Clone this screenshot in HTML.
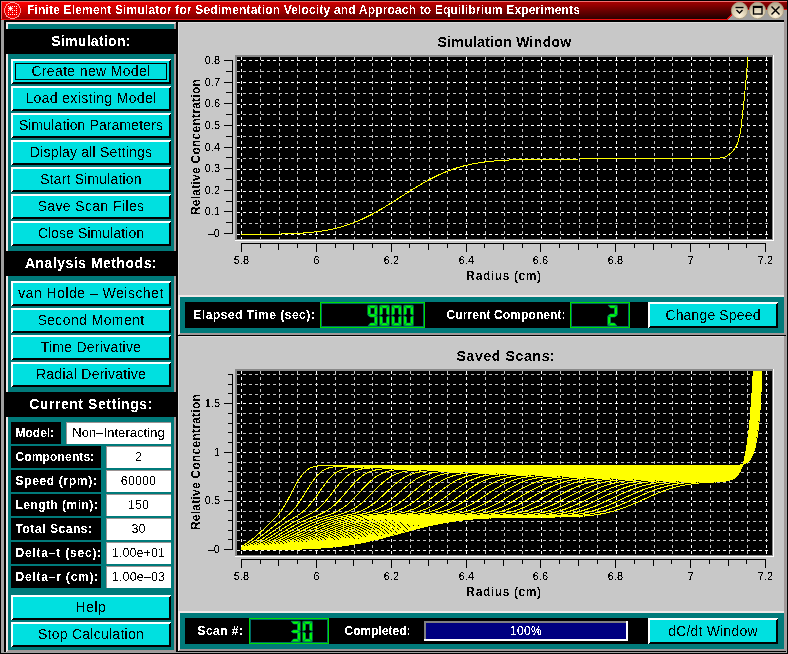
<!DOCTYPE html>
<html><head><meta charset="utf-8"><title>Finite Element Simulator</title>
<style>
html,body{margin:0;padding:0;width:788px;height:654px;overflow:hidden;background:#000;}
body{position:relative;font-family:"Liberation Sans",sans-serif;}
svg text{font-family:"Liberation Sans",sans-serif;}
</style></head><body>
<svg width="788" height="654" viewBox="0 0 788 654" shape-rendering="crispEdges" style="position:absolute;left:0;top:0;display:block"><rect x="0" y="0" width="788" height="654" fill="#000"/>
<rect x="1" y="20" width="3" height="633" fill="#a0a0a0"/>
<rect x="1" y="652" width="786" height="1" fill="#a0a0a0"/>
<rect x="786" y="20" width="1" height="633" fill="#a0a0a0"/>
<defs>
<linearGradient id="tv" x1="0" y1="0" x2="0" y2="1">
<stop offset="0" stop-color="#e80000"/><stop offset="1" stop-color="#a00000"/></linearGradient>
<linearGradient id="th" x1="0" y1="0" x2="1" y2="0">
<stop offset="0" stop-color="#000" stop-opacity="0"/><stop offset="1" stop-color="#000" stop-opacity="0.72"/></linearGradient>
<radialGradient id="btn" cx="0.5" cy="0.8" r="0.7">
<stop offset="0" stop-color="#fff4dc"/><stop offset="0.55" stop-color="#dcd0b4"/><stop offset="1" stop-color="#b8ac90"/></radialGradient>
</defs>
<linearGradient id="tg2" x1="0" y1="0" x2="1" y2="0"><stop offset="0" stop-color="rgb(255,0,0)"/><stop offset="1" stop-color="rgb(140,0,0)"/></linearGradient>
<rect x="1" y="2" width="786" height="1" fill="url(#tg2)"/>
<linearGradient id="tg3" x1="0" y1="0" x2="1" y2="0"><stop offset="0" stop-color="rgb(249,0,0)"/><stop offset="1" stop-color="rgb(132,0,0)"/></linearGradient>
<rect x="1" y="3" width="786" height="1" fill="url(#tg3)"/>
<linearGradient id="tg4" x1="0" y1="0" x2="1" y2="0"><stop offset="0" stop-color="rgb(243,0,0)"/><stop offset="1" stop-color="rgb(125,0,0)"/></linearGradient>
<rect x="1" y="4" width="786" height="1" fill="url(#tg4)"/>
<linearGradient id="tg5" x1="0" y1="0" x2="1" y2="0"><stop offset="0" stop-color="rgb(237,0,0)"/><stop offset="1" stop-color="rgb(118,0,0)"/></linearGradient>
<rect x="1" y="5" width="786" height="1" fill="url(#tg5)"/>
<linearGradient id="tg6" x1="0" y1="0" x2="1" y2="0"><stop offset="0" stop-color="rgb(231,0,0)"/><stop offset="1" stop-color="rgb(110,0,0)"/></linearGradient>
<rect x="1" y="6" width="786" height="1" fill="url(#tg6)"/>
<linearGradient id="tg7" x1="0" y1="0" x2="1" y2="0"><stop offset="0" stop-color="rgb(225,0,0)"/><stop offset="1" stop-color="rgb(102,0,0)"/></linearGradient>
<rect x="1" y="7" width="786" height="1" fill="url(#tg7)"/>
<linearGradient id="tg8" x1="0" y1="0" x2="1" y2="0"><stop offset="0" stop-color="rgb(219,0,0)"/><stop offset="1" stop-color="rgb(95,0,0)"/></linearGradient>
<rect x="1" y="8" width="786" height="1" fill="url(#tg8)"/>
<linearGradient id="tg9" x1="0" y1="0" x2="1" y2="0"><stop offset="0" stop-color="rgb(213,0,0)"/><stop offset="1" stop-color="rgb(88,0,0)"/></linearGradient>
<rect x="1" y="9" width="786" height="1" fill="url(#tg9)"/>
<linearGradient id="tg10" x1="0" y1="0" x2="1" y2="0"><stop offset="0" stop-color="rgb(208,0,0)"/><stop offset="1" stop-color="rgb(80,0,0)"/></linearGradient>
<rect x="1" y="10" width="786" height="1" fill="url(#tg10)"/>
<linearGradient id="tg11" x1="0" y1="0" x2="1" y2="0"><stop offset="0" stop-color="rgb(202,0,0)"/><stop offset="1" stop-color="rgb(72,0,0)"/></linearGradient>
<rect x="1" y="11" width="786" height="1" fill="url(#tg11)"/>
<linearGradient id="tg12" x1="0" y1="0" x2="1" y2="0"><stop offset="0" stop-color="rgb(196,0,0)"/><stop offset="1" stop-color="rgb(65,0,0)"/></linearGradient>
<rect x="1" y="12" width="786" height="1" fill="url(#tg12)"/>
<linearGradient id="tg13" x1="0" y1="0" x2="1" y2="0"><stop offset="0" stop-color="rgb(190,0,0)"/><stop offset="1" stop-color="rgb(58,0,0)"/></linearGradient>
<rect x="1" y="13" width="786" height="1" fill="url(#tg13)"/>
<linearGradient id="tg14" x1="0" y1="0" x2="1" y2="0"><stop offset="0" stop-color="rgb(184,0,0)"/><stop offset="1" stop-color="rgb(50,0,0)"/></linearGradient>
<rect x="1" y="14" width="786" height="1" fill="url(#tg14)"/>
<linearGradient id="tg15" x1="0" y1="0" x2="1" y2="0"><stop offset="0" stop-color="rgb(178,0,0)"/><stop offset="1" stop-color="rgb(42,0,0)"/></linearGradient>
<rect x="1" y="15" width="786" height="1" fill="url(#tg15)"/>
<linearGradient id="tg16" x1="0" y1="0" x2="1" y2="0"><stop offset="0" stop-color="rgb(172,0,0)"/><stop offset="1" stop-color="rgb(35,0,0)"/></linearGradient>
<rect x="1" y="16" width="786" height="1" fill="url(#tg16)"/>
<linearGradient id="tg17" x1="0" y1="0" x2="1" y2="0"><stop offset="0" stop-color="rgb(166,0,0)"/><stop offset="1" stop-color="rgb(28,0,0)"/></linearGradient>
<rect x="1" y="17" width="786" height="1" fill="url(#tg17)"/>
<linearGradient id="tg18" x1="0" y1="0" x2="1" y2="0"><stop offset="0" stop-color="rgb(160,0,0)"/><stop offset="1" stop-color="rgb(20,0,0)"/></linearGradient>
<rect x="1" y="18" width="786" height="1" fill="url(#tg18)"/>
<rect x="1" y="1" width="786" height="1" fill="#f07070"/>
<rect x="1" y="1" width="1" height="19" fill="#f07070"/>
<polygon points="727,20 737,10 787,10 787,20" fill="#a0a0a0"/>
<rect x="1" y="19" width="726" height="1" fill="#f01010"/>
<line x1="727" y1="19.5" x2="737" y2="9.5" stroke="#e01010" stroke-width="1"/>
<rect x="737" y="9" width="50" height="1" fill="#e01010"/>
<rect x="4" y="20" width="780" height="2" fill="#000"/>
<rect x="784" y="20" width="2" height="2" fill="#a09898"/>
<circle cx="12.5" cy="10.5" r="8" fill="#f00000" stroke="#ff9a9a" stroke-width="1.1"/>
<rect x="12" y="14" width="1" height="1" fill="#fff"/>
<rect x="16" y="6" width="1" height="1" fill="#fff"/>
<rect x="8" y="14" width="1" height="1" fill="#fff"/>
<rect x="14" y="14" width="1" height="1" fill="#fff"/>
<rect x="16" y="12" width="1" height="1" fill="#fff"/>
<rect x="8" y="10" width="1" height="1" fill="#fff"/>
<rect x="12" y="10" width="1" height="1" fill="#fff"/>
<rect x="14" y="10" width="1" height="1" fill="#fff"/>
<rect x="16" y="8" width="1" height="1" fill="#fff"/>
<rect x="16" y="14" width="1" height="1" fill="#fff"/>
<rect x="8" y="6" width="1" height="1" fill="#fff"/>
<rect x="8" y="12" width="1" height="1" fill="#fff"/>
<rect x="12" y="6" width="1" height="1" fill="#fff"/>
<rect x="16" y="10" width="1" height="1" fill="#fff"/>
<rect x="14" y="6" width="1" height="1" fill="#fff"/>
<rect x="12" y="12" width="1" height="1" fill="#fff"/>
<rect x="10" y="14" width="1" height="1" fill="#fff"/>
<polygon points="10.5,5.8 11.6,7.4 13.2,8.5 11.6,9.6 10.5,11.2 9.4,9.6 7.8,8.5 9.4,7.4" fill="#fff" shape-rendering="auto"/>
<circle cx="739.5" cy="10.5" r="8.2" fill="url(#btn)" stroke="#a89c80" stroke-width="0.8" shape-rendering="auto"/>
<circle cx="757.5" cy="10.5" r="8.2" fill="url(#btn)" stroke="#a89c80" stroke-width="0.8" shape-rendering="auto"/>
<circle cx="775.5" cy="10.5" r="8.2" fill="url(#btn)" stroke="#a89c80" stroke-width="0.8" shape-rendering="auto"/>
<g stroke="#000" stroke-width="1.35" fill="none" shape-rendering="auto"><line x1="735.5" y1="7.5" x2="743.5" y2="7.5"/><polyline points="736.5,10 739.5,13 742.5,10"/><rect x="753.5" y="6.5" width="8.5" height="7.5"/><line x1="753.5" y1="7" x2="762" y2="7" stroke-width="2"/><line x1="771.5" y1="6.5" x2="779.5" y2="14.5"/><line x1="779.5" y1="6.5" x2="771.5" y2="14.5"/></g>
<rect x="6" y="22" width="170" height="630" fill="#a09898"/>
<polygon points="6,22 176,22 174,24 8,24 8,650 6,652" fill="#f0e8e8"/>
<rect x="8" y="24" width="166" height="626" fill="#007a7a"/>
<rect x="4" y="29" width="174" height="25" fill="#000"/>
<rect x="11" y="59" width="160" height="25" fill="#000"/>
<polygon points="11,59 171,59 169,61 13,61 13,82 11,84" fill="#fff"/>
<rect x="13" y="61" width="156" height="21" fill="#00e0e0"/>
<rect x="11" y="86" width="160" height="25" fill="#000"/>
<polygon points="11,86 171,86 169,88 13,88 13,109 11,111" fill="#fff"/>
<rect x="13" y="88" width="156" height="21" fill="#00e0e0"/>
<rect x="11" y="113" width="160" height="25" fill="#000"/>
<polygon points="11,113 171,113 169,115 13,115 13,136 11,138" fill="#fff"/>
<rect x="13" y="115" width="156" height="21" fill="#00e0e0"/>
<rect x="11" y="140" width="160" height="25" fill="#000"/>
<polygon points="11,140 171,140 169,142 13,142 13,163 11,165" fill="#fff"/>
<rect x="13" y="142" width="156" height="21" fill="#00e0e0"/>
<rect x="11" y="167" width="160" height="25" fill="#000"/>
<polygon points="11,167 171,167 169,169 13,169 13,190 11,192" fill="#fff"/>
<rect x="13" y="169" width="156" height="21" fill="#00e0e0"/>
<rect x="11" y="194" width="160" height="25" fill="#000"/>
<polygon points="11,194 171,194 169,196 13,196 13,217 11,219" fill="#fff"/>
<rect x="13" y="196" width="156" height="21" fill="#00e0e0"/>
<rect x="11" y="221" width="160" height="25" fill="#000"/>
<polygon points="11,221 171,221 169,223 13,223 13,244 11,246" fill="#fff"/>
<rect x="13" y="223" width="156" height="21" fill="#00e0e0"/>
<rect x="15.5" y="63.5" width="151" height="16" fill="none" stroke="#000" stroke-width="1"/>
<rect x="4" y="251" width="174" height="25" fill="#000"/>
<rect x="11" y="281" width="160" height="25" fill="#000"/>
<polygon points="11,281 171,281 169,283 13,283 13,304 11,306" fill="#fff"/>
<rect x="13" y="283" width="156" height="21" fill="#00e0e0"/>
<rect x="11" y="308" width="160" height="25" fill="#000"/>
<polygon points="11,308 171,308 169,310 13,310 13,331 11,333" fill="#fff"/>
<rect x="13" y="310" width="156" height="21" fill="#00e0e0"/>
<rect x="11" y="335" width="160" height="25" fill="#000"/>
<polygon points="11,335 171,335 169,337 13,337 13,358 11,360" fill="#fff"/>
<rect x="13" y="337" width="156" height="21" fill="#00e0e0"/>
<rect x="11" y="362" width="160" height="25" fill="#000"/>
<polygon points="11,362 171,362 169,364 13,364 13,385 11,387" fill="#fff"/>
<rect x="13" y="364" width="156" height="21" fill="#00e0e0"/>
<rect x="4" y="392" width="174" height="25" fill="#000"/>
<rect x="11" y="422" width="50" height="22" fill="#000"/>
<rect x="66" y="422" width="105" height="22" fill="#9c9494"/>
<rect x="67" y="423" width="104" height="21" fill="#fff"/>
<rect x="11" y="446" width="90" height="22" fill="#000"/>
<rect x="106" y="446" width="65" height="22" fill="#9c9494"/>
<rect x="107" y="447" width="64" height="21" fill="#fff"/>
<rect x="11" y="470" width="90" height="22" fill="#000"/>
<rect x="106" y="470" width="65" height="22" fill="#9c9494"/>
<rect x="107" y="471" width="64" height="21" fill="#fff"/>
<rect x="11" y="494" width="90" height="22" fill="#000"/>
<rect x="106" y="494" width="65" height="22" fill="#9c9494"/>
<rect x="107" y="495" width="64" height="21" fill="#fff"/>
<rect x="11" y="518" width="90" height="22" fill="#000"/>
<rect x="106" y="518" width="65" height="22" fill="#9c9494"/>
<rect x="107" y="519" width="64" height="21" fill="#fff"/>
<rect x="11" y="542" width="90" height="22" fill="#000"/>
<rect x="106" y="542" width="65" height="22" fill="#9c9494"/>
<rect x="107" y="543" width="64" height="21" fill="#fff"/>
<rect x="11" y="566" width="90" height="22" fill="#000"/>
<rect x="106" y="566" width="65" height="22" fill="#9c9494"/>
<rect x="107" y="567" width="64" height="21" fill="#fff"/>
<rect x="11" y="595" width="160" height="25" fill="#000"/>
<polygon points="11,595 171,595 169,597 13,597 13,618 11,620" fill="#fff"/>
<rect x="13" y="597" width="156" height="21" fill="#00e0e0"/>
<rect x="11" y="622" width="160" height="25" fill="#000"/>
<polygon points="11,622 171,622 169,624 13,624 13,645 11,647" fill="#fff"/>
<rect x="13" y="624" width="156" height="21" fill="#00e0e0"/>
<rect x="178" y="22" width="608" height="273" fill="#a09898"/>
<rect x="178" y="22" width="606" height="273" fill="#dcdcdc"/>
<rect x="179" y="23" width="605" height="272" fill="#c8c8c8"/>
<rect x="178" y="336" width="608" height="275" fill="#a09898"/>
<rect x="178" y="336" width="606" height="275" fill="#dcdcdc"/>
<rect x="179" y="337" width="605" height="274" fill="#c8c8c8"/>
<rect x="178" y="295" width="608" height="40" fill="#a09898"/>
<polygon points="178,295 786,295 784,297 180,297 180,333 178,335" fill="#f0e8e8"/>
<rect x="180" y="297" width="604" height="36" fill="#007a7a"/>
<rect x="185" y="302" width="463" height="26" fill="#000"/>
<rect x="784" y="295" width="2" height="40" fill="#a09898"/>
<rect x="786" y="295" width="1" height="40" fill="#a0a0a0"/>
<rect x="178" y="611" width="608" height="40" fill="#a09898"/>
<polygon points="178,611 786,611 784,613 180,613 180,649 178,651" fill="#f0e8e8"/>
<rect x="180" y="613" width="604" height="36" fill="#007a7a"/>
<rect x="185" y="618" width="463" height="26" fill="#000"/>
<rect x="784" y="611" width="2" height="40" fill="#a09898"/>
<rect x="786" y="611" width="1" height="40" fill="#a0a0a0"/>
<rect x="178" y="335" width="608" height="1" fill="#000"/>
<rect x="178" y="651" width="608" height="1" fill="#000"/>
<rect x="320.5" y="302.5" width="104" height="25" fill="#000" stroke="#00e000" stroke-width="1"/>
<rect x="321.5" y="303.5" width="102" height="23" fill="none" stroke="#006868" stroke-width="1"/>
<g fill="#00ff00" stroke="#008080" stroke-width="0.6" shape-rendering="auto"><polygon points="368.10,305.25 376.90,305.25 374.50,308.00 370.50,308.00"/><polygon points="377.25,305.60 374.50,308.00 374.50,314.00 377.25,315.10"/><polygon points="377.25,325.40 374.50,323.00 374.50,317.00 377.25,315.90"/><polygon points="368.10,325.75 376.90,325.75 374.50,323.00 370.50,323.00"/><polygon points="367.75,305.60 370.50,308.00 370.50,314.00 367.75,315.10"/><polygon points="368.00,315.50 370.50,314.00 374.50,314.00 377.00,315.50 374.50,317.00 370.50,317.00"/><polygon points="380.10,305.25 388.90,305.25 386.50,308.00 382.50,308.00"/><polygon points="389.25,305.60 386.50,308.00 386.50,314.00 389.25,315.10"/><polygon points="389.25,325.40 386.50,323.00 386.50,317.00 389.25,315.90"/><polygon points="380.10,325.75 388.90,325.75 386.50,323.00 382.50,323.00"/><polygon points="379.75,325.40 382.50,323.00 382.50,317.00 379.75,315.90"/><polygon points="379.75,305.60 382.50,308.00 382.50,314.00 379.75,315.10"/><polygon points="392.10,305.25 400.90,305.25 398.50,308.00 394.50,308.00"/><polygon points="401.25,305.60 398.50,308.00 398.50,314.00 401.25,315.10"/><polygon points="401.25,325.40 398.50,323.00 398.50,317.00 401.25,315.90"/><polygon points="392.10,325.75 400.90,325.75 398.50,323.00 394.50,323.00"/><polygon points="391.75,325.40 394.50,323.00 394.50,317.00 391.75,315.90"/><polygon points="391.75,305.60 394.50,308.00 394.50,314.00 391.75,315.10"/><polygon points="404.10,305.25 412.90,305.25 410.50,308.00 406.50,308.00"/><polygon points="413.25,305.60 410.50,308.00 410.50,314.00 413.25,315.10"/><polygon points="413.25,325.40 410.50,323.00 410.50,317.00 413.25,315.90"/><polygon points="404.10,325.75 412.90,325.75 410.50,323.00 406.50,323.00"/><polygon points="403.75,325.40 406.50,323.00 406.50,317.00 403.75,315.90"/><polygon points="403.75,305.60 406.50,308.00 406.50,314.00 403.75,315.10"/></g>
<rect x="570.5" y="302.5" width="59" height="25" fill="#000" stroke="#00e000" stroke-width="1"/>
<rect x="571.5" y="303.5" width="57" height="23" fill="none" stroke="#006868" stroke-width="1"/>
<g fill="#00ff00" stroke="#008080" stroke-width="0.6" shape-rendering="auto"><polygon points="608.10,305.25 616.90,305.25 614.50,308.00 610.50,308.00"/><polygon points="617.25,305.60 614.50,308.00 614.50,314.00 617.25,315.10"/><polygon points="608.00,315.50 610.50,314.00 614.50,314.00 617.00,315.50 614.50,317.00 610.50,317.00"/><polygon points="607.75,325.40 610.50,323.00 610.50,317.00 607.75,315.90"/><polygon points="608.10,325.75 616.90,325.75 614.50,323.00 610.50,323.00"/></g>
<rect x="648" y="302" width="130" height="26" fill="#000"/>
<polygon points="648,302 778,302 776,304 650,304 650,326 648,328" fill="#fff"/>
<rect x="650" y="304" width="126" height="22" fill="#00e0e0"/>
<rect x="249.5" y="618.5" width="79" height="25" fill="#000" stroke="#00e000" stroke-width="1"/>
<rect x="250.5" y="619.5" width="77" height="23" fill="none" stroke="#006868" stroke-width="1"/>
<g fill="#00ff00" stroke="#008080" stroke-width="0.6" shape-rendering="auto"><polygon points="291.10,621.25 299.90,621.25 297.50,624.00 293.50,624.00"/><polygon points="300.25,621.60 297.50,624.00 297.50,630.00 300.25,631.10"/><polygon points="291.00,631.50 293.50,630.00 297.50,630.00 300.00,631.50 297.50,633.00 293.50,633.00"/><polygon points="300.25,641.40 297.50,639.00 297.50,633.00 300.25,631.90"/><polygon points="291.10,641.75 299.90,641.75 297.50,639.00 293.50,639.00"/><polygon points="303.10,621.25 311.90,621.25 309.50,624.00 305.50,624.00"/><polygon points="312.25,621.60 309.50,624.00 309.50,630.00 312.25,631.10"/><polygon points="312.25,641.40 309.50,639.00 309.50,633.00 312.25,631.90"/><polygon points="303.10,641.75 311.90,641.75 309.50,639.00 305.50,639.00"/><polygon points="302.75,641.40 305.50,639.00 305.50,633.00 302.75,631.90"/><polygon points="302.75,621.60 305.50,624.00 305.50,630.00 302.75,631.10"/></g>
<rect x="424" y="621" width="204" height="20" fill="#fff"/>
<rect x="424" y="621" width="202" height="18" fill="#808080"/>
<rect x="426" y="623" width="200" height="16" fill="#000080"/>
<rect x="648" y="618" width="130" height="26" fill="#000"/>
<polygon points="648,618 778,618 776,620 650,620 650,642 648,644" fill="#fff"/>
<rect x="650" y="620" width="126" height="22" fill="#00e0e0"/>
<rect x="235" y="55" width="539" height="186" fill="#fff"/>
<rect x="235" y="55" width="538" height="185" fill="#888"/>
<rect x="237" y="57" width="535" height="182" fill="#000"/>
<g shape-rendering="crispEdges"><line x1="241.5" y1="57" x2="241.5" y2="239" stroke="#fff" stroke-dasharray="3 3"/><line x1="260.5" y1="57" x2="260.5" y2="239" stroke="#c0c0c0" stroke-dasharray="3 3"/><line x1="279.5" y1="57" x2="279.5" y2="239" stroke="#c0c0c0" stroke-dasharray="3 3"/><line x1="297.5" y1="57" x2="297.5" y2="239" stroke="#c0c0c0" stroke-dasharray="3 3"/><line x1="316.5" y1="57" x2="316.5" y2="239" stroke="#fff" stroke-dasharray="3 3"/><line x1="335.5" y1="57" x2="335.5" y2="239" stroke="#c0c0c0" stroke-dasharray="3 3"/><line x1="354.5" y1="57" x2="354.5" y2="239" stroke="#c0c0c0" stroke-dasharray="3 3"/><line x1="372.5" y1="57" x2="372.5" y2="239" stroke="#c0c0c0" stroke-dasharray="3 3"/><line x1="391.5" y1="57" x2="391.5" y2="239" stroke="#fff" stroke-dasharray="3 3"/><line x1="410.5" y1="57" x2="410.5" y2="239" stroke="#c0c0c0" stroke-dasharray="3 3"/><line x1="429.5" y1="57" x2="429.5" y2="239" stroke="#c0c0c0" stroke-dasharray="3 3"/><line x1="447.5" y1="57" x2="447.5" y2="239" stroke="#c0c0c0" stroke-dasharray="3 3"/><line x1="466.5" y1="57" x2="466.5" y2="239" stroke="#fff" stroke-dasharray="3 3"/><line x1="485.5" y1="57" x2="485.5" y2="239" stroke="#c0c0c0" stroke-dasharray="3 3"/><line x1="504.5" y1="57" x2="504.5" y2="239" stroke="#c0c0c0" stroke-dasharray="3 3"/><line x1="522.5" y1="57" x2="522.5" y2="239" stroke="#c0c0c0" stroke-dasharray="3 3"/><line x1="541.5" y1="57" x2="541.5" y2="239" stroke="#fff" stroke-dasharray="3 3"/><line x1="560.5" y1="57" x2="560.5" y2="239" stroke="#c0c0c0" stroke-dasharray="3 3"/><line x1="579.5" y1="57" x2="579.5" y2="239" stroke="#c0c0c0" stroke-dasharray="3 3"/><line x1="597.5" y1="57" x2="597.5" y2="239" stroke="#c0c0c0" stroke-dasharray="3 3"/><line x1="616.5" y1="57" x2="616.5" y2="239" stroke="#fff" stroke-dasharray="3 3"/><line x1="635.5" y1="57" x2="635.5" y2="239" stroke="#c0c0c0" stroke-dasharray="3 3"/><line x1="654.5" y1="57" x2="654.5" y2="239" stroke="#c0c0c0" stroke-dasharray="3 3"/><line x1="672.5" y1="57" x2="672.5" y2="239" stroke="#c0c0c0" stroke-dasharray="3 3"/><line x1="691.5" y1="57" x2="691.5" y2="239" stroke="#fff" stroke-dasharray="3 3"/><line x1="710.5" y1="57" x2="710.5" y2="239" stroke="#c0c0c0" stroke-dasharray="3 3"/><line x1="729.5" y1="57" x2="729.5" y2="239" stroke="#c0c0c0" stroke-dasharray="3 3"/><line x1="747.5" y1="57" x2="747.5" y2="239" stroke="#c0c0c0" stroke-dasharray="3 3"/><line x1="766.5" y1="57" x2="766.5" y2="239" stroke="#fff" stroke-dasharray="3 3"/><line x1="237" y1="60.5" x2="770" y2="60.5" stroke="#fff" stroke-dasharray="3 3"/><line x1="237" y1="71.5" x2="770" y2="71.5" stroke="#c0c0c0" stroke-dasharray="3 3"/><line x1="237" y1="82.5" x2="770" y2="82.5" stroke="#fff" stroke-dasharray="3 3"/><line x1="237" y1="93.5" x2="770" y2="93.5" stroke="#c0c0c0" stroke-dasharray="3 3"/><line x1="237" y1="104.5" x2="770" y2="104.5" stroke="#fff" stroke-dasharray="3 3"/><line x1="237" y1="114.5" x2="770" y2="114.5" stroke="#c0c0c0" stroke-dasharray="3 3"/><line x1="237" y1="125.5" x2="770" y2="125.5" stroke="#fff" stroke-dasharray="3 3"/><line x1="237" y1="136.5" x2="770" y2="136.5" stroke="#c0c0c0" stroke-dasharray="3 3"/><line x1="237" y1="147.5" x2="770" y2="147.5" stroke="#fff" stroke-dasharray="3 3"/><line x1="237" y1="158.5" x2="770" y2="158.5" stroke="#c0c0c0" stroke-dasharray="3 3"/><line x1="237" y1="169.5" x2="770" y2="169.5" stroke="#fff" stroke-dasharray="3 3"/><line x1="237" y1="180.5" x2="770" y2="180.5" stroke="#c0c0c0" stroke-dasharray="3 3"/><line x1="237" y1="191.5" x2="770" y2="191.5" stroke="#fff" stroke-dasharray="3 3"/><line x1="237" y1="201.5" x2="770" y2="201.5" stroke="#c0c0c0" stroke-dasharray="3 3"/><line x1="237" y1="212.5" x2="770" y2="212.5" stroke="#fff" stroke-dasharray="3 3"/><line x1="237" y1="223.5" x2="770" y2="223.5" stroke="#c0c0c0" stroke-dasharray="3 3"/><line x1="237" y1="234.5" x2="770" y2="234.5" stroke="#fff" stroke-dasharray="3 3"/></g>
<rect x="232" y="60" width="1" height="174" fill="#000"/>
<rect x="224" y="60" width="9" height="1" fill="#000"/>
<rect x="224" y="82" width="9" height="1" fill="#000"/>
<rect x="224" y="103" width="9" height="1" fill="#000"/>
<rect x="224" y="125" width="9" height="1" fill="#000"/>
<rect x="224" y="147" width="9" height="1" fill="#000"/>
<rect x="224" y="168" width="9" height="1" fill="#000"/>
<rect x="224" y="190" width="9" height="1" fill="#000"/>
<rect x="224" y="211" width="9" height="1" fill="#000"/>
<rect x="224" y="233" width="9" height="1" fill="#000"/>
<rect x="226" y="71" width="7" height="1" fill="#000"/>
<rect x="226" y="92" width="7" height="1" fill="#000"/>
<rect x="226" y="114" width="7" height="1" fill="#000"/>
<rect x="226" y="136" width="7" height="1" fill="#000"/>
<rect x="226" y="157" width="7" height="1" fill="#000"/>
<rect x="226" y="179" width="7" height="1" fill="#000"/>
<rect x="226" y="201" width="7" height="1" fill="#000"/>
<rect x="226" y="222" width="7" height="1" fill="#000"/>
<rect x="241" y="243" width="525" height="1" fill="#000"/>
<rect x="241" y="243" width="1" height="9" fill="#000"/>
<rect x="260" y="243" width="1" height="5" fill="#000"/>
<rect x="278" y="243" width="1" height="7" fill="#000"/>
<rect x="297" y="243" width="1" height="5" fill="#000"/>
<rect x="316" y="243" width="1" height="9" fill="#000"/>
<rect x="335" y="243" width="1" height="5" fill="#000"/>
<rect x="353" y="243" width="1" height="7" fill="#000"/>
<rect x="372" y="243" width="1" height="5" fill="#000"/>
<rect x="391" y="243" width="1" height="9" fill="#000"/>
<rect x="409" y="243" width="1" height="5" fill="#000"/>
<rect x="428" y="243" width="1" height="7" fill="#000"/>
<rect x="447" y="243" width="1" height="5" fill="#000"/>
<rect x="466" y="243" width="1" height="9" fill="#000"/>
<rect x="484" y="243" width="1" height="5" fill="#000"/>
<rect x="503" y="243" width="1" height="7" fill="#000"/>
<rect x="522" y="243" width="1" height="5" fill="#000"/>
<rect x="540" y="243" width="1" height="9" fill="#000"/>
<rect x="559" y="243" width="1" height="5" fill="#000"/>
<rect x="578" y="243" width="1" height="7" fill="#000"/>
<rect x="597" y="243" width="1" height="5" fill="#000"/>
<rect x="615" y="243" width="1" height="9" fill="#000"/>
<rect x="634" y="243" width="1" height="5" fill="#000"/>
<rect x="653" y="243" width="1" height="7" fill="#000"/>
<rect x="671" y="243" width="1" height="5" fill="#000"/>
<rect x="690" y="243" width="1" height="9" fill="#000"/>
<rect x="709" y="243" width="1" height="5" fill="#000"/>
<rect x="728" y="243" width="1" height="7" fill="#000"/>
<rect x="746" y="243" width="1" height="5" fill="#000"/>
<rect x="765" y="243" width="1" height="9" fill="#000"/>
<rect x="235" y="369" width="539" height="188" fill="#fff"/>
<rect x="235" y="369" width="538" height="187" fill="#888"/>
<rect x="237" y="371" width="535" height="184" fill="#000"/>
<g shape-rendering="crispEdges"><line x1="241.5" y1="371" x2="241.5" y2="555" stroke="#fff" stroke-dasharray="3 3"/><line x1="260.5" y1="371" x2="260.5" y2="555" stroke="#c0c0c0" stroke-dasharray="3 3"/><line x1="279.5" y1="371" x2="279.5" y2="555" stroke="#c0c0c0" stroke-dasharray="3 3"/><line x1="297.5" y1="371" x2="297.5" y2="555" stroke="#c0c0c0" stroke-dasharray="3 3"/><line x1="316.5" y1="371" x2="316.5" y2="555" stroke="#fff" stroke-dasharray="3 3"/><line x1="335.5" y1="371" x2="335.5" y2="555" stroke="#c0c0c0" stroke-dasharray="3 3"/><line x1="354.5" y1="371" x2="354.5" y2="555" stroke="#c0c0c0" stroke-dasharray="3 3"/><line x1="372.5" y1="371" x2="372.5" y2="555" stroke="#c0c0c0" stroke-dasharray="3 3"/><line x1="391.5" y1="371" x2="391.5" y2="555" stroke="#fff" stroke-dasharray="3 3"/><line x1="410.5" y1="371" x2="410.5" y2="555" stroke="#c0c0c0" stroke-dasharray="3 3"/><line x1="429.5" y1="371" x2="429.5" y2="555" stroke="#c0c0c0" stroke-dasharray="3 3"/><line x1="447.5" y1="371" x2="447.5" y2="555" stroke="#c0c0c0" stroke-dasharray="3 3"/><line x1="466.5" y1="371" x2="466.5" y2="555" stroke="#fff" stroke-dasharray="3 3"/><line x1="485.5" y1="371" x2="485.5" y2="555" stroke="#c0c0c0" stroke-dasharray="3 3"/><line x1="504.5" y1="371" x2="504.5" y2="555" stroke="#c0c0c0" stroke-dasharray="3 3"/><line x1="522.5" y1="371" x2="522.5" y2="555" stroke="#c0c0c0" stroke-dasharray="3 3"/><line x1="541.5" y1="371" x2="541.5" y2="555" stroke="#fff" stroke-dasharray="3 3"/><line x1="560.5" y1="371" x2="560.5" y2="555" stroke="#c0c0c0" stroke-dasharray="3 3"/><line x1="579.5" y1="371" x2="579.5" y2="555" stroke="#c0c0c0" stroke-dasharray="3 3"/><line x1="597.5" y1="371" x2="597.5" y2="555" stroke="#c0c0c0" stroke-dasharray="3 3"/><line x1="616.5" y1="371" x2="616.5" y2="555" stroke="#fff" stroke-dasharray="3 3"/><line x1="635.5" y1="371" x2="635.5" y2="555" stroke="#c0c0c0" stroke-dasharray="3 3"/><line x1="654.5" y1="371" x2="654.5" y2="555" stroke="#c0c0c0" stroke-dasharray="3 3"/><line x1="672.5" y1="371" x2="672.5" y2="555" stroke="#c0c0c0" stroke-dasharray="3 3"/><line x1="691.5" y1="371" x2="691.5" y2="555" stroke="#fff" stroke-dasharray="3 3"/><line x1="710.5" y1="371" x2="710.5" y2="555" stroke="#c0c0c0" stroke-dasharray="3 3"/><line x1="729.5" y1="371" x2="729.5" y2="555" stroke="#c0c0c0" stroke-dasharray="3 3"/><line x1="747.5" y1="371" x2="747.5" y2="555" stroke="#c0c0c0" stroke-dasharray="3 3"/><line x1="766.5" y1="371" x2="766.5" y2="555" stroke="#fff" stroke-dasharray="3 3"/><line x1="237" y1="550.5" x2="770" y2="550.5" stroke="#fff" stroke-dasharray="3 3"/><line x1="237" y1="540.5" x2="770" y2="540.5" stroke="#c0c0c0" stroke-dasharray="3 3"/><line x1="237" y1="530.5" x2="770" y2="530.5" stroke="#c0c0c0" stroke-dasharray="3 3"/><line x1="237" y1="521.5" x2="770" y2="521.5" stroke="#c0c0c0" stroke-dasharray="3 3"/><line x1="237" y1="511.5" x2="770" y2="511.5" stroke="#c0c0c0" stroke-dasharray="3 3"/><line x1="237" y1="501.5" x2="770" y2="501.5" stroke="#fff" stroke-dasharray="3 3"/><line x1="237" y1="491.5" x2="770" y2="491.5" stroke="#c0c0c0" stroke-dasharray="3 3"/><line x1="237" y1="482.5" x2="770" y2="482.5" stroke="#c0c0c0" stroke-dasharray="3 3"/><line x1="237" y1="472.5" x2="770" y2="472.5" stroke="#c0c0c0" stroke-dasharray="3 3"/><line x1="237" y1="462.5" x2="770" y2="462.5" stroke="#c0c0c0" stroke-dasharray="3 3"/><line x1="237" y1="452.5" x2="770" y2="452.5" stroke="#fff" stroke-dasharray="3 3"/><line x1="237" y1="442.5" x2="770" y2="442.5" stroke="#c0c0c0" stroke-dasharray="3 3"/><line x1="237" y1="433.5" x2="770" y2="433.5" stroke="#c0c0c0" stroke-dasharray="3 3"/><line x1="237" y1="423.5" x2="770" y2="423.5" stroke="#c0c0c0" stroke-dasharray="3 3"/><line x1="237" y1="413.5" x2="770" y2="413.5" stroke="#c0c0c0" stroke-dasharray="3 3"/><line x1="237" y1="403.5" x2="770" y2="403.5" stroke="#fff" stroke-dasharray="3 3"/><line x1="237" y1="394.5" x2="770" y2="394.5" stroke="#c0c0c0" stroke-dasharray="3 3"/><line x1="237" y1="384.5" x2="770" y2="384.5" stroke="#c0c0c0" stroke-dasharray="3 3"/><line x1="237" y1="374.5" x2="770" y2="374.5" stroke="#c0c0c0" stroke-dasharray="3 3"/></g>
<rect x="232" y="374" width="1" height="176" fill="#000"/>
<rect x="224" y="549" width="9" height="1" fill="#000"/>
<rect x="224" y="500" width="9" height="1" fill="#000"/>
<rect x="224" y="452" width="9" height="1" fill="#000"/>
<rect x="224" y="403" width="9" height="1" fill="#000"/>
<rect x="228" y="539" width="5" height="1" fill="#000"/>
<rect x="228" y="530" width="5" height="1" fill="#000"/>
<rect x="228" y="520" width="5" height="1" fill="#000"/>
<rect x="228" y="510" width="5" height="1" fill="#000"/>
<rect x="228" y="491" width="5" height="1" fill="#000"/>
<rect x="228" y="481" width="5" height="1" fill="#000"/>
<rect x="228" y="471" width="5" height="1" fill="#000"/>
<rect x="228" y="462" width="5" height="1" fill="#000"/>
<rect x="228" y="442" width="5" height="1" fill="#000"/>
<rect x="228" y="432" width="5" height="1" fill="#000"/>
<rect x="228" y="423" width="5" height="1" fill="#000"/>
<rect x="228" y="413" width="5" height="1" fill="#000"/>
<rect x="228" y="393" width="5" height="1" fill="#000"/>
<rect x="228" y="384" width="5" height="1" fill="#000"/>
<rect x="228" y="374" width="5" height="1" fill="#000"/>
<rect x="241" y="559" width="525" height="1" fill="#000"/>
<rect x="241" y="559" width="1" height="9" fill="#000"/>
<rect x="260" y="559" width="1" height="5" fill="#000"/>
<rect x="278" y="559" width="1" height="7" fill="#000"/>
<rect x="297" y="559" width="1" height="5" fill="#000"/>
<rect x="316" y="559" width="1" height="9" fill="#000"/>
<rect x="335" y="559" width="1" height="5" fill="#000"/>
<rect x="353" y="559" width="1" height="7" fill="#000"/>
<rect x="372" y="559" width="1" height="5" fill="#000"/>
<rect x="391" y="559" width="1" height="9" fill="#000"/>
<rect x="409" y="559" width="1" height="5" fill="#000"/>
<rect x="428" y="559" width="1" height="7" fill="#000"/>
<rect x="447" y="559" width="1" height="5" fill="#000"/>
<rect x="466" y="559" width="1" height="9" fill="#000"/>
<rect x="484" y="559" width="1" height="5" fill="#000"/>
<rect x="503" y="559" width="1" height="7" fill="#000"/>
<rect x="522" y="559" width="1" height="5" fill="#000"/>
<rect x="540" y="559" width="1" height="9" fill="#000"/>
<rect x="559" y="559" width="1" height="5" fill="#000"/>
<rect x="578" y="559" width="1" height="7" fill="#000"/>
<rect x="597" y="559" width="1" height="5" fill="#000"/>
<rect x="615" y="559" width="1" height="9" fill="#000"/>
<rect x="634" y="559" width="1" height="5" fill="#000"/>
<rect x="653" y="559" width="1" height="7" fill="#000"/>
<rect x="671" y="559" width="1" height="5" fill="#000"/>
<rect x="690" y="559" width="1" height="9" fill="#000"/>
<rect x="709" y="559" width="1" height="5" fill="#000"/>
<rect x="728" y="559" width="1" height="7" fill="#000"/>
<rect x="746" y="559" width="1" height="5" fill="#000"/>
<rect x="765" y="559" width="1" height="9" fill="#000"/>
<clipPath id="c1"><rect x="237" y="57" width="535" height="182"/></clipPath>
<clipPath id="c2"><rect x="237" y="371" width="535" height="184"/></clipPath>
<polyline clip-path="url(#c1)" points="241.50,234.38 242.50,234.37 243.50,234.37 244.50,234.37 245.50,234.37 246.50,234.36 247.50,234.36 248.50,234.36 249.50,234.36 250.50,234.35 251.50,234.35 252.50,234.34 253.50,234.34 254.50,234.34 255.50,234.33 256.50,234.33 257.50,234.32 258.50,234.31 259.50,234.31 260.50,234.30 261.50,234.29 262.50,234.29 263.50,234.28 264.50,234.27 265.50,234.26 266.50,234.25 267.50,234.24 268.50,234.23 269.50,234.22 270.50,234.20 271.50,234.19 272.50,234.18 273.50,234.16 274.50,234.15 275.50,234.13 276.50,234.11 277.50,234.09 278.50,234.07 279.50,234.05 280.50,234.03 281.50,234.00 282.50,233.98 283.50,233.95 284.50,233.92 285.50,233.90 286.50,233.86 287.50,233.83 288.50,233.80 289.50,233.76 290.50,233.72 291.50,233.68 292.50,233.64 293.50,233.60 294.50,233.55 295.50,233.50 296.50,233.45 297.50,233.39 298.50,233.34 299.50,233.28 300.50,233.22 301.50,233.15 302.50,233.08 303.50,233.01 304.50,232.94 305.50,232.86 306.50,232.78 307.50,232.69 308.50,232.61 309.50,232.51 310.50,232.42 311.50,232.32 312.50,232.21 313.50,232.10 314.50,231.99 315.50,231.87 316.50,231.75 317.50,231.62 318.50,231.49 319.50,231.35 320.50,231.21 321.50,231.06 322.50,230.90 323.50,230.74 324.50,230.58 325.50,230.41 326.50,230.23 327.50,230.05 328.50,229.86 329.50,229.66 330.50,229.46 331.50,229.25 332.50,229.03 333.50,228.81 334.50,228.58 335.50,228.34 336.50,228.10 337.50,227.84 338.50,227.59 339.50,227.32 340.50,227.04 341.50,226.76 342.50,226.47 343.50,226.18 344.50,225.87 345.50,225.56 346.50,225.23 347.50,224.90 348.50,224.57 349.50,224.22 350.50,223.87 351.50,223.50 352.50,223.13 353.50,222.75 354.50,222.36 355.50,221.97 356.50,221.56 357.50,221.15 358.50,220.73 359.50,220.30 360.50,219.86 361.50,219.42 362.50,218.96 363.50,218.50 364.50,218.03 365.50,217.55 366.50,217.07 367.50,216.57 368.50,216.07 369.50,215.56 370.50,215.05 371.50,214.52 372.50,213.99 373.50,213.46 374.50,212.91 375.50,212.36 376.50,211.80 377.50,211.24 378.50,210.67 379.50,210.09 380.50,209.51 381.50,208.93 382.50,208.33 383.50,207.74 384.50,207.14 385.50,206.53 386.50,205.92 387.50,205.30 388.50,204.69 389.50,204.06 390.50,203.44 391.50,202.81 392.50,202.18 393.50,201.55 394.50,200.91 395.50,200.27 396.50,199.64 397.50,199.00 398.50,198.35 399.50,197.71 400.50,197.07 401.50,196.43 402.50,195.79 403.50,195.14 404.50,194.50 405.50,193.86 406.50,193.23 407.50,192.59 408.50,191.95 409.50,191.32 410.50,190.69 411.50,190.06 412.50,189.44 413.50,188.82 414.50,188.20 415.50,187.59 416.50,186.98 417.50,186.37 418.50,185.77 419.50,185.18 420.50,184.59 421.50,184.00 422.50,183.42 423.50,182.85 424.50,182.28 425.50,181.72 426.50,181.16 427.50,180.61 428.50,180.07 429.50,179.53 430.50,179.01 431.50,178.48 432.50,177.97 433.50,177.46 434.50,176.96 435.50,176.47 436.50,175.99 437.50,175.51 438.50,175.04 439.50,174.58 440.50,174.13 441.50,173.69 442.50,173.25 443.50,172.83 444.50,172.41 445.50,172.00 446.50,171.59 447.50,171.20 448.50,170.81 449.50,170.44 450.50,170.07 451.50,169.71 452.50,169.35 453.50,169.01 454.50,168.67 455.50,168.34 456.50,168.03 457.50,167.71 458.50,167.41 459.50,167.11 460.50,166.83 461.50,166.55 462.50,166.27 463.50,166.01 464.50,165.75 465.50,165.50 466.50,165.26 467.50,165.02 468.50,164.80 469.50,164.57 470.50,164.36 471.50,164.15 472.50,163.95 473.50,163.76 474.50,163.57 475.50,163.39 476.50,163.21 477.50,163.04 478.50,162.88 479.50,162.72 480.50,162.57 481.50,162.42 482.50,162.28 483.50,162.14 484.50,162.01 485.50,161.88 486.50,161.76 487.50,161.64 488.50,161.53 489.50,161.42 490.50,161.32 491.50,161.22 492.50,161.12 493.50,161.03 494.50,160.94 495.50,160.86 496.50,160.78 497.50,160.70 498.50,160.63 499.50,160.56 500.50,160.49 501.50,160.43 502.50,160.37 503.50,160.31 504.50,160.25 505.50,160.19 506.50,160.14 507.50,160.09 508.50,160.04 509.50,159.99 510.50,159.94 511.50,159.90 512.50,159.86 513.50,159.82 514.50,159.78 515.50,159.75 516.50,159.71 517.50,159.68 518.50,159.65 519.50,159.62 520.50,159.59 521.50,159.56 522.50,159.54 523.50,159.51 524.50,159.49 525.50,159.47 526.50,159.45 527.50,159.43 528.50,159.41 529.50,159.39 530.50,159.37 531.50,159.36 532.50,159.34 533.50,159.32 534.50,159.31 535.50,159.30 536.50,159.28 537.50,159.27 538.50,159.26 539.50,159.25 540.50,159.24 541.50,159.22 542.50,159.21 543.50,159.20 544.50,159.20 545.50,159.19 546.50,159.18 547.50,159.17 548.50,159.16 549.50,159.15 550.50,159.15 551.50,159.14 552.50,159.13 553.50,159.13 554.50,159.12 555.50,159.11 556.50,159.11 557.50,159.10 558.50,159.09 559.50,159.09 560.50,159.08 561.50,159.08 562.50,159.07 563.50,159.07 564.50,159.06 565.50,159.06 566.50,159.05 567.50,159.05 568.50,159.04 569.50,159.04 570.50,159.04 571.50,159.03 572.50,159.03 573.50,159.02 574.50,159.02 575.50,159.01 576.50,159.01 577.50,159.01 578.50,159.00 579.50,159.00 580.50,158.99 581.50,158.99 582.50,158.99 583.50,158.98 584.50,158.98 585.50,158.97 586.50,158.97 587.50,158.97 588.50,158.96 589.50,158.96 590.50,158.96 591.50,158.95 592.50,158.95 593.50,158.94 594.50,158.94 595.50,158.94 596.50,158.93 597.50,158.93 598.50,158.93 599.50,158.92 600.50,158.92 601.50,158.92 602.50,158.91 603.50,158.91 604.50,158.91 605.50,158.90 606.50,158.90 607.50,158.89 608.50,158.89 609.50,158.89 610.50,158.88 611.50,158.88 612.50,158.88 613.50,158.87 614.50,158.87 615.50,158.87 616.50,158.86 617.50,158.86 618.50,158.86 619.50,158.85 620.50,158.85 621.50,158.84 622.50,158.84 623.50,158.84 624.50,158.83 625.50,158.83 626.50,158.83 627.50,158.82 628.50,158.82 629.50,158.82 630.50,158.81 631.50,158.81 632.50,158.81 633.50,158.80 634.50,158.80 635.50,158.80 636.50,158.79 637.50,158.79 638.50,158.78 639.50,158.78 640.50,158.78 641.50,158.77 642.50,158.77 643.50,158.77 644.50,158.76 645.50,158.76 646.50,158.76 647.50,158.75 648.50,158.75 649.50,158.75 650.50,158.74 651.50,158.74 652.50,158.73 653.50,158.73 654.50,158.73 655.50,158.72 656.50,158.72 657.50,158.72 658.50,158.71 659.50,158.71 660.50,158.71 661.50,158.70 662.50,158.70 663.50,158.70 664.50,158.69 665.50,158.69 666.50,158.69 667.50,158.68 668.50,158.68 669.50,158.67 670.50,158.67 671.50,158.67 672.50,158.66 673.50,158.66 674.50,158.66 675.50,158.65 676.50,158.65 677.50,158.65 678.50,158.64 679.50,158.64 680.50,158.64 681.50,158.63 682.50,158.63 683.50,158.63 684.50,158.62 685.50,158.62 686.50,158.61 687.50,158.61 688.50,158.61 689.50,158.60 690.50,158.60 691.50,158.60 692.50,158.59 693.50,158.59 694.50,158.59 695.50,158.58 696.50,158.58 697.50,158.58 698.50,158.57 699.50,158.57 700.50,158.57 700.75,158.57 701.00,158.57 701.25,158.56 701.50,158.56 701.75,158.56 702.00,158.56 702.25,158.56 702.50,158.56 702.75,158.56 703.00,158.56 703.25,158.56 703.50,158.56 703.75,158.56 704.00,158.56 704.25,158.56 704.50,158.56 704.75,158.56 705.00,158.56 705.25,158.56 705.50,158.56 705.75,158.55 706.00,158.55 706.25,158.55 706.50,158.55 706.75,158.55 707.00,158.55 707.25,158.55 707.50,158.55 707.75,158.55 708.00,158.54 708.25,158.54 708.50,158.54 708.75,158.54 709.00,158.54 709.25,158.54 709.50,158.54 709.75,158.53 710.00,158.53 710.25,158.53 710.50,158.53 710.75,158.53 711.00,158.53 711.25,158.52 711.50,158.52 711.75,158.51 712.00,158.51 712.25,158.50 712.50,158.50 712.75,158.49 713.00,158.48 713.25,158.48 713.50,158.47 713.75,158.46 714.00,158.45 714.25,158.44 714.50,158.43 714.75,158.42 715.00,158.40 715.25,158.39 715.50,158.38 715.75,158.36 716.00,158.35 716.25,158.33 716.50,158.32 716.75,158.30 717.00,158.28 717.25,158.27 717.50,158.25 717.75,158.23 718.00,158.21 718.25,158.19 718.50,158.17 718.75,158.15 719.00,158.13 719.25,158.11 719.50,158.08 719.75,158.06 720.00,158.04 720.25,158.01 720.50,157.99 720.75,157.96 721.00,157.93 721.25,157.91 721.50,157.88 721.75,157.85 722.00,157.82 722.25,157.79 722.50,157.76 722.75,157.71 723.00,157.66 723.25,157.60 723.50,157.52 723.75,157.44 724.00,157.36 724.25,157.26 724.50,157.16 724.75,157.05 725.00,156.93 725.25,156.81 725.50,156.68 725.75,156.55 726.00,156.41 726.25,156.27 726.50,156.12 726.75,155.96 727.00,155.80 727.25,155.64 727.50,155.48 727.75,155.31 728.00,155.13 728.25,154.96 728.50,154.78 728.75,154.60 729.00,154.42 729.25,154.23 729.50,154.05 729.75,153.86 730.00,153.67 730.25,153.49 730.50,153.29 730.75,153.09 731.00,152.88 731.25,152.67 731.50,152.44 731.75,152.21 732.00,151.97 732.25,151.72 732.50,151.46 732.75,151.19 733.00,150.91 733.25,150.61 733.50,150.31 733.75,150.00 734.00,149.67 734.25,149.33 734.50,148.98 734.75,148.62 735.00,148.24 735.25,147.84 735.50,147.44 735.75,147.02 736.00,146.58 736.25,146.12 736.50,145.62 736.75,145.08 737.00,144.49 737.25,143.86 737.50,143.19 737.75,142.47 738.00,141.71 738.25,140.90 738.50,140.05 738.75,139.15 739.00,138.20 739.25,137.21 739.50,136.18 739.75,135.09 740.00,133.96 740.25,132.76 740.50,131.35 740.75,129.74 741.00,127.97 741.25,126.05 741.50,124.01 741.75,121.87 742.00,119.65 742.25,117.38 742.50,115.08 742.75,112.78 743.00,110.50 743.25,108.24 743.50,105.90 743.75,103.49 744.00,101.02 744.25,98.48 744.50,95.90 744.75,93.27 745.00,90.61 745.25,87.93 745.50,85.22 745.75,82.51 746.00,79.80 746.25,77.06 746.50,74.25 746.75,71.41 747.00,68.53 747.25,65.64 747.50,62.74 747.75,59.86 748.00,57.00 748.25,54.16 748.50,51.32 748.75,48.49 749.00,45.66 749.25,42.83 749.50,40.00" fill="none" stroke="#ffff00" stroke-width="1" shape-rendering="crispEdges"/>
<path clip-path="url(#c2)" d="M241.5,546.1 L242.5,545.7 L243.5,545.2 L244.5,544.6 L245.5,544.0 L246.5,543.4 L247.5,542.7 L248.5,542.1 L249.5,541.3 L250.5,540.6 L251.5,539.8 L252.5,539.0 L253.5,538.2 L254.5,537.4 L255.5,536.5 L256.5,535.6 L257.5,534.7 L258.5,533.8 L259.5,532.9 L260.5,532.0 L261.5,531.1 L262.5,530.2 L263.5,529.3 L264.5,528.3 L265.5,527.4 L266.5,526.5 L267.5,525.6 L268.5,524.6 L269.5,523.7 L270.5,522.7 L271.5,521.8 L272.5,520.8 L273.5,519.8 L274.5,518.8 L275.5,517.7 L276.5,516.6 L277.5,515.5 L278.5,514.3 L279.5,513.0 L280.5,511.7 L281.5,510.3 L282.5,508.8 L283.5,507.3 L284.5,505.7 L285.5,504.0 L286.5,502.2 L287.5,500.4 L288.5,498.6 L289.5,496.7 L290.5,494.8 L291.5,492.9 L292.5,491.0 L293.5,489.0 L294.5,487.2 L295.5,485.3 L296.5,483.5 L297.5,481.8 L298.5,480.1 L299.5,478.6 L300.5,477.1 L301.5,475.7 L302.5,474.5 L303.5,473.3 L304.5,472.2 L305.5,471.3 L306.5,470.4 L307.5,469.7 L308.5,469.0 L309.5,468.4 L310.5,467.9 L311.5,467.5 L312.5,467.1 L313.5,466.8 L314.5,466.6 L315.5,466.3 L316.5,466.2 L317.5,466.0 L318.5,465.9 L319.5,465.8 L320.5,465.7 L321.5,465.7 L322.5,465.6 L323.5,465.6 L324.5,465.6 L325.5,465.5 L326.5,465.5 L327.5,465.5 L328.5,465.5 L329.5,465.5 L330.5,465.5 L331.5,465.5 L332.5,465.5 L333.5,465.5 L334.5,465.5 L335.5,465.5 L336.5,465.5 L337.5,465.5 L338.5,465.5 L339.5,465.5 L340.5,465.5 L341.5,465.5 L342.5,465.5 L343.5,465.5 L344.5,465.5 L345.5,465.5 L346.5,465.5 L347.5,465.5 L348.5,465.5 L349.5,465.5 L350.5,465.5 L351.5,465.5 L352.5,465.5 L353.5,465.5 L354.5,465.5 L355.5,465.5 L356.5,465.5 L357.5,465.5 L358.5,465.5 L359.5,465.5 L360.5,465.5 L361.5,465.5 L362.5,465.5 L363.5,465.5 L364.5,465.5 L365.5,465.5 L366.5,465.5 L367.5,465.5 L368.5,465.5 L369.5,465.5 L370.5,465.5 L371.5,465.5 L372.5,465.5 L373.5,465.5 L374.5,465.5 L375.5,465.5 L376.5,465.5 L377.5,465.5 L378.5,465.5 L379.5,465.5 L380.5,465.5 L381.5,465.5 L382.5,465.5 L383.5,465.5 L384.5,465.5 L385.5,465.5 L386.5,465.5 L387.5,465.5 L388.5,465.5 L389.5,465.5 L390.5,465.5 L391.5,465.5 L392.5,465.5 L393.5,465.5 L394.5,465.5 L395.5,465.5 L396.5,465.5 L397.5,465.5 L398.5,465.5 L399.5,465.5 L400.5,465.5 L401.5,465.5 L402.5,465.5 L403.5,465.5 L404.5,465.5 L405.5,465.5 L406.5,465.5 L407.5,465.5 L408.5,465.5 L409.5,465.5 L410.5,465.5 L411.5,465.5 L412.5,465.5 L413.5,465.5 L414.5,465.5 L415.5,465.5 L416.5,465.5 L417.5,465.5 L418.5,465.5 L419.5,465.5 L420.5,465.5 L421.5,465.5 L422.5,465.5 L423.5,465.5 L424.5,465.5 L425.5,465.5 L426.5,465.5 L427.5,465.5 L428.5,465.5 L429.5,465.5 L430.5,465.5 L431.5,465.5 L432.5,465.5 L433.5,465.5 L434.5,465.5 L435.5,465.5 L436.5,465.5 L437.5,465.5 L438.5,465.5 L439.5,465.5 L440.5,465.5 L441.5,465.5 L442.5,465.5 L443.5,465.5 L444.5,465.5 L445.5,465.5 L446.5,465.5 L447.5,465.5 L448.5,465.5 L449.5,465.5 L450.5,465.5 L451.5,465.5 L452.5,465.5 L453.5,465.5 L454.5,465.5 L455.5,465.5 L456.5,465.5 L457.5,465.5 L458.5,465.5 L459.5,465.5 L460.5,465.5 L461.5,465.5 L462.5,465.5 L463.5,465.5 L464.5,465.5 L465.5,465.5 L466.5,465.5 L467.5,465.5 L468.5,465.5 L469.5,465.5 L470.5,465.5 L471.5,465.5 L472.5,465.5 L473.5,465.5 L474.5,465.5 L475.5,465.5 L476.5,465.5 L477.5,465.5 L478.5,465.5 L479.5,465.5 L480.5,465.5 L481.5,465.5 L482.5,465.5 L483.5,465.5 L484.5,465.5 L485.5,465.5 L486.5,465.5 L487.5,465.5 L488.5,465.5 L489.5,465.5 L490.5,465.5 L491.5,465.5 L492.5,465.5 L493.5,465.5 L494.5,465.5 L495.5,465.5 L496.5,465.5 L497.5,465.5 L498.5,465.5 L499.5,465.5 L500.5,465.5 L501.5,465.5 L502.5,465.5 L503.5,465.5 L504.5,465.5 L505.5,465.5 L506.5,465.5 L507.5,465.5 L508.5,465.5 L509.5,465.5 L510.5,465.5 L511.5,465.5 L512.5,465.5 L513.5,465.5 L514.5,465.5 L515.5,465.5 L516.5,465.5 L517.5,465.5 L518.5,465.5 L519.5,465.5 L520.5,465.5 L521.5,465.5 L522.5,465.5 L523.5,465.5 L524.5,465.5 L525.5,465.5 L526.5,465.5 L527.5,465.5 L528.5,465.5 L529.5,465.5 L530.5,465.5 L531.5,465.5 L532.5,465.5 L533.5,465.5 L534.5,465.5 L535.5,465.5 L536.5,465.5 L537.5,465.5 L538.5,465.5 L539.5,465.5 L540.5,465.5 L541.5,465.5 L542.5,465.5 L543.5,465.5 L544.5,465.5 L545.5,465.5 L546.5,465.5 L547.5,465.5 L548.5,465.5 L549.5,465.5 L550.5,465.5 L551.5,465.5 L552.5,465.5 L553.5,465.5 L554.5,465.5 L555.5,465.5 L556.5,465.5 L557.5,465.5 L558.5,465.5 L559.5,465.5 L560.5,465.5 L561.5,465.5 L562.5,465.5 L563.5,465.5 L564.5,465.5 L565.5,465.5 L566.5,465.5 L567.5,465.5 L568.5,465.5 L569.5,465.5 L570.5,465.5 L571.5,465.5 L572.5,465.5 L573.5,465.5 L574.5,465.5 L575.5,465.5 L576.5,465.5 L577.5,465.5 L578.5,465.5 L579.5,465.5 L580.5,465.5 L581.5,465.5 L582.5,465.5 L583.5,465.5 L584.5,465.5 L585.5,465.5 L586.5,465.5 L587.5,465.5 L588.5,465.5 L589.5,465.5 L590.5,465.5 L591.5,465.5 L592.5,465.5 L593.5,465.5 L594.5,465.5 L595.5,465.5 L596.5,465.5 L597.5,465.5 L598.5,465.5 L599.5,465.5 L600.5,465.5 L601.5,465.5 L602.5,465.5 L603.5,465.5 L604.5,465.5 L605.5,465.5 L606.5,465.5 L607.5,465.5 L608.5,465.5 L609.5,465.5 L610.5,465.5 L611.5,465.5 L612.5,465.5 L613.5,465.5 L614.5,465.5 L615.5,465.5 L616.5,465.5 L617.5,465.5 L618.5,465.5 L619.5,465.5 L620.5,465.5 L621.5,465.5 L622.5,465.5 L623.5,465.5 L624.5,465.5 L625.5,465.5 L626.5,465.5 L627.5,465.5 L628.5,465.5 L629.5,465.5 L630.5,465.5 L631.5,465.5 L632.5,465.5 L633.5,465.5 L634.5,465.5 L635.5,465.5 L636.5,465.5 L637.5,465.5 L638.5,465.5 L639.5,465.5 L640.5,465.5 L641.5,465.5 L642.5,465.5 L643.5,465.5 L644.5,465.5 L645.5,465.5 L646.5,465.5 L647.5,465.5 L648.5,465.5 L649.5,465.5 L650.5,465.5 L651.5,465.5 L652.5,465.5 L653.5,465.5 L654.5,465.5 L655.5,465.5 L656.5,465.5 L657.5,465.5 L658.5,465.5 L659.5,465.5 L660.5,465.5 L661.5,465.5 L662.5,465.5 L663.5,465.5 L664.5,465.5 L665.5,465.5 L666.5,465.5 L667.5,465.5 L668.5,465.5 L669.5,465.5 L670.5,465.5 L671.5,465.5 L672.5,465.5 L673.5,465.5 L674.5,465.5 L675.5,465.5 L676.5,465.5 L677.5,465.5 L678.5,465.5 L679.5,465.5 L680.5,465.5 L681.5,465.5 L682.5,465.5 L683.5,465.5 L684.5,465.5 L685.5,465.5 L686.5,465.5 L687.5,465.5 L688.5,465.5 L689.5,465.5 L690.5,465.5 L691.5,465.5 L692.5,465.5 L693.5,465.5 L694.5,465.5 L695.5,465.5 L696.5,465.5 L697.5,465.5 L698.5,465.5 L699.5,465.5 L700.5,465.5 L701.5,465.5 L702.5,465.5 L703.5,465.5 L704.5,465.5 L705.5,465.5 L706.5,465.5 L707.5,465.5 L708.5,465.5 L709.5,465.5 L710.5,465.5 L711.5,465.5 L712.5,465.5 L713.5,465.5 L714.5,465.5 L715.5,465.5 L716.5,465.5 L717.5,465.5 L718.5,465.5 L719.5,465.5 L720.5,465.5 L721.5,465.5 L722.5,465.5 L723.5,465.5 L724.5,465.5 L725.5,465.5 L726.5,465.5 L727.5,465.5 L728.5,465.5 L729.5,465.4 L729.75,465.4 L730,465.4 L730.25,465.4 L730.5,465.4 L730.75,465.4 L731,465.4 L731.25,465.4 L731.5,465.4 L731.75,465.4 L732,465.4 L732.25,465.4 L732.5,465.4 L732.75,465.4 L733,465.4 L733.25,465.4 L733.5,465.4 L733.75,465.4 L734,465.4 L734.25,465.4 L734.5,465.3 L734.75,465.3 L735,465.3 L735.25,465.3 L735.5,465.3 L735.75,465.3 L736,465.3 L736.25,465.3 L736.5,465.2 L736.75,465.2 L737,465.2 L737.25,465.2 L737.5,465.2 L737.75,465.2 L738,465.1 L738.25,465.1 L738.5,465.1 L738.75,465.1 L739,465.0 L739.25,465.0 L739.5,465.0 L739.75,465.0 L740,464.9 L740.25,464.9 L740.5,464.8 L740.75,464.8 L741,464.8 L741.25,464.7 L741.5,464.7 L741.75,464.6 L742,464.6 L742.25,464.5 L742.5,464.4 L742.75,464.4 L743,464.3 L743.25,464.2 L743.5,464.2 L743.75,464.1 L744,464.0 L744.25,463.9 L744.5,463.8 L744.75,463.7 L745,463.6 L745.25,463.5 L745.5,463.4 L745.75,463.3 L746,463.1 L746.25,463.0 L746.5,462.8 L746.75,462.7 L747,462.5 L747.25,462.3 L747.5,462.1 L747.75,461.9 L748,461.7 L748.25,461.5 L748.5,461.3 L748.75,461.0 L749,460.8 L749.25,460.5 L749.5,460.2 L749.75,459.9 L750,459.6 L750.25,459.2 L750.5,458.9 L750.75,458.5 L751,458.1 L751.25,457.7 L751.5,457.2 L751.75,456.7 L752,456.2 L752.25,455.7 L752.5,455.1 L752.75,454.6 L753,453.9 L753.25,453.3 L753.5,452.6 L753.75,451.8 L754,451.1 L754.25,450.3 L754.5,449.4 L754.75,448.5 L755,447.5 L755.25,446.5 L755.5,445.5 L755.75,444.3 L756,443.1 L756.25,441.9 L756.5,440.6 L756.75,439.2 L757,437.7 L757.25,436.1 L757.5,434.4 L757.75,432.7 L758,430.8 L758.25,428.8 L758.5,426.8 L758.75,424.5 L759,422.1 L759.25,419.5 L759.5,416.7 L759.75,413.7 L760,410.4 L760.25,406.8 L760.5,402.7 L760.75,398.2 L761,393.1 L761.25,387.1 L761.5,380.4 L761.75,372.5 L762,362.7 L762.25,360 M241.5,547.2 L242.5,546.9 L243.5,546.5 L244.5,546.1 L245.5,545.7 L246.5,545.3 L247.5,544.8 L248.5,544.3 L249.5,543.8 L250.5,543.3 L251.5,542.7 L252.5,542.1 L253.5,541.5 L254.5,540.9 L255.5,540.2 L256.5,539.5 L257.5,538.8 L258.5,538.1 L259.5,537.4 L260.5,536.6 L261.5,535.8 L262.5,535.1 L263.5,534.3 L264.5,533.5 L265.5,532.7 L266.5,531.9 L267.5,531.1 L268.5,530.3 L269.5,529.5 L270.5,528.8 L271.5,528.0 L272.5,527.2 L273.5,526.4 L274.5,525.7 L275.5,524.9 L276.5,524.1 L277.5,523.4 L278.5,522.7 L279.5,521.9 L280.5,521.2 L281.5,520.4 L282.5,519.7 L283.5,518.9 L284.5,518.1 L285.5,517.3 L286.5,516.5 L287.5,515.7 L288.5,514.8 L289.5,513.9 L290.5,512.9 L291.5,511.9 L292.5,510.8 L293.5,509.7 L294.5,508.6 L295.5,507.3 L296.5,506.1 L297.5,504.7 L298.5,503.3 L299.5,501.9 L300.5,500.4 L301.5,498.9 L302.5,497.3 L303.5,495.7 L304.5,494.1 L305.5,492.5 L306.5,490.8 L307.5,489.2 L308.5,487.6 L309.5,486.0 L310.5,484.5 L311.5,483.0 L312.5,481.5 L313.5,480.1 L314.5,478.8 L315.5,477.5 L316.5,476.3 L317.5,475.2 L318.5,474.2 L319.5,473.3 L320.5,472.4 L321.5,471.6 L322.5,470.9 L323.5,470.3 L324.5,469.7 L325.5,469.2 L326.5,468.7 L327.5,468.4 L328.5,468.0 L329.5,467.7 L330.5,467.5 L331.5,467.3 L332.5,467.1 L333.5,466.9 L334.5,466.8 L335.5,466.7 L336.5,466.6 L337.5,466.5 L338.5,466.5 L339.5,466.4 L340.5,466.4 L341.5,466.4 L342.5,466.3 L343.5,466.3 L344.5,466.3 L345.5,466.3 L346.5,466.3 L347.5,466.3 L348.5,466.3 L349.5,466.3 L350.5,466.3 L351.5,466.3 L352.5,466.3 L353.5,466.3 L354.5,466.3 L355.5,466.3 L356.5,466.3 L357.5,466.3 L358.5,466.3 L359.5,466.3 L360.5,466.3 L361.5,466.3 L362.5,466.3 L363.5,466.3 L364.5,466.3 L365.5,466.3 L366.5,466.3 L367.5,466.3 L368.5,466.3 L369.5,466.3 L370.5,466.3 L371.5,466.3 L372.5,466.3 L373.5,466.3 L374.5,466.3 L375.5,466.3 L376.5,466.3 L377.5,466.3 L378.5,466.3 L379.5,466.3 L380.5,466.3 L381.5,466.3 L382.5,466.3 L383.5,466.3 L384.5,466.3 L385.5,466.3 L386.5,466.3 L387.5,466.3 L388.5,466.3 L389.5,466.3 L390.5,466.3 L391.5,466.3 L392.5,466.3 L393.5,466.3 L394.5,466.3 L395.5,466.3 L396.5,466.3 L397.5,466.3 L398.5,466.3 L399.5,466.3 L400.5,466.3 L401.5,466.3 L402.5,466.3 L403.5,466.3 L404.5,466.3 L405.5,466.3 L406.5,466.3 L407.5,466.3 L408.5,466.3 L409.5,466.3 L410.5,466.3 L411.5,466.3 L412.5,466.3 L413.5,466.3 L414.5,466.3 L415.5,466.3 L416.5,466.3 L417.5,466.3 L418.5,466.3 L419.5,466.3 L420.5,466.3 L421.5,466.3 L422.5,466.3 L423.5,466.3 L424.5,466.3 L425.5,466.3 L426.5,466.3 L427.5,466.3 L428.5,466.3 L429.5,466.3 L430.5,466.3 L431.5,466.3 L432.5,466.3 L433.5,466.3 L434.5,466.3 L435.5,466.3 L436.5,466.3 L437.5,466.3 L438.5,466.3 L439.5,466.3 L440.5,466.3 L441.5,466.3 L442.5,466.3 L443.5,466.3 L444.5,466.3 L445.5,466.3 L446.5,466.3 L447.5,466.3 L448.5,466.3 L449.5,466.3 L450.5,466.3 L451.5,466.3 L452.5,466.3 L453.5,466.3 L454.5,466.3 L455.5,466.3 L456.5,466.3 L457.5,466.3 L458.5,466.3 L459.5,466.3 L460.5,466.3 L461.5,466.3 L462.5,466.3 L463.5,466.3 L464.5,466.3 L465.5,466.3 L466.5,466.3 L467.5,466.3 L468.5,466.3 L469.5,466.3 L470.5,466.3 L471.5,466.3 L472.5,466.3 L473.5,466.3 L474.5,466.3 L475.5,466.3 L476.5,466.3 L477.5,466.3 L478.5,466.3 L479.5,466.3 L480.5,466.3 L481.5,466.3 L482.5,466.3 L483.5,466.3 L484.5,466.3 L485.5,466.3 L486.5,466.3 L487.5,466.3 L488.5,466.3 L489.5,466.3 L490.5,466.3 L491.5,466.3 L492.5,466.3 L493.5,466.3 L494.5,466.3 L495.5,466.3 L496.5,466.3 L497.5,466.3 L498.5,466.3 L499.5,466.3 L500.5,466.3 L501.5,466.3 L502.5,466.3 L503.5,466.3 L504.5,466.3 L505.5,466.3 L506.5,466.3 L507.5,466.3 L508.5,466.3 L509.5,466.3 L510.5,466.3 L511.5,466.3 L512.5,466.3 L513.5,466.3 L514.5,466.3 L515.5,466.3 L516.5,466.3 L517.5,466.3 L518.5,466.3 L519.5,466.3 L520.5,466.3 L521.5,466.3 L522.5,466.3 L523.5,466.3 L524.5,466.3 L525.5,466.3 L526.5,466.3 L527.5,466.3 L528.5,466.3 L529.5,466.3 L530.5,466.3 L531.5,466.3 L532.5,466.3 L533.5,466.3 L534.5,466.3 L535.5,466.3 L536.5,466.3 L537.5,466.3 L538.5,466.3 L539.5,466.3 L540.5,466.3 L541.5,466.3 L542.5,466.3 L543.5,466.3 L544.5,466.3 L545.5,466.3 L546.5,466.3 L547.5,466.3 L548.5,466.3 L549.5,466.3 L550.5,466.3 L551.5,466.3 L552.5,466.3 L553.5,466.3 L554.5,466.3 L555.5,466.3 L556.5,466.3 L557.5,466.3 L558.5,466.3 L559.5,466.3 L560.5,466.3 L561.5,466.3 L562.5,466.3 L563.5,466.3 L564.5,466.3 L565.5,466.3 L566.5,466.3 L567.5,466.3 L568.5,466.3 L569.5,466.3 L570.5,466.3 L571.5,466.3 L572.5,466.3 L573.5,466.3 L574.5,466.3 L575.5,466.3 L576.5,466.3 L577.5,466.3 L578.5,466.3 L579.5,466.3 L580.5,466.3 L581.5,466.3 L582.5,466.3 L583.5,466.3 L584.5,466.3 L585.5,466.3 L586.5,466.3 L587.5,466.3 L588.5,466.3 L589.5,466.3 L590.5,466.3 L591.5,466.3 L592.5,466.3 L593.5,466.3 L594.5,466.3 L595.5,466.3 L596.5,466.3 L597.5,466.3 L598.5,466.3 L599.5,466.3 L600.5,466.3 L601.5,466.3 L602.5,466.3 L603.5,466.3 L604.5,466.3 L605.5,466.3 L606.5,466.3 L607.5,466.3 L608.5,466.3 L609.5,466.3 L610.5,466.3 L611.5,466.3 L612.5,466.3 L613.5,466.3 L614.5,466.3 L615.5,466.3 L616.5,466.3 L617.5,466.3 L618.5,466.3 L619.5,466.3 L620.5,466.3 L621.5,466.3 L622.5,466.3 L623.5,466.3 L624.5,466.3 L625.5,466.3 L626.5,466.3 L627.5,466.3 L628.5,466.3 L629.5,466.3 L630.5,466.3 L631.5,466.3 L632.5,466.3 L633.5,466.3 L634.5,466.3 L635.5,466.3 L636.5,466.3 L637.5,466.3 L638.5,466.3 L639.5,466.3 L640.5,466.3 L641.5,466.3 L642.5,466.3 L643.5,466.3 L644.5,466.3 L645.5,466.3 L646.5,466.3 L647.5,466.3 L648.5,466.3 L649.5,466.3 L650.5,466.3 L651.5,466.3 L652.5,466.3 L653.5,466.3 L654.5,466.3 L655.5,466.3 L656.5,466.3 L657.5,466.3 L658.5,466.3 L659.5,466.3 L660.5,466.3 L661.5,466.3 L662.5,466.3 L663.5,466.3 L664.5,466.3 L665.5,466.3 L666.5,466.3 L667.5,466.3 L668.5,466.3 L669.5,466.3 L670.5,466.3 L671.5,466.3 L672.5,466.3 L673.5,466.3 L674.5,466.3 L675.5,466.3 L676.5,466.3 L677.5,466.3 L678.5,466.3 L679.5,466.3 L680.5,466.3 L681.5,466.3 L682.5,466.3 L683.5,466.3 L684.5,466.3 L685.5,466.3 L686.5,466.3 L687.5,466.3 L688.5,466.3 L689.5,466.3 L690.5,466.3 L691.5,466.3 L692.5,466.3 L693.5,466.3 L694.5,466.3 L695.5,466.3 L696.5,466.3 L697.5,466.3 L698.5,466.3 L699.5,466.3 L700.5,466.3 L701.5,466.3 L702.5,466.3 L703.5,466.3 L704.5,466.3 L705.5,466.3 L706.5,466.3 L707.5,466.3 L708.5,466.3 L709.5,466.3 L710.5,466.3 L711.5,466.3 L712.5,466.3 L713.5,466.3 L714.5,466.3 L715.5,466.3 L716.5,466.3 L717.5,466.3 L718.5,466.3 L719.5,466.3 L720.5,466.3 L721.5,466.3 L722.5,466.3 L723.5,466.2 L724.5,466.2 L725.5,466.2 L726.5,466.2 L727.5,466.2 L728.5,466.2 L729.5,466.2 L729.75,466.2 L730,466.2 L730.25,466.2 L730.5,466.2 L730.75,466.2 L731,466.2 L731.25,466.1 L731.5,466.1 L731.75,466.1 L732,466.1 L732.25,466.1 L732.5,466.1 L732.75,466.1 L733,466.1 L733.25,466.1 L733.5,466.1 L733.75,466.0 L734,466.0 L734.25,466.0 L734.5,466.0 L734.75,466.0 L735,466.0 L735.25,466.0 L735.5,465.9 L735.75,465.9 L736,465.9 L736.25,465.9 L736.5,465.8 L736.75,465.8 L737,465.8 L737.25,465.8 L737.5,465.7 L737.75,465.7 L738,465.7 L738.25,465.6 L738.5,465.6 L738.75,465.6 L739,465.5 L739.25,465.5 L739.5,465.4 L739.75,465.4 L740,465.3 L740.25,465.3 L740.5,465.2 L740.75,465.2 L741,465.1 L741.25,465.0 L741.5,465.0 L741.75,464.9 L742,464.8 L742.25,464.7 L742.5,464.6 L742.75,464.5 L743,464.4 L743.25,464.3 L743.5,464.2 L743.75,464.1 L744,464.0 L744.25,463.9 L744.5,463.7 L744.75,463.6 L745,463.4 L745.25,463.3 L745.5,463.1 L745.75,462.9 L746,462.8 L746.25,462.6 L746.5,462.3 L746.75,462.1 L747,461.9 L747.25,461.7 L747.5,461.4 L747.75,461.1 L748,460.8 L748.25,460.5 L748.5,460.2 L748.75,459.9 L749,459.5 L749.25,459.2 L749.5,458.8 L749.75,458.4 L750,457.9 L750.25,457.5 L750.5,457.0 L750.75,456.5 L751,456.0 L751.25,455.4 L751.5,454.8 L751.75,454.2 L752,453.5 L752.25,452.8 L752.5,452.1 L752.75,451.3 L753,450.5 L753.25,449.7 L753.5,448.8 L753.75,447.8 L754,446.8 L754.25,445.8 L754.5,444.7 L754.75,443.5 L755,442.3 L755.25,441.0 L755.5,439.7 L755.75,438.2 L756,436.7 L756.25,435.1 L756.5,433.5 L756.75,431.7 L757,429.9 L757.25,427.9 L757.5,425.8 L757.75,423.6 L758,421.3 L758.25,418.8 L758.5,416.2 L758.75,413.4 L759,410.4 L759.25,407.2 L759.5,403.8 L759.75,400.0 L760,395.9 L760.25,391.4 L760.5,386.4 L760.75,380.8 L761,374.5 L761.25,367.1 L761.5,360 M241.5,547.8 L242.5,547.6 L243.5,547.4 L244.5,547.1 L245.5,546.8 L246.5,546.5 L247.5,546.2 L248.5,545.8 L249.5,545.4 L250.5,545.0 L251.5,544.6 L252.5,544.2 L253.5,543.7 L254.5,543.2 L255.5,542.7 L256.5,542.2 L257.5,541.6 L258.5,541.0 L259.5,540.5 L260.5,539.9 L261.5,539.2 L262.5,538.6 L263.5,538.0 L264.5,537.3 L265.5,536.6 L266.5,535.9 L267.5,535.2 L268.5,534.5 L269.5,533.8 L270.5,533.1 L271.5,532.4 L272.5,531.7 L273.5,531.0 L274.5,530.3 L275.5,529.6 L276.5,528.9 L277.5,528.2 L278.5,527.5 L279.5,526.8 L280.5,526.1 L281.5,525.5 L282.5,524.8 L283.5,524.2 L284.5,523.5 L285.5,522.9 L286.5,522.3 L287.5,521.7 L288.5,521.1 L289.5,520.5 L290.5,519.9 L291.5,519.3 L292.5,518.7 L293.5,518.1 L294.5,517.5 L295.5,516.8 L296.5,516.2 L297.5,515.6 L298.5,514.9 L299.5,514.2 L300.5,513.5 L301.5,512.7 L302.5,511.9 L303.5,511.1 L304.5,510.2 L305.5,509.3 L306.5,508.3 L307.5,507.3 L308.5,506.2 L309.5,505.1 L310.5,503.9 L311.5,502.7 L312.5,501.5 L313.5,500.2 L314.5,498.8 L315.5,497.5 L316.5,496.1 L317.5,494.7 L318.5,493.2 L319.5,491.8 L320.5,490.4 L321.5,488.9 L322.5,487.5 L323.5,486.1 L324.5,484.8 L325.5,483.4 L326.5,482.1 L327.5,480.9 L328.5,479.7 L329.5,478.6 L330.5,477.5 L331.5,476.5 L332.5,475.5 L333.5,474.6 L334.5,473.8 L335.5,473.0 L336.5,472.3 L337.5,471.7 L338.5,471.1 L339.5,470.6 L340.5,470.1 L341.5,469.7 L342.5,469.3 L343.5,469.0 L344.5,468.7 L345.5,468.4 L346.5,468.2 L347.5,468.0 L348.5,467.8 L349.5,467.7 L350.5,467.6 L351.5,467.5 L352.5,467.4 L353.5,467.3 L354.5,467.3 L355.5,467.2 L356.5,467.2 L357.5,467.1 L358.5,467.1 L359.5,467.1 L360.5,467.1 L361.5,467.1 L362.5,467.1 L363.5,467.0 L364.5,467.0 L365.5,467.0 L366.5,467.0 L367.5,467.0 L368.5,467.0 L369.5,467.0 L370.5,467.0 L371.5,467.0 L372.5,467.0 L373.5,467.0 L374.5,467.0 L375.5,467.0 L376.5,467.0 L377.5,467.0 L378.5,467.0 L379.5,467.0 L380.5,467.0 L381.5,467.0 L382.5,467.0 L383.5,467.0 L384.5,467.0 L385.5,467.0 L386.5,467.0 L387.5,467.0 L388.5,467.0 L389.5,467.0 L390.5,467.0 L391.5,467.0 L392.5,467.0 L393.5,467.0 L394.5,467.0 L395.5,467.0 L396.5,467.0 L397.5,467.0 L398.5,467.0 L399.5,467.0 L400.5,467.0 L401.5,467.0 L402.5,467.0 L403.5,467.0 L404.5,467.0 L405.5,467.0 L406.5,467.0 L407.5,467.0 L408.5,467.0 L409.5,467.0 L410.5,467.0 L411.5,467.0 L412.5,467.0 L413.5,467.0 L414.5,467.0 L415.5,467.0 L416.5,467.0 L417.5,467.0 L418.5,467.0 L419.5,467.0 L420.5,467.0 L421.5,467.0 L422.5,467.0 L423.5,467.0 L424.5,467.0 L425.5,467.0 L426.5,467.0 L427.5,467.0 L428.5,467.0 L429.5,467.0 L430.5,467.0 L431.5,467.0 L432.5,467.0 L433.5,467.0 L434.5,467.0 L435.5,467.0 L436.5,467.0 L437.5,467.0 L438.5,467.0 L439.5,467.0 L440.5,467.0 L441.5,467.0 L442.5,467.0 L443.5,467.0 L444.5,467.0 L445.5,467.0 L446.5,467.0 L447.5,467.0 L448.5,467.0 L449.5,467.0 L450.5,467.0 L451.5,467.0 L452.5,467.0 L453.5,467.0 L454.5,467.0 L455.5,467.0 L456.5,467.0 L457.5,467.0 L458.5,467.0 L459.5,467.0 L460.5,467.0 L461.5,467.0 L462.5,467.0 L463.5,467.0 L464.5,467.0 L465.5,467.0 L466.5,467.0 L467.5,467.0 L468.5,467.0 L469.5,467.0 L470.5,467.0 L471.5,467.0 L472.5,467.0 L473.5,467.0 L474.5,467.0 L475.5,467.0 L476.5,467.0 L477.5,467.0 L478.5,467.0 L479.5,467.0 L480.5,467.0 L481.5,467.0 L482.5,467.0 L483.5,467.0 L484.5,467.0 L485.5,467.0 L486.5,467.0 L487.5,467.0 L488.5,467.0 L489.5,467.0 L490.5,467.0 L491.5,467.0 L492.5,467.0 L493.5,467.0 L494.5,467.0 L495.5,467.0 L496.5,467.0 L497.5,467.0 L498.5,467.0 L499.5,467.0 L500.5,467.0 L501.5,467.0 L502.5,467.0 L503.5,467.0 L504.5,467.0 L505.5,467.0 L506.5,467.0 L507.5,467.0 L508.5,467.0 L509.5,467.0 L510.5,467.0 L511.5,467.0 L512.5,467.0 L513.5,467.0 L514.5,467.0 L515.5,467.0 L516.5,467.0 L517.5,467.0 L518.5,467.0 L519.5,467.0 L520.5,467.0 L521.5,467.0 L522.5,467.0 L523.5,467.0 L524.5,467.0 L525.5,467.0 L526.5,467.0 L527.5,467.0 L528.5,467.0 L529.5,467.0 L530.5,467.0 L531.5,467.0 L532.5,467.0 L533.5,467.0 L534.5,467.0 L535.5,467.0 L536.5,467.0 L537.5,467.0 L538.5,467.0 L539.5,467.0 L540.5,467.0 L541.5,467.0 L542.5,467.0 L543.5,467.0 L544.5,467.0 L545.5,467.0 L546.5,467.0 L547.5,467.0 L548.5,467.0 L549.5,467.0 L550.5,467.0 L551.5,467.0 L552.5,467.0 L553.5,467.0 L554.5,467.0 L555.5,467.0 L556.5,467.0 L557.5,467.0 L558.5,467.0 L559.5,467.0 L560.5,467.0 L561.5,467.0 L562.5,467.0 L563.5,467.0 L564.5,467.0 L565.5,467.0 L566.5,467.0 L567.5,467.0 L568.5,467.0 L569.5,467.0 L570.5,467.0 L571.5,467.0 L572.5,467.0 L573.5,467.0 L574.5,467.0 L575.5,467.0 L576.5,467.0 L577.5,467.0 L578.5,467.0 L579.5,467.0 L580.5,467.0 L581.5,467.0 L582.5,467.0 L583.5,467.0 L584.5,467.0 L585.5,467.0 L586.5,467.0 L587.5,467.0 L588.5,467.0 L589.5,467.0 L590.5,467.0 L591.5,467.0 L592.5,467.0 L593.5,467.0 L594.5,467.0 L595.5,467.0 L596.5,467.0 L597.5,467.0 L598.5,467.0 L599.5,467.0 L600.5,467.0 L601.5,467.0 L602.5,467.0 L603.5,467.0 L604.5,467.0 L605.5,467.0 L606.5,467.0 L607.5,467.0 L608.5,467.0 L609.5,467.0 L610.5,467.0 L611.5,467.0 L612.5,467.0 L613.5,467.0 L614.5,467.0 L615.5,467.0 L616.5,467.0 L617.5,467.0 L618.5,467.0 L619.5,467.0 L620.5,467.0 L621.5,467.0 L622.5,467.0 L623.5,467.0 L624.5,467.0 L625.5,467.0 L626.5,467.0 L627.5,467.0 L628.5,467.0 L629.5,467.0 L630.5,467.0 L631.5,467.0 L632.5,467.0 L633.5,467.0 L634.5,467.0 L635.5,467.0 L636.5,467.0 L637.5,467.0 L638.5,467.0 L639.5,467.0 L640.5,467.0 L641.5,467.0 L642.5,467.0 L643.5,467.0 L644.5,467.0 L645.5,467.0 L646.5,467.0 L647.5,467.0 L648.5,467.0 L649.5,467.0 L650.5,467.0 L651.5,467.0 L652.5,467.0 L653.5,467.0 L654.5,467.0 L655.5,467.0 L656.5,467.0 L657.5,467.0 L658.5,467.0 L659.5,467.0 L660.5,467.0 L661.5,467.0 L662.5,467.0 L663.5,467.0 L664.5,467.0 L665.5,467.0 L666.5,467.0 L667.5,467.0 L668.5,467.0 L669.5,467.0 L670.5,467.0 L671.5,467.0 L672.5,467.0 L673.5,467.0 L674.5,467.0 L675.5,467.0 L676.5,467.0 L677.5,467.0 L678.5,467.0 L679.5,467.0 L680.5,467.0 L681.5,467.0 L682.5,467.0 L683.5,467.0 L684.5,467.0 L685.5,467.0 L686.5,467.0 L687.5,467.0 L688.5,467.0 L689.5,467.0 L690.5,467.0 L691.5,467.0 L692.5,467.0 L693.5,467.0 L694.5,467.0 L695.5,467.0 L696.5,467.0 L697.5,467.0 L698.5,467.0 L699.5,467.0 L700.5,467.0 L701.5,467.0 L702.5,467.0 L703.5,467.0 L704.5,467.0 L705.5,467.0 L706.5,467.0 L707.5,467.0 L708.5,467.0 L709.5,467.0 L710.5,467.0 L711.5,467.0 L712.5,467.0 L713.5,467.0 L714.5,467.0 L715.5,467.0 L716.5,467.0 L717.5,467.0 L718.5,467.0 L719.5,467.0 L720.5,467.0 L721.5,467.0 L722.5,467.0 L723.5,467.0 L724.5,467.0 L725.5,467.0 L726.5,466.9 L727.5,466.9 L728.5,466.9 L729.5,466.9 L729.75,466.9 L730,466.9 L730.25,466.9 L730.5,466.8 L730.75,466.8 L731,466.8 L731.25,466.8 L731.5,466.8 L731.75,466.8 L732,466.8 L732.25,466.8 L732.5,466.8 L732.75,466.7 L733,466.7 L733.25,466.7 L733.5,466.7 L733.75,466.7 L734,466.7 L734.25,466.6 L734.5,466.6 L734.75,466.6 L735,466.6 L735.25,466.5 L735.5,466.5 L735.75,466.5 L736,466.5 L736.25,466.4 L736.5,466.4 L736.75,466.4 L737,466.3 L737.25,466.3 L737.5,466.2 L737.75,466.2 L738,466.2 L738.25,466.1 L738.5,466.1 L738.75,466.0 L739,466.0 L739.25,465.9 L739.5,465.8 L739.75,465.8 L740,465.7 L740.25,465.6 L740.5,465.6 L740.75,465.5 L741,465.4 L741.25,465.3 L741.5,465.2 L741.75,465.1 L742,465.0 L742.25,464.9 L742.5,464.8 L742.75,464.7 L743,464.5 L743.25,464.4 L743.5,464.2 L743.75,464.1 L744,463.9 L744.25,463.8 L744.5,463.6 L744.75,463.4 L745,463.2 L745.25,463.0 L745.5,462.8 L745.75,462.6 L746,462.3 L746.25,462.1 L746.5,461.8 L746.75,461.5 L747,461.3 L747.25,460.9 L747.5,460.6 L747.75,460.3 L748,459.9 L748.25,459.5 L748.5,459.1 L748.75,458.7 L749,458.3 L749.25,457.8 L749.5,457.3 L749.75,456.8 L750,456.3 L750.25,455.7 L750.5,455.1 L750.75,454.5 L751,453.9 L751.25,453.2 L751.5,452.4 L751.75,451.7 L752,450.9 L752.25,450.0 L752.5,449.1 L752.75,448.2 L753,447.2 L753.25,446.2 L753.5,445.1 L753.75,443.9 L754,442.7 L754.25,441.5 L754.5,440.1 L754.75,438.7 L755,437.2 L755.25,435.7 L755.5,434.1 L755.75,432.3 L756,430.5 L756.25,428.6 L756.5,426.6 L756.75,424.5 L757,422.3 L757.25,420.0 L757.5,417.5 L757.75,414.9 L758,412.1 L758.25,409.2 L758.5,406.1 L758.75,402.8 L759,399.2 L759.25,395.4 L759.5,391.3 L759.75,386.8 L760,382.0 L760.25,376.7 L760.5,370.7 L760.75,364.1 L761,360 M241.5,548.3 L242.5,548.2 L243.5,548.0 L244.5,547.8 L245.5,547.6 L246.5,547.3 L247.5,547.1 L248.5,546.8 L249.5,546.5 L250.5,546.2 L251.5,545.9 L252.5,545.6 L253.5,545.2 L254.5,544.8 L255.5,544.5 L256.5,544.0 L257.5,543.6 L258.5,543.2 L259.5,542.7 L260.5,542.2 L261.5,541.7 L262.5,541.2 L263.5,540.7 L264.5,540.1 L265.5,539.6 L266.5,539.0 L267.5,538.4 L268.5,537.8 L269.5,537.2 L270.5,536.6 L271.5,536.0 L272.5,535.4 L273.5,534.7 L274.5,534.1 L275.5,533.4 L276.5,532.8 L277.5,532.1 L278.5,531.5 L279.5,530.8 L280.5,530.2 L281.5,529.5 L282.5,528.9 L283.5,528.2 L284.5,527.6 L285.5,527.0 L286.5,526.4 L287.5,525.8 L288.5,525.2 L289.5,524.6 L290.5,524.0 L291.5,523.5 L292.5,522.9 L293.5,522.4 L294.5,521.8 L295.5,521.3 L296.5,520.8 L297.5,520.3 L298.5,519.8 L299.5,519.3 L300.5,518.8 L301.5,518.4 L302.5,517.9 L303.5,517.4 L304.5,516.9 L305.5,516.4 L306.5,515.9 L307.5,515.4 L308.5,514.9 L309.5,514.4 L310.5,513.8 L311.5,513.2 L312.5,512.6 L313.5,511.9 L314.5,511.3 L315.5,510.6 L316.5,509.8 L317.5,509.0 L318.5,508.2 L319.5,507.3 L320.5,506.4 L321.5,505.4 L322.5,504.4 L323.5,503.4 L324.5,502.3 L325.5,501.2 L326.5,500.0 L327.5,498.8 L328.5,497.6 L329.5,496.4 L330.5,495.1 L331.5,493.8 L332.5,492.5 L333.5,491.2 L334.5,489.9 L335.5,488.7 L336.5,487.4 L337.5,486.1 L338.5,484.9 L339.5,483.7 L340.5,482.6 L341.5,481.4 L342.5,480.3 L343.5,479.3 L344.5,478.3 L345.5,477.4 L346.5,476.5 L347.5,475.6 L348.5,474.9 L349.5,474.1 L350.5,473.5 L351.5,472.8 L352.5,472.3 L353.5,471.7 L354.5,471.3 L355.5,470.8 L356.5,470.4 L357.5,470.1 L358.5,469.8 L359.5,469.5 L360.5,469.2 L361.5,469.0 L362.5,468.8 L363.5,468.7 L364.5,468.5 L365.5,468.4 L366.5,468.3 L367.5,468.2 L368.5,468.1 L369.5,468.1 L370.5,468.0 L371.5,468.0 L372.5,467.9 L373.5,467.9 L374.5,467.9 L375.5,467.8 L376.5,467.8 L377.5,467.8 L378.5,467.8 L379.5,467.8 L380.5,467.8 L381.5,467.8 L382.5,467.8 L383.5,467.8 L384.5,467.7 L385.5,467.7 L386.5,467.7 L387.5,467.7 L388.5,467.7 L389.5,467.7 L390.5,467.7 L391.5,467.7 L392.5,467.7 L393.5,467.7 L394.5,467.7 L395.5,467.7 L396.5,467.7 L397.5,467.7 L398.5,467.7 L399.5,467.7 L400.5,467.7 L401.5,467.7 L402.5,467.7 L403.5,467.7 L404.5,467.7 L405.5,467.7 L406.5,467.7 L407.5,467.7 L408.5,467.7 L409.5,467.7 L410.5,467.7 L411.5,467.7 L412.5,467.7 L413.5,467.7 L414.5,467.7 L415.5,467.7 L416.5,467.7 L417.5,467.7 L418.5,467.7 L419.5,467.7 L420.5,467.7 L421.5,467.7 L422.5,467.7 L423.5,467.7 L424.5,467.7 L425.5,467.7 L426.5,467.7 L427.5,467.7 L428.5,467.7 L429.5,467.7 L430.5,467.7 L431.5,467.7 L432.5,467.7 L433.5,467.7 L434.5,467.7 L435.5,467.7 L436.5,467.7 L437.5,467.7 L438.5,467.7 L439.5,467.7 L440.5,467.7 L441.5,467.7 L442.5,467.7 L443.5,467.7 L444.5,467.7 L445.5,467.7 L446.5,467.7 L447.5,467.7 L448.5,467.7 L449.5,467.7 L450.5,467.7 L451.5,467.7 L452.5,467.7 L453.5,467.7 L454.5,467.7 L455.5,467.7 L456.5,467.7 L457.5,467.7 L458.5,467.7 L459.5,467.7 L460.5,467.7 L461.5,467.7 L462.5,467.7 L463.5,467.7 L464.5,467.7 L465.5,467.7 L466.5,467.7 L467.5,467.7 L468.5,467.7 L469.5,467.7 L470.5,467.7 L471.5,467.7 L472.5,467.7 L473.5,467.7 L474.5,467.7 L475.5,467.7 L476.5,467.7 L477.5,467.7 L478.5,467.7 L479.5,467.7 L480.5,467.7 L481.5,467.7 L482.5,467.7 L483.5,467.7 L484.5,467.7 L485.5,467.7 L486.5,467.7 L487.5,467.7 L488.5,467.7 L489.5,467.7 L490.5,467.7 L491.5,467.7 L492.5,467.7 L493.5,467.7 L494.5,467.7 L495.5,467.7 L496.5,467.7 L497.5,467.7 L498.5,467.7 L499.5,467.7 L500.5,467.7 L501.5,467.7 L502.5,467.7 L503.5,467.7 L504.5,467.7 L505.5,467.7 L506.5,467.7 L507.5,467.7 L508.5,467.7 L509.5,467.7 L510.5,467.7 L511.5,467.7 L512.5,467.7 L513.5,467.7 L514.5,467.7 L515.5,467.7 L516.5,467.7 L517.5,467.7 L518.5,467.7 L519.5,467.7 L520.5,467.7 L521.5,467.7 L522.5,467.7 L523.5,467.7 L524.5,467.7 L525.5,467.7 L526.5,467.7 L527.5,467.7 L528.5,467.7 L529.5,467.7 L530.5,467.7 L531.5,467.7 L532.5,467.7 L533.5,467.7 L534.5,467.7 L535.5,467.7 L536.5,467.7 L537.5,467.7 L538.5,467.7 L539.5,467.7 L540.5,467.7 L541.5,467.7 L542.5,467.7 L543.5,467.7 L544.5,467.7 L545.5,467.7 L546.5,467.7 L547.5,467.7 L548.5,467.7 L549.5,467.7 L550.5,467.7 L551.5,467.7 L552.5,467.7 L553.5,467.7 L554.5,467.7 L555.5,467.7 L556.5,467.7 L557.5,467.7 L558.5,467.7 L559.5,467.7 L560.5,467.7 L561.5,467.7 L562.5,467.7 L563.5,467.7 L564.5,467.7 L565.5,467.7 L566.5,467.7 L567.5,467.7 L568.5,467.7 L569.5,467.7 L570.5,467.7 L571.5,467.7 L572.5,467.7 L573.5,467.7 L574.5,467.7 L575.5,467.7 L576.5,467.7 L577.5,467.7 L578.5,467.7 L579.5,467.7 L580.5,467.7 L581.5,467.7 L582.5,467.7 L583.5,467.7 L584.5,467.7 L585.5,467.7 L586.5,467.7 L587.5,467.7 L588.5,467.7 L589.5,467.7 L590.5,467.7 L591.5,467.7 L592.5,467.7 L593.5,467.7 L594.5,467.7 L595.5,467.7 L596.5,467.7 L597.5,467.7 L598.5,467.7 L599.5,467.7 L600.5,467.7 L601.5,467.7 L602.5,467.7 L603.5,467.7 L604.5,467.7 L605.5,467.7 L606.5,467.7 L607.5,467.7 L608.5,467.7 L609.5,467.7 L610.5,467.7 L611.5,467.7 L612.5,467.7 L613.5,467.7 L614.5,467.7 L615.5,467.7 L616.5,467.7 L617.5,467.7 L618.5,467.7 L619.5,467.7 L620.5,467.7 L621.5,467.7 L622.5,467.7 L623.5,467.7 L624.5,467.7 L625.5,467.7 L626.5,467.7 L627.5,467.7 L628.5,467.7 L629.5,467.7 L630.5,467.7 L631.5,467.7 L632.5,467.7 L633.5,467.7 L634.5,467.7 L635.5,467.7 L636.5,467.7 L637.5,467.7 L638.5,467.7 L639.5,467.7 L640.5,467.7 L641.5,467.7 L642.5,467.7 L643.5,467.7 L644.5,467.7 L645.5,467.7 L646.5,467.7 L647.5,467.7 L648.5,467.7 L649.5,467.7 L650.5,467.7 L651.5,467.7 L652.5,467.7 L653.5,467.7 L654.5,467.7 L655.5,467.7 L656.5,467.7 L657.5,467.7 L658.5,467.7 L659.5,467.7 L660.5,467.7 L661.5,467.7 L662.5,467.7 L663.5,467.7 L664.5,467.7 L665.5,467.7 L666.5,467.7 L667.5,467.7 L668.5,467.7 L669.5,467.7 L670.5,467.7 L671.5,467.7 L672.5,467.7 L673.5,467.7 L674.5,467.7 L675.5,467.7 L676.5,467.7 L677.5,467.7 L678.5,467.7 L679.5,467.7 L680.5,467.7 L681.5,467.7 L682.5,467.7 L683.5,467.7 L684.5,467.7 L685.5,467.7 L686.5,467.7 L687.5,467.7 L688.5,467.7 L689.5,467.7 L690.5,467.7 L691.5,467.7 L692.5,467.7 L693.5,467.7 L694.5,467.7 L695.5,467.7 L696.5,467.7 L697.5,467.7 L698.5,467.7 L699.5,467.7 L700.5,467.7 L701.5,467.7 L702.5,467.7 L703.5,467.7 L704.5,467.7 L705.5,467.7 L706.5,467.7 L707.5,467.7 L708.5,467.7 L709.5,467.7 L710.5,467.7 L711.5,467.7 L712.5,467.7 L713.5,467.7 L714.5,467.7 L715.5,467.7 L716.5,467.7 L717.5,467.7 L718.5,467.7 L719.5,467.7 L720.5,467.7 L721.5,467.7 L722.5,467.7 L723.5,467.7 L724.5,467.7 L725.5,467.7 L726.5,467.6 L727.5,467.6 L728.5,467.6 L729.5,467.6 L729.75,467.5 L730,467.5 L730.25,467.5 L730.5,467.5 L730.75,467.5 L731,467.5 L731.25,467.5 L731.5,467.5 L731.75,467.4 L732,467.4 L732.25,467.4 L732.5,467.4 L732.75,467.4 L733,467.3 L733.25,467.3 L733.5,467.3 L733.75,467.3 L734,467.3 L734.25,467.2 L734.5,467.2 L734.75,467.2 L735,467.1 L735.25,467.1 L735.5,467.1 L735.75,467.0 L736,467.0 L736.25,467.0 L736.5,466.9 L736.75,466.9 L737,466.8 L737.25,466.8 L737.5,466.7 L737.75,466.7 L738,466.6 L738.25,466.6 L738.5,466.5 L738.75,466.4 L739,466.4 L739.25,466.3 L739.5,466.2 L739.75,466.1 L740,466.0 L740.25,465.9 L740.5,465.8 L740.75,465.7 L741,465.6 L741.25,465.5 L741.5,465.4 L741.75,465.3 L742,465.2 L742.25,465.0 L742.5,464.9 L742.75,464.7 L743,464.6 L743.25,464.4 L743.5,464.2 L743.75,464.1 L744,463.9 L744.25,463.7 L744.5,463.4 L744.75,463.2 L745,463.0 L745.25,462.7 L745.5,462.5 L745.75,462.2 L746,461.9 L746.25,461.6 L746.5,461.3 L746.75,461.0 L747,460.6 L747.25,460.2 L747.5,459.8 L747.75,459.4 L748,459.0 L748.25,458.5 L748.5,458.1 L748.75,457.6 L749,457.0 L749.25,456.5 L749.5,455.9 L749.75,455.3 L750,454.7 L750.25,454.0 L750.5,453.3 L750.75,452.5 L751,451.8 L751.25,450.9 L751.5,450.1 L751.75,449.2 L752,448.2 L752.25,447.2 L752.5,446.2 L752.75,445.1 L753,443.9 L753.25,442.7 L753.5,441.4 L753.75,440.1 L754,438.7 L754.25,437.2 L754.5,435.6 L754.75,434.0 L755,432.3 L755.25,430.5 L755.5,428.6 L755.75,426.6 L756,424.5 L756.25,422.3 L756.5,419.9 L756.75,417.5 L757,414.9 L757.25,412.2 L757.5,409.3 L757.75,406.3 L758,403.1 L758.25,399.7 L758.5,396.2 L758.75,392.3 L759,388.2 L759.25,383.9 L759.5,379.2 L759.75,374.0 L760,368.5 L760.25,362.3 L760.5,360 M241.5,548.6 L242.5,548.5 L243.5,548.4 L244.5,548.2 L245.5,548.1 L246.5,547.9 L247.5,547.7 L248.5,547.5 L249.5,547.3 L250.5,547.1 L251.5,546.8 L252.5,546.6 L253.5,546.3 L254.5,546.0 L255.5,545.7 L256.5,545.4 L257.5,545.1 L258.5,544.7 L259.5,544.4 L260.5,544.0 L261.5,543.6 L262.5,543.2 L263.5,542.7 L264.5,542.3 L265.5,541.8 L266.5,541.4 L267.5,540.9 L268.5,540.4 L269.5,539.9 L270.5,539.4 L271.5,538.8 L272.5,538.3 L273.5,537.7 L274.5,537.2 L275.5,536.6 L276.5,536.0 L277.5,535.4 L278.5,534.8 L279.5,534.2 L280.5,533.6 L281.5,533.0 L282.5,532.4 L283.5,531.8 L284.5,531.2 L285.5,530.6 L286.5,530.0 L287.5,529.4 L288.5,528.8 L289.5,528.2 L290.5,527.7 L291.5,527.1 L292.5,526.5 L293.5,526.0 L294.5,525.4 L295.5,524.9 L296.5,524.4 L297.5,523.8 L298.5,523.3 L299.5,522.8 L300.5,522.3 L301.5,521.9 L302.5,521.4 L303.5,521.0 L304.5,520.5 L305.5,520.1 L306.5,519.7 L307.5,519.2 L308.5,518.8 L309.5,518.4 L310.5,518.0 L311.5,517.6 L312.5,517.3 L313.5,516.9 L314.5,516.5 L315.5,516.1 L316.5,515.7 L317.5,515.3 L318.5,514.9 L319.5,514.4 L320.5,514.0 L321.5,513.5 L322.5,513.0 L323.5,512.5 L324.5,512.0 L325.5,511.4 L326.5,510.9 L327.5,510.2 L328.5,509.6 L329.5,508.9 L330.5,508.2 L331.5,507.4 L332.5,506.6 L333.5,505.7 L334.5,504.9 L335.5,503.9 L336.5,503.0 L337.5,502.0 L338.5,501.0 L339.5,499.9 L340.5,498.8 L341.5,497.7 L342.5,496.6 L343.5,495.4 L344.5,494.3 L345.5,493.1 L346.5,491.9 L347.5,490.7 L348.5,489.5 L349.5,488.4 L350.5,487.2 L351.5,486.1 L352.5,485.0 L353.5,483.9 L354.5,482.8 L355.5,481.8 L356.5,480.8 L357.5,479.9 L358.5,478.9 L359.5,478.1 L360.5,477.2 L361.5,476.5 L362.5,475.7 L363.5,475.0 L364.5,474.4 L365.5,473.8 L366.5,473.2 L367.5,472.7 L368.5,472.3 L369.5,471.8 L370.5,471.4 L371.5,471.1 L372.5,470.8 L373.5,470.5 L374.5,470.2 L375.5,470.0 L376.5,469.8 L377.5,469.6 L378.5,469.4 L379.5,469.3 L380.5,469.2 L381.5,469.1 L382.5,469.0 L383.5,468.9 L384.5,468.8 L385.5,468.8 L386.5,468.7 L387.5,468.7 L388.5,468.6 L389.5,468.6 L390.5,468.6 L391.5,468.5 L392.5,468.5 L393.5,468.5 L394.5,468.5 L395.5,468.5 L396.5,468.5 L397.5,468.5 L398.5,468.5 L399.5,468.5 L400.5,468.5 L401.5,468.5 L402.5,468.5 L403.5,468.5 L404.5,468.4 L405.5,468.4 L406.5,468.4 L407.5,468.4 L408.5,468.4 L409.5,468.4 L410.5,468.4 L411.5,468.4 L412.5,468.4 L413.5,468.4 L414.5,468.4 L415.5,468.4 L416.5,468.4 L417.5,468.4 L418.5,468.4 L419.5,468.4 L420.5,468.4 L421.5,468.4 L422.5,468.4 L423.5,468.4 L424.5,468.4 L425.5,468.4 L426.5,468.4 L427.5,468.4 L428.5,468.4 L429.5,468.4 L430.5,468.4 L431.5,468.4 L432.5,468.4 L433.5,468.4 L434.5,468.4 L435.5,468.4 L436.5,468.4 L437.5,468.4 L438.5,468.4 L439.5,468.4 L440.5,468.4 L441.5,468.4 L442.5,468.4 L443.5,468.4 L444.5,468.4 L445.5,468.4 L446.5,468.4 L447.5,468.4 L448.5,468.4 L449.5,468.4 L450.5,468.4 L451.5,468.4 L452.5,468.4 L453.5,468.4 L454.5,468.4 L455.5,468.4 L456.5,468.4 L457.5,468.4 L458.5,468.4 L459.5,468.4 L460.5,468.4 L461.5,468.4 L462.5,468.4 L463.5,468.4 L464.5,468.4 L465.5,468.4 L466.5,468.4 L467.5,468.4 L468.5,468.4 L469.5,468.4 L470.5,468.4 L471.5,468.4 L472.5,468.4 L473.5,468.4 L474.5,468.4 L475.5,468.4 L476.5,468.4 L477.5,468.4 L478.5,468.4 L479.5,468.4 L480.5,468.4 L481.5,468.4 L482.5,468.4 L483.5,468.4 L484.5,468.4 L485.5,468.4 L486.5,468.4 L487.5,468.4 L488.5,468.4 L489.5,468.4 L490.5,468.4 L491.5,468.4 L492.5,468.4 L493.5,468.4 L494.5,468.4 L495.5,468.4 L496.5,468.4 L497.5,468.4 L498.5,468.4 L499.5,468.4 L500.5,468.4 L501.5,468.4 L502.5,468.4 L503.5,468.4 L504.5,468.4 L505.5,468.4 L506.5,468.4 L507.5,468.4 L508.5,468.4 L509.5,468.4 L510.5,468.4 L511.5,468.4 L512.5,468.4 L513.5,468.4 L514.5,468.4 L515.5,468.4 L516.5,468.4 L517.5,468.4 L518.5,468.4 L519.5,468.4 L520.5,468.4 L521.5,468.4 L522.5,468.4 L523.5,468.4 L524.5,468.4 L525.5,468.4 L526.5,468.4 L527.5,468.4 L528.5,468.4 L529.5,468.4 L530.5,468.4 L531.5,468.4 L532.5,468.4 L533.5,468.4 L534.5,468.4 L535.5,468.4 L536.5,468.4 L537.5,468.4 L538.5,468.4 L539.5,468.4 L540.5,468.4 L541.5,468.4 L542.5,468.4 L543.5,468.4 L544.5,468.4 L545.5,468.4 L546.5,468.4 L547.5,468.4 L548.5,468.4 L549.5,468.4 L550.5,468.4 L551.5,468.4 L552.5,468.4 L553.5,468.4 L554.5,468.4 L555.5,468.4 L556.5,468.4 L557.5,468.4 L558.5,468.4 L559.5,468.4 L560.5,468.4 L561.5,468.4 L562.5,468.4 L563.5,468.4 L564.5,468.4 L565.5,468.4 L566.5,468.4 L567.5,468.4 L568.5,468.4 L569.5,468.4 L570.5,468.4 L571.5,468.4 L572.5,468.4 L573.5,468.4 L574.5,468.4 L575.5,468.4 L576.5,468.4 L577.5,468.4 L578.5,468.4 L579.5,468.4 L580.5,468.4 L581.5,468.4 L582.5,468.4 L583.5,468.4 L584.5,468.4 L585.5,468.4 L586.5,468.4 L587.5,468.4 L588.5,468.4 L589.5,468.4 L590.5,468.4 L591.5,468.4 L592.5,468.4 L593.5,468.4 L594.5,468.4 L595.5,468.4 L596.5,468.4 L597.5,468.4 L598.5,468.4 L599.5,468.4 L600.5,468.4 L601.5,468.4 L602.5,468.4 L603.5,468.4 L604.5,468.4 L605.5,468.4 L606.5,468.4 L607.5,468.4 L608.5,468.4 L609.5,468.4 L610.5,468.4 L611.5,468.4 L612.5,468.4 L613.5,468.4 L614.5,468.4 L615.5,468.4 L616.5,468.4 L617.5,468.4 L618.5,468.4 L619.5,468.4 L620.5,468.4 L621.5,468.4 L622.5,468.4 L623.5,468.4 L624.5,468.4 L625.5,468.4 L626.5,468.4 L627.5,468.4 L628.5,468.4 L629.5,468.4 L630.5,468.4 L631.5,468.4 L632.5,468.4 L633.5,468.4 L634.5,468.4 L635.5,468.4 L636.5,468.4 L637.5,468.4 L638.5,468.4 L639.5,468.4 L640.5,468.4 L641.5,468.4 L642.5,468.4 L643.5,468.4 L644.5,468.4 L645.5,468.4 L646.5,468.4 L647.5,468.4 L648.5,468.4 L649.5,468.4 L650.5,468.4 L651.5,468.4 L652.5,468.4 L653.5,468.4 L654.5,468.4 L655.5,468.4 L656.5,468.4 L657.5,468.4 L658.5,468.4 L659.5,468.4 L660.5,468.4 L661.5,468.4 L662.5,468.4 L663.5,468.4 L664.5,468.4 L665.5,468.4 L666.5,468.4 L667.5,468.4 L668.5,468.4 L669.5,468.4 L670.5,468.4 L671.5,468.4 L672.5,468.4 L673.5,468.4 L674.5,468.4 L675.5,468.4 L676.5,468.4 L677.5,468.4 L678.5,468.4 L679.5,468.4 L680.5,468.4 L681.5,468.4 L682.5,468.4 L683.5,468.4 L684.5,468.4 L685.5,468.4 L686.5,468.4 L687.5,468.4 L688.5,468.4 L689.5,468.4 L690.5,468.4 L691.5,468.4 L692.5,468.4 L693.5,468.4 L694.5,468.4 L695.5,468.4 L696.5,468.4 L697.5,468.4 L698.5,468.4 L699.5,468.4 L700.5,468.4 L701.5,468.4 L702.5,468.4 L703.5,468.4 L704.5,468.4 L705.5,468.4 L706.5,468.4 L707.5,468.4 L708.5,468.4 L709.5,468.4 L710.5,468.4 L711.5,468.4 L712.5,468.4 L713.5,468.4 L714.5,468.4 L715.5,468.4 L716.5,468.4 L717.5,468.4 L718.5,468.4 L719.5,468.4 L720.5,468.4 L721.5,468.4 L722.5,468.4 L723.5,468.4 L724.5,468.4 L725.5,468.3 L726.5,468.3 L727.5,468.3 L728.5,468.2 L729.5,468.2 L729.75,468.2 L730,468.2 L730.25,468.2 L730.5,468.1 L730.75,468.1 L731,468.1 L731.25,468.1 L731.5,468.1 L731.75,468.1 L732,468.0 L732.25,468.0 L732.5,468.0 L732.75,468.0 L733,467.9 L733.25,467.9 L733.5,467.9 L733.75,467.9 L734,467.8 L734.25,467.8 L734.5,467.8 L734.75,467.7 L735,467.7 L735.25,467.6 L735.5,467.6 L735.75,467.6 L736,467.5 L736.25,467.5 L736.5,467.4 L736.75,467.4 L737,467.3 L737.25,467.2 L737.5,467.2 L737.75,467.1 L738,467.0 L738.25,467.0 L738.5,466.9 L738.75,466.8 L739,466.7 L739.25,466.6 L739.5,466.5 L739.75,466.4 L740,466.3 L740.25,466.2 L740.5,466.1 L740.75,466.0 L741,465.9 L741.25,465.7 L741.5,465.6 L741.75,465.5 L742,465.3 L742.25,465.1 L742.5,465.0 L742.75,464.8 L743,464.6 L743.25,464.4 L743.5,464.2 L743.75,464.0 L744,463.8 L744.25,463.5 L744.5,463.3 L744.75,463.0 L745,462.7 L745.25,462.4 L745.5,462.1 L745.75,461.8 L746,461.5 L746.25,461.1 L746.5,460.7 L746.75,460.3 L747,459.9 L747.25,459.5 L747.5,459.0 L747.75,458.6 L748,458.1 L748.25,457.5 L748.5,457.0 L748.75,456.4 L749,455.8 L749.25,455.2 L749.5,454.5 L749.75,453.8 L750,453.0 L750.25,452.3 L750.5,451.5 L750.75,450.6 L751,449.7 L751.25,448.8 L751.5,447.8 L751.75,446.7 L752,445.6 L752.25,444.5 L752.5,443.3 L752.75,442.0 L753,440.7 L753.25,439.3 L753.5,437.8 L753.75,436.3 L754,434.7 L754.25,433.0 L754.5,431.2 L754.75,429.4 L755,427.4 L755.25,425.3 L755.5,423.2 L755.75,420.9 L756,418.5 L756.25,416.0 L756.5,413.4 L756.75,410.6 L757,407.7 L757.25,404.6 L757.5,401.4 L757.75,398.0 L758,394.4 L758.25,390.5 L758.5,386.5 L758.75,382.2 L759,377.5 L759.25,372.6 L759.5,367.3 L759.75,361.4 L760,360 M241.5,548.8 L242.5,548.8 L243.5,548.7 L244.5,548.5 L245.5,548.4 L246.5,548.3 L247.5,548.2 L248.5,548.0 L249.5,547.8 L250.5,547.7 L251.5,547.5 L252.5,547.3 L253.5,547.1 L254.5,546.9 L255.5,546.6 L256.5,546.4 L257.5,546.1 L258.5,545.9 L259.5,545.6 L260.5,545.3 L261.5,545.0 L262.5,544.6 L263.5,544.3 L264.5,543.9 L265.5,543.6 L266.5,543.2 L267.5,542.8 L268.5,542.4 L269.5,541.9 L270.5,541.5 L271.5,541.1 L272.5,540.6 L273.5,540.1 L274.5,539.7 L275.5,539.2 L276.5,538.7 L277.5,538.1 L278.5,537.6 L279.5,537.1 L280.5,536.6 L281.5,536.0 L282.5,535.5 L283.5,534.9 L284.5,534.4 L285.5,533.8 L286.5,533.2 L287.5,532.7 L288.5,532.1 L289.5,531.5 L290.5,531.0 L291.5,530.4 L292.5,529.9 L293.5,529.3 L294.5,528.7 L295.5,528.2 L296.5,527.7 L297.5,527.1 L298.5,526.6 L299.5,526.1 L300.5,525.6 L301.5,525.0 L302.5,524.6 L303.5,524.1 L304.5,523.6 L305.5,523.1 L306.5,522.7 L307.5,522.2 L308.5,521.8 L309.5,521.4 L310.5,521.0 L311.5,520.6 L312.5,520.2 L313.5,519.8 L314.5,519.4 L315.5,519.1 L316.5,518.7 L317.5,518.4 L318.5,518.0 L319.5,517.7 L320.5,517.4 L321.5,517.1 L322.5,516.8 L323.5,516.4 L324.5,516.1 L325.5,515.8 L326.5,515.5 L327.5,515.2 L328.5,514.8 L329.5,514.5 L330.5,514.1 L331.5,513.7 L332.5,513.4 L333.5,513.0 L334.5,512.5 L335.5,512.1 L336.5,511.6 L337.5,511.1 L338.5,510.6 L339.5,510.0 L340.5,509.4 L341.5,508.8 L342.5,508.2 L343.5,507.5 L344.5,506.8 L345.5,506.0 L346.5,505.2 L347.5,504.4 L348.5,503.5 L349.5,502.6 L350.5,501.7 L351.5,500.8 L352.5,499.8 L353.5,498.8 L354.5,497.8 L355.5,496.7 L356.5,495.6 L357.5,494.6 L358.5,493.5 L359.5,492.4 L360.5,491.3 L361.5,490.2 L362.5,489.1 L363.5,488.1 L364.5,487.0 L365.5,485.9 L366.5,484.9 L367.5,483.9 L368.5,483.0 L369.5,482.0 L370.5,481.1 L371.5,480.2 L372.5,479.4 L373.5,478.6 L374.5,477.8 L375.5,477.1 L376.5,476.4 L377.5,475.8 L378.5,475.1 L379.5,474.6 L380.5,474.1 L381.5,473.6 L382.5,473.1 L383.5,472.7 L384.5,472.3 L385.5,472.0 L386.5,471.6 L387.5,471.3 L388.5,471.1 L389.5,470.8 L390.5,470.6 L391.5,470.4 L392.5,470.3 L393.5,470.1 L394.5,470.0 L395.5,469.9 L396.5,469.8 L397.5,469.7 L398.5,469.6 L399.5,469.5 L400.5,469.5 L401.5,469.4 L402.5,469.4 L403.5,469.3 L404.5,469.3 L405.5,469.3 L406.5,469.2 L407.5,469.2 L408.5,469.2 L409.5,469.2 L410.5,469.2 L411.5,469.2 L412.5,469.2 L413.5,469.2 L414.5,469.2 L415.5,469.2 L416.5,469.1 L417.5,469.1 L418.5,469.1 L419.5,469.1 L420.5,469.1 L421.5,469.1 L422.5,469.1 L423.5,469.1 L424.5,469.1 L425.5,469.1 L426.5,469.1 L427.5,469.1 L428.5,469.1 L429.5,469.1 L430.5,469.1 L431.5,469.1 L432.5,469.1 L433.5,469.1 L434.5,469.1 L435.5,469.1 L436.5,469.1 L437.5,469.1 L438.5,469.1 L439.5,469.1 L440.5,469.1 L441.5,469.1 L442.5,469.1 L443.5,469.1 L444.5,469.1 L445.5,469.1 L446.5,469.1 L447.5,469.1 L448.5,469.1 L449.5,469.1 L450.5,469.1 L451.5,469.1 L452.5,469.1 L453.5,469.1 L454.5,469.1 L455.5,469.1 L456.5,469.1 L457.5,469.1 L458.5,469.1 L459.5,469.1 L460.5,469.1 L461.5,469.1 L462.5,469.1 L463.5,469.1 L464.5,469.1 L465.5,469.1 L466.5,469.1 L467.5,469.1 L468.5,469.1 L469.5,469.1 L470.5,469.1 L471.5,469.1 L472.5,469.1 L473.5,469.1 L474.5,469.1 L475.5,469.1 L476.5,469.1 L477.5,469.1 L478.5,469.1 L479.5,469.1 L480.5,469.1 L481.5,469.1 L482.5,469.1 L483.5,469.1 L484.5,469.1 L485.5,469.1 L486.5,469.1 L487.5,469.1 L488.5,469.1 L489.5,469.1 L490.5,469.1 L491.5,469.1 L492.5,469.1 L493.5,469.1 L494.5,469.1 L495.5,469.1 L496.5,469.1 L497.5,469.1 L498.5,469.1 L499.5,469.1 L500.5,469.1 L501.5,469.1 L502.5,469.1 L503.5,469.1 L504.5,469.1 L505.5,469.1 L506.5,469.1 L507.5,469.1 L508.5,469.1 L509.5,469.1 L510.5,469.1 L511.5,469.1 L512.5,469.1 L513.5,469.1 L514.5,469.1 L515.5,469.1 L516.5,469.1 L517.5,469.1 L518.5,469.1 L519.5,469.1 L520.5,469.1 L521.5,469.1 L522.5,469.1 L523.5,469.1 L524.5,469.1 L525.5,469.1 L526.5,469.1 L527.5,469.1 L528.5,469.1 L529.5,469.1 L530.5,469.1 L531.5,469.1 L532.5,469.1 L533.5,469.1 L534.5,469.1 L535.5,469.1 L536.5,469.1 L537.5,469.1 L538.5,469.1 L539.5,469.1 L540.5,469.1 L541.5,469.1 L542.5,469.1 L543.5,469.1 L544.5,469.1 L545.5,469.1 L546.5,469.1 L547.5,469.1 L548.5,469.1 L549.5,469.1 L550.5,469.1 L551.5,469.1 L552.5,469.1 L553.5,469.1 L554.5,469.1 L555.5,469.1 L556.5,469.1 L557.5,469.1 L558.5,469.1 L559.5,469.1 L560.5,469.1 L561.5,469.1 L562.5,469.1 L563.5,469.1 L564.5,469.1 L565.5,469.1 L566.5,469.1 L567.5,469.1 L568.5,469.1 L569.5,469.1 L570.5,469.1 L571.5,469.1 L572.5,469.1 L573.5,469.1 L574.5,469.1 L575.5,469.1 L576.5,469.1 L577.5,469.1 L578.5,469.1 L579.5,469.1 L580.5,469.1 L581.5,469.1 L582.5,469.1 L583.5,469.1 L584.5,469.1 L585.5,469.1 L586.5,469.1 L587.5,469.1 L588.5,469.1 L589.5,469.1 L590.5,469.1 L591.5,469.1 L592.5,469.1 L593.5,469.1 L594.5,469.1 L595.5,469.1 L596.5,469.1 L597.5,469.1 L598.5,469.1 L599.5,469.1 L600.5,469.1 L601.5,469.1 L602.5,469.1 L603.5,469.1 L604.5,469.1 L605.5,469.1 L606.5,469.1 L607.5,469.1 L608.5,469.1 L609.5,469.1 L610.5,469.1 L611.5,469.1 L612.5,469.1 L613.5,469.1 L614.5,469.1 L615.5,469.1 L616.5,469.1 L617.5,469.1 L618.5,469.1 L619.5,469.1 L620.5,469.1 L621.5,469.1 L622.5,469.1 L623.5,469.1 L624.5,469.1 L625.5,469.1 L626.5,469.1 L627.5,469.1 L628.5,469.1 L629.5,469.1 L630.5,469.1 L631.5,469.1 L632.5,469.1 L633.5,469.1 L634.5,469.1 L635.5,469.1 L636.5,469.1 L637.5,469.1 L638.5,469.1 L639.5,469.1 L640.5,469.1 L641.5,469.1 L642.5,469.1 L643.5,469.1 L644.5,469.1 L645.5,469.1 L646.5,469.1 L647.5,469.1 L648.5,469.1 L649.5,469.1 L650.5,469.1 L651.5,469.1 L652.5,469.1 L653.5,469.1 L654.5,469.1 L655.5,469.1 L656.5,469.1 L657.5,469.1 L658.5,469.1 L659.5,469.1 L660.5,469.1 L661.5,469.1 L662.5,469.1 L663.5,469.1 L664.5,469.1 L665.5,469.1 L666.5,469.1 L667.5,469.1 L668.5,469.1 L669.5,469.1 L670.5,469.1 L671.5,469.1 L672.5,469.1 L673.5,469.1 L674.5,469.1 L675.5,469.1 L676.5,469.1 L677.5,469.1 L678.5,469.1 L679.5,469.1 L680.5,469.1 L681.5,469.1 L682.5,469.1 L683.5,469.1 L684.5,469.1 L685.5,469.1 L686.5,469.1 L687.5,469.1 L688.5,469.1 L689.5,469.1 L690.5,469.1 L691.5,469.1 L692.5,469.1 L693.5,469.1 L694.5,469.1 L695.5,469.1 L696.5,469.1 L697.5,469.1 L698.5,469.1 L699.5,469.1 L700.5,469.1 L701.5,469.1 L702.5,469.1 L703.5,469.1 L704.5,469.1 L705.5,469.1 L706.5,469.1 L707.5,469.1 L708.5,469.1 L709.5,469.1 L710.5,469.1 L711.5,469.1 L712.5,469.1 L713.5,469.1 L714.5,469.1 L715.5,469.1 L716.5,469.1 L717.5,469.1 L718.5,469.1 L719.5,469.1 L720.5,469.1 L721.5,469.1 L722.5,469.1 L723.5,469.0 L724.5,469.0 L725.5,469.0 L726.5,469.0 L727.5,468.9 L728.5,468.9 L729.5,468.8 L729.75,468.8 L730,468.8 L730.25,468.8 L730.5,468.8 L730.75,468.7 L731,468.7 L731.25,468.7 L731.5,468.7 L731.75,468.7 L732,468.6 L732.25,468.6 L732.5,468.6 L732.75,468.5 L733,468.5 L733.25,468.5 L733.5,468.4 L733.75,468.4 L734,468.4 L734.25,468.3 L734.5,468.3 L734.75,468.3 L735,468.2 L735.25,468.2 L735.5,468.1 L735.75,468.1 L736,468.0 L736.25,467.9 L736.5,467.9 L736.75,467.8 L737,467.8 L737.25,467.7 L737.5,467.6 L737.75,467.5 L738,467.5 L738.25,467.4 L738.5,467.3 L738.75,467.2 L739,467.1 L739.25,467.0 L739.5,466.9 L739.75,466.8 L740,466.6 L740.25,466.5 L740.5,466.4 L740.75,466.2 L741,466.1 L741.25,465.9 L741.5,465.8 L741.75,465.6 L742,465.4 L742.25,465.2 L742.5,465.0 L742.75,464.8 L743,464.6 L743.25,464.4 L743.5,464.2 L743.75,463.9 L744,463.6 L744.25,463.4 L744.5,463.1 L744.75,462.8 L745,462.5 L745.25,462.1 L745.5,461.8 L745.75,461.4 L746,461.0 L746.25,460.6 L746.5,460.2 L746.75,459.7 L747,459.3 L747.25,458.8 L747.5,458.3 L747.75,457.7 L748,457.2 L748.25,456.6 L748.5,455.9 L748.75,455.3 L749,454.6 L749.25,453.9 L749.5,453.1 L749.75,452.3 L750,451.5 L750.25,450.6 L750.5,449.7 L750.75,448.7 L751,447.7 L751.25,446.6 L751.5,445.5 L751.75,444.3 L752,443.1 L752.25,441.8 L752.5,440.4 L752.75,439.0 L753,437.5 L753.25,436.0 L753.5,434.3 L753.75,432.6 L754,430.8 L754.25,428.9 L754.5,426.9 L754.75,424.8 L755,422.6 L755.25,420.3 L755.5,417.9 L755.75,415.4 L756,412.7 L756.25,409.9 L756.5,407.0 L756.75,403.8 L757,400.6 L757.25,397.2 L757.5,393.6 L757.75,389.8 L758,385.8 L758.25,381.5 L758.5,377.0 L758.75,372.2 L759,367.0 L759.25,361.6 L759.5,360 M241.5,549.0 L242.5,548.9 L243.5,548.9 L244.5,548.8 L245.5,548.7 L246.5,548.6 L247.5,548.5 L248.5,548.4 L249.5,548.2 L250.5,548.1 L251.5,548.0 L252.5,547.8 L253.5,547.7 L254.5,547.5 L255.5,547.3 L256.5,547.1 L257.5,546.9 L258.5,546.7 L259.5,546.5 L260.5,546.2 L261.5,546.0 L262.5,545.7 L263.5,545.4 L264.5,545.2 L265.5,544.9 L266.5,544.6 L267.5,544.2 L268.5,543.9 L269.5,543.5 L270.5,543.2 L271.5,542.8 L272.5,542.4 L273.5,542.0 L274.5,541.6 L275.5,541.2 L276.5,540.8 L277.5,540.3 L278.5,539.9 L279.5,539.4 L280.5,539.0 L281.5,538.5 L282.5,538.0 L283.5,537.5 L284.5,537.0 L285.5,536.5 L286.5,536.0 L287.5,535.5 L288.5,535.0 L289.5,534.4 L290.5,533.9 L291.5,533.4 L292.5,532.8 L293.5,532.3 L294.5,531.8 L295.5,531.3 L296.5,530.7 L297.5,530.2 L298.5,529.7 L299.5,529.1 L300.5,528.6 L301.5,528.1 L302.5,527.6 L303.5,527.1 L304.5,526.6 L305.5,526.1 L306.5,525.6 L307.5,525.2 L308.5,524.7 L309.5,524.2 L310.5,523.8 L311.5,523.3 L312.5,522.9 L313.5,522.5 L314.5,522.1 L315.5,521.7 L316.5,521.3 L317.5,520.9 L318.5,520.6 L319.5,520.2 L320.5,519.9 L321.5,519.5 L322.5,519.2 L323.5,518.9 L324.5,518.6 L325.5,518.3 L326.5,518.0 L327.5,517.7 L328.5,517.4 L329.5,517.2 L330.5,516.9 L331.5,516.6 L332.5,516.4 L333.5,516.1 L334.5,515.8 L335.5,515.6 L336.5,515.3 L337.5,515.1 L338.5,514.8 L339.5,514.5 L340.5,514.2 L341.5,513.9 L342.5,513.6 L343.5,513.3 L344.5,512.9 L345.5,512.6 L346.5,512.2 L347.5,511.8 L348.5,511.4 L349.5,510.9 L350.5,510.4 L351.5,509.9 L352.5,509.4 L353.5,508.8 L354.5,508.2 L355.5,507.6 L356.5,507.0 L357.5,506.3 L358.5,505.5 L359.5,504.8 L360.5,504.0 L361.5,503.2 L362.5,502.4 L363.5,501.5 L364.5,500.6 L365.5,499.7 L366.5,498.7 L367.5,497.8 L368.5,496.8 L369.5,495.8 L370.5,494.8 L371.5,493.8 L372.5,492.8 L373.5,491.7 L374.5,490.7 L375.5,489.7 L376.5,488.7 L377.5,487.7 L378.5,486.7 L379.5,485.8 L380.5,484.8 L381.5,483.9 L382.5,483.0 L383.5,482.1 L384.5,481.3 L385.5,480.5 L386.5,479.7 L387.5,479.0 L388.5,478.3 L389.5,477.6 L390.5,477.0 L391.5,476.3 L392.5,475.8 L393.5,475.2 L394.5,474.7 L395.5,474.3 L396.5,473.8 L397.5,473.4 L398.5,473.1 L399.5,472.7 L400.5,472.4 L401.5,472.1 L402.5,471.9 L403.5,471.6 L404.5,471.4 L405.5,471.2 L406.5,471.1 L407.5,470.9 L408.5,470.8 L409.5,470.6 L410.5,470.5 L411.5,470.4 L412.5,470.3 L413.5,470.3 L414.5,470.2 L415.5,470.1 L416.5,470.1 L417.5,470.1 L418.5,470.0 L419.5,470.0 L420.5,470.0 L421.5,469.9 L422.5,469.9 L423.5,469.9 L424.5,469.9 L425.5,469.9 L426.5,469.9 L427.5,469.8 L428.5,469.8 L429.5,469.8 L430.5,469.8 L431.5,469.8 L432.5,469.8 L433.5,469.8 L434.5,469.8 L435.5,469.8 L436.5,469.8 L437.5,469.8 L438.5,469.8 L439.5,469.8 L440.5,469.8 L441.5,469.8 L442.5,469.8 L443.5,469.8 L444.5,469.8 L445.5,469.8 L446.5,469.8 L447.5,469.8 L448.5,469.8 L449.5,469.8 L450.5,469.8 L451.5,469.8 L452.5,469.8 L453.5,469.8 L454.5,469.8 L455.5,469.8 L456.5,469.8 L457.5,469.8 L458.5,469.8 L459.5,469.8 L460.5,469.8 L461.5,469.8 L462.5,469.8 L463.5,469.8 L464.5,469.8 L465.5,469.8 L466.5,469.8 L467.5,469.8 L468.5,469.8 L469.5,469.8 L470.5,469.8 L471.5,469.8 L472.5,469.8 L473.5,469.8 L474.5,469.8 L475.5,469.8 L476.5,469.8 L477.5,469.8 L478.5,469.8 L479.5,469.8 L480.5,469.8 L481.5,469.8 L482.5,469.8 L483.5,469.8 L484.5,469.8 L485.5,469.8 L486.5,469.8 L487.5,469.8 L488.5,469.8 L489.5,469.8 L490.5,469.8 L491.5,469.8 L492.5,469.8 L493.5,469.8 L494.5,469.8 L495.5,469.8 L496.5,469.8 L497.5,469.8 L498.5,469.8 L499.5,469.8 L500.5,469.8 L501.5,469.8 L502.5,469.8 L503.5,469.8 L504.5,469.8 L505.5,469.8 L506.5,469.8 L507.5,469.8 L508.5,469.8 L509.5,469.8 L510.5,469.8 L511.5,469.8 L512.5,469.8 L513.5,469.8 L514.5,469.8 L515.5,469.8 L516.5,469.8 L517.5,469.8 L518.5,469.8 L519.5,469.8 L520.5,469.8 L521.5,469.8 L522.5,469.8 L523.5,469.8 L524.5,469.8 L525.5,469.8 L526.5,469.8 L527.5,469.8 L528.5,469.8 L529.5,469.8 L530.5,469.8 L531.5,469.8 L532.5,469.8 L533.5,469.8 L534.5,469.8 L535.5,469.8 L536.5,469.8 L537.5,469.8 L538.5,469.8 L539.5,469.8 L540.5,469.8 L541.5,469.8 L542.5,469.8 L543.5,469.8 L544.5,469.8 L545.5,469.8 L546.5,469.8 L547.5,469.8 L548.5,469.8 L549.5,469.8 L550.5,469.8 L551.5,469.8 L552.5,469.8 L553.5,469.8 L554.5,469.8 L555.5,469.8 L556.5,469.8 L557.5,469.8 L558.5,469.8 L559.5,469.8 L560.5,469.8 L561.5,469.8 L562.5,469.8 L563.5,469.8 L564.5,469.8 L565.5,469.8 L566.5,469.8 L567.5,469.8 L568.5,469.8 L569.5,469.8 L570.5,469.8 L571.5,469.8 L572.5,469.8 L573.5,469.8 L574.5,469.8 L575.5,469.8 L576.5,469.8 L577.5,469.8 L578.5,469.8 L579.5,469.8 L580.5,469.8 L581.5,469.8 L582.5,469.8 L583.5,469.8 L584.5,469.8 L585.5,469.8 L586.5,469.8 L587.5,469.8 L588.5,469.8 L589.5,469.8 L590.5,469.8 L591.5,469.8 L592.5,469.8 L593.5,469.8 L594.5,469.8 L595.5,469.8 L596.5,469.8 L597.5,469.8 L598.5,469.8 L599.5,469.8 L600.5,469.8 L601.5,469.8 L602.5,469.8 L603.5,469.8 L604.5,469.8 L605.5,469.8 L606.5,469.8 L607.5,469.8 L608.5,469.8 L609.5,469.8 L610.5,469.8 L611.5,469.8 L612.5,469.8 L613.5,469.8 L614.5,469.8 L615.5,469.8 L616.5,469.8 L617.5,469.8 L618.5,469.8 L619.5,469.8 L620.5,469.8 L621.5,469.8 L622.5,469.8 L623.5,469.8 L624.5,469.8 L625.5,469.8 L626.5,469.8 L627.5,469.8 L628.5,469.8 L629.5,469.8 L630.5,469.8 L631.5,469.8 L632.5,469.8 L633.5,469.8 L634.5,469.8 L635.5,469.8 L636.5,469.8 L637.5,469.8 L638.5,469.8 L639.5,469.8 L640.5,469.8 L641.5,469.8 L642.5,469.8 L643.5,469.8 L644.5,469.8 L645.5,469.8 L646.5,469.8 L647.5,469.8 L648.5,469.8 L649.5,469.8 L650.5,469.8 L651.5,469.8 L652.5,469.8 L653.5,469.8 L654.5,469.8 L655.5,469.8 L656.5,469.8 L657.5,469.8 L658.5,469.8 L659.5,469.8 L660.5,469.8 L661.5,469.8 L662.5,469.8 L663.5,469.8 L664.5,469.8 L665.5,469.8 L666.5,469.8 L667.5,469.8 L668.5,469.8 L669.5,469.8 L670.5,469.8 L671.5,469.8 L672.5,469.8 L673.5,469.8 L674.5,469.8 L675.5,469.8 L676.5,469.8 L677.5,469.8 L678.5,469.8 L679.5,469.8 L680.5,469.8 L681.5,469.8 L682.5,469.8 L683.5,469.8 L684.5,469.8 L685.5,469.8 L686.5,469.8 L687.5,469.8 L688.5,469.8 L689.5,469.8 L690.5,469.8 L691.5,469.8 L692.5,469.8 L693.5,469.8 L694.5,469.8 L695.5,469.8 L696.5,469.8 L697.5,469.8 L698.5,469.8 L699.5,469.8 L700.5,469.8 L701.5,469.8 L702.5,469.8 L703.5,469.8 L704.5,469.8 L705.5,469.8 L706.5,469.8 L707.5,469.8 L708.5,469.8 L709.5,469.8 L710.5,469.8 L711.5,469.8 L712.5,469.8 L713.5,469.8 L714.5,469.8 L715.5,469.8 L716.5,469.8 L717.5,469.8 L718.5,469.8 L719.5,469.8 L720.5,469.7 L721.5,469.7 L722.5,469.7 L723.5,469.7 L724.5,469.7 L725.5,469.6 L726.5,469.6 L727.5,469.6 L728.5,469.5 L729.5,469.4 L729.75,469.4 L730,469.4 L730.25,469.4 L730.5,469.4 L730.75,469.3 L731,469.3 L731.25,469.3 L731.5,469.3 L731.75,469.2 L732,469.2 L732.25,469.2 L732.5,469.1 L732.75,469.1 L733,469.1 L733.25,469.0 L733.5,469.0 L733.75,469.0 L734,468.9 L734.25,468.9 L734.5,468.8 L734.75,468.8 L735,468.7 L735.25,468.7 L735.5,468.6 L735.75,468.5 L736,468.5 L736.25,468.4 L736.5,468.3 L736.75,468.3 L737,468.2 L737.25,468.1 L737.5,468.0 L737.75,467.9 L738,467.9 L738.25,467.8 L738.5,467.7 L738.75,467.5 L739,467.4 L739.25,467.3 L739.5,467.2 L739.75,467.1 L740,466.9 L740.25,466.8 L740.5,466.6 L740.75,466.5 L741,466.3 L741.25,466.1 L741.5,465.9 L741.75,465.8 L742,465.6 L742.25,465.3 L742.5,465.1 L742.75,464.9 L743,464.6 L743.25,464.4 L743.5,464.1 L743.75,463.8 L744,463.5 L744.25,463.2 L744.5,462.9 L744.75,462.6 L745,462.2 L745.25,461.8 L745.5,461.4 L745.75,461.0 L746,460.6 L746.25,460.1 L746.5,459.6 L746.75,459.1 L747,458.6 L747.25,458.1 L747.5,457.5 L747.75,456.9 L748,456.2 L748.25,455.6 L748.5,454.9 L748.75,454.1 L749,453.4 L749.25,452.6 L749.5,451.7 L749.75,450.8 L750,449.9 L750.25,448.9 L750.5,447.9 L750.75,446.8 L751,445.7 L751.25,444.5 L751.5,443.2 L751.75,441.9 L752,440.6 L752.25,439.1 L752.5,437.6 L752.75,436.1 L753,434.4 L753.25,432.7 L753.5,430.9 L753.75,428.9 L754,427.0 L754.25,424.9 L754.5,422.6 L754.75,420.3 L755,417.9 L755.25,415.4 L755.5,412.7 L755.75,409.9 L756,407.0 L756.25,403.9 L756.5,400.7 L756.75,397.2 L757,393.7 L757.25,389.9 L757.5,385.9 L757.75,381.7 L758,377.3 L758.25,372.6 L758.5,367.7 L758.75,362.4 L759,360 M241.5,549.1 L242.5,549.1 L243.5,549.0 L244.5,549.0 L245.5,548.9 L246.5,548.8 L247.5,548.7 L248.5,548.6 L249.5,548.5 L250.5,548.4 L251.5,548.3 L252.5,548.2 L253.5,548.1 L254.5,547.9 L255.5,547.8 L256.5,547.7 L257.5,547.5 L258.5,547.3 L259.5,547.2 L260.5,547.0 L261.5,546.8 L262.5,546.6 L263.5,546.3 L264.5,546.1 L265.5,545.9 L266.5,545.6 L267.5,545.4 L268.5,545.1 L269.5,544.8 L270.5,544.5 L271.5,544.2 L272.5,543.9 L273.5,543.5 L274.5,543.2 L275.5,542.9 L276.5,542.5 L277.5,542.1 L278.5,541.7 L279.5,541.3 L280.5,540.9 L281.5,540.5 L282.5,540.1 L283.5,539.7 L284.5,539.2 L285.5,538.8 L286.5,538.3 L287.5,537.9 L288.5,537.4 L289.5,536.9 L290.5,536.5 L291.5,536.0 L292.5,535.5 L293.5,535.0 L294.5,534.5 L295.5,534.0 L296.5,533.5 L297.5,533.0 L298.5,532.5 L299.5,532.0 L300.5,531.5 L301.5,531.0 L302.5,530.5 L303.5,530.0 L304.5,529.5 L305.5,529.0 L306.5,528.5 L307.5,528.0 L308.5,527.5 L309.5,527.0 L310.5,526.6 L311.5,526.1 L312.5,525.7 L313.5,525.2 L314.5,524.8 L315.5,524.3 L316.5,523.9 L317.5,523.5 L318.5,523.1 L319.5,522.7 L320.5,522.3 L321.5,521.9 L322.5,521.6 L323.5,521.2 L324.5,520.9 L325.5,520.5 L326.5,520.2 L327.5,519.9 L328.5,519.6 L329.5,519.3 L330.5,519.0 L331.5,518.7 L332.5,518.4 L333.5,518.2 L334.5,517.9 L335.5,517.6 L336.5,517.4 L337.5,517.2 L338.5,516.9 L339.5,516.7 L340.5,516.5 L341.5,516.3 L342.5,516.1 L343.5,515.9 L344.5,515.6 L345.5,515.4 L346.5,515.2 L347.5,515.0 L348.5,514.8 L349.5,514.5 L350.5,514.3 L351.5,514.1 L352.5,513.8 L353.5,513.5 L354.5,513.3 L355.5,513.0 L356.5,512.6 L357.5,512.3 L358.5,512.0 L359.5,511.6 L360.5,511.2 L361.5,510.8 L362.5,510.3 L363.5,509.9 L364.5,509.4 L365.5,508.9 L366.5,508.3 L367.5,507.7 L368.5,507.1 L369.5,506.5 L370.5,505.8 L371.5,505.1 L372.5,504.4 L373.5,503.7 L374.5,502.9 L375.5,502.1 L376.5,501.3 L377.5,500.4 L378.5,499.5 L379.5,498.7 L380.5,497.7 L381.5,496.8 L382.5,495.9 L383.5,494.9 L384.5,494.0 L385.5,493.0 L386.5,492.1 L387.5,491.1 L388.5,490.2 L389.5,489.2 L390.5,488.3 L391.5,487.4 L392.5,486.5 L393.5,485.6 L394.5,484.7 L395.5,483.8 L396.5,483.0 L397.5,482.2 L398.5,481.4 L399.5,480.7 L400.5,480.0 L401.5,479.3 L402.5,478.6 L403.5,478.0 L404.5,477.4 L405.5,476.8 L406.5,476.3 L407.5,475.8 L408.5,475.3 L409.5,474.9 L410.5,474.5 L411.5,474.1 L412.5,473.8 L413.5,473.4 L414.5,473.1 L415.5,472.9 L416.5,472.6 L417.5,472.4 L418.5,472.2 L419.5,472.0 L420.5,471.8 L421.5,471.6 L422.5,471.5 L423.5,471.4 L424.5,471.3 L425.5,471.2 L426.5,471.1 L427.5,471.0 L428.5,470.9 L429.5,470.9 L430.5,470.8 L431.5,470.8 L432.5,470.7 L433.5,470.7 L434.5,470.6 L435.5,470.6 L436.5,470.6 L437.5,470.6 L438.5,470.6 L439.5,470.5 L440.5,470.5 L441.5,470.5 L442.5,470.5 L443.5,470.5 L444.5,470.5 L445.5,470.5 L446.5,470.5 L447.5,470.5 L448.5,470.5 L449.5,470.5 L450.5,470.5 L451.5,470.5 L452.5,470.5 L453.5,470.5 L454.5,470.5 L455.5,470.5 L456.5,470.5 L457.5,470.5 L458.5,470.5 L459.5,470.5 L460.5,470.5 L461.5,470.5 L462.5,470.5 L463.5,470.5 L464.5,470.5 L465.5,470.5 L466.5,470.5 L467.5,470.5 L468.5,470.5 L469.5,470.5 L470.5,470.5 L471.5,470.5 L472.5,470.5 L473.5,470.5 L474.5,470.5 L475.5,470.5 L476.5,470.5 L477.5,470.5 L478.5,470.5 L479.5,470.5 L480.5,470.5 L481.5,470.5 L482.5,470.5 L483.5,470.5 L484.5,470.5 L485.5,470.5 L486.5,470.5 L487.5,470.5 L488.5,470.5 L489.5,470.5 L490.5,470.5 L491.5,470.5 L492.5,470.5 L493.5,470.5 L494.5,470.5 L495.5,470.5 L496.5,470.5 L497.5,470.5 L498.5,470.5 L499.5,470.5 L500.5,470.5 L501.5,470.5 L502.5,470.5 L503.5,470.5 L504.5,470.5 L505.5,470.5 L506.5,470.5 L507.5,470.5 L508.5,470.5 L509.5,470.5 L510.5,470.5 L511.5,470.5 L512.5,470.5 L513.5,470.5 L514.5,470.5 L515.5,470.5 L516.5,470.5 L517.5,470.5 L518.5,470.5 L519.5,470.5 L520.5,470.5 L521.5,470.5 L522.5,470.5 L523.5,470.5 L524.5,470.5 L525.5,470.5 L526.5,470.5 L527.5,470.5 L528.5,470.5 L529.5,470.5 L530.5,470.5 L531.5,470.5 L532.5,470.5 L533.5,470.5 L534.5,470.5 L535.5,470.5 L536.5,470.5 L537.5,470.5 L538.5,470.5 L539.5,470.5 L540.5,470.5 L541.5,470.5 L542.5,470.5 L543.5,470.5 L544.5,470.5 L545.5,470.5 L546.5,470.5 L547.5,470.5 L548.5,470.5 L549.5,470.5 L550.5,470.5 L551.5,470.5 L552.5,470.5 L553.5,470.5 L554.5,470.5 L555.5,470.5 L556.5,470.5 L557.5,470.5 L558.5,470.5 L559.5,470.5 L560.5,470.5 L561.5,470.5 L562.5,470.5 L563.5,470.5 L564.5,470.5 L565.5,470.5 L566.5,470.5 L567.5,470.5 L568.5,470.5 L569.5,470.5 L570.5,470.5 L571.5,470.5 L572.5,470.5 L573.5,470.5 L574.5,470.5 L575.5,470.5 L576.5,470.5 L577.5,470.5 L578.5,470.5 L579.5,470.5 L580.5,470.5 L581.5,470.5 L582.5,470.5 L583.5,470.5 L584.5,470.5 L585.5,470.5 L586.5,470.5 L587.5,470.5 L588.5,470.5 L589.5,470.5 L590.5,470.5 L591.5,470.5 L592.5,470.5 L593.5,470.5 L594.5,470.5 L595.5,470.5 L596.5,470.5 L597.5,470.5 L598.5,470.5 L599.5,470.5 L600.5,470.5 L601.5,470.5 L602.5,470.5 L603.5,470.5 L604.5,470.5 L605.5,470.5 L606.5,470.5 L607.5,470.5 L608.5,470.5 L609.5,470.5 L610.5,470.5 L611.5,470.5 L612.5,470.5 L613.5,470.5 L614.5,470.5 L615.5,470.5 L616.5,470.5 L617.5,470.5 L618.5,470.5 L619.5,470.5 L620.5,470.5 L621.5,470.5 L622.5,470.5 L623.5,470.5 L624.5,470.5 L625.5,470.5 L626.5,470.5 L627.5,470.5 L628.5,470.5 L629.5,470.5 L630.5,470.5 L631.5,470.5 L632.5,470.5 L633.5,470.5 L634.5,470.5 L635.5,470.5 L636.5,470.5 L637.5,470.5 L638.5,470.5 L639.5,470.5 L640.5,470.5 L641.5,470.5 L642.5,470.5 L643.5,470.5 L644.5,470.5 L645.5,470.5 L646.5,470.5 L647.5,470.5 L648.5,470.5 L649.5,470.5 L650.5,470.5 L651.5,470.5 L652.5,470.5 L653.5,470.5 L654.5,470.5 L655.5,470.5 L656.5,470.5 L657.5,470.5 L658.5,470.5 L659.5,470.5 L660.5,470.5 L661.5,470.5 L662.5,470.5 L663.5,470.5 L664.5,470.5 L665.5,470.5 L666.5,470.5 L667.5,470.5 L668.5,470.5 L669.5,470.5 L670.5,470.5 L671.5,470.5 L672.5,470.5 L673.5,470.5 L674.5,470.5 L675.5,470.5 L676.5,470.5 L677.5,470.5 L678.5,470.5 L679.5,470.5 L680.5,470.5 L681.5,470.5 L682.5,470.5 L683.5,470.5 L684.5,470.5 L685.5,470.5 L686.5,470.5 L687.5,470.5 L688.5,470.5 L689.5,470.5 L690.5,470.5 L691.5,470.5 L692.5,470.5 L693.5,470.5 L694.5,470.5 L695.5,470.5 L696.5,470.5 L697.5,470.5 L698.5,470.5 L699.5,470.5 L700.5,470.5 L701.5,470.5 L702.5,470.5 L703.5,470.5 L704.5,470.5 L705.5,470.5 L706.5,470.5 L707.5,470.5 L708.5,470.5 L709.5,470.5 L710.5,470.5 L711.5,470.4 L712.5,470.4 L713.5,470.4 L714.5,470.4 L715.5,470.4 L716.5,470.4 L717.5,470.4 L718.5,470.4 L719.5,470.4 L720.5,470.4 L721.5,470.4 L722.5,470.4 L723.5,470.3 L724.5,470.3 L725.5,470.3 L726.5,470.2 L727.5,470.2 L728.5,470.1 L729.5,470.0 L729.75,470.0 L730,470.0 L730.25,470.0 L730.5,469.9 L730.75,469.9 L731,469.9 L731.25,469.9 L731.5,469.8 L731.75,469.8 L732,469.8 L732.25,469.7 L732.5,469.7 L732.75,469.7 L733,469.6 L733.25,469.6 L733.5,469.5 L733.75,469.5 L734,469.4 L734.25,469.4 L734.5,469.3 L734.75,469.3 L735,469.2 L735.25,469.2 L735.5,469.1 L735.75,469.0 L736,468.9 L736.25,468.9 L736.5,468.8 L736.75,468.7 L737,468.6 L737.25,468.5 L737.5,468.4 L737.75,468.3 L738,468.2 L738.25,468.1 L738.5,468.0 L738.75,467.9 L739,467.8 L739.25,467.6 L739.5,467.5 L739.75,467.3 L740,467.2 L740.25,467.0 L740.5,466.9 L740.75,466.7 L741,466.5 L741.25,466.3 L741.5,466.1 L741.75,465.9 L742,465.7 L742.25,465.4 L742.5,465.2 L742.75,464.9 L743,464.6 L743.25,464.4 L743.5,464.1 L743.75,463.7 L744,463.4 L744.25,463.1 L744.5,462.7 L744.75,462.3 L745,461.9 L745.25,461.5 L745.5,461.1 L745.75,460.6 L746,460.1 L746.25,459.6 L746.5,459.1 L746.75,458.5 L747,458.0 L747.25,457.4 L747.5,456.7 L747.75,456.0 L748,455.3 L748.25,454.6 L748.5,453.8 L748.75,453.0 L749,452.2 L749.25,451.3 L749.5,450.3 L749.75,449.4 L750,448.3 L750.25,447.3 L750.5,446.1 L750.75,444.9 L751,443.7 L751.25,442.4 L751.5,441.0 L751.75,439.6 L752,438.1 L752.25,436.5 L752.5,434.9 L752.75,433.2 L753,431.3 L753.25,429.5 L753.5,427.5 L753.75,425.4 L754,423.2 L754.25,420.9 L754.5,418.5 L754.75,416.0 L755,413.3 L755.25,410.5 L755.5,407.6 L755.75,404.6 L756,401.3 L756.25,398.0 L756.5,394.5 L756.75,390.7 L757,386.8 L757.25,382.7 L757.5,378.4 L757.75,373.8 L758,369.0 L758.25,363.9 L758.5,360 M241.5,549.2 L242.5,549.2 L243.5,549.1 L244.5,549.1 L245.5,549.0 L246.5,549.0 L247.5,548.9 L248.5,548.8 L249.5,548.8 L250.5,548.7 L251.5,548.6 L252.5,548.5 L253.5,548.4 L254.5,548.3 L255.5,548.2 L256.5,548.1 L257.5,547.9 L258.5,547.8 L259.5,547.7 L260.5,547.5 L261.5,547.4 L262.5,547.2 L263.5,547.0 L264.5,546.8 L265.5,546.6 L266.5,546.4 L267.5,546.2 L268.5,546.0 L269.5,545.8 L270.5,545.5 L271.5,545.3 L272.5,545.0 L273.5,544.7 L274.5,544.5 L275.5,544.2 L276.5,543.9 L277.5,543.5 L278.5,543.2 L279.5,542.9 L280.5,542.6 L281.5,542.2 L282.5,541.8 L283.5,541.5 L284.5,541.1 L285.5,540.7 L286.5,540.3 L287.5,539.9 L288.5,539.5 L289.5,539.1 L290.5,538.6 L291.5,538.2 L292.5,537.8 L293.5,537.3 L294.5,536.9 L295.5,536.4 L296.5,535.9 L297.5,535.5 L298.5,535.0 L299.5,534.5 L300.5,534.0 L301.5,533.6 L302.5,533.1 L303.5,532.6 L304.5,532.1 L305.5,531.6 L306.5,531.2 L307.5,530.7 L308.5,530.2 L309.5,529.7 L310.5,529.3 L311.5,528.8 L312.5,528.3 L313.5,527.9 L314.5,527.4 L315.5,527.0 L316.5,526.5 L317.5,526.1 L318.5,525.6 L319.5,525.2 L320.5,524.8 L321.5,524.4 L322.5,524.0 L323.5,523.6 L324.5,523.2 L325.5,522.8 L326.5,522.5 L327.5,522.1 L328.5,521.7 L329.5,521.4 L330.5,521.1 L331.5,520.7 L332.5,520.4 L333.5,520.1 L334.5,519.8 L335.5,519.5 L336.5,519.3 L337.5,519.0 L338.5,518.7 L339.5,518.5 L340.5,518.3 L341.5,518.0 L342.5,517.8 L343.5,517.6 L344.5,517.4 L345.5,517.2 L346.5,517.0 L347.5,516.8 L348.5,516.6 L349.5,516.4 L350.5,516.2 L351.5,516.0 L352.5,515.8 L353.5,515.7 L354.5,515.5 L355.5,515.3 L356.5,515.1 L357.5,515.0 L358.5,514.8 L359.5,514.6 L360.5,514.4 L361.5,514.2 L362.5,514.0 L363.5,513.7 L364.5,513.5 L365.5,513.3 L366.5,513.0 L367.5,512.7 L368.5,512.5 L369.5,512.1 L370.5,511.8 L371.5,511.5 L372.5,511.1 L373.5,510.7 L374.5,510.3 L375.5,509.9 L376.5,509.4 L377.5,508.9 L378.5,508.4 L379.5,507.9 L380.5,507.3 L381.5,506.7 L382.5,506.1 L383.5,505.4 L384.5,504.8 L385.5,504.1 L386.5,503.3 L387.5,502.6 L388.5,501.8 L389.5,501.0 L390.5,500.2 L391.5,499.4 L392.5,498.5 L393.5,497.7 L394.5,496.8 L395.5,495.9 L396.5,495.0 L397.5,494.1 L398.5,493.2 L399.5,492.3 L400.5,491.4 L401.5,490.5 L402.5,489.6 L403.5,488.7 L404.5,487.9 L405.5,487.0 L406.5,486.2 L407.5,485.3 L408.5,484.5 L409.5,483.7 L410.5,483.0 L411.5,482.2 L412.5,481.5 L413.5,480.8 L414.5,480.2 L415.5,479.5 L416.5,478.9 L417.5,478.3 L418.5,477.8 L419.5,477.3 L420.5,476.8 L421.5,476.3 L422.5,475.9 L423.5,475.4 L424.5,475.1 L425.5,474.7 L426.5,474.4 L427.5,474.1 L428.5,473.8 L429.5,473.5 L430.5,473.3 L431.5,473.0 L432.5,472.8 L433.5,472.6 L434.5,472.5 L435.5,472.3 L436.5,472.2 L437.5,472.1 L438.5,471.9 L439.5,471.8 L440.5,471.8 L441.5,471.7 L442.5,471.6 L443.5,471.5 L444.5,471.5 L445.5,471.4 L446.5,471.4 L447.5,471.3 L448.5,471.3 L449.5,471.3 L450.5,471.3 L451.5,471.2 L452.5,471.2 L453.5,471.2 L454.5,471.2 L455.5,471.2 L456.5,471.2 L457.5,471.1 L458.5,471.1 L459.5,471.1 L460.5,471.1 L461.5,471.1 L462.5,471.1 L463.5,471.1 L464.5,471.1 L465.5,471.1 L466.5,471.1 L467.5,471.1 L468.5,471.1 L469.5,471.1 L470.5,471.1 L471.5,471.1 L472.5,471.1 L473.5,471.1 L474.5,471.1 L475.5,471.1 L476.5,471.1 L477.5,471.1 L478.5,471.1 L479.5,471.1 L480.5,471.1 L481.5,471.1 L482.5,471.1 L483.5,471.1 L484.5,471.1 L485.5,471.1 L486.5,471.1 L487.5,471.1 L488.5,471.1 L489.5,471.1 L490.5,471.1 L491.5,471.1 L492.5,471.1 L493.5,471.1 L494.5,471.1 L495.5,471.1 L496.5,471.1 L497.5,471.1 L498.5,471.1 L499.5,471.1 L500.5,471.1 L501.5,471.1 L502.5,471.1 L503.5,471.1 L504.5,471.1 L505.5,471.1 L506.5,471.1 L507.5,471.1 L508.5,471.1 L509.5,471.1 L510.5,471.1 L511.5,471.1 L512.5,471.1 L513.5,471.1 L514.5,471.1 L515.5,471.1 L516.5,471.1 L517.5,471.1 L518.5,471.1 L519.5,471.1 L520.5,471.1 L521.5,471.1 L522.5,471.1 L523.5,471.1 L524.5,471.1 L525.5,471.1 L526.5,471.1 L527.5,471.1 L528.5,471.1 L529.5,471.1 L530.5,471.1 L531.5,471.1 L532.5,471.1 L533.5,471.1 L534.5,471.1 L535.5,471.1 L536.5,471.1 L537.5,471.1 L538.5,471.1 L539.5,471.1 L540.5,471.1 L541.5,471.1 L542.5,471.1 L543.5,471.1 L544.5,471.1 L545.5,471.1 L546.5,471.1 L547.5,471.1 L548.5,471.1 L549.5,471.1 L550.5,471.1 L551.5,471.1 L552.5,471.1 L553.5,471.1 L554.5,471.1 L555.5,471.1 L556.5,471.1 L557.5,471.1 L558.5,471.1 L559.5,471.1 L560.5,471.1 L561.5,471.1 L562.5,471.1 L563.5,471.1 L564.5,471.1 L565.5,471.1 L566.5,471.1 L567.5,471.1 L568.5,471.1 L569.5,471.1 L570.5,471.1 L571.5,471.1 L572.5,471.1 L573.5,471.1 L574.5,471.1 L575.5,471.1 L576.5,471.1 L577.5,471.1 L578.5,471.1 L579.5,471.1 L580.5,471.1 L581.5,471.1 L582.5,471.1 L583.5,471.1 L584.5,471.1 L585.5,471.1 L586.5,471.1 L587.5,471.1 L588.5,471.1 L589.5,471.1 L590.5,471.1 L591.5,471.1 L592.5,471.1 L593.5,471.1 L594.5,471.1 L595.5,471.1 L596.5,471.1 L597.5,471.1 L598.5,471.1 L599.5,471.1 L600.5,471.1 L601.5,471.1 L602.5,471.1 L603.5,471.1 L604.5,471.1 L605.5,471.1 L606.5,471.1 L607.5,471.1 L608.5,471.1 L609.5,471.1 L610.5,471.1 L611.5,471.1 L612.5,471.1 L613.5,471.1 L614.5,471.1 L615.5,471.1 L616.5,471.1 L617.5,471.1 L618.5,471.1 L619.5,471.1 L620.5,471.1 L621.5,471.1 L622.5,471.1 L623.5,471.1 L624.5,471.1 L625.5,471.1 L626.5,471.1 L627.5,471.1 L628.5,471.1 L629.5,471.1 L630.5,471.1 L631.5,471.1 L632.5,471.1 L633.5,471.1 L634.5,471.1 L635.5,471.1 L636.5,471.1 L637.5,471.1 L638.5,471.1 L639.5,471.1 L640.5,471.1 L641.5,471.1 L642.5,471.1 L643.5,471.1 L644.5,471.1 L645.5,471.1 L646.5,471.1 L647.5,471.1 L648.5,471.1 L649.5,471.1 L650.5,471.1 L651.5,471.1 L652.5,471.1 L653.5,471.1 L654.5,471.1 L655.5,471.1 L656.5,471.1 L657.5,471.1 L658.5,471.1 L659.5,471.1 L660.5,471.1 L661.5,471.1 L662.5,471.1 L663.5,471.1 L664.5,471.1 L665.5,471.1 L666.5,471.1 L667.5,471.1 L668.5,471.1 L669.5,471.1 L670.5,471.1 L671.5,471.1 L672.5,471.1 L673.5,471.1 L674.5,471.1 L675.5,471.1 L676.5,471.1 L677.5,471.1 L678.5,471.1 L679.5,471.1 L680.5,471.1 L681.5,471.1 L682.5,471.1 L683.5,471.1 L684.5,471.1 L685.5,471.1 L686.5,471.1 L687.5,471.1 L688.5,471.1 L689.5,471.1 L690.5,471.1 L691.5,471.1 L692.5,471.1 L693.5,471.1 L694.5,471.1 L695.5,471.1 L696.5,471.1 L697.5,471.1 L698.5,471.1 L699.5,471.1 L700.5,471.1 L701.5,471.1 L702.5,471.1 L703.5,471.1 L704.5,471.1 L705.5,471.1 L706.5,471.1 L707.5,471.1 L708.5,471.1 L709.5,471.1 L710.5,471.1 L711.5,471.1 L712.5,471.1 L713.5,471.1 L714.5,471.1 L715.5,471.1 L716.5,471.1 L717.5,471.1 L718.5,471.0 L719.5,471.0 L720.5,471.0 L721.5,471.0 L722.5,471.0 L723.5,470.9 L724.5,470.9 L725.5,470.9 L726.5,470.8 L727.5,470.8 L728.5,470.7 L729.5,470.6 L729.75,470.6 L730,470.6 L730.25,470.5 L730.5,470.5 L730.75,470.5 L731,470.5 L731.25,470.4 L731.5,470.4 L731.75,470.3 L732,470.3 L732.25,470.3 L732.5,470.2 L732.75,470.2 L733,470.1 L733.25,470.1 L733.5,470.0 L733.75,470.0 L734,469.9 L734.25,469.9 L734.5,469.8 L734.75,469.8 L735,469.7 L735.25,469.6 L735.5,469.6 L735.75,469.5 L736,469.4 L736.25,469.3 L736.5,469.2 L736.75,469.1 L737,469.0 L737.25,468.9 L737.5,468.8 L737.75,468.7 L738,468.6 L738.25,468.5 L738.5,468.4 L738.75,468.2 L739,468.1 L739.25,467.9 L739.5,467.8 L739.75,467.6 L740,467.5 L740.25,467.3 L740.5,467.1 L740.75,466.9 L741,466.7 L741.25,466.5 L741.5,466.2 L741.75,466.0 L742,465.8 L742.25,465.5 L742.5,465.2 L742.75,464.9 L743,464.6 L743.25,464.3 L743.5,464.0 L743.75,463.7 L744,463.3 L744.25,462.9 L744.5,462.5 L744.75,462.1 L745,461.7 L745.25,461.2 L745.5,460.7 L745.75,460.2 L746,459.7 L746.25,459.1 L746.5,458.6 L746.75,458.0 L747,457.3 L747.25,456.7 L747.5,456.0 L747.75,455.2 L748,454.5 L748.25,453.7 L748.5,452.8 L748.75,451.9 L749,451.0 L749.25,450.0 L749.5,449.0 L749.75,447.9 L750,446.8 L750.25,445.6 L750.5,444.4 L750.75,443.1 L751,441.8 L751.25,440.4 L751.5,438.9 L751.75,437.3 L752,435.7 L752.25,434.0 L752.5,432.2 L752.75,430.3 L753,428.3 L753.25,426.3 L753.5,424.1 L753.75,421.8 L754,419.5 L754.25,417.0 L754.5,414.4 L754.75,411.6 L755,408.8 L755.25,405.8 L755.5,402.6 L755.75,399.3 L756,395.8 L756.25,392.2 L756.5,388.4 L756.75,384.3 L757,380.1 L757.25,375.7 L757.5,371.0 L757.75,366.1 L758,360.9 L758.25,360 M241.5,549.3 L242.5,549.2 L243.5,549.2 L244.5,549.2 L245.5,549.1 L246.5,549.1 L247.5,549.0 L248.5,549.0 L249.5,548.9 L250.5,548.9 L251.5,548.8 L252.5,548.7 L253.5,548.6 L254.5,548.6 L255.5,548.5 L256.5,548.4 L257.5,548.3 L258.5,548.2 L259.5,548.1 L260.5,547.9 L261.5,547.8 L262.5,547.7 L263.5,547.5 L264.5,547.4 L265.5,547.2 L266.5,547.1 L267.5,546.9 L268.5,546.7 L269.5,546.5 L270.5,546.3 L271.5,546.1 L272.5,545.9 L273.5,545.7 L274.5,545.4 L275.5,545.2 L276.5,545.0 L277.5,544.7 L278.5,544.4 L279.5,544.1 L280.5,543.8 L281.5,543.5 L282.5,543.2 L283.5,542.9 L284.5,542.6 L285.5,542.3 L286.5,541.9 L287.5,541.6 L288.5,541.2 L289.5,540.8 L290.5,540.5 L291.5,540.1 L292.5,539.7 L293.5,539.3 L294.5,538.9 L295.5,538.5 L296.5,538.0 L297.5,537.6 L298.5,537.2 L299.5,536.8 L300.5,536.3 L301.5,535.9 L302.5,535.4 L303.5,535.0 L304.5,534.5 L305.5,534.1 L306.5,533.6 L307.5,533.2 L308.5,532.7 L309.5,532.2 L310.5,531.8 L311.5,531.3 L312.5,530.9 L313.5,530.4 L314.5,529.9 L315.5,529.5 L316.5,529.0 L317.5,528.6 L318.5,528.2 L319.5,527.7 L320.5,527.3 L321.5,526.9 L322.5,526.4 L323.5,526.0 L324.5,525.6 L325.5,525.2 L326.5,524.8 L327.5,524.4 L328.5,524.0 L329.5,523.6 L330.5,523.3 L331.5,522.9 L332.5,522.6 L333.5,522.2 L334.5,521.9 L335.5,521.6 L336.5,521.2 L337.5,520.9 L338.5,520.6 L339.5,520.3 L340.5,520.1 L341.5,519.8 L342.5,519.5 L343.5,519.3 L344.5,519.0 L345.5,518.8 L346.5,518.5 L347.5,518.3 L348.5,518.1 L349.5,517.9 L350.5,517.7 L351.5,517.5 L352.5,517.3 L353.5,517.1 L354.5,516.9 L355.5,516.8 L356.5,516.6 L357.5,516.4 L358.5,516.3 L359.5,516.1 L360.5,516.0 L361.5,515.8 L362.5,515.7 L363.5,515.5 L364.5,515.4 L365.5,515.2 L366.5,515.1 L367.5,514.9 L368.5,514.8 L369.5,514.6 L370.5,514.5 L371.5,514.3 L372.5,514.1 L373.5,513.9 L374.5,513.7 L375.5,513.5 L376.5,513.3 L377.5,513.1 L378.5,512.9 L379.5,512.6 L380.5,512.3 L381.5,512.0 L382.5,511.7 L383.5,511.4 L384.5,511.0 L385.5,510.7 L386.5,510.3 L387.5,509.9 L388.5,509.4 L389.5,509.0 L390.5,508.5 L391.5,508.0 L392.5,507.4 L393.5,506.9 L394.5,506.3 L395.5,505.7 L396.5,505.1 L397.5,504.4 L398.5,503.7 L399.5,503.0 L400.5,502.3 L401.5,501.5 L402.5,500.8 L403.5,500.0 L404.5,499.2 L405.5,498.4 L406.5,497.6 L407.5,496.7 L408.5,495.9 L409.5,495.0 L410.5,494.2 L411.5,493.3 L412.5,492.5 L413.5,491.6 L414.5,490.8 L415.5,489.9 L416.5,489.1 L417.5,488.2 L418.5,487.4 L419.5,486.6 L420.5,485.8 L421.5,485.1 L422.5,484.3 L423.5,483.6 L424.5,482.9 L425.5,482.2 L426.5,481.5 L427.5,480.9 L428.5,480.3 L429.5,479.7 L430.5,479.1 L431.5,478.6 L432.5,478.1 L433.5,477.6 L434.5,477.1 L435.5,476.7 L436.5,476.3 L437.5,475.9 L438.5,475.5 L439.5,475.2 L440.5,474.9 L441.5,474.6 L442.5,474.3 L443.5,474.1 L444.5,473.9 L445.5,473.6 L446.5,473.5 L447.5,473.3 L448.5,473.1 L449.5,473.0 L450.5,472.8 L451.5,472.7 L452.5,472.6 L453.5,472.5 L454.5,472.4 L455.5,472.3 L456.5,472.3 L457.5,472.2 L458.5,472.1 L459.5,472.1 L460.5,472.0 L461.5,472.0 L462.5,472.0 L463.5,471.9 L464.5,471.9 L465.5,471.9 L466.5,471.9 L467.5,471.8 L468.5,471.8 L469.5,471.8 L470.5,471.8 L471.5,471.8 L472.5,471.8 L473.5,471.8 L474.5,471.8 L475.5,471.8 L476.5,471.8 L477.5,471.7 L478.5,471.7 L479.5,471.7 L480.5,471.7 L481.5,471.7 L482.5,471.7 L483.5,471.7 L484.5,471.7 L485.5,471.7 L486.5,471.7 L487.5,471.7 L488.5,471.7 L489.5,471.7 L490.5,471.7 L491.5,471.7 L492.5,471.7 L493.5,471.7 L494.5,471.7 L495.5,471.7 L496.5,471.7 L497.5,471.7 L498.5,471.7 L499.5,471.7 L500.5,471.7 L501.5,471.7 L502.5,471.7 L503.5,471.7 L504.5,471.7 L505.5,471.7 L506.5,471.7 L507.5,471.7 L508.5,471.7 L509.5,471.7 L510.5,471.7 L511.5,471.7 L512.5,471.7 L513.5,471.7 L514.5,471.7 L515.5,471.7 L516.5,471.7 L517.5,471.7 L518.5,471.7 L519.5,471.7 L520.5,471.7 L521.5,471.7 L522.5,471.7 L523.5,471.7 L524.5,471.7 L525.5,471.7 L526.5,471.7 L527.5,471.7 L528.5,471.7 L529.5,471.7 L530.5,471.7 L531.5,471.7 L532.5,471.7 L533.5,471.7 L534.5,471.7 L535.5,471.7 L536.5,471.7 L537.5,471.7 L538.5,471.7 L539.5,471.7 L540.5,471.7 L541.5,471.7 L542.5,471.7 L543.5,471.7 L544.5,471.7 L545.5,471.7 L546.5,471.7 L547.5,471.7 L548.5,471.7 L549.5,471.7 L550.5,471.7 L551.5,471.7 L552.5,471.7 L553.5,471.7 L554.5,471.7 L555.5,471.7 L556.5,471.7 L557.5,471.7 L558.5,471.7 L559.5,471.7 L560.5,471.7 L561.5,471.7 L562.5,471.7 L563.5,471.7 L564.5,471.7 L565.5,471.7 L566.5,471.7 L567.5,471.7 L568.5,471.7 L569.5,471.7 L570.5,471.7 L571.5,471.7 L572.5,471.7 L573.5,471.7 L574.5,471.7 L575.5,471.7 L576.5,471.7 L577.5,471.7 L578.5,471.7 L579.5,471.7 L580.5,471.7 L581.5,471.7 L582.5,471.7 L583.5,471.7 L584.5,471.7 L585.5,471.7 L586.5,471.7 L587.5,471.7 L588.5,471.7 L589.5,471.7 L590.5,471.7 L591.5,471.7 L592.5,471.7 L593.5,471.7 L594.5,471.7 L595.5,471.7 L596.5,471.7 L597.5,471.7 L598.5,471.7 L599.5,471.7 L600.5,471.7 L601.5,471.7 L602.5,471.7 L603.5,471.7 L604.5,471.7 L605.5,471.7 L606.5,471.7 L607.5,471.7 L608.5,471.7 L609.5,471.7 L610.5,471.7 L611.5,471.7 L612.5,471.7 L613.5,471.7 L614.5,471.7 L615.5,471.7 L616.5,471.7 L617.5,471.7 L618.5,471.7 L619.5,471.7 L620.5,471.7 L621.5,471.7 L622.5,471.7 L623.5,471.7 L624.5,471.7 L625.5,471.7 L626.5,471.7 L627.5,471.7 L628.5,471.7 L629.5,471.7 L630.5,471.7 L631.5,471.7 L632.5,471.7 L633.5,471.7 L634.5,471.7 L635.5,471.7 L636.5,471.7 L637.5,471.7 L638.5,471.7 L639.5,471.7 L640.5,471.7 L641.5,471.7 L642.5,471.7 L643.5,471.7 L644.5,471.7 L645.5,471.7 L646.5,471.7 L647.5,471.7 L648.5,471.7 L649.5,471.7 L650.5,471.7 L651.5,471.7 L652.5,471.7 L653.5,471.7 L654.5,471.7 L655.5,471.7 L656.5,471.7 L657.5,471.7 L658.5,471.7 L659.5,471.7 L660.5,471.7 L661.5,471.7 L662.5,471.7 L663.5,471.7 L664.5,471.7 L665.5,471.7 L666.5,471.7 L667.5,471.7 L668.5,471.7 L669.5,471.7 L670.5,471.7 L671.5,471.7 L672.5,471.7 L673.5,471.7 L674.5,471.7 L675.5,471.7 L676.5,471.7 L677.5,471.7 L678.5,471.7 L679.5,471.7 L680.5,471.7 L681.5,471.7 L682.5,471.7 L683.5,471.7 L684.5,471.7 L685.5,471.7 L686.5,471.7 L687.5,471.7 L688.5,471.7 L689.5,471.7 L690.5,471.7 L691.5,471.7 L692.5,471.7 L693.5,471.7 L694.5,471.7 L695.5,471.7 L696.5,471.7 L697.5,471.7 L698.5,471.7 L699.5,471.7 L700.5,471.7 L701.5,471.7 L702.5,471.7 L703.5,471.7 L704.5,471.7 L705.5,471.7 L706.5,471.7 L707.5,471.7 L708.5,471.7 L709.5,471.7 L710.5,471.7 L711.5,471.7 L712.5,471.7 L713.5,471.7 L714.5,471.7 L715.5,471.7 L716.5,471.7 L717.5,471.7 L718.5,471.7 L719.5,471.6 L720.5,471.6 L721.5,471.6 L722.5,471.6 L723.5,471.6 L724.5,471.5 L725.5,471.5 L726.5,471.4 L727.5,471.4 L728.5,471.3 L729.5,471.2 L729.75,471.2 L730,471.1 L730.25,471.1 L730.5,471.1 L730.75,471.0 L731,471.0 L731.25,471.0 L731.5,470.9 L731.75,470.9 L732,470.8 L732.25,470.8 L732.5,470.8 L732.75,470.7 L733,470.7 L733.25,470.6 L733.5,470.6 L733.75,470.5 L734,470.4 L734.25,470.4 L734.5,470.3 L734.75,470.2 L735,470.2 L735.25,470.1 L735.5,470.0 L735.75,469.9 L736,469.8 L736.25,469.7 L736.5,469.7 L736.75,469.6 L737,469.4 L737.25,469.3 L737.5,469.2 L737.75,469.1 L738,469.0 L738.25,468.8 L738.5,468.7 L738.75,468.6 L739,468.4 L739.25,468.2 L739.5,468.1 L739.75,467.9 L740,467.7 L740.25,467.5 L740.5,467.3 L740.75,467.1 L741,466.9 L741.25,466.6 L741.5,466.4 L741.75,466.1 L742,465.9 L742.25,465.6 L742.5,465.3 L742.75,465.0 L743,464.6 L743.25,464.3 L743.5,463.9 L743.75,463.6 L744,463.2 L744.25,462.8 L744.5,462.3 L744.75,461.9 L745,461.4 L745.25,460.9 L745.5,460.4 L745.75,459.8 L746,459.3 L746.25,458.7 L746.5,458.0 L746.75,457.4 L747,456.7 L747.25,456.0 L747.5,455.2 L747.75,454.4 L748,453.6 L748.25,452.7 L748.5,451.8 L748.75,450.8 L749,449.8 L749.25,448.8 L749.5,447.7 L749.75,446.5 L750,445.3 L750.25,444.0 L750.5,442.7 L750.75,441.3 L751,439.9 L751.25,438.3 L751.5,436.7 L751.75,435.1 L752,433.3 L752.25,431.5 L752.5,429.5 L752.75,427.5 L753,425.4 L753.25,423.2 L753.5,420.8 L753.75,418.4 L754,415.8 L754.25,413.2 L754.5,410.3 L754.75,407.4 L755,404.3 L755.25,401.1 L755.5,397.7 L755.75,394.2 L756,390.4 L756.25,386.5 L756.5,382.4 L756.75,378.1 L757,373.6 L757.25,368.8 L757.5,363.7 L757.75,360 M241.5,549.3 L242.5,549.3 L243.5,549.3 L244.5,549.2 L245.5,549.2 L246.5,549.2 L247.5,549.1 L248.5,549.1 L249.5,549.0 L250.5,549.0 L251.5,548.9 L252.5,548.9 L253.5,548.8 L254.5,548.8 L255.5,548.7 L256.5,548.6 L257.5,548.5 L258.5,548.5 L259.5,548.4 L260.5,548.3 L261.5,548.2 L262.5,548.1 L263.5,547.9 L264.5,547.8 L265.5,547.7 L266.5,547.6 L267.5,547.4 L268.5,547.3 L269.5,547.1 L270.5,547.0 L271.5,546.8 L272.5,546.6 L273.5,546.4 L274.5,546.2 L275.5,546.0 L276.5,545.8 L277.5,545.6 L278.5,545.4 L279.5,545.1 L280.5,544.9 L281.5,544.6 L282.5,544.4 L283.5,544.1 L284.5,543.8 L285.5,543.6 L286.5,543.3 L287.5,543.0 L288.5,542.6 L289.5,542.3 L290.5,542.0 L291.5,541.7 L292.5,541.3 L293.5,541.0 L294.5,540.6 L295.5,540.2 L296.5,539.9 L297.5,539.5 L298.5,539.1 L299.5,538.7 L300.5,538.3 L301.5,537.9 L302.5,537.5 L303.5,537.1 L304.5,536.7 L305.5,536.2 L306.5,535.8 L307.5,535.4 L308.5,534.9 L309.5,534.5 L310.5,534.1 L311.5,533.6 L312.5,533.2 L313.5,532.8 L314.5,532.3 L315.5,531.9 L316.5,531.4 L317.5,531.0 L318.5,530.6 L319.5,530.1 L320.5,529.7 L321.5,529.2 L322.5,528.8 L323.5,528.4 L324.5,528.0 L325.5,527.6 L326.5,527.1 L327.5,526.7 L328.5,526.3 L329.5,525.9 L330.5,525.5 L331.5,525.2 L332.5,524.8 L333.5,524.4 L334.5,524.0 L335.5,523.7 L336.5,523.3 L337.5,523.0 L338.5,522.6 L339.5,522.3 L340.5,522.0 L341.5,521.7 L342.5,521.4 L343.5,521.1 L344.5,520.8 L345.5,520.5 L346.5,520.2 L347.5,520.0 L348.5,519.7 L349.5,519.5 L350.5,519.2 L351.5,519.0 L352.5,518.8 L353.5,518.5 L354.5,518.3 L355.5,518.1 L356.5,517.9 L357.5,517.7 L358.5,517.6 L359.5,517.4 L360.5,517.2 L361.5,517.1 L362.5,516.9 L363.5,516.8 L364.5,516.6 L365.5,516.5 L366.5,516.3 L367.5,516.2 L368.5,516.1 L369.5,515.9 L370.5,515.8 L371.5,515.7 L372.5,515.6 L373.5,515.4 L374.5,515.3 L375.5,515.2 L376.5,515.1 L377.5,515.0 L378.5,514.8 L379.5,514.7 L380.5,514.6 L381.5,514.4 L382.5,514.3 L383.5,514.1 L384.5,513.9 L385.5,513.8 L386.5,513.6 L387.5,513.4 L388.5,513.2 L389.5,513.0 L390.5,512.7 L391.5,512.5 L392.5,512.2 L393.5,512.0 L394.5,511.7 L395.5,511.3 L396.5,511.0 L397.5,510.7 L398.5,510.3 L399.5,509.9 L400.5,509.5 L401.5,509.0 L402.5,508.6 L403.5,508.1 L404.5,507.6 L405.5,507.0 L406.5,506.5 L407.5,505.9 L408.5,505.3 L409.5,504.7 L410.5,504.0 L411.5,503.4 L412.5,502.7 L413.5,502.0 L414.5,501.2 L415.5,500.5 L416.5,499.8 L417.5,499.0 L418.5,498.2 L419.5,497.4 L420.5,496.6 L421.5,495.8 L422.5,495.0 L423.5,494.2 L424.5,493.4 L425.5,492.5 L426.5,491.7 L427.5,490.9 L428.5,490.1 L429.5,489.3 L430.5,488.5 L431.5,487.8 L432.5,487.0 L433.5,486.2 L434.5,485.5 L435.5,484.8 L436.5,484.1 L437.5,483.4 L438.5,482.8 L439.5,482.1 L440.5,481.5 L441.5,480.9 L442.5,480.4 L443.5,479.8 L444.5,479.3 L445.5,478.8 L446.5,478.3 L447.5,477.9 L448.5,477.5 L449.5,477.1 L450.5,476.7 L451.5,476.3 L452.5,476.0 L453.5,475.7 L454.5,475.4 L455.5,475.1 L456.5,474.9 L457.5,474.6 L458.5,474.4 L459.5,474.2 L460.5,474.0 L461.5,473.9 L462.5,473.7 L463.5,473.6 L464.5,473.4 L465.5,473.3 L466.5,473.2 L467.5,473.1 L468.5,473.0 L469.5,472.9 L470.5,472.9 L471.5,472.8 L472.5,472.8 L473.5,472.7 L474.5,472.7 L475.5,472.6 L476.5,472.6 L477.5,472.6 L478.5,472.5 L479.5,472.5 L480.5,472.5 L481.5,472.5 L482.5,472.4 L483.5,472.4 L484.5,472.4 L485.5,472.4 L486.5,472.4 L487.5,472.4 L488.5,472.4 L489.5,472.4 L490.5,472.4 L491.5,472.4 L492.5,472.4 L493.5,472.4 L494.5,472.4 L495.5,472.4 L496.5,472.3 L497.5,472.3 L498.5,472.3 L499.5,472.3 L500.5,472.3 L501.5,472.3 L502.5,472.3 L503.5,472.3 L504.5,472.3 L505.5,472.3 L506.5,472.3 L507.5,472.3 L508.5,472.3 L509.5,472.3 L510.5,472.3 L511.5,472.3 L512.5,472.3 L513.5,472.3 L514.5,472.3 L515.5,472.3 L516.5,472.3 L517.5,472.3 L518.5,472.3 L519.5,472.3 L520.5,472.3 L521.5,472.3 L522.5,472.3 L523.5,472.3 L524.5,472.3 L525.5,472.3 L526.5,472.3 L527.5,472.3 L528.5,472.3 L529.5,472.3 L530.5,472.3 L531.5,472.3 L532.5,472.3 L533.5,472.3 L534.5,472.3 L535.5,472.3 L536.5,472.3 L537.5,472.3 L538.5,472.3 L539.5,472.3 L540.5,472.3 L541.5,472.3 L542.5,472.3 L543.5,472.3 L544.5,472.3 L545.5,472.3 L546.5,472.3 L547.5,472.3 L548.5,472.3 L549.5,472.3 L550.5,472.3 L551.5,472.3 L552.5,472.3 L553.5,472.3 L554.5,472.3 L555.5,472.3 L556.5,472.3 L557.5,472.3 L558.5,472.3 L559.5,472.3 L560.5,472.3 L561.5,472.3 L562.5,472.3 L563.5,472.3 L564.5,472.3 L565.5,472.3 L566.5,472.3 L567.5,472.3 L568.5,472.3 L569.5,472.3 L570.5,472.3 L571.5,472.3 L572.5,472.3 L573.5,472.3 L574.5,472.3 L575.5,472.3 L576.5,472.3 L577.5,472.3 L578.5,472.3 L579.5,472.3 L580.5,472.3 L581.5,472.3 L582.5,472.3 L583.5,472.3 L584.5,472.3 L585.5,472.3 L586.5,472.3 L587.5,472.3 L588.5,472.3 L589.5,472.3 L590.5,472.3 L591.5,472.3 L592.5,472.3 L593.5,472.3 L594.5,472.3 L595.5,472.3 L596.5,472.3 L597.5,472.3 L598.5,472.3 L599.5,472.3 L600.5,472.3 L601.5,472.3 L602.5,472.3 L603.5,472.3 L604.5,472.3 L605.5,472.3 L606.5,472.3 L607.5,472.3 L608.5,472.3 L609.5,472.3 L610.5,472.3 L611.5,472.3 L612.5,472.3 L613.5,472.3 L614.5,472.3 L615.5,472.3 L616.5,472.3 L617.5,472.3 L618.5,472.3 L619.5,472.3 L620.5,472.3 L621.5,472.3 L622.5,472.3 L623.5,472.3 L624.5,472.3 L625.5,472.3 L626.5,472.3 L627.5,472.3 L628.5,472.3 L629.5,472.3 L630.5,472.3 L631.5,472.3 L632.5,472.3 L633.5,472.3 L634.5,472.3 L635.5,472.3 L636.5,472.3 L637.5,472.3 L638.5,472.3 L639.5,472.3 L640.5,472.3 L641.5,472.3 L642.5,472.3 L643.5,472.3 L644.5,472.3 L645.5,472.3 L646.5,472.3 L647.5,472.3 L648.5,472.3 L649.5,472.3 L650.5,472.3 L651.5,472.3 L652.5,472.3 L653.5,472.3 L654.5,472.3 L655.5,472.3 L656.5,472.3 L657.5,472.3 L658.5,472.3 L659.5,472.3 L660.5,472.3 L661.5,472.3 L662.5,472.3 L663.5,472.3 L664.5,472.3 L665.5,472.3 L666.5,472.3 L667.5,472.3 L668.5,472.3 L669.5,472.3 L670.5,472.3 L671.5,472.3 L672.5,472.3 L673.5,472.3 L674.5,472.3 L675.5,472.3 L676.5,472.3 L677.5,472.3 L678.5,472.3 L679.5,472.3 L680.5,472.3 L681.5,472.3 L682.5,472.3 L683.5,472.3 L684.5,472.3 L685.5,472.3 L686.5,472.3 L687.5,472.3 L688.5,472.3 L689.5,472.3 L690.5,472.3 L691.5,472.3 L692.5,472.3 L693.5,472.3 L694.5,472.3 L695.5,472.3 L696.5,472.3 L697.5,472.3 L698.5,472.3 L699.5,472.3 L700.5,472.3 L701.5,472.3 L702.5,472.3 L703.5,472.3 L704.5,472.3 L705.5,472.3 L706.5,472.3 L707.5,472.3 L708.5,472.3 L709.5,472.3 L710.5,472.3 L711.5,472.3 L712.5,472.3 L713.5,472.3 L714.5,472.3 L715.5,472.3 L716.5,472.3 L717.5,472.3 L718.5,472.3 L719.5,472.2 L720.5,472.2 L721.5,472.2 L722.5,472.2 L723.5,472.1 L724.5,472.1 L725.5,472.1 L726.5,472.0 L727.5,471.9 L728.5,471.8 L729.5,471.7 L729.75,471.7 L730,471.7 L730.25,471.6 L730.5,471.6 L730.75,471.6 L731,471.5 L731.25,471.5 L731.5,471.5 L731.75,471.4 L732,471.4 L732.25,471.3 L732.5,471.3 L732.75,471.2 L733,471.2 L733.25,471.1 L733.5,471.0 L733.75,471.0 L734,470.9 L734.25,470.8 L734.5,470.8 L734.75,470.7 L735,470.6 L735.25,470.5 L735.5,470.5 L735.75,470.4 L736,470.3 L736.25,470.2 L736.5,470.1 L736.75,470.0 L737,469.8 L737.25,469.7 L737.5,469.6 L737.75,469.5 L738,469.3 L738.25,469.2 L738.5,469.0 L738.75,468.9 L739,468.7 L739.25,468.5 L739.5,468.3 L739.75,468.1 L740,467.9 L740.25,467.7 L740.5,467.5 L740.75,467.3 L741,467.0 L741.25,466.8 L741.5,466.5 L741.75,466.2 L742,466.0 L742.25,465.6 L742.5,465.3 L742.75,465.0 L743,464.6 L743.25,464.3 L743.5,463.9 L743.75,463.5 L744,463.0 L744.25,462.6 L744.5,462.1 L744.75,461.6 L745,461.1 L745.25,460.6 L745.5,460.0 L745.75,459.5 L746,458.8 L746.25,458.2 L746.5,457.5 L746.75,456.8 L747,456.1 L747.25,455.3 L747.5,454.5 L747.75,453.6 L748,452.7 L748.25,451.8 L748.5,450.8 L748.75,449.8 L749,448.7 L749.25,447.6 L749.5,446.4 L749.75,445.1 L750,443.8 L750.25,442.5 L750.5,441.1 L750.75,439.6 L751,438.0 L751.25,436.4 L751.5,434.6 L751.75,432.8 L752,431.0 L752.25,429.0 L752.5,426.9 L752.75,424.8 L753,422.5 L753.25,420.1 L753.5,417.6 L753.75,415.0 L754,412.3 L754.25,409.4 L754.5,406.4 L754.75,403.3 L755,400.0 L755.25,396.5 L755.5,392.9 L755.75,389.1 L756,385.1 L756.25,380.9 L756.5,376.5 L756.75,371.9 L757,367.1 L757.25,362.0 L757.5,360 M241.5,549.4 L242.5,549.3 L243.5,549.3 L244.5,549.3 L245.5,549.3 L246.5,549.2 L247.5,549.2 L248.5,549.2 L249.5,549.1 L250.5,549.1 L251.5,549.1 L252.5,549.0 L253.5,549.0 L254.5,548.9 L255.5,548.9 L256.5,548.8 L257.5,548.7 L258.5,548.7 L259.5,548.6 L260.5,548.5 L261.5,548.4 L262.5,548.4 L263.5,548.3 L264.5,548.2 L265.5,548.1 L266.5,548.0 L267.5,547.8 L268.5,547.7 L269.5,547.6 L270.5,547.5 L271.5,547.3 L272.5,547.2 L273.5,547.0 L274.5,546.9 L275.5,546.7 L276.5,546.5 L277.5,546.3 L278.5,546.1 L279.5,545.9 L280.5,545.7 L281.5,545.5 L282.5,545.3 L283.5,545.1 L284.5,544.8 L285.5,544.6 L286.5,544.4 L287.5,544.1 L288.5,543.8 L289.5,543.5 L290.5,543.3 L291.5,543.0 L292.5,542.7 L293.5,542.4 L294.5,542.1 L295.5,541.7 L296.5,541.4 L297.5,541.1 L298.5,540.7 L299.5,540.4 L300.5,540.0 L301.5,539.6 L302.5,539.3 L303.5,538.9 L304.5,538.5 L305.5,538.1 L306.5,537.7 L307.5,537.4 L308.5,537.0 L309.5,536.5 L310.5,536.1 L311.5,535.7 L312.5,535.3 L313.5,534.9 L314.5,534.5 L315.5,534.1 L316.5,533.6 L317.5,533.2 L318.5,532.8 L319.5,532.4 L320.5,531.9 L321.5,531.5 L322.5,531.1 L323.5,530.7 L324.5,530.2 L325.5,529.8 L326.5,529.4 L327.5,529.0 L328.5,528.6 L329.5,528.2 L330.5,527.8 L331.5,527.4 L332.5,527.0 L333.5,526.6 L334.5,526.2 L335.5,525.8 L336.5,525.5 L337.5,525.1 L338.5,524.7 L339.5,524.4 L340.5,524.0 L341.5,523.7 L342.5,523.3 L343.5,523.0 L344.5,522.7 L345.5,522.4 L346.5,522.1 L347.5,521.8 L348.5,521.5 L349.5,521.2 L350.5,520.9 L351.5,520.6 L352.5,520.4 L353.5,520.1 L354.5,519.9 L355.5,519.6 L356.5,519.4 L357.5,519.2 L358.5,519.0 L359.5,518.7 L360.5,518.5 L361.5,518.3 L362.5,518.2 L363.5,518.0 L364.5,517.8 L365.5,517.6 L366.5,517.5 L367.5,517.3 L368.5,517.2 L369.5,517.0 L370.5,516.9 L371.5,516.7 L372.5,516.6 L373.5,516.5 L374.5,516.4 L375.5,516.2 L376.5,516.1 L377.5,516.0 L378.5,515.9 L379.5,515.8 L380.5,515.7 L381.5,515.6 L382.5,515.5 L383.5,515.4 L384.5,515.3 L385.5,515.2 L386.5,515.1 L387.5,515.0 L388.5,514.9 L389.5,514.8 L390.5,514.6 L391.5,514.5 L392.5,514.4 L393.5,514.3 L394.5,514.1 L395.5,514.0 L396.5,513.8 L397.5,513.7 L398.5,513.5 L399.5,513.3 L400.5,513.1 L401.5,512.9 L402.5,512.7 L403.5,512.4 L404.5,512.2 L405.5,511.9 L406.5,511.6 L407.5,511.3 L408.5,511.0 L409.5,510.6 L410.5,510.3 L411.5,509.9 L412.5,509.5 L413.5,509.1 L414.5,508.6 L415.5,508.1 L416.5,507.7 L417.5,507.1 L418.5,506.6 L419.5,506.1 L420.5,505.5 L421.5,504.9 L422.5,504.3 L423.5,503.6 L424.5,503.0 L425.5,502.3 L426.5,501.6 L427.5,500.9 L428.5,500.2 L429.5,499.5 L430.5,498.7 L431.5,498.0 L432.5,497.2 L433.5,496.4 L434.5,495.7 L435.5,494.9 L436.5,494.1 L437.5,493.3 L438.5,492.6 L439.5,491.8 L440.5,491.0 L441.5,490.2 L442.5,489.5 L443.5,488.7 L444.5,488.0 L445.5,487.3 L446.5,486.6 L447.5,485.9 L448.5,485.2 L449.5,484.5 L450.5,483.9 L451.5,483.2 L452.5,482.6 L453.5,482.0 L454.5,481.5 L455.5,480.9 L456.5,480.4 L457.5,479.9 L458.5,479.4 L459.5,479.0 L460.5,478.5 L461.5,478.1 L462.5,477.7 L463.5,477.4 L464.5,477.0 L465.5,476.7 L466.5,476.4 L467.5,476.1 L468.5,475.8 L469.5,475.6 L470.5,475.3 L471.5,475.1 L472.5,474.9 L473.5,474.7 L474.5,474.6 L475.5,474.4 L476.5,474.3 L477.5,474.1 L478.5,474.0 L479.5,473.9 L480.5,473.8 L481.5,473.7 L482.5,473.6 L483.5,473.5 L484.5,473.5 L485.5,473.4 L486.5,473.4 L487.5,473.3 L488.5,473.3 L489.5,473.2 L490.5,473.2 L491.5,473.2 L492.5,473.1 L493.5,473.1 L494.5,473.1 L495.5,473.1 L496.5,473.0 L497.5,473.0 L498.5,473.0 L499.5,473.0 L500.5,473.0 L501.5,473.0 L502.5,473.0 L503.5,473.0 L504.5,473.0 L505.5,473.0 L506.5,473.0 L507.5,473.0 L508.5,473.0 L509.5,472.9 L510.5,472.9 L511.5,472.9 L512.5,472.9 L513.5,472.9 L514.5,472.9 L515.5,472.9 L516.5,472.9 L517.5,472.9 L518.5,472.9 L519.5,472.9 L520.5,472.9 L521.5,472.9 L522.5,472.9 L523.5,472.9 L524.5,472.9 L525.5,472.9 L526.5,472.9 L527.5,472.9 L528.5,472.9 L529.5,472.9 L530.5,472.9 L531.5,472.9 L532.5,472.9 L533.5,472.9 L534.5,472.9 L535.5,472.9 L536.5,472.9 L537.5,472.9 L538.5,472.9 L539.5,472.9 L540.5,472.9 L541.5,472.9 L542.5,472.9 L543.5,472.9 L544.5,472.9 L545.5,472.9 L546.5,472.9 L547.5,472.9 L548.5,472.9 L549.5,472.9 L550.5,472.9 L551.5,472.9 L552.5,472.9 L553.5,472.9 L554.5,472.9 L555.5,472.9 L556.5,472.9 L557.5,472.9 L558.5,472.9 L559.5,472.9 L560.5,472.9 L561.5,472.9 L562.5,472.9 L563.5,472.9 L564.5,472.9 L565.5,472.9 L566.5,472.9 L567.5,472.9 L568.5,472.9 L569.5,472.9 L570.5,472.9 L571.5,472.9 L572.5,472.9 L573.5,472.9 L574.5,472.9 L575.5,472.9 L576.5,472.9 L577.5,472.9 L578.5,472.9 L579.5,472.9 L580.5,472.9 L581.5,472.9 L582.5,472.9 L583.5,472.9 L584.5,472.9 L585.5,472.9 L586.5,472.9 L587.5,472.9 L588.5,472.9 L589.5,472.9 L590.5,472.9 L591.5,472.9 L592.5,472.9 L593.5,472.9 L594.5,472.9 L595.5,472.9 L596.5,472.9 L597.5,472.9 L598.5,472.9 L599.5,472.9 L600.5,472.9 L601.5,472.9 L602.5,472.9 L603.5,472.9 L604.5,472.9 L605.5,472.9 L606.5,472.9 L607.5,472.9 L608.5,472.9 L609.5,472.9 L610.5,472.9 L611.5,472.9 L612.5,472.9 L613.5,472.9 L614.5,472.9 L615.5,472.9 L616.5,472.9 L617.5,472.9 L618.5,472.9 L619.5,472.9 L620.5,472.9 L621.5,472.9 L622.5,472.9 L623.5,472.9 L624.5,472.9 L625.5,472.9 L626.5,472.9 L627.5,472.9 L628.5,472.9 L629.5,472.9 L630.5,472.9 L631.5,472.9 L632.5,472.9 L633.5,472.9 L634.5,472.9 L635.5,472.9 L636.5,472.9 L637.5,472.9 L638.5,472.9 L639.5,472.9 L640.5,472.9 L641.5,472.9 L642.5,472.9 L643.5,472.9 L644.5,472.9 L645.5,472.9 L646.5,472.9 L647.5,472.9 L648.5,472.9 L649.5,472.9 L650.5,472.9 L651.5,472.9 L652.5,472.9 L653.5,472.9 L654.5,472.9 L655.5,472.9 L656.5,472.9 L657.5,472.9 L658.5,472.9 L659.5,472.9 L660.5,472.9 L661.5,472.9 L662.5,472.9 L663.5,472.9 L664.5,472.9 L665.5,472.9 L666.5,472.9 L667.5,472.9 L668.5,472.9 L669.5,472.9 L670.5,472.9 L671.5,472.9 L672.5,472.9 L673.5,472.9 L674.5,472.9 L675.5,472.9 L676.5,472.9 L677.5,472.9 L678.5,472.9 L679.5,472.9 L680.5,472.9 L681.5,472.9 L682.5,472.9 L683.5,472.9 L684.5,472.9 L685.5,472.9 L686.5,472.9 L687.5,472.9 L688.5,472.9 L689.5,472.9 L690.5,472.9 L691.5,472.9 L692.5,472.9 L693.5,472.9 L694.5,472.9 L695.5,472.9 L696.5,472.9 L697.5,472.9 L698.5,472.9 L699.5,472.9 L700.5,472.9 L701.5,472.9 L702.5,472.9 L703.5,472.9 L704.5,472.9 L705.5,472.9 L706.5,472.9 L707.5,472.9 L708.5,472.9 L709.5,472.9 L710.5,472.9 L711.5,472.9 L712.5,472.9 L713.5,472.9 L714.5,472.9 L715.5,472.9 L716.5,472.9 L717.5,472.9 L718.5,472.9 L719.5,472.8 L720.5,472.8 L721.5,472.8 L722.5,472.8 L723.5,472.7 L724.5,472.7 L725.5,472.6 L726.5,472.6 L727.5,472.5 L728.5,472.4 L729.5,472.3 L729.75,472.2 L730,472.2 L730.25,472.2 L730.5,472.1 L730.75,472.1 L731,472.1 L731.25,472.0 L731.5,472.0 L731.75,471.9 L732,471.9 L732.25,471.8 L732.5,471.8 L732.75,471.7 L733,471.7 L733.25,471.6 L733.5,471.5 L733.75,471.5 L734,471.4 L734.25,471.3 L734.5,471.2 L734.75,471.2 L735,471.1 L735.25,471.0 L735.5,470.9 L735.75,470.8 L736,470.7 L736.25,470.6 L736.5,470.5 L736.75,470.3 L737,470.2 L737.25,470.1 L737.5,470.0 L737.75,469.8 L738,469.7 L738.25,469.5 L738.5,469.3 L738.75,469.2 L739,469.0 L739.25,468.8 L739.5,468.6 L739.75,468.4 L740,468.2 L740.25,468.0 L740.5,467.7 L740.75,467.5 L741,467.2 L741.25,466.9 L741.5,466.7 L741.75,466.3 L742,466.0 L742.25,465.7 L742.5,465.4 L742.75,465.0 L743,464.6 L743.25,464.2 L743.5,463.8 L743.75,463.4 L744,462.9 L744.25,462.4 L744.5,461.9 L744.75,461.4 L745,460.9 L745.25,460.3 L745.5,459.7 L745.75,459.1 L746,458.4 L746.25,457.7 L746.5,457.0 L746.75,456.2 L747,455.4 L747.25,454.6 L747.5,453.7 L747.75,452.8 L748,451.9 L748.25,450.9 L748.5,449.8 L748.75,448.7 L749,447.6 L749.25,446.4 L749.5,445.1 L749.75,443.8 L750,442.4 L750.25,440.9 L750.5,439.4 L750.75,437.8 L751,436.2 L751.25,434.4 L751.5,432.6 L751.75,430.7 L752,428.7 L752.25,426.5 L752.5,424.4 L752.75,422.0 L753,419.6 L753.25,417.1 L753.5,414.4 L753.75,411.7 L754,408.8 L754.25,405.7 L754.5,402.5 L754.75,399.2 L755,395.7 L755.25,392.0 L755.5,388.2 L755.75,384.1 L756,379.9 L756.25,375.4 L756.5,370.8 L756.75,365.9 L757,360.8 L757.25,360 M241.5,549.4 L242.5,549.4 L243.5,549.4 L244.5,549.3 L245.5,549.3 L246.5,549.3 L247.5,549.3 L248.5,549.2 L249.5,549.2 L250.5,549.2 L251.5,549.2 L252.5,549.1 L253.5,549.1 L254.5,549.0 L255.5,549.0 L256.5,548.9 L257.5,548.9 L258.5,548.8 L259.5,548.8 L260.5,548.7 L261.5,548.7 L262.5,548.6 L263.5,548.5 L264.5,548.4 L265.5,548.3 L266.5,548.3 L267.5,548.2 L268.5,548.1 L269.5,548.0 L270.5,547.9 L271.5,547.7 L272.5,547.6 L273.5,547.5 L274.5,547.4 L275.5,547.2 L276.5,547.1 L277.5,546.9 L278.5,546.8 L279.5,546.6 L280.5,546.4 L281.5,546.3 L282.5,546.1 L283.5,545.9 L284.5,545.7 L285.5,545.5 L286.5,545.3 L287.5,545.0 L288.5,544.8 L289.5,544.6 L290.5,544.3 L291.5,544.1 L292.5,543.8 L293.5,543.5 L294.5,543.3 L295.5,543.0 L296.5,542.7 L297.5,542.4 L298.5,542.1 L299.5,541.8 L300.5,541.5 L301.5,541.2 L302.5,540.8 L303.5,540.5 L304.5,540.1 L305.5,539.8 L306.5,539.4 L307.5,539.1 L308.5,538.7 L309.5,538.3 L310.5,538.0 L311.5,537.6 L312.5,537.2 L313.5,536.8 L314.5,536.4 L315.5,536.0 L316.5,535.6 L317.5,535.2 L318.5,534.8 L319.5,534.4 L320.5,534.0 L321.5,533.6 L322.5,533.2 L323.5,532.8 L324.5,532.4 L325.5,532.0 L326.5,531.6 L327.5,531.2 L328.5,530.8 L329.5,530.4 L330.5,529.9 L331.5,529.5 L332.5,529.1 L333.5,528.7 L334.5,528.4 L335.5,528.0 L336.5,527.6 L337.5,527.2 L338.5,526.8 L339.5,526.4 L340.5,526.1 L341.5,525.7 L342.5,525.4 L343.5,525.0 L344.5,524.7 L345.5,524.3 L346.5,524.0 L347.5,523.7 L348.5,523.3 L349.5,523.0 L350.5,522.7 L351.5,522.4 L352.5,522.1 L353.5,521.8 L354.5,521.5 L355.5,521.3 L356.5,521.0 L357.5,520.7 L358.5,520.5 L359.5,520.2 L360.5,520.0 L361.5,519.8 L362.5,519.5 L363.5,519.3 L364.5,519.1 L365.5,518.9 L366.5,518.7 L367.5,518.5 L368.5,518.3 L369.5,518.2 L370.5,518.0 L371.5,517.8 L372.5,517.7 L373.5,517.5 L374.5,517.4 L375.5,517.2 L376.5,517.1 L377.5,517.0 L378.5,516.8 L379.5,516.7 L380.5,516.6 L381.5,516.5 L382.5,516.4 L383.5,516.3 L384.5,516.2 L385.5,516.1 L386.5,516.0 L387.5,515.9 L388.5,515.8 L389.5,515.7 L390.5,515.6 L391.5,515.5 L392.5,515.5 L393.5,515.4 L394.5,515.3 L395.5,515.2 L396.5,515.1 L397.5,515.0 L398.5,514.9 L399.5,514.8 L400.5,514.7 L401.5,514.6 L402.5,514.5 L403.5,514.4 L404.5,514.3 L405.5,514.2 L406.5,514.0 L407.5,513.9 L408.5,513.8 L409.5,513.6 L410.5,513.4 L411.5,513.2 L412.5,513.0 L413.5,512.8 L414.5,512.6 L415.5,512.4 L416.5,512.1 L417.5,511.9 L418.5,511.6 L419.5,511.3 L420.5,511.0 L421.5,510.6 L422.5,510.3 L423.5,509.9 L424.5,509.5 L425.5,509.1 L426.5,508.6 L427.5,508.2 L428.5,507.7 L429.5,507.2 L430.5,506.7 L431.5,506.2 L432.5,505.6 L433.5,505.1 L434.5,504.5 L435.5,503.9 L436.5,503.2 L437.5,502.6 L438.5,501.9 L439.5,501.3 L440.5,500.6 L441.5,499.9 L442.5,499.2 L443.5,498.4 L444.5,497.7 L445.5,497.0 L446.5,496.2 L447.5,495.5 L448.5,494.8 L449.5,494.0 L450.5,493.3 L451.5,492.5 L452.5,491.8 L453.5,491.0 L454.5,490.3 L455.5,489.6 L456.5,488.9 L457.5,488.2 L458.5,487.5 L459.5,486.8 L460.5,486.1 L461.5,485.5 L462.5,484.8 L463.5,484.2 L464.5,483.6 L465.5,483.1 L466.5,482.5 L467.5,482.0 L468.5,481.4 L469.5,480.9 L470.5,480.5 L471.5,480.0 L472.5,479.6 L473.5,479.1 L474.5,478.7 L475.5,478.4 L476.5,478.0 L477.5,477.7 L478.5,477.3 L479.5,477.0 L480.5,476.8 L481.5,476.5 L482.5,476.2 L483.5,476.0 L484.5,475.8 L485.5,475.6 L486.5,475.4 L487.5,475.2 L488.5,475.1 L489.5,474.9 L490.5,474.8 L491.5,474.7 L492.5,474.6 L493.5,474.4 L494.5,474.4 L495.5,474.3 L496.5,474.2 L497.5,474.1 L498.5,474.0 L499.5,474.0 L500.5,473.9 L501.5,473.9 L502.5,473.8 L503.5,473.8 L504.5,473.8 L505.5,473.7 L506.5,473.7 L507.5,473.7 L508.5,473.7 L509.5,473.6 L510.5,473.6 L511.5,473.6 L512.5,473.6 L513.5,473.6 L514.5,473.6 L515.5,473.6 L516.5,473.6 L517.5,473.6 L518.5,473.6 L519.5,473.5 L520.5,473.5 L521.5,473.5 L522.5,473.5 L523.5,473.5 L524.5,473.5 L525.5,473.5 L526.5,473.5 L527.5,473.5 L528.5,473.5 L529.5,473.5 L530.5,473.5 L531.5,473.5 L532.5,473.5 L533.5,473.5 L534.5,473.5 L535.5,473.5 L536.5,473.5 L537.5,473.5 L538.5,473.5 L539.5,473.5 L540.5,473.5 L541.5,473.5 L542.5,473.5 L543.5,473.5 L544.5,473.5 L545.5,473.5 L546.5,473.5 L547.5,473.5 L548.5,473.5 L549.5,473.5 L550.5,473.5 L551.5,473.5 L552.5,473.5 L553.5,473.5 L554.5,473.5 L555.5,473.5 L556.5,473.5 L557.5,473.5 L558.5,473.5 L559.5,473.5 L560.5,473.5 L561.5,473.5 L562.5,473.5 L563.5,473.5 L564.5,473.5 L565.5,473.5 L566.5,473.5 L567.5,473.5 L568.5,473.5 L569.5,473.5 L570.5,473.5 L571.5,473.5 L572.5,473.5 L573.5,473.5 L574.5,473.5 L575.5,473.5 L576.5,473.5 L577.5,473.5 L578.5,473.5 L579.5,473.5 L580.5,473.5 L581.5,473.5 L582.5,473.5 L583.5,473.5 L584.5,473.5 L585.5,473.5 L586.5,473.5 L587.5,473.5 L588.5,473.5 L589.5,473.5 L590.5,473.5 L591.5,473.5 L592.5,473.5 L593.5,473.5 L594.5,473.5 L595.5,473.5 L596.5,473.5 L597.5,473.5 L598.5,473.5 L599.5,473.5 L600.5,473.5 L601.5,473.5 L602.5,473.5 L603.5,473.5 L604.5,473.5 L605.5,473.5 L606.5,473.5 L607.5,473.5 L608.5,473.5 L609.5,473.5 L610.5,473.5 L611.5,473.5 L612.5,473.5 L613.5,473.5 L614.5,473.5 L615.5,473.5 L616.5,473.5 L617.5,473.5 L618.5,473.5 L619.5,473.5 L620.5,473.5 L621.5,473.5 L622.5,473.5 L623.5,473.5 L624.5,473.5 L625.5,473.5 L626.5,473.5 L627.5,473.5 L628.5,473.5 L629.5,473.5 L630.5,473.5 L631.5,473.5 L632.5,473.5 L633.5,473.5 L634.5,473.5 L635.5,473.5 L636.5,473.5 L637.5,473.5 L638.5,473.5 L639.5,473.5 L640.5,473.5 L641.5,473.5 L642.5,473.5 L643.5,473.5 L644.5,473.5 L645.5,473.5 L646.5,473.5 L647.5,473.5 L648.5,473.5 L649.5,473.5 L650.5,473.5 L651.5,473.5 L652.5,473.5 L653.5,473.5 L654.5,473.5 L655.5,473.5 L656.5,473.5 L657.5,473.5 L658.5,473.5 L659.5,473.5 L660.5,473.5 L661.5,473.5 L662.5,473.5 L663.5,473.5 L664.5,473.5 L665.5,473.5 L666.5,473.5 L667.5,473.5 L668.5,473.5 L669.5,473.5 L670.5,473.5 L671.5,473.5 L672.5,473.5 L673.5,473.5 L674.5,473.5 L675.5,473.5 L676.5,473.5 L677.5,473.5 L678.5,473.5 L679.5,473.5 L680.5,473.5 L681.5,473.5 L682.5,473.5 L683.5,473.5 L684.5,473.5 L685.5,473.5 L686.5,473.5 L687.5,473.5 L688.5,473.5 L689.5,473.5 L690.5,473.5 L691.5,473.5 L692.5,473.5 L693.5,473.5 L694.5,473.5 L695.5,473.5 L696.5,473.5 L697.5,473.5 L698.5,473.5 L699.5,473.5 L700.5,473.5 L701.5,473.5 L702.5,473.5 L703.5,473.5 L704.5,473.5 L705.5,473.5 L706.5,473.5 L707.5,473.5 L708.5,473.5 L709.5,473.5 L710.5,473.5 L711.5,473.5 L712.5,473.5 L713.5,473.5 L714.5,473.5 L715.5,473.5 L716.5,473.5 L717.5,473.4 L718.5,473.4 L719.5,473.4 L720.5,473.4 L721.5,473.4 L722.5,473.3 L723.5,473.3 L724.5,473.2 L725.5,473.2 L726.5,473.1 L727.5,473.0 L728.5,472.9 L729.5,472.8 L729.75,472.8 L730,472.7 L730.25,472.7 L730.5,472.6 L730.75,472.6 L731,472.6 L731.25,472.5 L731.5,472.5 L731.75,472.4 L732,472.4 L732.25,472.3 L732.5,472.3 L732.75,472.2 L733,472.1 L733.25,472.1 L733.5,472.0 L733.75,471.9 L734,471.8 L734.25,471.8 L734.5,471.7 L734.75,471.6 L735,471.5 L735.25,471.4 L735.5,471.3 L735.75,471.2 L736,471.1 L736.25,471.0 L736.5,470.9 L736.75,470.7 L737,470.6 L737.25,470.5 L737.5,470.3 L737.75,470.2 L738,470.0 L738.25,469.8 L738.5,469.7 L738.75,469.5 L739,469.3 L739.25,469.1 L739.5,468.9 L739.75,468.6 L740,468.4 L740.25,468.2 L740.5,467.9 L740.75,467.7 L741,467.4 L741.25,467.1 L741.5,466.8 L741.75,466.5 L742,466.1 L742.25,465.8 L742.5,465.4 L742.75,465.0 L743,464.6 L743.25,464.2 L743.5,463.7 L743.75,463.3 L744,462.8 L744.25,462.3 L744.5,461.8 L744.75,461.2 L745,460.6 L745.25,460.0 L745.5,459.4 L745.75,458.7 L746,458.0 L746.25,457.2 L746.5,456.5 L746.75,455.7 L747,454.8 L747.25,453.9 L747.5,453.0 L747.75,452.0 L748,451.0 L748.25,450.0 L748.5,448.8 L748.75,447.7 L749,446.5 L749.25,445.2 L749.5,443.8 L749.75,442.4 L750,441.0 L750.25,439.4 L750.5,437.8 L750.75,436.1 L751,434.3 L751.25,432.5 L751.5,430.5 L751.75,428.5 L752,426.4 L752.25,424.2 L752.5,421.8 L752.75,419.4 L753,416.8 L753.25,414.1 L753.5,411.3 L753.75,408.4 L754,405.3 L754.25,402.1 L754.5,398.7 L754.75,395.2 L755,391.5 L755.25,387.5 L755.5,383.5 L755.75,379.2 L756,374.7 L756.25,370.1 L756.5,365.1 L756.75,360 M241.5,549.4 L242.5,549.4 L243.5,549.4 L244.5,549.4 L245.5,549.4 L246.5,549.3 L247.5,549.3 L248.5,549.3 L249.5,549.3 L250.5,549.2 L251.5,549.2 L252.5,549.2 L253.5,549.2 L254.5,549.1 L255.5,549.1 L256.5,549.1 L257.5,549.0 L258.5,549.0 L259.5,548.9 L260.5,548.9 L261.5,548.8 L262.5,548.8 L263.5,548.7 L264.5,548.6 L265.5,548.6 L266.5,548.5 L267.5,548.4 L268.5,548.3 L269.5,548.3 L270.5,548.2 L271.5,548.1 L272.5,548.0 L273.5,547.9 L274.5,547.8 L275.5,547.6 L276.5,547.5 L277.5,547.4 L278.5,547.3 L279.5,547.1 L280.5,547.0 L281.5,546.8 L282.5,546.7 L283.5,546.5 L284.5,546.3 L285.5,546.2 L286.5,546.0 L287.5,545.8 L288.5,545.6 L289.5,545.4 L290.5,545.2 L291.5,545.0 L292.5,544.8 L293.5,544.5 L294.5,544.3 L295.5,544.0 L296.5,543.8 L297.5,543.5 L298.5,543.3 L299.5,543.0 L300.5,542.7 L301.5,542.4 L302.5,542.1 L303.5,541.8 L304.5,541.5 L305.5,541.2 L306.5,540.9 L307.5,540.6 L308.5,540.3 L309.5,539.9 L310.5,539.6 L311.5,539.2 L312.5,538.9 L313.5,538.5 L314.5,538.2 L315.5,537.8 L316.5,537.4 L317.5,537.1 L318.5,536.7 L319.5,536.3 L320.5,535.9 L321.5,535.5 L322.5,535.2 L323.5,534.8 L324.5,534.4 L325.5,534.0 L326.5,533.6 L327.5,533.2 L328.5,532.8 L329.5,532.4 L330.5,532.0 L331.5,531.6 L332.5,531.2 L333.5,530.8 L334.5,530.4 L335.5,530.0 L336.5,529.6 L337.5,529.3 L338.5,528.9 L339.5,528.5 L340.5,528.1 L341.5,527.7 L342.5,527.4 L343.5,527.0 L344.5,526.6 L345.5,526.3 L346.5,525.9 L347.5,525.6 L348.5,525.2 L349.5,524.9 L350.5,524.6 L351.5,524.2 L352.5,523.9 L353.5,523.6 L354.5,523.3 L355.5,523.0 L356.5,522.7 L357.5,522.4 L358.5,522.1 L359.5,521.8 L360.5,521.6 L361.5,521.3 L362.5,521.1 L363.5,520.8 L364.5,520.6 L365.5,520.3 L366.5,520.1 L367.5,519.9 L368.5,519.7 L369.5,519.4 L370.5,519.2 L371.5,519.0 L372.5,518.9 L373.5,518.7 L374.5,518.5 L375.5,518.3 L376.5,518.2 L377.5,518.0 L378.5,517.8 L379.5,517.7 L380.5,517.6 L381.5,517.4 L382.5,517.3 L383.5,517.2 L384.5,517.0 L385.5,516.9 L386.5,516.8 L387.5,516.7 L388.5,516.6 L389.5,516.5 L390.5,516.4 L391.5,516.3 L392.5,516.2 L393.5,516.1 L394.5,516.1 L395.5,516.0 L396.5,515.9 L397.5,515.8 L398.5,515.7 L399.5,515.7 L400.5,515.6 L401.5,515.5 L402.5,515.5 L403.5,515.4 L404.5,515.3 L405.5,515.2 L406.5,515.2 L407.5,515.1 L408.5,515.0 L409.5,514.9 L410.5,514.9 L411.5,514.8 L412.5,514.7 L413.5,514.6 L414.5,514.5 L415.5,514.4 L416.5,514.2 L417.5,514.1 L418.5,514.0 L419.5,513.9 L420.5,513.7 L421.5,513.5 L422.5,513.4 L423.5,513.2 L424.5,513.0 L425.5,512.8 L426.5,512.6 L427.5,512.3 L428.5,512.1 L429.5,511.8 L430.5,511.5 L431.5,511.2 L432.5,510.9 L433.5,510.6 L434.5,510.2 L435.5,509.9 L436.5,509.5 L437.5,509.1 L438.5,508.7 L439.5,508.2 L440.5,507.8 L441.5,507.3 L442.5,506.8 L443.5,506.3 L444.5,505.7 L445.5,505.2 L446.5,504.6 L447.5,504.0 L448.5,503.4 L449.5,502.8 L450.5,502.2 L451.5,501.5 L452.5,500.9 L453.5,500.2 L454.5,499.5 L455.5,498.8 L456.5,498.1 L457.5,497.4 L458.5,496.7 L459.5,496.0 L460.5,495.3 L461.5,494.6 L462.5,493.8 L463.5,493.1 L464.5,492.4 L465.5,491.7 L466.5,491.0 L467.5,490.3 L468.5,489.6 L469.5,488.9 L470.5,488.3 L471.5,487.6 L472.5,487.0 L473.5,486.3 L474.5,485.7 L475.5,485.1 L476.5,484.5 L477.5,484.0 L478.5,483.4 L479.5,482.9 L480.5,482.3 L481.5,481.9 L482.5,481.4 L483.5,480.9 L484.5,480.5 L485.5,480.1 L486.5,479.7 L487.5,479.3 L488.5,478.9 L489.5,478.6 L490.5,478.2 L491.5,477.9 L492.5,477.6 L493.5,477.4 L494.5,477.1 L495.5,476.9 L496.5,476.6 L497.5,476.4 L498.5,476.2 L499.5,476.0 L500.5,475.9 L501.5,475.7 L502.5,475.6 L503.5,475.4 L504.5,475.3 L505.5,475.2 L506.5,475.1 L507.5,475.0 L508.5,474.9 L509.5,474.8 L510.5,474.7 L511.5,474.7 L512.5,474.6 L513.5,474.5 L514.5,474.5 L515.5,474.4 L516.5,474.4 L517.5,474.4 L518.5,474.3 L519.5,474.3 L520.5,474.3 L521.5,474.3 L522.5,474.2 L523.5,474.2 L524.5,474.2 L525.5,474.2 L526.5,474.2 L527.5,474.2 L528.5,474.2 L529.5,474.1 L530.5,474.1 L531.5,474.1 L532.5,474.1 L533.5,474.1 L534.5,474.1 L535.5,474.1 L536.5,474.1 L537.5,474.1 L538.5,474.1 L539.5,474.1 L540.5,474.1 L541.5,474.1 L542.5,474.1 L543.5,474.1 L544.5,474.1 L545.5,474.1 L546.5,474.1 L547.5,474.1 L548.5,474.1 L549.5,474.1 L550.5,474.1 L551.5,474.1 L552.5,474.1 L553.5,474.1 L554.5,474.1 L555.5,474.1 L556.5,474.1 L557.5,474.1 L558.5,474.1 L559.5,474.1 L560.5,474.1 L561.5,474.1 L562.5,474.1 L563.5,474.1 L564.5,474.1 L565.5,474.1 L566.5,474.1 L567.5,474.1 L568.5,474.1 L569.5,474.1 L570.5,474.1 L571.5,474.1 L572.5,474.1 L573.5,474.1 L574.5,474.1 L575.5,474.1 L576.5,474.1 L577.5,474.1 L578.5,474.1 L579.5,474.1 L580.5,474.1 L581.5,474.1 L582.5,474.1 L583.5,474.1 L584.5,474.1 L585.5,474.1 L586.5,474.1 L587.5,474.1 L588.5,474.1 L589.5,474.1 L590.5,474.1 L591.5,474.1 L592.5,474.1 L593.5,474.1 L594.5,474.1 L595.5,474.1 L596.5,474.1 L597.5,474.1 L598.5,474.1 L599.5,474.1 L600.5,474.1 L601.5,474.1 L602.5,474.1 L603.5,474.1 L604.5,474.1 L605.5,474.1 L606.5,474.1 L607.5,474.1 L608.5,474.1 L609.5,474.1 L610.5,474.1 L611.5,474.1 L612.5,474.1 L613.5,474.1 L614.5,474.1 L615.5,474.1 L616.5,474.1 L617.5,474.1 L618.5,474.1 L619.5,474.1 L620.5,474.1 L621.5,474.1 L622.5,474.1 L623.5,474.1 L624.5,474.1 L625.5,474.1 L626.5,474.1 L627.5,474.1 L628.5,474.1 L629.5,474.1 L630.5,474.1 L631.5,474.1 L632.5,474.1 L633.5,474.1 L634.5,474.1 L635.5,474.1 L636.5,474.1 L637.5,474.1 L638.5,474.1 L639.5,474.1 L640.5,474.1 L641.5,474.1 L642.5,474.1 L643.5,474.1 L644.5,474.1 L645.5,474.1 L646.5,474.1 L647.5,474.1 L648.5,474.1 L649.5,474.1 L650.5,474.1 L651.5,474.1 L652.5,474.1 L653.5,474.1 L654.5,474.1 L655.5,474.1 L656.5,474.1 L657.5,474.1 L658.5,474.1 L659.5,474.1 L660.5,474.1 L661.5,474.1 L662.5,474.1 L663.5,474.1 L664.5,474.1 L665.5,474.1 L666.5,474.1 L667.5,474.1 L668.5,474.1 L669.5,474.1 L670.5,474.1 L671.5,474.1 L672.5,474.1 L673.5,474.1 L674.5,474.1 L675.5,474.1 L676.5,474.1 L677.5,474.1 L678.5,474.1 L679.5,474.1 L680.5,474.1 L681.5,474.1 L682.5,474.1 L683.5,474.1 L684.5,474.1 L685.5,474.1 L686.5,474.1 L687.5,474.1 L688.5,474.1 L689.5,474.1 L690.5,474.1 L691.5,474.1 L692.5,474.1 L693.5,474.1 L694.5,474.1 L695.5,474.1 L696.5,474.1 L697.5,474.1 L698.5,474.1 L699.5,474.1 L700.5,474.1 L701.5,474.1 L702.5,474.1 L703.5,474.1 L704.5,474.1 L705.5,474.1 L706.5,474.1 L707.5,474.1 L708.5,474.1 L709.5,474.1 L710.5,474.1 L711.5,474.1 L712.5,474.1 L713.5,474.0 L714.5,474.0 L715.5,474.0 L716.5,474.0 L717.5,474.0 L718.5,474.0 L719.5,474.0 L720.5,473.9 L721.5,473.9 L722.5,473.9 L723.5,473.8 L724.5,473.8 L725.5,473.7 L726.5,473.6 L727.5,473.6 L728.5,473.4 L729.5,473.3 L729.75,473.3 L730,473.2 L730.25,473.2 L730.5,473.1 L730.75,473.1 L731,473.1 L731.25,473.0 L731.5,473.0 L731.75,472.9 L732,472.8 L732.25,472.8 L732.5,472.7 L732.75,472.7 L733,472.6 L733.25,472.5 L733.5,472.5 L733.75,472.4 L734,472.3 L734.25,472.2 L734.5,472.1 L734.75,472.0 L735,471.9 L735.25,471.8 L735.5,471.7 L735.75,471.6 L736,471.5 L736.25,471.4 L736.5,471.2 L736.75,471.1 L737,471.0 L737.25,470.8 L737.5,470.7 L737.75,470.5 L738,470.3 L738.25,470.1 L738.5,470.0 L738.75,469.8 L739,469.6 L739.25,469.3 L739.5,469.1 L739.75,468.9 L740,468.6 L740.25,468.4 L740.5,468.1 L740.75,467.8 L741,467.5 L741.25,467.2 L741.5,466.9 L741.75,466.5 L742,466.2 L742.25,465.8 L742.5,465.4 L742.75,465.0 L743,464.6 L743.25,464.1 L743.5,463.7 L743.75,463.2 L744,462.7 L744.25,462.1 L744.5,461.6 L744.75,461.0 L745,460.4 L745.25,459.7 L745.5,459.0 L745.75,458.3 L746,457.6 L746.25,456.8 L746.5,456.0 L746.75,455.1 L747,454.2 L747.25,453.3 L747.5,452.3 L747.75,451.3 L748,450.2 L748.25,449.1 L748.5,447.9 L748.75,446.7 L749,445.4 L749.25,444.0 L749.5,442.6 L749.75,441.1 L750,439.5 L750.25,437.9 L750.5,436.2 L750.75,434.4 L751,432.6 L751.25,430.6 L751.5,428.5 L751.75,426.4 L752,424.2 L752.25,421.8 L752.5,419.4 L752.75,416.8 L753,414.1 L753.25,411.2 L753.5,408.3 L753.75,405.2 L754,401.9 L754.25,398.5 L754.5,394.9 L754.75,391.2 L755,387.3 L755.25,383.2 L755.5,378.9 L755.75,374.4 L756,369.7 L756.25,364.8 L756.5,360 M241.5,549.4 L242.5,549.4 L243.5,549.4 L244.5,549.4 L245.5,549.4 L246.5,549.4 L247.5,549.4 L248.5,549.3 L249.5,549.3 L250.5,549.3 L251.5,549.3 L252.5,549.3 L253.5,549.2 L254.5,549.2 L255.5,549.2 L256.5,549.1 L257.5,549.1 L258.5,549.1 L259.5,549.0 L260.5,549.0 L261.5,548.9 L262.5,548.9 L263.5,548.9 L264.5,548.8 L265.5,548.7 L266.5,548.7 L267.5,548.6 L268.5,548.6 L269.5,548.5 L270.5,548.4 L271.5,548.3 L272.5,548.3 L273.5,548.2 L274.5,548.1 L275.5,548.0 L276.5,547.9 L277.5,547.8 L278.5,547.7 L279.5,547.6 L280.5,547.4 L281.5,547.3 L282.5,547.2 L283.5,547.0 L284.5,546.9 L285.5,546.7 L286.5,546.6 L287.5,546.4 L288.5,546.3 L289.5,546.1 L290.5,545.9 L291.5,545.7 L292.5,545.5 L293.5,545.3 L294.5,545.1 L295.5,544.9 L296.5,544.7 L297.5,544.5 L298.5,544.3 L299.5,544.0 L300.5,543.8 L301.5,543.5 L302.5,543.3 L303.5,543.0 L304.5,542.7 L305.5,542.5 L306.5,542.2 L307.5,541.9 L308.5,541.6 L309.5,541.3 L310.5,541.0 L311.5,540.7 L312.5,540.4 L313.5,540.0 L314.5,539.7 L315.5,539.4 L316.5,539.0 L317.5,538.7 L318.5,538.3 L319.5,538.0 L320.5,537.6 L321.5,537.3 L322.5,536.9 L323.5,536.5 L324.5,536.2 L325.5,535.8 L326.5,535.4 L327.5,535.1 L328.5,534.7 L329.5,534.3 L330.5,533.9 L331.5,533.5 L332.5,533.1 L333.5,532.8 L334.5,532.4 L335.5,532.0 L336.5,531.6 L337.5,531.2 L338.5,530.9 L339.5,530.5 L340.5,530.1 L341.5,529.7 L342.5,529.3 L343.5,529.0 L344.5,528.6 L345.5,528.2 L346.5,527.9 L347.5,527.5 L348.5,527.2 L349.5,526.8 L350.5,526.5 L351.5,526.1 L352.5,525.8 L353.5,525.4 L354.5,525.1 L355.5,524.8 L356.5,524.5 L357.5,524.2 L358.5,523.9 L359.5,523.6 L360.5,523.3 L361.5,523.0 L362.5,522.7 L363.5,522.4 L364.5,522.1 L365.5,521.9 L366.5,521.6 L367.5,521.4 L368.5,521.1 L369.5,520.9 L370.5,520.6 L371.5,520.4 L372.5,520.2 L373.5,520.0 L374.5,519.8 L375.5,519.6 L376.5,519.4 L377.5,519.2 L378.5,519.0 L379.5,518.8 L380.5,518.6 L381.5,518.5 L382.5,518.3 L383.5,518.2 L384.5,518.0 L385.5,517.9 L386.5,517.7 L387.5,517.6 L388.5,517.5 L389.5,517.3 L390.5,517.2 L391.5,517.1 L392.5,517.0 L393.5,516.9 L394.5,516.8 L395.5,516.7 L396.5,516.6 L397.5,516.5 L398.5,516.4 L399.5,516.3 L400.5,516.3 L401.5,516.2 L402.5,516.1 L403.5,516.0 L404.5,516.0 L405.5,515.9 L406.5,515.8 L407.5,515.8 L408.5,515.7 L409.5,515.7 L410.5,515.6 L411.5,515.5 L412.5,515.5 L413.5,515.4 L414.5,515.4 L415.5,515.3 L416.5,515.2 L417.5,515.2 L418.5,515.1 L419.5,515.0 L420.5,515.0 L421.5,514.9 L422.5,514.8 L423.5,514.7 L424.5,514.6 L425.5,514.5 L426.5,514.4 L427.5,514.3 L428.5,514.2 L429.5,514.1 L430.5,514.0 L431.5,513.8 L432.5,513.7 L433.5,513.5 L434.5,513.3 L435.5,513.1 L436.5,512.9 L437.5,512.7 L438.5,512.5 L439.5,512.3 L440.5,512.0 L441.5,511.8 L442.5,511.5 L443.5,511.2 L444.5,510.9 L445.5,510.6 L446.5,510.2 L447.5,509.8 L448.5,509.5 L449.5,509.1 L450.5,508.6 L451.5,508.2 L452.5,507.8 L453.5,507.3 L454.5,506.8 L455.5,506.3 L456.5,505.8 L457.5,505.3 L458.5,504.7 L459.5,504.1 L460.5,503.5 L461.5,503.0 L462.5,502.3 L463.5,501.7 L464.5,501.1 L465.5,500.4 L466.5,499.8 L467.5,499.1 L468.5,498.5 L469.5,497.8 L470.5,497.1 L471.5,496.4 L472.5,495.7 L473.5,495.0 L474.5,494.3 L475.5,493.6 L476.5,493.0 L477.5,492.3 L478.5,491.6 L479.5,490.9 L480.5,490.3 L481.5,489.6 L482.5,488.9 L483.5,488.3 L484.5,487.7 L485.5,487.1 L486.5,486.5 L487.5,485.9 L488.5,485.3 L489.5,484.8 L490.5,484.2 L491.5,483.7 L492.5,483.2 L493.5,482.7 L494.5,482.2 L495.5,481.8 L496.5,481.3 L497.5,480.9 L498.5,480.5 L499.5,480.1 L500.5,479.7 L501.5,479.4 L502.5,479.1 L503.5,478.7 L504.5,478.4 L505.5,478.2 L506.5,477.9 L507.5,477.7 L508.5,477.4 L509.5,477.2 L510.5,477.0 L511.5,476.8 L512.5,476.6 L513.5,476.4 L514.5,476.3 L515.5,476.1 L516.5,476.0 L517.5,475.9 L518.5,475.8 L519.5,475.7 L520.5,475.6 L521.5,475.5 L522.5,475.4 L523.5,475.3 L524.5,475.3 L525.5,475.2 L526.5,475.1 L527.5,475.1 L528.5,475.0 L529.5,475.0 L530.5,475.0 L531.5,474.9 L532.5,474.9 L533.5,474.9 L534.5,474.8 L535.5,474.8 L536.5,474.8 L537.5,474.8 L538.5,474.8 L539.5,474.7 L540.5,474.7 L541.5,474.7 L542.5,474.7 L543.5,474.7 L544.5,474.7 L545.5,474.7 L546.5,474.7 L547.5,474.7 L548.5,474.7 L549.5,474.7 L550.5,474.7 L551.5,474.7 L552.5,474.7 L553.5,474.7 L554.5,474.7 L555.5,474.7 L556.5,474.7 L557.5,474.7 L558.5,474.7 L559.5,474.7 L560.5,474.7 L561.5,474.7 L562.5,474.6 L563.5,474.6 L564.5,474.6 L565.5,474.6 L566.5,474.6 L567.5,474.6 L568.5,474.6 L569.5,474.6 L570.5,474.6 L571.5,474.6 L572.5,474.6 L573.5,474.6 L574.5,474.6 L575.5,474.6 L576.5,474.6 L577.5,474.6 L578.5,474.6 L579.5,474.6 L580.5,474.6 L581.5,474.6 L582.5,474.6 L583.5,474.6 L584.5,474.6 L585.5,474.6 L586.5,474.6 L587.5,474.6 L588.5,474.6 L589.5,474.6 L590.5,474.6 L591.5,474.6 L592.5,474.6 L593.5,474.6 L594.5,474.6 L595.5,474.6 L596.5,474.6 L597.5,474.6 L598.5,474.6 L599.5,474.6 L600.5,474.6 L601.5,474.6 L602.5,474.6 L603.5,474.6 L604.5,474.6 L605.5,474.6 L606.5,474.6 L607.5,474.6 L608.5,474.6 L609.5,474.6 L610.5,474.6 L611.5,474.6 L612.5,474.6 L613.5,474.6 L614.5,474.6 L615.5,474.6 L616.5,474.6 L617.5,474.6 L618.5,474.6 L619.5,474.6 L620.5,474.6 L621.5,474.6 L622.5,474.6 L623.5,474.6 L624.5,474.6 L625.5,474.6 L626.5,474.6 L627.5,474.6 L628.5,474.6 L629.5,474.6 L630.5,474.6 L631.5,474.6 L632.5,474.6 L633.5,474.6 L634.5,474.6 L635.5,474.6 L636.5,474.6 L637.5,474.6 L638.5,474.6 L639.5,474.6 L640.5,474.6 L641.5,474.6 L642.5,474.6 L643.5,474.6 L644.5,474.6 L645.5,474.6 L646.5,474.6 L647.5,474.6 L648.5,474.6 L649.5,474.6 L650.5,474.6 L651.5,474.6 L652.5,474.6 L653.5,474.6 L654.5,474.6 L655.5,474.6 L656.5,474.6 L657.5,474.6 L658.5,474.6 L659.5,474.6 L660.5,474.6 L661.5,474.6 L662.5,474.6 L663.5,474.6 L664.5,474.6 L665.5,474.6 L666.5,474.6 L667.5,474.6 L668.5,474.6 L669.5,474.6 L670.5,474.6 L671.5,474.6 L672.5,474.6 L673.5,474.6 L674.5,474.6 L675.5,474.6 L676.5,474.6 L677.5,474.6 L678.5,474.6 L679.5,474.6 L680.5,474.6 L681.5,474.6 L682.5,474.6 L683.5,474.6 L684.5,474.6 L685.5,474.6 L686.5,474.6 L687.5,474.6 L688.5,474.6 L689.5,474.6 L690.5,474.6 L691.5,474.6 L692.5,474.6 L693.5,474.6 L694.5,474.6 L695.5,474.6 L696.5,474.6 L697.5,474.6 L698.5,474.6 L699.5,474.6 L700.5,474.6 L701.5,474.6 L702.5,474.6 L703.5,474.6 L704.5,474.6 L705.5,474.6 L706.5,474.6 L707.5,474.6 L708.5,474.6 L709.5,474.6 L710.5,474.6 L711.5,474.6 L712.5,474.6 L713.5,474.6 L714.5,474.6 L715.5,474.6 L716.5,474.6 L717.5,474.6 L718.5,474.5 L719.5,474.5 L720.5,474.5 L721.5,474.5 L722.5,474.4 L723.5,474.4 L724.5,474.3 L725.5,474.2 L726.5,474.2 L727.5,474.1 L728.5,474.0 L729.5,473.8 L729.75,473.8 L730,473.7 L730.25,473.7 L730.5,473.6 L730.75,473.6 L731,473.5 L731.25,473.5 L731.5,473.4 L731.75,473.4 L732,473.3 L732.25,473.3 L732.5,473.2 L732.75,473.1 L733,473.1 L733.25,473.0 L733.5,472.9 L733.75,472.8 L734,472.7 L734.25,472.6 L734.5,472.5 L734.75,472.4 L735,472.3 L735.25,472.2 L735.5,472.1 L735.75,472.0 L736,471.9 L736.25,471.7 L736.5,471.6 L736.75,471.5 L737,471.3 L737.25,471.2 L737.5,471.0 L737.75,470.8 L738,470.6 L738.25,470.4 L738.5,470.2 L738.75,470.0 L739,469.8 L739.25,469.6 L739.5,469.4 L739.75,469.1 L740,468.8 L740.25,468.6 L740.5,468.3 L740.75,468.0 L741,467.7 L741.25,467.3 L741.5,467.0 L741.75,466.6 L742,466.3 L742.25,465.9 L742.5,465.5 L742.75,465.0 L743,464.6 L743.25,464.1 L743.5,463.6 L743.75,463.1 L744,462.5 L744.25,462.0 L744.5,461.4 L744.75,460.7 L745,460.1 L745.25,459.4 L745.5,458.7 L745.75,457.9 L746,457.2 L746.25,456.3 L746.5,455.5 L746.75,454.6 L747,453.6 L747.25,452.6 L747.5,451.6 L747.75,450.5 L748,449.4 L748.25,448.2 L748.5,447.0 L748.75,445.7 L749,444.3 L749.25,442.9 L749.5,441.4 L749.75,439.8 L750,438.2 L750.25,436.5 L750.5,434.7 L750.75,432.8 L751,430.8 L751.25,428.8 L751.5,426.6 L751.75,424.3 L752,422.0 L752.25,419.5 L752.5,416.9 L752.75,414.2 L753,411.3 L753.25,408.4 L753.5,405.3 L753.75,402.0 L754,398.6 L754.25,395.0 L754.5,391.3 L754.75,387.4 L755,383.2 L755.25,378.9 L755.5,374.4 L755.75,369.7 L756,364.7 L756.25,360 M241.5,549.4 L242.5,549.4 L243.5,549.4 L244.5,549.4 L245.5,549.4 L246.5,549.4 L247.5,549.4 L248.5,549.4 L249.5,549.4 L250.5,549.3 L251.5,549.3 L252.5,549.3 L253.5,549.3 L254.5,549.3 L255.5,549.2 L256.5,549.2 L257.5,549.2 L258.5,549.2 L259.5,549.1 L260.5,549.1 L261.5,549.1 L262.5,549.0 L263.5,549.0 L264.5,548.9 L265.5,548.9 L266.5,548.8 L267.5,548.8 L268.5,548.7 L269.5,548.7 L270.5,548.6 L271.5,548.6 L272.5,548.5 L273.5,548.4 L274.5,548.3 L275.5,548.3 L276.5,548.2 L277.5,548.1 L278.5,548.0 L279.5,547.9 L280.5,547.8 L281.5,547.7 L282.5,547.6 L283.5,547.5 L284.5,547.3 L285.5,547.2 L286.5,547.1 L287.5,547.0 L288.5,546.8 L289.5,546.7 L290.5,546.5 L291.5,546.4 L292.5,546.2 L293.5,546.0 L294.5,545.8 L295.5,545.7 L296.5,545.5 L297.5,545.3 L298.5,545.1 L299.5,544.9 L300.5,544.7 L301.5,544.4 L302.5,544.2 L303.5,544.0 L304.5,543.7 L305.5,543.5 L306.5,543.3 L307.5,543.0 L308.5,542.7 L309.5,542.5 L310.5,542.2 L311.5,541.9 L312.5,541.6 L313.5,541.3 L314.5,541.0 L315.5,540.7 L316.5,540.4 L317.5,540.1 L318.5,539.8 L319.5,539.5 L320.5,539.2 L321.5,538.8 L322.5,538.5 L323.5,538.1 L324.5,537.8 L325.5,537.5 L326.5,537.1 L327.5,536.8 L328.5,536.4 L329.5,536.0 L330.5,535.7 L331.5,535.3 L332.5,534.9 L333.5,534.6 L334.5,534.2 L335.5,533.8 L336.5,533.5 L337.5,533.1 L338.5,532.7 L339.5,532.4 L340.5,532.0 L341.5,531.6 L342.5,531.2 L343.5,530.9 L344.5,530.5 L345.5,530.1 L346.5,529.8 L347.5,529.4 L348.5,529.0 L349.5,528.7 L350.5,528.3 L351.5,528.0 L352.5,527.6 L353.5,527.3 L354.5,526.9 L355.5,526.6 L356.5,526.3 L357.5,525.9 L358.5,525.6 L359.5,525.3 L360.5,525.0 L361.5,524.7 L362.5,524.4 L363.5,524.1 L364.5,523.8 L365.5,523.5 L366.5,523.2 L367.5,522.9 L368.5,522.6 L369.5,522.4 L370.5,522.1 L371.5,521.9 L372.5,521.6 L373.5,521.4 L374.5,521.1 L375.5,520.9 L376.5,520.7 L377.5,520.5 L378.5,520.2 L379.5,520.0 L380.5,519.8 L381.5,519.6 L382.5,519.4 L383.5,519.3 L384.5,519.1 L385.5,518.9 L386.5,518.7 L387.5,518.6 L388.5,518.4 L389.5,518.3 L390.5,518.1 L391.5,518.0 L392.5,517.9 L393.5,517.7 L394.5,517.6 L395.5,517.5 L396.5,517.4 L397.5,517.3 L398.5,517.2 L399.5,517.1 L400.5,517.0 L401.5,516.9 L402.5,516.8 L403.5,516.7 L404.5,516.6 L405.5,516.5 L406.5,516.5 L407.5,516.4 L408.5,516.3 L409.5,516.2 L410.5,516.2 L411.5,516.1 L412.5,516.1 L413.5,516.0 L414.5,515.9 L415.5,515.9 L416.5,515.8 L417.5,515.8 L418.5,515.7 L419.5,515.7 L420.5,515.6 L421.5,515.6 L422.5,515.5 L423.5,515.5 L424.5,515.4 L425.5,515.4 L426.5,515.3 L427.5,515.3 L428.5,515.2 L429.5,515.1 L430.5,515.1 L431.5,515.0 L432.5,514.9 L433.5,514.9 L434.5,514.8 L435.5,514.7 L436.5,514.6 L437.5,514.5 L438.5,514.4 L439.5,514.3 L440.5,514.2 L441.5,514.1 L442.5,513.9 L443.5,513.8 L444.5,513.6 L445.5,513.5 L446.5,513.3 L447.5,513.1 L448.5,512.9 L449.5,512.7 L450.5,512.5 L451.5,512.2 L452.5,512.0 L453.5,511.7 L454.5,511.4 L455.5,511.1 L456.5,510.8 L457.5,510.5 L458.5,510.2 L459.5,509.8 L460.5,509.4 L461.5,509.0 L462.5,508.6 L463.5,508.2 L464.5,507.7 L465.5,507.3 L466.5,506.8 L467.5,506.3 L468.5,505.8 L469.5,505.3 L470.5,504.8 L471.5,504.2 L472.5,503.6 L473.5,503.1 L474.5,502.5 L475.5,501.9 L476.5,501.3 L477.5,500.6 L478.5,500.0 L479.5,499.4 L480.5,498.7 L481.5,498.1 L482.5,497.4 L483.5,496.7 L484.5,496.1 L485.5,495.4 L486.5,494.7 L487.5,494.1 L488.5,493.4 L489.5,492.8 L490.5,492.1 L491.5,491.4 L492.5,490.8 L493.5,490.2 L494.5,489.5 L495.5,488.9 L496.5,488.3 L497.5,487.7 L498.5,487.1 L499.5,486.6 L500.5,486.0 L501.5,485.5 L502.5,484.9 L503.5,484.4 L504.5,483.9 L505.5,483.4 L506.5,483.0 L507.5,482.5 L508.5,482.1 L509.5,481.7 L510.5,481.3 L511.5,480.9 L512.5,480.5 L513.5,480.2 L514.5,479.8 L515.5,479.5 L516.5,479.2 L517.5,478.9 L518.5,478.7 L519.5,478.4 L520.5,478.2 L521.5,477.9 L522.5,477.7 L523.5,477.5 L524.5,477.3 L525.5,477.2 L526.5,477.0 L527.5,476.8 L528.5,476.7 L529.5,476.6 L530.5,476.4 L531.5,476.3 L532.5,476.2 L533.5,476.1 L534.5,476.0 L535.5,476.0 L536.5,475.9 L537.5,475.8 L538.5,475.8 L539.5,475.7 L540.5,475.6 L541.5,475.6 L542.5,475.6 L543.5,475.5 L544.5,475.5 L545.5,475.5 L546.5,475.4 L547.5,475.4 L548.5,475.4 L549.5,475.4 L550.5,475.3 L551.5,475.3 L552.5,475.3 L553.5,475.3 L554.5,475.3 L555.5,475.3 L556.5,475.3 L557.5,475.2 L558.5,475.2 L559.5,475.2 L560.5,475.2 L561.5,475.2 L562.5,475.2 L563.5,475.2 L564.5,475.2 L565.5,475.2 L566.5,475.2 L567.5,475.2 L568.5,475.2 L569.5,475.2 L570.5,475.2 L571.5,475.2 L572.5,475.2 L573.5,475.2 L574.5,475.2 L575.5,475.2 L576.5,475.2 L577.5,475.2 L578.5,475.2 L579.5,475.2 L580.5,475.2 L581.5,475.2 L582.5,475.2 L583.5,475.2 L584.5,475.2 L585.5,475.2 L586.5,475.2 L587.5,475.2 L588.5,475.2 L589.5,475.2 L590.5,475.2 L591.5,475.2 L592.5,475.2 L593.5,475.2 L594.5,475.2 L595.5,475.2 L596.5,475.2 L597.5,475.2 L598.5,475.2 L599.5,475.2 L600.5,475.2 L601.5,475.2 L602.5,475.2 L603.5,475.2 L604.5,475.2 L605.5,475.2 L606.5,475.2 L607.5,475.2 L608.5,475.2 L609.5,475.2 L610.5,475.2 L611.5,475.2 L612.5,475.2 L613.5,475.2 L614.5,475.2 L615.5,475.2 L616.5,475.2 L617.5,475.2 L618.5,475.2 L619.5,475.2 L620.5,475.2 L621.5,475.2 L622.5,475.2 L623.5,475.2 L624.5,475.2 L625.5,475.2 L626.5,475.2 L627.5,475.2 L628.5,475.2 L629.5,475.2 L630.5,475.2 L631.5,475.2 L632.5,475.2 L633.5,475.2 L634.5,475.2 L635.5,475.2 L636.5,475.2 L637.5,475.2 L638.5,475.2 L639.5,475.2 L640.5,475.2 L641.5,475.2 L642.5,475.2 L643.5,475.2 L644.5,475.2 L645.5,475.2 L646.5,475.2 L647.5,475.2 L648.5,475.2 L649.5,475.2 L650.5,475.2 L651.5,475.2 L652.5,475.2 L653.5,475.2 L654.5,475.2 L655.5,475.2 L656.5,475.2 L657.5,475.2 L658.5,475.2 L659.5,475.2 L660.5,475.2 L661.5,475.2 L662.5,475.2 L663.5,475.2 L664.5,475.2 L665.5,475.2 L666.5,475.2 L667.5,475.2 L668.5,475.2 L669.5,475.2 L670.5,475.2 L671.5,475.2 L672.5,475.2 L673.5,475.2 L674.5,475.2 L675.5,475.2 L676.5,475.2 L677.5,475.2 L678.5,475.2 L679.5,475.2 L680.5,475.2 L681.5,475.2 L682.5,475.2 L683.5,475.2 L684.5,475.2 L685.5,475.2 L686.5,475.2 L687.5,475.2 L688.5,475.2 L689.5,475.2 L690.5,475.2 L691.5,475.2 L692.5,475.2 L693.5,475.2 L694.5,475.2 L695.5,475.2 L696.5,475.2 L697.5,475.2 L698.5,475.2 L699.5,475.2 L700.5,475.2 L701.5,475.2 L702.5,475.2 L703.5,475.2 L704.5,475.2 L705.5,475.2 L706.5,475.2 L707.5,475.2 L708.5,475.2 L709.5,475.2 L710.5,475.2 L711.5,475.2 L712.5,475.2 L713.5,475.1 L714.5,475.1 L715.5,475.1 L716.5,475.1 L717.5,475.1 L718.5,475.1 L719.5,475.1 L720.5,475.0 L721.5,475.0 L722.5,474.9 L723.5,474.9 L724.5,474.8 L725.5,474.8 L726.5,474.7 L727.5,474.6 L728.5,474.5 L729.5,474.3 L729.75,474.3 L730,474.2 L730.25,474.2 L730.5,474.1 L730.75,474.1 L731,474.0 L731.25,474.0 L731.5,473.9 L731.75,473.8 L732,473.8 L732.25,473.7 L732.5,473.6 L732.75,473.6 L733,473.5 L733.25,473.4 L733.5,473.3 L733.75,473.2 L734,473.2 L734.25,473.1 L734.5,473.0 L734.75,472.9 L735,472.7 L735.25,472.6 L735.5,472.5 L735.75,472.4 L736,472.2 L736.25,472.1 L736.5,472.0 L736.75,471.8 L737,471.7 L737.25,471.5 L737.5,471.3 L737.75,471.1 L738,470.9 L738.25,470.7 L738.5,470.5 L738.75,470.3 L739,470.1 L739.25,469.8 L739.5,469.6 L739.75,469.3 L740,469.1 L740.25,468.8 L740.5,468.5 L740.75,468.2 L741,467.8 L741.25,467.5 L741.5,467.1 L741.75,466.7 L742,466.3 L742.25,465.9 L742.5,465.5 L742.75,465.0 L743,464.6 L743.25,464.1 L743.5,463.5 L743.75,463.0 L744,462.4 L744.25,461.8 L744.5,461.2 L744.75,460.5 L745,459.8 L745.25,459.1 L745.5,458.4 L745.75,457.6 L746,456.8 L746.25,455.9 L746.5,455.0 L746.75,454.0 L747,453.0 L747.25,452.0 L747.5,450.9 L747.75,449.8 L748,448.6 L748.25,447.3 L748.5,446.0 L748.75,444.7 L749,443.2 L749.25,441.7 L749.5,440.2 L749.75,438.5 L750,436.8 L750.25,435.0 L750.5,433.1 L750.75,431.1 L751,429.1 L751.25,426.9 L751.5,424.7 L751.75,422.3 L752,419.8 L752.25,417.2 L752.5,414.5 L752.75,411.7 L753,408.7 L753.25,405.6 L753.5,402.3 L753.75,398.9 L754,395.3 L754.25,391.6 L754.5,387.6 L754.75,383.5 L755,379.2 L755.25,374.7 L755.5,370.0 L755.75,365.1 L756,360 M241.5,549.5 L242.5,549.4 L243.5,549.4 L244.5,549.4 L245.5,549.4 L246.5,549.4 L247.5,549.4 L248.5,549.4 L249.5,549.4 L250.5,549.4 L251.5,549.4 L252.5,549.3 L253.5,549.3 L254.5,549.3 L255.5,549.3 L256.5,549.3 L257.5,549.2 L258.5,549.2 L259.5,549.2 L260.5,549.2 L261.5,549.1 L262.5,549.1 L263.5,549.1 L264.5,549.0 L265.5,549.0 L266.5,549.0 L267.5,548.9 L268.5,548.9 L269.5,548.8 L270.5,548.8 L271.5,548.7 L272.5,548.7 L273.5,548.6 L274.5,548.5 L275.5,548.5 L276.5,548.4 L277.5,548.3 L278.5,548.3 L279.5,548.2 L280.5,548.1 L281.5,548.0 L282.5,547.9 L283.5,547.8 L284.5,547.7 L285.5,547.6 L286.5,547.5 L287.5,547.4 L288.5,547.3 L289.5,547.1 L290.5,547.0 L291.5,546.9 L292.5,546.7 L293.5,546.6 L294.5,546.4 L295.5,546.3 L296.5,546.1 L297.5,546.0 L298.5,545.8 L299.5,545.6 L300.5,545.4 L301.5,545.2 L302.5,545.0 L303.5,544.8 L304.5,544.6 L305.5,544.4 L306.5,544.2 L307.5,544.0 L308.5,543.7 L309.5,543.5 L310.5,543.2 L311.5,543.0 L312.5,542.7 L313.5,542.5 L314.5,542.2 L315.5,541.9 L316.5,541.7 L317.5,541.4 L318.5,541.1 L319.5,540.8 L320.5,540.5 L321.5,540.2 L322.5,539.9 L323.5,539.6 L324.5,539.3 L325.5,538.9 L326.5,538.6 L327.5,538.3 L328.5,538.0 L329.5,537.6 L330.5,537.3 L331.5,536.9 L332.5,536.6 L333.5,536.2 L334.5,535.9 L335.5,535.5 L336.5,535.2 L337.5,534.8 L338.5,534.5 L339.5,534.1 L340.5,533.8 L341.5,533.4 L342.5,533.0 L343.5,532.7 L344.5,532.3 L345.5,531.9 L346.5,531.6 L347.5,531.2 L348.5,530.9 L349.5,530.5 L350.5,530.2 L351.5,529.8 L352.5,529.4 L353.5,529.1 L354.5,528.7 L355.5,528.4 L356.5,528.1 L357.5,527.7 L358.5,527.4 L359.5,527.1 L360.5,526.7 L361.5,526.4 L362.5,526.1 L363.5,525.8 L364.5,525.5 L365.5,525.1 L366.5,524.8 L367.5,524.5 L368.5,524.2 L369.5,524.0 L370.5,523.7 L371.5,523.4 L372.5,523.1 L373.5,522.9 L374.5,522.6 L375.5,522.3 L376.5,522.1 L377.5,521.8 L378.5,521.6 L379.5,521.4 L380.5,521.1 L381.5,520.9 L382.5,520.7 L383.5,520.5 L384.5,520.3 L385.5,520.1 L386.5,519.9 L387.5,519.7 L388.5,519.5 L389.5,519.3 L390.5,519.2 L391.5,519.0 L392.5,518.8 L393.5,518.7 L394.5,518.5 L395.5,518.4 L396.5,518.3 L397.5,518.1 L398.5,518.0 L399.5,517.9 L400.5,517.7 L401.5,517.6 L402.5,517.5 L403.5,517.4 L404.5,517.3 L405.5,517.2 L406.5,517.1 L407.5,517.0 L408.5,516.9 L409.5,516.8 L410.5,516.8 L411.5,516.7 L412.5,516.6 L413.5,516.5 L414.5,516.5 L415.5,516.4 L416.5,516.4 L417.5,516.3 L418.5,516.2 L419.5,516.2 L420.5,516.1 L421.5,516.1 L422.5,516.0 L423.5,516.0 L424.5,515.9 L425.5,515.9 L426.5,515.8 L427.5,515.8 L428.5,515.8 L429.5,515.7 L430.5,515.7 L431.5,515.6 L432.5,515.6 L433.5,515.5 L434.5,515.5 L435.5,515.5 L436.5,515.4 L437.5,515.4 L438.5,515.3 L439.5,515.3 L440.5,515.2 L441.5,515.1 L442.5,515.1 L443.5,515.0 L444.5,514.9 L445.5,514.9 L446.5,514.8 L447.5,514.7 L448.5,514.6 L449.5,514.5 L450.5,514.4 L451.5,514.3 L452.5,514.2 L453.5,514.0 L454.5,513.9 L455.5,513.7 L456.5,513.6 L457.5,513.4 L458.5,513.2 L459.5,513.1 L460.5,512.9 L461.5,512.6 L462.5,512.4 L463.5,512.2 L464.5,511.9 L465.5,511.6 L466.5,511.4 L467.5,511.1 L468.5,510.8 L469.5,510.4 L470.5,510.1 L471.5,509.7 L472.5,509.4 L473.5,509.0 L474.5,508.6 L475.5,508.1 L476.5,507.7 L477.5,507.2 L478.5,506.8 L479.5,506.3 L480.5,505.8 L481.5,505.3 L482.5,504.8 L483.5,504.2 L484.5,503.7 L485.5,503.1 L486.5,502.5 L487.5,502.0 L488.5,501.4 L489.5,500.8 L490.5,500.1 L491.5,499.5 L492.5,498.9 L493.5,498.3 L494.5,497.6 L495.5,497.0 L496.5,496.4 L497.5,495.7 L498.5,495.1 L499.5,494.4 L500.5,493.8 L501.5,493.2 L502.5,492.5 L503.5,491.9 L504.5,491.3 L505.5,490.7 L506.5,490.0 L507.5,489.4 L508.5,488.9 L509.5,488.3 L510.5,487.7 L511.5,487.2 L512.5,486.6 L513.5,486.1 L514.5,485.6 L515.5,485.1 L516.5,484.6 L517.5,484.1 L518.5,483.6 L519.5,483.2 L520.5,482.8 L521.5,482.4 L522.5,482.0 L523.5,481.6 L524.5,481.2 L525.5,480.9 L526.5,480.5 L527.5,480.2 L528.5,479.9 L529.5,479.6 L530.5,479.4 L531.5,479.1 L532.5,478.9 L533.5,478.6 L534.5,478.4 L535.5,478.2 L536.5,478.0 L537.5,477.8 L538.5,477.7 L539.5,477.5 L540.5,477.4 L541.5,477.2 L542.5,477.1 L543.5,477.0 L544.5,476.9 L545.5,476.8 L546.5,476.7 L547.5,476.6 L548.5,476.5 L549.5,476.4 L550.5,476.4 L551.5,476.3 L552.5,476.2 L553.5,476.2 L554.5,476.1 L555.5,476.1 L556.5,476.1 L557.5,476.0 L558.5,476.0 L559.5,476.0 L560.5,475.9 L561.5,475.9 L562.5,475.9 L563.5,475.9 L564.5,475.9 L565.5,475.8 L566.5,475.8 L567.5,475.8 L568.5,475.8 L569.5,475.8 L570.5,475.8 L571.5,475.8 L572.5,475.8 L573.5,475.8 L574.5,475.8 L575.5,475.8 L576.5,475.8 L577.5,475.8 L578.5,475.7 L579.5,475.7 L580.5,475.7 L581.5,475.7 L582.5,475.7 L583.5,475.7 L584.5,475.7 L585.5,475.7 L586.5,475.7 L587.5,475.7 L588.5,475.7 L589.5,475.7 L590.5,475.7 L591.5,475.7 L592.5,475.7 L593.5,475.7 L594.5,475.7 L595.5,475.7 L596.5,475.7 L597.5,475.7 L598.5,475.7 L599.5,475.7 L600.5,475.7 L601.5,475.7 L602.5,475.7 L603.5,475.7 L604.5,475.7 L605.5,475.7 L606.5,475.7 L607.5,475.7 L608.5,475.7 L609.5,475.7 L610.5,475.7 L611.5,475.7 L612.5,475.7 L613.5,475.7 L614.5,475.7 L615.5,475.7 L616.5,475.7 L617.5,475.7 L618.5,475.7 L619.5,475.7 L620.5,475.7 L621.5,475.7 L622.5,475.7 L623.5,475.7 L624.5,475.7 L625.5,475.7 L626.5,475.7 L627.5,475.7 L628.5,475.7 L629.5,475.7 L630.5,475.7 L631.5,475.7 L632.5,475.7 L633.5,475.7 L634.5,475.7 L635.5,475.7 L636.5,475.7 L637.5,475.7 L638.5,475.7 L639.5,475.7 L640.5,475.7 L641.5,475.7 L642.5,475.7 L643.5,475.7 L644.5,475.7 L645.5,475.7 L646.5,475.7 L647.5,475.7 L648.5,475.7 L649.5,475.7 L650.5,475.7 L651.5,475.7 L652.5,475.7 L653.5,475.7 L654.5,475.7 L655.5,475.7 L656.5,475.7 L657.5,475.7 L658.5,475.7 L659.5,475.7 L660.5,475.7 L661.5,475.7 L662.5,475.7 L663.5,475.7 L664.5,475.7 L665.5,475.7 L666.5,475.7 L667.5,475.7 L668.5,475.7 L669.5,475.7 L670.5,475.7 L671.5,475.7 L672.5,475.7 L673.5,475.7 L674.5,475.7 L675.5,475.7 L676.5,475.7 L677.5,475.7 L678.5,475.7 L679.5,475.7 L680.5,475.7 L681.5,475.7 L682.5,475.7 L683.5,475.7 L684.5,475.7 L685.5,475.7 L686.5,475.7 L687.5,475.7 L688.5,475.7 L689.5,475.7 L690.5,475.7 L691.5,475.7 L692.5,475.7 L693.5,475.7 L694.5,475.7 L695.5,475.7 L696.5,475.7 L697.5,475.7 L698.5,475.7 L699.5,475.7 L700.5,475.7 L701.5,475.7 L702.5,475.7 L703.5,475.7 L704.5,475.7 L705.5,475.7 L706.5,475.7 L707.5,475.7 L708.5,475.7 L709.5,475.7 L710.5,475.7 L711.5,475.7 L712.5,475.7 L713.5,475.7 L714.5,475.7 L715.5,475.7 L716.5,475.6 L717.5,475.6 L718.5,475.6 L719.5,475.6 L720.5,475.5 L721.5,475.5 L722.5,475.5 L723.5,475.4 L724.5,475.3 L725.5,475.3 L726.5,475.2 L727.5,475.1 L728.5,474.9 L729.5,474.8 L729.75,474.7 L730,474.7 L730.25,474.6 L730.5,474.6 L730.75,474.5 L731,474.5 L731.25,474.4 L731.5,474.4 L731.75,474.3 L732,474.2 L732.25,474.2 L732.5,474.1 L732.75,474.0 L733,473.9 L733.25,473.8 L733.5,473.8 L733.75,473.7 L734,473.6 L734.25,473.5 L734.5,473.4 L734.75,473.3 L735,473.1 L735.25,473.0 L735.5,472.9 L735.75,472.8 L736,472.6 L736.25,472.5 L736.5,472.3 L736.75,472.2 L737,472.0 L737.25,471.8 L737.5,471.6 L737.75,471.4 L738,471.2 L738.25,471.0 L738.5,470.8 L738.75,470.6 L739,470.3 L739.25,470.1 L739.5,469.8 L739.75,469.6 L740,469.3 L740.25,469.0 L740.5,468.6 L740.75,468.3 L741,468.0 L741.25,467.6 L741.5,467.2 L741.75,466.8 L742,466.4 L742.25,466.0 L742.5,465.5 L742.75,465.0 L743,464.5 L743.25,464.0 L743.5,463.5 L743.75,462.9 L744,462.3 L744.25,461.7 L744.5,461.0 L744.75,460.3 L745,459.6 L745.25,458.8 L745.5,458.0 L745.75,457.2 L746,456.4 L746.25,455.4 L746.5,454.5 L746.75,453.5 L747,452.5 L747.25,451.4 L747.5,450.2 L747.75,449.0 L748,447.8 L748.25,446.5 L748.5,445.1 L748.75,443.7 L749,442.2 L749.25,440.6 L749.5,439.0 L749.75,437.3 L750,435.5 L750.25,433.6 L750.5,431.6 L750.75,429.5 L751,427.4 L751.25,425.1 L751.5,422.8 L751.75,420.3 L752,417.7 L752.25,415.0 L752.5,412.2 L752.75,409.2 L753,406.1 L753.25,402.8 L753.5,399.4 L753.75,395.8 L754,392.1 L754.25,388.2 L754.5,384.1 L754.75,379.8 L755,375.3 L755.25,370.6 L755.5,365.7 L755.75,360.5 L756,360 M241.5,549.5 L242.5,549.5 L243.5,549.5 L244.5,549.4 L245.5,549.4 L246.5,549.4 L247.5,549.4 L248.5,549.4 L249.5,549.4 L250.5,549.4 L251.5,549.4 L252.5,549.4 L253.5,549.4 L254.5,549.3 L255.5,549.3 L256.5,549.3 L257.5,549.3 L258.5,549.3 L259.5,549.3 L260.5,549.2 L261.5,549.2 L262.5,549.2 L263.5,549.2 L264.5,549.1 L265.5,549.1 L266.5,549.1 L267.5,549.0 L268.5,549.0 L269.5,548.9 L270.5,548.9 L271.5,548.9 L272.5,548.8 L273.5,548.8 L274.5,548.7 L275.5,548.7 L276.5,548.6 L277.5,548.5 L278.5,548.5 L279.5,548.4 L280.5,548.3 L281.5,548.3 L282.5,548.2 L283.5,548.1 L284.5,548.0 L285.5,547.9 L286.5,547.8 L287.5,547.7 L288.5,547.6 L289.5,547.5 L290.5,547.4 L291.5,547.3 L292.5,547.2 L293.5,547.1 L294.5,546.9 L295.5,546.8 L296.5,546.7 L297.5,546.5 L298.5,546.4 L299.5,546.2 L300.5,546.0 L301.5,545.9 L302.5,545.7 L303.5,545.5 L304.5,545.3 L305.5,545.2 L306.5,545.0 L307.5,544.8 L308.5,544.6 L309.5,544.4 L310.5,544.1 L311.5,543.9 L312.5,543.7 L313.5,543.5 L314.5,543.2 L315.5,543.0 L316.5,542.7 L317.5,542.5 L318.5,542.2 L319.5,542.0 L320.5,541.7 L321.5,541.4 L322.5,541.1 L323.5,540.8 L324.5,540.6 L325.5,540.3 L326.5,540.0 L327.5,539.7 L328.5,539.4 L329.5,539.0 L330.5,538.7 L331.5,538.4 L332.5,538.1 L333.5,537.8 L334.5,537.4 L335.5,537.1 L336.5,536.8 L337.5,536.4 L338.5,536.1 L339.5,535.7 L340.5,535.4 L341.5,535.1 L342.5,534.7 L343.5,534.4 L344.5,534.0 L345.5,533.7 L346.5,533.3 L347.5,533.0 L348.5,532.6 L349.5,532.2 L350.5,531.9 L351.5,531.5 L352.5,531.2 L353.5,530.8 L354.5,530.5 L355.5,530.2 L356.5,529.8 L357.5,529.5 L358.5,529.1 L359.5,528.8 L360.5,528.5 L361.5,528.1 L362.5,527.8 L363.5,527.5 L364.5,527.1 L365.5,526.8 L366.5,526.5 L367.5,526.2 L368.5,525.9 L369.5,525.6 L370.5,525.3 L371.5,525.0 L372.5,524.7 L373.5,524.4 L374.5,524.1 L375.5,523.8 L376.5,523.6 L377.5,523.3 L378.5,523.0 L379.5,522.8 L380.5,522.5 L381.5,522.3 L382.5,522.1 L383.5,521.8 L384.5,521.6 L385.5,521.4 L386.5,521.1 L387.5,520.9 L388.5,520.7 L389.5,520.5 L390.5,520.3 L391.5,520.1 L392.5,519.9 L393.5,519.8 L394.5,519.6 L395.5,519.4 L396.5,519.2 L397.5,519.1 L398.5,518.9 L399.5,518.8 L400.5,518.6 L401.5,518.5 L402.5,518.4 L403.5,518.2 L404.5,518.1 L405.5,518.0 L406.5,517.9 L407.5,517.8 L408.5,517.6 L409.5,517.5 L410.5,517.4 L411.5,517.3 L412.5,517.3 L413.5,517.2 L414.5,517.1 L415.5,517.0 L416.5,516.9 L417.5,516.8 L418.5,516.8 L419.5,516.7 L420.5,516.6 L421.5,516.6 L422.5,516.5 L423.5,516.5 L424.5,516.4 L425.5,516.3 L426.5,516.3 L427.5,516.2 L428.5,516.2 L429.5,516.2 L430.5,516.1 L431.5,516.1 L432.5,516.0 L433.5,516.0 L434.5,515.9 L435.5,515.9 L436.5,515.9 L437.5,515.8 L438.5,515.8 L439.5,515.8 L440.5,515.7 L441.5,515.7 L442.5,515.7 L443.5,515.6 L444.5,515.6 L445.5,515.5 L446.5,515.5 L447.5,515.5 L448.5,515.4 L449.5,515.4 L450.5,515.3 L451.5,515.3 L452.5,515.2 L453.5,515.1 L454.5,515.1 L455.5,515.0 L456.5,514.9 L457.5,514.9 L458.5,514.8 L459.5,514.7 L460.5,514.6 L461.5,514.5 L462.5,514.4 L463.5,514.3 L464.5,514.1 L465.5,514.0 L466.5,513.9 L467.5,513.7 L468.5,513.5 L469.5,513.4 L470.5,513.2 L471.5,513.0 L472.5,512.8 L473.5,512.6 L474.5,512.3 L475.5,512.1 L476.5,511.8 L477.5,511.6 L478.5,511.3 L479.5,511.0 L480.5,510.7 L481.5,510.3 L482.5,510.0 L483.5,509.6 L484.5,509.3 L485.5,508.9 L486.5,508.5 L487.5,508.1 L488.5,507.6 L489.5,507.2 L490.5,506.7 L491.5,506.2 L492.5,505.8 L493.5,505.3 L494.5,504.7 L495.5,504.2 L496.5,503.7 L497.5,503.1 L498.5,502.6 L499.5,502.0 L500.5,501.4 L501.5,500.8 L502.5,500.2 L503.5,499.6 L504.5,499.0 L505.5,498.4 L506.5,497.8 L507.5,497.2 L508.5,496.6 L509.5,495.9 L510.5,495.3 L511.5,494.7 L512.5,494.1 L513.5,493.5 L514.5,492.9 L515.5,492.3 L516.5,491.6 L517.5,491.1 L518.5,490.5 L519.5,489.9 L520.5,489.3 L521.5,488.8 L522.5,488.2 L523.5,487.7 L524.5,487.1 L525.5,486.6 L526.5,486.1 L527.5,485.6 L528.5,485.2 L529.5,484.7 L530.5,484.2 L531.5,483.8 L532.5,483.4 L533.5,483.0 L534.5,482.6 L535.5,482.2 L536.5,481.9 L537.5,481.5 L538.5,481.2 L539.5,480.9 L540.5,480.6 L541.5,480.3 L542.5,480.0 L543.5,479.8 L544.5,479.5 L545.5,479.3 L546.5,479.1 L547.5,478.9 L548.5,478.7 L549.5,478.5 L550.5,478.3 L551.5,478.1 L552.5,478.0 L553.5,477.9 L554.5,477.7 L555.5,477.6 L556.5,477.5 L557.5,477.4 L558.5,477.3 L559.5,477.2 L560.5,477.1 L561.5,477.0 L562.5,477.0 L563.5,476.9 L564.5,476.8 L565.5,476.8 L566.5,476.7 L567.5,476.7 L568.5,476.6 L569.5,476.6 L570.5,476.6 L571.5,476.5 L572.5,476.5 L573.5,476.5 L574.5,476.4 L575.5,476.4 L576.5,476.4 L577.5,476.4 L578.5,476.4 L579.5,476.4 L580.5,476.3 L581.5,476.3 L582.5,476.3 L583.5,476.3 L584.5,476.3 L585.5,476.3 L586.5,476.3 L587.5,476.3 L588.5,476.3 L589.5,476.3 L590.5,476.3 L591.5,476.3 L592.5,476.3 L593.5,476.3 L594.5,476.3 L595.5,476.3 L596.5,476.3 L597.5,476.3 L598.5,476.3 L599.5,476.3 L600.5,476.3 L601.5,476.3 L602.5,476.3 L603.5,476.3 L604.5,476.3 L605.5,476.3 L606.5,476.3 L607.5,476.3 L608.5,476.3 L609.5,476.3 L610.5,476.3 L611.5,476.2 L612.5,476.2 L613.5,476.2 L614.5,476.2 L615.5,476.2 L616.5,476.2 L617.5,476.2 L618.5,476.2 L619.5,476.2 L620.5,476.2 L621.5,476.2 L622.5,476.2 L623.5,476.2 L624.5,476.2 L625.5,476.2 L626.5,476.2 L627.5,476.2 L628.5,476.2 L629.5,476.2 L630.5,476.2 L631.5,476.2 L632.5,476.2 L633.5,476.2 L634.5,476.2 L635.5,476.2 L636.5,476.2 L637.5,476.2 L638.5,476.2 L639.5,476.2 L640.5,476.2 L641.5,476.2 L642.5,476.2 L643.5,476.2 L644.5,476.2 L645.5,476.2 L646.5,476.2 L647.5,476.2 L648.5,476.2 L649.5,476.2 L650.5,476.2 L651.5,476.2 L652.5,476.2 L653.5,476.2 L654.5,476.2 L655.5,476.2 L656.5,476.2 L657.5,476.2 L658.5,476.2 L659.5,476.2 L660.5,476.2 L661.5,476.2 L662.5,476.2 L663.5,476.2 L664.5,476.2 L665.5,476.2 L666.5,476.2 L667.5,476.2 L668.5,476.2 L669.5,476.2 L670.5,476.2 L671.5,476.2 L672.5,476.2 L673.5,476.2 L674.5,476.2 L675.5,476.2 L676.5,476.2 L677.5,476.2 L678.5,476.2 L679.5,476.2 L680.5,476.2 L681.5,476.2 L682.5,476.2 L683.5,476.2 L684.5,476.2 L685.5,476.2 L686.5,476.2 L687.5,476.2 L688.5,476.2 L689.5,476.2 L690.5,476.2 L691.5,476.2 L692.5,476.2 L693.5,476.2 L694.5,476.2 L695.5,476.2 L696.5,476.2 L697.5,476.2 L698.5,476.2 L699.5,476.2 L700.5,476.2 L701.5,476.2 L702.5,476.2 L703.5,476.2 L704.5,476.2 L705.5,476.2 L706.5,476.2 L707.5,476.2 L708.5,476.2 L709.5,476.2 L710.5,476.2 L711.5,476.2 L712.5,476.2 L713.5,476.2 L714.5,476.2 L715.5,476.2 L716.5,476.2 L717.5,476.1 L718.5,476.1 L719.5,476.1 L720.5,476.1 L721.5,476.0 L722.5,476.0 L723.5,475.9 L724.5,475.8 L725.5,475.8 L726.5,475.7 L727.5,475.6 L728.5,475.4 L729.5,475.3 L729.75,475.2 L730,475.2 L730.25,475.1 L730.5,475.1 L730.75,475.0 L731,474.9 L731.25,474.9 L731.5,474.8 L731.75,474.7 L732,474.7 L732.25,474.6 L732.5,474.5 L732.75,474.4 L733,474.4 L733.25,474.3 L733.5,474.2 L733.75,474.1 L734,474.0 L734.25,473.9 L734.5,473.8 L734.75,473.6 L735,473.5 L735.25,473.4 L735.5,473.3 L735.75,473.1 L736,473.0 L736.25,472.8 L736.5,472.7 L736.75,472.5 L737,472.3 L737.25,472.1 L737.5,471.9 L737.75,471.7 L738,471.5 L738.25,471.3 L738.5,471.1 L738.75,470.8 L739,470.6 L739.25,470.3 L739.5,470.0 L739.75,469.8 L740,469.5 L740.25,469.1 L740.5,468.8 L740.75,468.5 L741,468.1 L741.25,467.7 L741.5,467.3 L741.75,466.9 L742,466.5 L742.25,466.0 L742.5,465.5 L742.75,465.0 L743,464.5 L743.25,464.0 L743.5,463.4 L743.75,462.8 L744,462.2 L744.25,461.5 L744.5,460.8 L744.75,460.1 L745,459.3 L745.25,458.5 L745.5,457.7 L745.75,456.9 L746,456.0 L746.25,455.0 L746.5,454.0 L746.75,453.0 L747,451.9 L747.25,450.8 L747.5,449.6 L747.75,448.3 L748,447.0 L748.25,445.7 L748.5,444.2 L748.75,442.7 L749,441.2 L749.25,439.5 L749.5,437.8 L749.75,436.0 L750,434.1 L750.25,432.2 L750.5,430.1 L750.75,428.0 L751,425.7 L751.25,423.4 L751.5,420.9 L751.75,418.3 L752,415.6 L752.25,412.8 L752.5,409.8 L752.75,406.7 L753,403.5 L753.25,400.1 L753.5,396.5 L753.75,392.8 L754,388.9 L754.25,384.9 L754.5,380.6 L754.75,376.1 L755,371.4 L755.25,366.5 L755.5,361.4 L755.75,360 M241.5,549.5 L242.5,549.5 L243.5,549.5 L244.5,549.5 L245.5,549.5 L246.5,549.4 L247.5,549.4 L248.5,549.4 L249.5,549.4 L250.5,549.4 L251.5,549.4 L252.5,549.4 L253.5,549.4 L254.5,549.4 L255.5,549.4 L256.5,549.3 L257.5,549.3 L258.5,549.3 L259.5,549.3 L260.5,549.3 L261.5,549.3 L262.5,549.2 L263.5,549.2 L264.5,549.2 L265.5,549.2 L266.5,549.1 L267.5,549.1 L268.5,549.1 L269.5,549.0 L270.5,549.0 L271.5,549.0 L272.5,548.9 L273.5,548.9 L274.5,548.9 L275.5,548.8 L276.5,548.8 L277.5,548.7 L278.5,548.7 L279.5,548.6 L280.5,548.5 L281.5,548.5 L282.5,548.4 L283.5,548.3 L284.5,548.3 L285.5,548.2 L286.5,548.1 L287.5,548.0 L288.5,547.9 L289.5,547.9 L290.5,547.8 L291.5,547.7 L292.5,547.6 L293.5,547.4 L294.5,547.3 L295.5,547.2 L296.5,547.1 L297.5,547.0 L298.5,546.8 L299.5,546.7 L300.5,546.6 L301.5,546.4 L302.5,546.3 L303.5,546.1 L304.5,546.0 L305.5,545.8 L306.5,545.6 L307.5,545.5 L308.5,545.3 L309.5,545.1 L310.5,544.9 L311.5,544.7 L312.5,544.5 L313.5,544.3 L314.5,544.1 L315.5,543.9 L316.5,543.7 L317.5,543.4 L318.5,543.2 L319.5,543.0 L320.5,542.7 L321.5,542.5 L322.5,542.2 L323.5,542.0 L324.5,541.7 L325.5,541.4 L326.5,541.2 L327.5,540.9 L328.5,540.6 L329.5,540.3 L330.5,540.0 L331.5,539.7 L332.5,539.4 L333.5,539.1 L334.5,538.8 L335.5,538.5 L336.5,538.2 L337.5,537.9 L338.5,537.6 L339.5,537.2 L340.5,536.9 L341.5,536.6 L342.5,536.2 L343.5,535.9 L344.5,535.6 L345.5,535.2 L346.5,534.9 L347.5,534.6 L348.5,534.2 L349.5,533.9 L350.5,533.5 L351.5,533.2 L352.5,532.9 L353.5,532.5 L354.5,532.2 L355.5,531.8 L356.5,531.5 L357.5,531.1 L358.5,530.8 L359.5,530.5 L360.5,530.1 L361.5,529.8 L362.5,529.5 L363.5,529.1 L364.5,528.8 L365.5,528.5 L366.5,528.2 L367.5,527.8 L368.5,527.5 L369.5,527.2 L370.5,526.9 L371.5,526.6 L372.5,526.3 L373.5,526.0 L374.5,525.7 L375.5,525.4 L376.5,525.1 L377.5,524.8 L378.5,524.5 L379.5,524.3 L380.5,524.0 L381.5,523.7 L382.5,523.5 L383.5,523.2 L384.5,523.0 L385.5,522.7 L386.5,522.5 L387.5,522.2 L388.5,522.0 L389.5,521.8 L390.5,521.6 L391.5,521.3 L392.5,521.1 L393.5,520.9 L394.5,520.7 L395.5,520.5 L396.5,520.3 L397.5,520.2 L398.5,520.0 L399.5,519.8 L400.5,519.6 L401.5,519.5 L402.5,519.3 L403.5,519.2 L404.5,519.0 L405.5,518.9 L406.5,518.7 L407.5,518.6 L408.5,518.5 L409.5,518.3 L410.5,518.2 L411.5,518.1 L412.5,518.0 L413.5,517.9 L414.5,517.8 L415.5,517.7 L416.5,517.6 L417.5,517.5 L418.5,517.4 L419.5,517.3 L420.5,517.2 L421.5,517.1 L422.5,517.1 L423.5,517.0 L424.5,516.9 L425.5,516.8 L426.5,516.8 L427.5,516.7 L428.5,516.7 L429.5,516.6 L430.5,516.5 L431.5,516.5 L432.5,516.4 L433.5,516.4 L434.5,516.4 L435.5,516.3 L436.5,516.3 L437.5,516.2 L438.5,516.2 L439.5,516.2 L440.5,516.1 L441.5,516.1 L442.5,516.1 L443.5,516.0 L444.5,516.0 L445.5,516.0 L446.5,515.9 L447.5,515.9 L448.5,515.9 L449.5,515.8 L450.5,515.8 L451.5,515.8 L452.5,515.7 L453.5,515.7 L454.5,515.7 L455.5,515.6 L456.5,515.6 L457.5,515.6 L458.5,515.5 L459.5,515.5 L460.5,515.4 L461.5,515.4 L462.5,515.3 L463.5,515.3 L464.5,515.2 L465.5,515.2 L466.5,515.1 L467.5,515.0 L468.5,514.9 L469.5,514.9 L470.5,514.8 L471.5,514.7 L472.5,514.6 L473.5,514.5 L474.5,514.4 L475.5,514.2 L476.5,514.1 L477.5,514.0 L478.5,513.8 L479.5,513.7 L480.5,513.5 L481.5,513.3 L482.5,513.1 L483.5,512.9 L484.5,512.7 L485.5,512.5 L486.5,512.2 L487.5,512.0 L488.5,511.7 L489.5,511.5 L490.5,511.2 L491.5,510.9 L492.5,510.5 L493.5,510.2 L494.5,509.9 L495.5,509.5 L496.5,509.1 L497.5,508.8 L498.5,508.4 L499.5,507.9 L500.5,507.5 L501.5,507.1 L502.5,506.6 L503.5,506.2 L504.5,505.7 L505.5,505.2 L506.5,504.7 L507.5,504.2 L508.5,503.6 L509.5,503.1 L510.5,502.5 L511.5,502.0 L512.5,501.4 L513.5,500.9 L514.5,500.3 L515.5,499.7 L516.5,499.1 L517.5,498.5 L518.5,497.9 L519.5,497.3 L520.5,496.7 L521.5,496.1 L522.5,495.5 L523.5,494.9 L524.5,494.3 L525.5,493.7 L526.5,493.1 L527.5,492.5 L528.5,492.0 L529.5,491.4 L530.5,490.8 L531.5,490.3 L532.5,489.7 L533.5,489.2 L534.5,488.6 L535.5,488.1 L536.5,487.6 L537.5,487.1 L538.5,486.6 L539.5,486.1 L540.5,485.7 L541.5,485.2 L542.5,484.8 L543.5,484.4 L544.5,483.9 L545.5,483.6 L546.5,483.2 L547.5,482.8 L548.5,482.5 L549.5,482.1 L550.5,481.8 L551.5,481.5 L552.5,481.2 L553.5,480.9 L554.5,480.6 L555.5,480.4 L556.5,480.1 L557.5,479.9 L558.5,479.7 L559.5,479.5 L560.5,479.3 L561.5,479.1 L562.5,478.9 L563.5,478.8 L564.5,478.6 L565.5,478.5 L566.5,478.3 L567.5,478.2 L568.5,478.1 L569.5,478.0 L570.5,477.9 L571.5,477.8 L572.5,477.7 L573.5,477.6 L574.5,477.5 L575.5,477.5 L576.5,477.4 L577.5,477.3 L578.5,477.3 L579.5,477.2 L580.5,477.2 L581.5,477.1 L582.5,477.1 L583.5,477.1 L584.5,477.0 L585.5,477.0 L586.5,477.0 L587.5,477.0 L588.5,476.9 L589.5,476.9 L590.5,476.9 L591.5,476.9 L592.5,476.9 L593.5,476.9 L594.5,476.8 L595.5,476.8 L596.5,476.8 L597.5,476.8 L598.5,476.8 L599.5,476.8 L600.5,476.8 L601.5,476.8 L602.5,476.8 L603.5,476.8 L604.5,476.8 L605.5,476.8 L606.5,476.8 L607.5,476.8 L608.5,476.8 L609.5,476.8 L610.5,476.8 L611.5,476.8 L612.5,476.8 L613.5,476.8 L614.5,476.8 L615.5,476.8 L616.5,476.8 L617.5,476.8 L618.5,476.8 L619.5,476.8 L620.5,476.8 L621.5,476.8 L622.5,476.8 L623.5,476.8 L624.5,476.8 L625.5,476.8 L626.5,476.8 L627.5,476.8 L628.5,476.8 L629.5,476.8 L630.5,476.8 L631.5,476.8 L632.5,476.8 L633.5,476.8 L634.5,476.8 L635.5,476.8 L636.5,476.8 L637.5,476.8 L638.5,476.8 L639.5,476.8 L640.5,476.8 L641.5,476.8 L642.5,476.8 L643.5,476.8 L644.5,476.8 L645.5,476.8 L646.5,476.8 L647.5,476.8 L648.5,476.8 L649.5,476.8 L650.5,476.8 L651.5,476.8 L652.5,476.8 L653.5,476.8 L654.5,476.8 L655.5,476.8 L656.5,476.8 L657.5,476.8 L658.5,476.8 L659.5,476.8 L660.5,476.8 L661.5,476.8 L662.5,476.8 L663.5,476.8 L664.5,476.8 L665.5,476.8 L666.5,476.8 L667.5,476.8 L668.5,476.8 L669.5,476.8 L670.5,476.8 L671.5,476.8 L672.5,476.8 L673.5,476.8 L674.5,476.8 L675.5,476.8 L676.5,476.8 L677.5,476.8 L678.5,476.8 L679.5,476.8 L680.5,476.8 L681.5,476.8 L682.5,476.8 L683.5,476.8 L684.5,476.8 L685.5,476.8 L686.5,476.8 L687.5,476.8 L688.5,476.8 L689.5,476.8 L690.5,476.8 L691.5,476.8 L692.5,476.8 L693.5,476.8 L694.5,476.8 L695.5,476.8 L696.5,476.8 L697.5,476.8 L698.5,476.8 L699.5,476.8 L700.5,476.8 L701.5,476.8 L702.5,476.8 L703.5,476.8 L704.5,476.7 L705.5,476.7 L706.5,476.7 L707.5,476.7 L708.5,476.7 L709.5,476.7 L710.5,476.7 L711.5,476.7 L712.5,476.7 L713.5,476.7 L714.5,476.7 L715.5,476.7 L716.5,476.7 L717.5,476.6 L718.5,476.6 L719.5,476.6 L720.5,476.6 L721.5,476.5 L722.5,476.5 L723.5,476.4 L724.5,476.3 L725.5,476.3 L726.5,476.2 L727.5,476.0 L728.5,475.9 L729.5,475.7 L729.75,475.7 L730,475.6 L730.25,475.6 L730.5,475.5 L730.75,475.4 L731,475.4 L731.25,475.3 L731.5,475.2 L731.75,475.2 L732,475.1 L732.25,475.0 L732.5,474.9 L732.75,474.9 L733,474.8 L733.25,474.7 L733.5,474.6 L733.75,474.5 L734,474.4 L734.25,474.3 L734.5,474.1 L734.75,474.0 L735,473.9 L735.25,473.8 L735.5,473.6 L735.75,473.5 L736,473.3 L736.25,473.2 L736.5,473.0 L736.75,472.8 L737,472.6 L737.25,472.4 L737.5,472.2 L737.75,472.0 L738,471.8 L738.25,471.6 L738.5,471.3 L738.75,471.1 L739,470.8 L739.25,470.6 L739.5,470.3 L739.75,470.0 L740,469.6 L740.25,469.3 L740.5,469.0 L740.75,468.6 L741,468.2 L741.25,467.8 L741.5,467.4 L741.75,467.0 L742,466.5 L742.25,466.0 L742.5,465.5 L742.75,465.0 L743,464.5 L743.25,463.9 L743.5,463.3 L743.75,462.7 L744,462.0 L744.25,461.3 L744.5,460.6 L744.75,459.9 L745,459.1 L745.25,458.3 L745.5,457.4 L745.75,456.5 L746,455.6 L746.25,454.6 L746.5,453.5 L746.75,452.5 L747,451.3 L747.25,450.1 L747.5,448.9 L747.75,447.6 L748,446.3 L748.25,444.8 L748.5,443.3 L748.75,441.8 L749,440.2 L749.25,438.4 L749.5,436.7 L749.75,434.8 L750,432.8 L750.25,430.8 L750.5,428.7 L750.75,426.4 L751,424.1 L751.25,421.6 L751.5,419.1 L751.75,416.4 L752,413.6 L752.25,410.6 L752.5,407.6 L752.75,404.3 L753,400.9 L753.25,397.4 L753.5,393.7 L753.75,389.8 L754,385.8 L754.25,381.6 L754.5,377.1 L754.75,372.5 L755,367.6 L755.25,362.5 L755.5,360 M241.5,549.5 L242.5,549.5 L243.5,549.5 L244.5,549.5 L245.5,549.5 L246.5,549.5 L247.5,549.4 L248.5,549.4 L249.5,549.4 L250.5,549.4 L251.5,549.4 L252.5,549.4 L253.5,549.4 L254.5,549.4 L255.5,549.4 L256.5,549.4 L257.5,549.4 L258.5,549.3 L259.5,549.3 L260.5,549.3 L261.5,549.3 L262.5,549.3 L263.5,549.3 L264.5,549.2 L265.5,549.2 L266.5,549.2 L267.5,549.2 L268.5,549.2 L269.5,549.1 L270.5,549.1 L271.5,549.1 L272.5,549.0 L273.5,549.0 L274.5,549.0 L275.5,548.9 L276.5,548.9 L277.5,548.8 L278.5,548.8 L279.5,548.7 L280.5,548.7 L281.5,548.6 L282.5,548.6 L283.5,548.5 L284.5,548.5 L285.5,548.4 L286.5,548.3 L287.5,548.3 L288.5,548.2 L289.5,548.1 L290.5,548.0 L291.5,548.0 L292.5,547.9 L293.5,547.8 L294.5,547.7 L295.5,547.6 L296.5,547.5 L297.5,547.4 L298.5,547.3 L299.5,547.1 L300.5,547.0 L301.5,546.9 L302.5,546.8 L303.5,546.6 L304.5,546.5 L305.5,546.4 L306.5,546.2 L307.5,546.1 L308.5,545.9 L309.5,545.7 L310.5,545.6 L311.5,545.4 L312.5,545.2 L313.5,545.0 L314.5,544.8 L315.5,544.7 L316.5,544.5 L317.5,544.3 L318.5,544.0 L319.5,543.8 L320.5,543.6 L321.5,543.4 L322.5,543.2 L323.5,542.9 L324.5,542.7 L325.5,542.5 L326.5,542.2 L327.5,542.0 L328.5,541.7 L329.5,541.4 L330.5,541.2 L331.5,540.9 L332.5,540.6 L333.5,540.3 L334.5,540.1 L335.5,539.8 L336.5,539.5 L337.5,539.2 L338.5,538.9 L339.5,538.6 L340.5,538.3 L341.5,538.0 L342.5,537.7 L343.5,537.3 L344.5,537.0 L345.5,536.7 L346.5,536.4 L347.5,536.1 L348.5,535.7 L349.5,535.4 L350.5,535.1 L351.5,534.8 L352.5,534.4 L353.5,534.1 L354.5,533.8 L355.5,533.4 L356.5,533.1 L357.5,532.8 L358.5,532.4 L359.5,532.1 L360.5,531.8 L361.5,531.4 L362.5,531.1 L363.5,530.8 L364.5,530.4 L365.5,530.1 L366.5,529.8 L367.5,529.4 L368.5,529.1 L369.5,528.8 L370.5,528.5 L371.5,528.2 L372.5,527.9 L373.5,527.6 L374.5,527.2 L375.5,526.9 L376.5,526.6 L377.5,526.3 L378.5,526.1 L379.5,525.8 L380.5,525.5 L381.5,525.2 L382.5,524.9 L383.5,524.6 L384.5,524.4 L385.5,524.1 L386.5,523.9 L387.5,523.6 L388.5,523.3 L389.5,523.1 L390.5,522.9 L391.5,522.6 L392.5,522.4 L393.5,522.2 L394.5,521.9 L395.5,521.7 L396.5,521.5 L397.5,521.3 L398.5,521.1 L399.5,520.9 L400.5,520.7 L401.5,520.5 L402.5,520.3 L403.5,520.2 L404.5,520.0 L405.5,519.8 L406.5,519.7 L407.5,519.5 L408.5,519.4 L409.5,519.2 L410.5,519.1 L411.5,518.9 L412.5,518.8 L413.5,518.7 L414.5,518.5 L415.5,518.4 L416.5,518.3 L417.5,518.2 L418.5,518.1 L419.5,518.0 L420.5,517.9 L421.5,517.8 L422.5,517.7 L423.5,517.6 L424.5,517.5 L425.5,517.4 L426.5,517.3 L427.5,517.3 L428.5,517.2 L429.5,517.1 L430.5,517.0 L431.5,517.0 L432.5,516.9 L433.5,516.9 L434.5,516.8 L435.5,516.7 L436.5,516.7 L437.5,516.6 L438.5,516.6 L439.5,516.5 L440.5,516.5 L441.5,516.5 L442.5,516.4 L443.5,516.4 L444.5,516.3 L445.5,516.3 L446.5,516.3 L447.5,516.2 L448.5,516.2 L449.5,516.2 L450.5,516.2 L451.5,516.1 L452.5,516.1 L453.5,516.1 L454.5,516.0 L455.5,516.0 L456.5,516.0 L457.5,516.0 L458.5,515.9 L459.5,515.9 L460.5,515.9 L461.5,515.9 L462.5,515.8 L463.5,515.8 L464.5,515.8 L465.5,515.7 L466.5,515.7 L467.5,515.7 L468.5,515.6 L469.5,515.6 L470.5,515.6 L471.5,515.5 L472.5,515.5 L473.5,515.4 L474.5,515.4 L475.5,515.3 L476.5,515.2 L477.5,515.2 L478.5,515.1 L479.5,515.0 L480.5,515.0 L481.5,514.9 L482.5,514.8 L483.5,514.7 L484.5,514.6 L485.5,514.5 L486.5,514.3 L487.5,514.2 L488.5,514.1 L489.5,513.9 L490.5,513.8 L491.5,513.6 L492.5,513.4 L493.5,513.2 L494.5,513.0 L495.5,512.8 L496.5,512.6 L497.5,512.4 L498.5,512.1 L499.5,511.9 L500.5,511.6 L501.5,511.3 L502.5,511.0 L503.5,510.7 L504.5,510.4 L505.5,510.1 L506.5,509.7 L507.5,509.4 L508.5,509.0 L509.5,508.6 L510.5,508.2 L511.5,507.8 L512.5,507.4 L513.5,506.9 L514.5,506.5 L515.5,506.0 L516.5,505.5 L517.5,505.1 L518.5,504.6 L519.5,504.1 L520.5,503.5 L521.5,503.0 L522.5,502.5 L523.5,501.9 L524.5,501.4 L525.5,500.8 L526.5,500.3 L527.5,499.7 L528.5,499.1 L529.5,498.5 L530.5,498.0 L531.5,497.4 L532.5,496.8 L533.5,496.2 L534.5,495.6 L535.5,495.1 L536.5,494.5 L537.5,493.9 L538.5,493.3 L539.5,492.8 L540.5,492.2 L541.5,491.6 L542.5,491.1 L543.5,490.5 L544.5,490.0 L545.5,489.5 L546.5,489.0 L547.5,488.5 L548.5,488.0 L549.5,487.5 L550.5,487.0 L551.5,486.6 L552.5,486.1 L553.5,485.7 L554.5,485.2 L555.5,484.8 L556.5,484.4 L557.5,484.0 L558.5,483.7 L559.5,483.3 L560.5,483.0 L561.5,482.6 L562.5,482.3 L563.5,482.0 L564.5,481.7 L565.5,481.4 L566.5,481.2 L567.5,480.9 L568.5,480.7 L569.5,480.5 L570.5,480.2 L571.5,480.0 L572.5,479.8 L573.5,479.7 L574.5,479.5 L575.5,479.3 L576.5,479.2 L577.5,479.0 L578.5,478.9 L579.5,478.8 L580.5,478.6 L581.5,478.5 L582.5,478.4 L583.5,478.3 L584.5,478.2 L585.5,478.2 L586.5,478.1 L587.5,478.0 L588.5,477.9 L589.5,477.9 L590.5,477.8 L591.5,477.8 L592.5,477.7 L593.5,477.7 L594.5,477.6 L595.5,477.6 L596.5,477.6 L597.5,477.5 L598.5,477.5 L599.5,477.5 L600.5,477.5 L601.5,477.4 L602.5,477.4 L603.5,477.4 L604.5,477.4 L605.5,477.4 L606.5,477.4 L607.5,477.4 L608.5,477.3 L609.5,477.3 L610.5,477.3 L611.5,477.3 L612.5,477.3 L613.5,477.3 L614.5,477.3 L615.5,477.3 L616.5,477.3 L617.5,477.3 L618.5,477.3 L619.5,477.3 L620.5,477.3 L621.5,477.3 L622.5,477.3 L623.5,477.3 L624.5,477.3 L625.5,477.3 L626.5,477.3 L627.5,477.3 L628.5,477.3 L629.5,477.3 L630.5,477.3 L631.5,477.3 L632.5,477.3 L633.5,477.3 L634.5,477.3 L635.5,477.3 L636.5,477.3 L637.5,477.3 L638.5,477.3 L639.5,477.3 L640.5,477.3 L641.5,477.3 L642.5,477.3 L643.5,477.3 L644.5,477.3 L645.5,477.3 L646.5,477.3 L647.5,477.3 L648.5,477.3 L649.5,477.3 L650.5,477.3 L651.5,477.3 L652.5,477.3 L653.5,477.3 L654.5,477.3 L655.5,477.3 L656.5,477.3 L657.5,477.3 L658.5,477.3 L659.5,477.3 L660.5,477.3 L661.5,477.3 L662.5,477.3 L663.5,477.3 L664.5,477.3 L665.5,477.3 L666.5,477.3 L667.5,477.3 L668.5,477.3 L669.5,477.3 L670.5,477.3 L671.5,477.3 L672.5,477.3 L673.5,477.3 L674.5,477.3 L675.5,477.3 L676.5,477.3 L677.5,477.3 L678.5,477.3 L679.5,477.3 L680.5,477.3 L681.5,477.3 L682.5,477.3 L683.5,477.3 L684.5,477.3 L685.5,477.3 L686.5,477.3 L687.5,477.3 L688.5,477.3 L689.5,477.3 L690.5,477.3 L691.5,477.3 L692.5,477.3 L693.5,477.3 L694.5,477.3 L695.5,477.3 L696.5,477.3 L697.5,477.3 L698.5,477.3 L699.5,477.3 L700.5,477.3 L701.5,477.3 L702.5,477.3 L703.5,477.2 L704.5,477.2 L705.5,477.2 L706.5,477.2 L707.5,477.2 L708.5,477.2 L709.5,477.2 L710.5,477.2 L711.5,477.2 L712.5,477.2 L713.5,477.2 L714.5,477.2 L715.5,477.2 L716.5,477.2 L717.5,477.1 L718.5,477.1 L719.5,477.1 L720.5,477.0 L721.5,477.0 L722.5,477.0 L723.5,476.9 L724.5,476.8 L725.5,476.7 L726.5,476.6 L727.5,476.5 L728.5,476.3 L729.5,476.2 L729.75,476.1 L730,476.1 L730.25,476.0 L730.5,475.9 L730.75,475.9 L731,475.8 L731.25,475.7 L731.5,475.7 L731.75,475.6 L732,475.5 L732.25,475.4 L732.5,475.4 L732.75,475.3 L733,475.2 L733.25,475.1 L733.5,475.0 L733.75,474.9 L734,474.8 L734.25,474.6 L734.5,474.5 L734.75,474.4 L735,474.3 L735.25,474.1 L735.5,474.0 L735.75,473.8 L736,473.7 L736.25,473.5 L736.5,473.3 L736.75,473.1 L737,473.0 L737.25,472.8 L737.5,472.5 L737.75,472.3 L738,472.1 L738.25,471.9 L738.5,471.6 L738.75,471.3 L739,471.1 L739.25,470.8 L739.5,470.5 L739.75,470.2 L740,469.8 L740.25,469.5 L740.5,469.1 L740.75,468.8 L741,468.4 L741.25,467.9 L741.5,467.5 L741.75,467.1 L742,466.6 L742.25,466.1 L742.5,465.6 L742.75,465.0 L743,464.5 L743.25,463.9 L743.5,463.2 L743.75,462.6 L744,461.9 L744.25,461.2 L744.5,460.4 L744.75,459.7 L745,458.8 L745.25,458.0 L745.5,457.1 L745.75,456.2 L746,455.2 L746.25,454.1 L746.5,453.1 L746.75,452.0 L747,450.8 L747.25,449.5 L747.5,448.3 L747.75,446.9 L748,445.5 L748.25,444.0 L748.5,442.5 L748.75,440.9 L749,439.2 L749.25,437.4 L749.5,435.5 L749.75,433.6 L750,431.6 L750.25,429.5 L750.5,427.2 L750.75,424.9 L751,422.5 L751.25,419.9 L751.5,417.3 L751.75,414.5 L752,411.6 L752.25,408.5 L752.5,405.3 L752.75,402.0 L753,398.5 L753.25,394.8 L753.5,391.0 L753.75,386.9 L754,382.8 L754.25,378.4 L754.5,373.7 L754.75,369.0 L755,363.9 L755.25,360 M241.5,549.5 L242.5,549.5 L243.5,549.5 L244.5,549.5 L245.5,549.5 L246.5,549.5 L247.5,549.5 L248.5,549.5 L249.5,549.4 L250.5,549.4 L251.5,549.4 L252.5,549.4 L253.5,549.4 L254.5,549.4 L255.5,549.4 L256.5,549.4 L257.5,549.4 L258.5,549.4 L259.5,549.4 L260.5,549.3 L261.5,549.3 L262.5,549.3 L263.5,549.3 L264.5,549.3 L265.5,549.3 L266.5,549.3 L267.5,549.2 L268.5,549.2 L269.5,549.2 L270.5,549.2 L271.5,549.1 L272.5,549.1 L273.5,549.1 L274.5,549.1 L275.5,549.0 L276.5,549.0 L277.5,549.0 L278.5,548.9 L279.5,548.9 L280.5,548.8 L281.5,548.8 L282.5,548.7 L283.5,548.7 L284.5,548.6 L285.5,548.6 L286.5,548.5 L287.5,548.5 L288.5,548.4 L289.5,548.3 L290.5,548.3 L291.5,548.2 L292.5,548.1 L293.5,548.0 L294.5,548.0 L295.5,547.9 L296.5,547.8 L297.5,547.7 L298.5,547.6 L299.5,547.5 L300.5,547.4 L301.5,547.3 L302.5,547.2 L303.5,547.1 L304.5,546.9 L305.5,546.8 L306.5,546.7 L307.5,546.6 L308.5,546.4 L309.5,546.3 L310.5,546.1 L311.5,546.0 L312.5,545.8 L313.5,545.7 L314.5,545.5 L315.5,545.3 L316.5,545.2 L317.5,545.0 L318.5,544.8 L319.5,544.6 L320.5,544.4 L321.5,544.2 L322.5,544.0 L323.5,543.8 L324.5,543.6 L325.5,543.4 L326.5,543.1 L327.5,542.9 L328.5,542.7 L329.5,542.4 L330.5,542.2 L331.5,541.9 L332.5,541.7 L333.5,541.4 L334.5,541.2 L335.5,540.9 L336.5,540.6 L337.5,540.4 L338.5,540.1 L339.5,539.8 L340.5,539.5 L341.5,539.2 L342.5,539.0 L343.5,538.7 L344.5,538.4 L345.5,538.1 L346.5,537.8 L347.5,537.4 L348.5,537.1 L349.5,536.8 L350.5,536.5 L351.5,536.2 L352.5,535.9 L353.5,535.6 L354.5,535.2 L355.5,534.9 L356.5,534.6 L357.5,534.3 L358.5,533.9 L359.5,533.6 L360.5,533.3 L361.5,533.0 L362.5,532.6 L363.5,532.3 L364.5,532.0 L365.5,531.7 L366.5,531.3 L367.5,531.0 L368.5,530.7 L369.5,530.4 L370.5,530.1 L371.5,529.7 L372.5,529.4 L373.5,529.1 L374.5,528.8 L375.5,528.5 L376.5,528.2 L377.5,527.9 L378.5,527.6 L379.5,527.3 L380.5,527.0 L381.5,526.7 L382.5,526.4 L383.5,526.1 L384.5,525.8 L385.5,525.5 L386.5,525.3 L387.5,525.0 L388.5,524.7 L389.5,524.5 L390.5,524.2 L391.5,524.0 L392.5,523.7 L393.5,523.5 L394.5,523.2 L395.5,523.0 L396.5,522.8 L397.5,522.5 L398.5,522.3 L399.5,522.1 L400.5,521.9 L401.5,521.7 L402.5,521.5 L403.5,521.3 L404.5,521.1 L405.5,520.9 L406.5,520.7 L407.5,520.5 L408.5,520.3 L409.5,520.2 L410.5,520.0 L411.5,519.9 L412.5,519.7 L413.5,519.5 L414.5,519.4 L415.5,519.3 L416.5,519.1 L417.5,519.0 L418.5,518.8 L419.5,518.7 L420.5,518.6 L421.5,518.5 L422.5,518.4 L423.5,518.3 L424.5,518.2 L425.5,518.1 L426.5,518.0 L427.5,517.9 L428.5,517.8 L429.5,517.7 L430.5,517.6 L431.5,517.5 L432.5,517.4 L433.5,517.4 L434.5,517.3 L435.5,517.2 L436.5,517.2 L437.5,517.1 L438.5,517.0 L439.5,517.0 L440.5,516.9 L441.5,516.9 L442.5,516.8 L443.5,516.8 L444.5,516.7 L445.5,516.7 L446.5,516.6 L447.5,516.6 L448.5,516.6 L449.5,516.5 L450.5,516.5 L451.5,516.4 L452.5,516.4 L453.5,516.4 L454.5,516.4 L455.5,516.3 L456.5,516.3 L457.5,516.3 L458.5,516.2 L459.5,516.2 L460.5,516.2 L461.5,516.2 L462.5,516.2 L463.5,516.1 L464.5,516.1 L465.5,516.1 L466.5,516.1 L467.5,516.0 L468.5,516.0 L469.5,516.0 L470.5,516.0 L471.5,515.9 L472.5,515.9 L473.5,515.9 L474.5,515.9 L475.5,515.8 L476.5,515.8 L477.5,515.8 L478.5,515.7 L479.5,515.7 L480.5,515.7 L481.5,515.6 L482.5,515.6 L483.5,515.5 L484.5,515.5 L485.5,515.4 L486.5,515.4 L487.5,515.3 L488.5,515.3 L489.5,515.2 L490.5,515.1 L491.5,515.0 L492.5,514.9 L493.5,514.9 L494.5,514.8 L495.5,514.6 L496.5,514.5 L497.5,514.4 L498.5,514.3 L499.5,514.1 L500.5,514.0 L501.5,513.8 L502.5,513.7 L503.5,513.5 L504.5,513.3 L505.5,513.1 L506.5,512.9 L507.5,512.7 L508.5,512.5 L509.5,512.2 L510.5,512.0 L511.5,511.7 L512.5,511.5 L513.5,511.2 L514.5,510.9 L515.5,510.6 L516.5,510.2 L517.5,509.9 L518.5,509.6 L519.5,509.2 L520.5,508.8 L521.5,508.4 L522.5,508.0 L523.5,507.6 L524.5,507.2 L525.5,506.8 L526.5,506.3 L527.5,505.9 L528.5,505.4 L529.5,504.9 L530.5,504.4 L531.5,503.9 L532.5,503.4 L533.5,502.9 L534.5,502.4 L535.5,501.8 L536.5,501.3 L537.5,500.8 L538.5,500.2 L539.5,499.7 L540.5,499.1 L541.5,498.5 L542.5,498.0 L543.5,497.4 L544.5,496.8 L545.5,496.3 L546.5,495.7 L547.5,495.2 L548.5,494.6 L549.5,494.0 L550.5,493.5 L551.5,492.9 L552.5,492.4 L553.5,491.8 L554.5,491.3 L555.5,490.8 L556.5,490.3 L557.5,489.8 L558.5,489.3 L559.5,488.8 L560.5,488.3 L561.5,487.8 L562.5,487.4 L563.5,486.9 L564.5,486.5 L565.5,486.1 L566.5,485.7 L567.5,485.3 L568.5,484.9 L569.5,484.5 L570.5,484.1 L571.5,483.8 L572.5,483.4 L573.5,483.1 L574.5,482.8 L575.5,482.5 L576.5,482.2 L577.5,482.0 L578.5,481.7 L579.5,481.4 L580.5,481.2 L581.5,481.0 L582.5,480.8 L583.5,480.6 L584.5,480.4 L585.5,480.2 L586.5,480.0 L587.5,479.9 L588.5,479.7 L589.5,479.6 L590.5,479.4 L591.5,479.3 L592.5,479.2 L593.5,479.1 L594.5,479.0 L595.5,478.9 L596.5,478.8 L597.5,478.7 L598.5,478.6 L599.5,478.5 L600.5,478.5 L601.5,478.4 L602.5,478.3 L603.5,478.3 L604.5,478.2 L605.5,478.2 L606.5,478.2 L607.5,478.1 L608.5,478.1 L609.5,478.1 L610.5,478.0 L611.5,478.0 L612.5,478.0 L613.5,477.9 L614.5,477.9 L615.5,477.9 L616.5,477.9 L617.5,477.9 L618.5,477.9 L619.5,477.9 L620.5,477.8 L621.5,477.8 L622.5,477.8 L623.5,477.8 L624.5,477.8 L625.5,477.8 L626.5,477.8 L627.5,477.8 L628.5,477.8 L629.5,477.8 L630.5,477.8 L631.5,477.8 L632.5,477.8 L633.5,477.8 L634.5,477.8 L635.5,477.8 L636.5,477.8 L637.5,477.8 L638.5,477.8 L639.5,477.8 L640.5,477.8 L641.5,477.8 L642.5,477.8 L643.5,477.8 L644.5,477.8 L645.5,477.8 L646.5,477.8 L647.5,477.8 L648.5,477.8 L649.5,477.7 L650.5,477.7 L651.5,477.7 L652.5,477.7 L653.5,477.7 L654.5,477.7 L655.5,477.7 L656.5,477.7 L657.5,477.7 L658.5,477.7 L659.5,477.7 L660.5,477.7 L661.5,477.7 L662.5,477.7 L663.5,477.7 L664.5,477.7 L665.5,477.7 L666.5,477.7 L667.5,477.7 L668.5,477.7 L669.5,477.7 L670.5,477.7 L671.5,477.7 L672.5,477.7 L673.5,477.7 L674.5,477.7 L675.5,477.7 L676.5,477.7 L677.5,477.7 L678.5,477.7 L679.5,477.7 L680.5,477.7 L681.5,477.7 L682.5,477.7 L683.5,477.7 L684.5,477.7 L685.5,477.7 L686.5,477.7 L687.5,477.7 L688.5,477.7 L689.5,477.7 L690.5,477.7 L691.5,477.7 L692.5,477.7 L693.5,477.7 L694.5,477.7 L695.5,477.7 L696.5,477.7 L697.5,477.7 L698.5,477.7 L699.5,477.7 L700.5,477.7 L701.5,477.7 L702.5,477.7 L703.5,477.7 L704.5,477.7 L705.5,477.7 L706.5,477.7 L707.5,477.7 L708.5,477.7 L709.5,477.7 L710.5,477.7 L711.5,477.7 L712.5,477.7 L713.5,477.7 L714.5,477.7 L715.5,477.7 L716.5,477.6 L717.5,477.6 L718.5,477.6 L719.5,477.6 L720.5,477.5 L721.5,477.5 L722.5,477.4 L723.5,477.4 L724.5,477.3 L725.5,477.2 L726.5,477.1 L727.5,476.9 L728.5,476.8 L729.5,476.6 L729.75,476.5 L730,476.5 L730.25,476.4 L730.5,476.4 L730.75,476.3 L731,476.2 L731.25,476.2 L731.5,476.1 L731.75,476.0 L732,475.9 L732.25,475.9 L732.5,475.8 L732.75,475.7 L733,475.6 L733.25,475.5 L733.5,475.4 L733.75,475.3 L734,475.1 L734.25,475.0 L734.5,474.9 L734.75,474.8 L735,474.6 L735.25,474.5 L735.5,474.3 L735.75,474.2 L736,474.0 L736.25,473.8 L736.5,473.6 L736.75,473.5 L737,473.3 L737.25,473.1 L737.5,472.8 L737.75,472.6 L738,472.4 L738.25,472.1 L738.5,471.9 L738.75,471.6 L739,471.3 L739.25,471.0 L739.5,470.7 L739.75,470.4 L740,470.0 L740.25,469.7 L740.5,469.3 L740.75,468.9 L741,468.5 L741.25,468.0 L741.5,467.6 L741.75,467.1 L742,466.6 L742.25,466.1 L742.5,465.6 L742.75,465.0 L743,464.4 L743.25,463.8 L743.5,463.2 L743.75,462.5 L744,461.8 L744.25,461.0 L744.5,460.3 L744.75,459.4 L745,458.6 L745.25,457.7 L745.5,456.8 L745.75,455.8 L746,454.8 L746.25,453.7 L746.5,452.6 L746.75,451.4 L747,450.2 L747.25,448.9 L747.5,447.6 L747.75,446.2 L748,444.8 L748.25,443.2 L748.5,441.6 L748.75,439.9 L749,438.2 L749.25,436.3 L749.5,434.4 L749.75,432.4 L750,430.3 L750.25,428.1 L750.5,425.8 L750.75,423.4 L751,420.9 L751.25,418.3 L751.5,415.5 L751.75,412.6 L752,409.6 L752.25,406.4 L752.5,403.1 L752.75,399.6 L753,396.0 L753.25,392.2 L753.5,388.3 L753.75,384.1 L754,379.8 L754.25,375.2 L754.5,370.4 L754.75,365.5 L755,360.2 L755.25,360 M241.5,549.5 L242.5,549.5 L243.5,549.5 L244.5,549.5 L245.5,549.5 L246.5,549.5 L247.5,549.5 L248.5,549.5 L249.5,549.5 L250.5,549.5 L251.5,549.4 L252.5,549.4 L253.5,549.4 L254.5,549.4 L255.5,549.4 L256.5,549.4 L257.5,549.4 L258.5,549.4 L259.5,549.4 L260.5,549.4 L261.5,549.4 L262.5,549.4 L263.5,549.3 L264.5,549.3 L265.5,549.3 L266.5,549.3 L267.5,549.3 L268.5,549.3 L269.5,549.2 L270.5,549.2 L271.5,549.2 L272.5,549.2 L273.5,549.2 L274.5,549.1 L275.5,549.1 L276.5,549.1 L277.5,549.0 L278.5,549.0 L279.5,549.0 L280.5,548.9 L281.5,548.9 L282.5,548.9 L283.5,548.8 L284.5,548.8 L285.5,548.7 L286.5,548.7 L287.5,548.6 L288.5,548.6 L289.5,548.5 L290.5,548.5 L291.5,548.4 L292.5,548.3 L293.5,548.3 L294.5,548.2 L295.5,548.1 L296.5,548.1 L297.5,548.0 L298.5,547.9 L299.5,547.8 L300.5,547.7 L301.5,547.6 L302.5,547.5 L303.5,547.4 L304.5,547.3 L305.5,547.2 L306.5,547.1 L307.5,547.0 L308.5,546.9 L309.5,546.7 L310.5,546.6 L311.5,546.5 L312.5,546.3 L313.5,546.2 L314.5,546.1 L315.5,545.9 L316.5,545.7 L317.5,545.6 L318.5,545.4 L319.5,545.3 L320.5,545.1 L321.5,544.9 L322.5,544.7 L323.5,544.5 L324.5,544.3 L325.5,544.1 L326.5,543.9 L327.5,543.7 L328.5,543.5 L329.5,543.3 L330.5,543.1 L331.5,542.9 L332.5,542.6 L333.5,542.4 L334.5,542.2 L335.5,541.9 L336.5,541.7 L337.5,541.4 L338.5,541.2 L339.5,540.9 L340.5,540.7 L341.5,540.4 L342.5,540.1 L343.5,539.8 L344.5,539.6 L345.5,539.3 L346.5,539.0 L347.5,538.7 L348.5,538.4 L349.5,538.1 L350.5,537.8 L351.5,537.5 L352.5,537.2 L353.5,536.9 L354.5,536.6 L355.5,536.3 L356.5,536.0 L357.5,535.7 L358.5,535.4 L359.5,535.1 L360.5,534.7 L361.5,534.4 L362.5,534.1 L363.5,533.8 L364.5,533.5 L365.5,533.2 L366.5,532.8 L367.5,532.5 L368.5,532.2 L369.5,531.9 L370.5,531.6 L371.5,531.2 L372.5,530.9 L373.5,530.6 L374.5,530.3 L375.5,530.0 L376.5,529.7 L377.5,529.4 L378.5,529.1 L379.5,528.8 L380.5,528.5 L381.5,528.2 L382.5,527.9 L383.5,527.6 L384.5,527.3 L385.5,527.0 L386.5,526.7 L387.5,526.4 L388.5,526.1 L389.5,525.9 L390.5,525.6 L391.5,525.3 L392.5,525.1 L393.5,524.8 L394.5,524.5 L395.5,524.3 L396.5,524.0 L397.5,523.8 L398.5,523.6 L399.5,523.3 L400.5,523.1 L401.5,522.9 L402.5,522.6 L403.5,522.4 L404.5,522.2 L405.5,522.0 L406.5,521.8 L407.5,521.6 L408.5,521.4 L409.5,521.2 L410.5,521.0 L411.5,520.9 L412.5,520.7 L413.5,520.5 L414.5,520.3 L415.5,520.2 L416.5,520.0 L417.5,519.9 L418.5,519.7 L419.5,519.6 L420.5,519.4 L421.5,519.3 L422.5,519.2 L423.5,519.0 L424.5,518.9 L425.5,518.8 L426.5,518.7 L427.5,518.6 L428.5,518.4 L429.5,518.3 L430.5,518.2 L431.5,518.1 L432.5,518.0 L433.5,517.9 L434.5,517.9 L435.5,517.8 L436.5,517.7 L437.5,517.6 L438.5,517.5 L439.5,517.5 L440.5,517.4 L441.5,517.3 L442.5,517.3 L443.5,517.2 L444.5,517.1 L445.5,517.1 L446.5,517.0 L447.5,517.0 L448.5,516.9 L449.5,516.9 L450.5,516.8 L451.5,516.8 L452.5,516.8 L453.5,516.7 L454.5,516.7 L455.5,516.6 L456.5,516.6 L457.5,516.6 L458.5,516.6 L459.5,516.5 L460.5,516.5 L461.5,516.5 L462.5,516.4 L463.5,516.4 L464.5,516.4 L465.5,516.4 L466.5,516.3 L467.5,516.3 L468.5,516.3 L469.5,516.3 L470.5,516.3 L471.5,516.2 L472.5,516.2 L473.5,516.2 L474.5,516.2 L475.5,516.2 L476.5,516.1 L477.5,516.1 L478.5,516.1 L479.5,516.1 L480.5,516.1 L481.5,516.0 L482.5,516.0 L483.5,516.0 L484.5,516.0 L485.5,516.0 L486.5,515.9 L487.5,515.9 L488.5,515.9 L489.5,515.8 L490.5,515.8 L491.5,515.8 L492.5,515.7 L493.5,515.7 L494.5,515.6 L495.5,515.6 L496.5,515.5 L497.5,515.5 L498.5,515.4 L499.5,515.3 L500.5,515.3 L501.5,515.2 L502.5,515.1 L503.5,515.0 L504.5,514.9 L505.5,514.8 L506.5,514.7 L507.5,514.6 L508.5,514.5 L509.5,514.4 L510.5,514.2 L511.5,514.1 L512.5,513.9 L513.5,513.8 L514.5,513.6 L515.5,513.4 L516.5,513.2 L517.5,513.0 L518.5,512.8 L519.5,512.6 L520.5,512.3 L521.5,512.1 L522.5,511.8 L523.5,511.6 L524.5,511.3 L525.5,511.0 L526.5,510.7 L527.5,510.4 L528.5,510.1 L529.5,509.7 L530.5,509.4 L531.5,509.0 L532.5,508.6 L533.5,508.2 L534.5,507.8 L535.5,507.4 L536.5,507.0 L537.5,506.6 L538.5,506.1 L539.5,505.7 L540.5,505.2 L541.5,504.7 L542.5,504.2 L543.5,503.8 L544.5,503.3 L545.5,502.7 L546.5,502.2 L547.5,501.7 L548.5,501.2 L549.5,500.6 L550.5,500.1 L551.5,499.6 L552.5,499.0 L553.5,498.5 L554.5,497.9 L555.5,497.4 L556.5,496.8 L557.5,496.3 L558.5,495.7 L559.5,495.2 L560.5,494.6 L561.5,494.1 L562.5,493.6 L563.5,493.0 L564.5,492.5 L565.5,492.0 L566.5,491.5 L567.5,491.0 L568.5,490.5 L569.5,490.0 L570.5,489.5 L571.5,489.0 L572.5,488.6 L573.5,488.1 L574.5,487.7 L575.5,487.2 L576.5,486.8 L577.5,486.4 L578.5,486.0 L579.5,485.6 L580.5,485.2 L581.5,484.9 L582.5,484.5 L583.5,484.2 L584.5,483.9 L585.5,483.6 L586.5,483.3 L587.5,483.0 L588.5,482.7 L589.5,482.4 L590.5,482.2 L591.5,481.9 L592.5,481.7 L593.5,481.5 L594.5,481.3 L595.5,481.1 L596.5,480.9 L597.5,480.7 L598.5,480.5 L599.5,480.4 L600.5,480.2 L601.5,480.1 L602.5,479.9 L603.5,479.8 L604.5,479.7 L605.5,479.6 L606.5,479.5 L607.5,479.4 L608.5,479.3 L609.5,479.2 L610.5,479.1 L611.5,479.0 L612.5,479.0 L613.5,478.9 L614.5,478.9 L615.5,478.8 L616.5,478.7 L617.5,478.7 L618.5,478.7 L619.5,478.6 L620.5,478.6 L621.5,478.5 L622.5,478.5 L623.5,478.5 L624.5,478.5 L625.5,478.4 L626.5,478.4 L627.5,478.4 L628.5,478.4 L629.5,478.4 L630.5,478.4 L631.5,478.3 L632.5,478.3 L633.5,478.3 L634.5,478.3 L635.5,478.3 L636.5,478.3 L637.5,478.3 L638.5,478.3 L639.5,478.3 L640.5,478.3 L641.5,478.3 L642.5,478.3 L643.5,478.3 L644.5,478.3 L645.5,478.2 L646.5,478.2 L647.5,478.2 L648.5,478.2 L649.5,478.2 L650.5,478.2 L651.5,478.2 L652.5,478.2 L653.5,478.2 L654.5,478.2 L655.5,478.2 L656.5,478.2 L657.5,478.2 L658.5,478.2 L659.5,478.2 L660.5,478.2 L661.5,478.2 L662.5,478.2 L663.5,478.2 L664.5,478.2 L665.5,478.2 L666.5,478.2 L667.5,478.2 L668.5,478.2 L669.5,478.2 L670.5,478.2 L671.5,478.2 L672.5,478.2 L673.5,478.2 L674.5,478.2 L675.5,478.2 L676.5,478.2 L677.5,478.2 L678.5,478.2 L679.5,478.2 L680.5,478.2 L681.5,478.2 L682.5,478.2 L683.5,478.2 L684.5,478.2 L685.5,478.2 L686.5,478.2 L687.5,478.2 L688.5,478.2 L689.5,478.2 L690.5,478.2 L691.5,478.2 L692.5,478.2 L693.5,478.2 L694.5,478.2 L695.5,478.2 L696.5,478.2 L697.5,478.2 L698.5,478.2 L699.5,478.2 L700.5,478.2 L701.5,478.2 L702.5,478.2 L703.5,478.2 L704.5,478.2 L705.5,478.2 L706.5,478.2 L707.5,478.2 L708.5,478.2 L709.5,478.2 L710.5,478.2 L711.5,478.2 L712.5,478.2 L713.5,478.2 L714.5,478.1 L715.5,478.1 L716.5,478.1 L717.5,478.1 L718.5,478.1 L719.5,478.0 L720.5,478.0 L721.5,477.9 L722.5,477.9 L723.5,477.8 L724.5,477.7 L725.5,477.6 L726.5,477.5 L727.5,477.4 L728.5,477.2 L729.5,477.0 L729.75,477.0 L730,476.9 L730.25,476.9 L730.5,476.8 L730.75,476.7 L731,476.7 L731.25,476.6 L731.5,476.5 L731.75,476.4 L732,476.3 L732.25,476.3 L732.5,476.2 L732.75,476.1 L733,476.0 L733.25,475.9 L733.5,475.7 L733.75,475.6 L734,475.5 L734.25,475.4 L734.5,475.3 L734.75,475.1 L735,475.0 L735.25,474.8 L735.5,474.7 L735.75,474.5 L736,474.3 L736.25,474.2 L736.5,474.0 L736.75,473.8 L737,473.6 L737.25,473.3 L737.5,473.1 L737.75,472.9 L738,472.6 L738.25,472.4 L738.5,472.1 L738.75,471.8 L739,471.5 L739.25,471.2 L739.5,470.9 L739.75,470.5 L740,470.2 L740.25,469.8 L740.5,469.4 L740.75,469.0 L741,468.6 L741.25,468.1 L741.5,467.7 L741.75,467.2 L742,466.7 L742.25,466.2 L742.5,465.6 L742.75,465.0 L743,464.4 L743.25,463.7 L743.5,463.1 L743.75,462.4 L744,461.6 L744.25,460.9 L744.5,460.1 L744.75,459.2 L745,458.4 L745.25,457.4 L745.5,456.5 L745.75,455.5 L746,454.4 L746.25,453.3 L746.5,452.2 L746.75,450.9 L747,449.7 L747.25,448.4 L747.5,447.0 L747.75,445.5 L748,444.0 L748.25,442.4 L748.5,440.8 L748.75,439.0 L749,437.2 L749.25,435.3 L749.5,433.3 L749.75,431.3 L750,429.1 L750.25,426.8 L750.5,424.4 L750.75,421.9 L751,419.3 L751.25,416.6 L751.5,413.7 L751.75,410.8 L752,407.6 L752.25,404.3 L752.5,400.9 L752.75,397.4 L753,393.6 L753.25,389.7 L753.5,385.6 L753.75,381.3 L754,376.8 L754.25,372.1 L754.5,367.1 L754.75,362.0 L755,360 M241.5,549.5 L242.5,549.5 L243.5,549.5 L244.5,549.5 L245.5,549.5 L246.5,549.5 L247.5,549.5 L248.5,549.5 L249.5,549.5 L250.5,549.5 L251.5,549.5 L252.5,549.5 L253.5,549.4 L254.5,549.4 L255.5,549.4 L256.5,549.4 L257.5,549.4 L258.5,549.4 L259.5,549.4 L260.5,549.4 L261.5,549.4 L262.5,549.4 L263.5,549.4 L264.5,549.4 L265.5,549.3 L266.5,549.3 L267.5,549.3 L268.5,549.3 L269.5,549.3 L270.5,549.3 L271.5,549.2 L272.5,549.2 L273.5,549.2 L274.5,549.2 L275.5,549.2 L276.5,549.1 L277.5,549.1 L278.5,549.1 L279.5,549.1 L280.5,549.0 L281.5,549.0 L282.5,549.0 L283.5,548.9 L284.5,548.9 L285.5,548.9 L286.5,548.8 L287.5,548.8 L288.5,548.7 L289.5,548.7 L290.5,548.6 L291.5,548.6 L292.5,548.5 L293.5,548.5 L294.5,548.4 L295.5,548.3 L296.5,548.3 L297.5,548.2 L298.5,548.1 L299.5,548.1 L300.5,548.0 L301.5,547.9 L302.5,547.8 L303.5,547.7 L304.5,547.6 L305.5,547.5 L306.5,547.4 L307.5,547.3 L308.5,547.2 L309.5,547.1 L310.5,547.0 L311.5,546.9 L312.5,546.8 L313.5,546.7 L314.5,546.5 L315.5,546.4 L316.5,546.3 L317.5,546.1 L318.5,546.0 L319.5,545.8 L320.5,545.7 L321.5,545.5 L322.5,545.3 L323.5,545.2 L324.5,545.0 L325.5,544.8 L326.5,544.7 L327.5,544.5 L328.5,544.3 L329.5,544.1 L330.5,543.9 L331.5,543.7 L332.5,543.5 L333.5,543.3 L334.5,543.0 L335.5,542.8 L336.5,542.6 L337.5,542.4 L338.5,542.1 L339.5,541.9 L340.5,541.7 L341.5,541.4 L342.5,541.2 L343.5,540.9 L344.5,540.7 L345.5,540.4 L346.5,540.1 L347.5,539.9 L348.5,539.6 L349.5,539.3 L350.5,539.0 L351.5,538.8 L352.5,538.5 L353.5,538.2 L354.5,537.9 L355.5,537.6 L356.5,537.3 L357.5,537.0 L358.5,536.7 L359.5,536.4 L360.5,536.1 L361.5,535.8 L362.5,535.5 L363.5,535.2 L364.5,534.9 L365.5,534.6 L366.5,534.3 L367.5,533.9 L368.5,533.6 L369.5,533.3 L370.5,533.0 L371.5,532.7 L372.5,532.4 L373.5,532.1 L374.5,531.8 L375.5,531.5 L376.5,531.1 L377.5,530.8 L378.5,530.5 L379.5,530.2 L380.5,529.9 L381.5,529.6 L382.5,529.3 L383.5,529.0 L384.5,528.7 L385.5,528.4 L386.5,528.1 L387.5,527.8 L388.5,527.6 L389.5,527.3 L390.5,527.0 L391.5,526.7 L392.5,526.4 L393.5,526.2 L394.5,525.9 L395.5,525.6 L396.5,525.4 L397.5,525.1 L398.5,524.9 L399.5,524.6 L400.5,524.4 L401.5,524.1 L402.5,523.9 L403.5,523.6 L404.5,523.4 L405.5,523.2 L406.5,523.0 L407.5,522.7 L408.5,522.5 L409.5,522.3 L410.5,522.1 L411.5,521.9 L412.5,521.7 L413.5,521.5 L414.5,521.4 L415.5,521.2 L416.5,521.0 L417.5,520.8 L418.5,520.6 L419.5,520.5 L420.5,520.3 L421.5,520.2 L422.5,520.0 L423.5,519.9 L424.5,519.7 L425.5,519.6 L426.5,519.4 L427.5,519.3 L428.5,519.2 L429.5,519.1 L430.5,518.9 L431.5,518.8 L432.5,518.7 L433.5,518.6 L434.5,518.5 L435.5,518.4 L436.5,518.3 L437.5,518.2 L438.5,518.1 L439.5,518.0 L440.5,517.9 L441.5,517.9 L442.5,517.8 L443.5,517.7 L444.5,517.6 L445.5,517.6 L446.5,517.5 L447.5,517.4 L448.5,517.4 L449.5,517.3 L450.5,517.3 L451.5,517.2 L452.5,517.2 L453.5,517.1 L454.5,517.1 L455.5,517.0 L456.5,517.0 L457.5,516.9 L458.5,516.9 L459.5,516.8 L460.5,516.8 L461.5,516.8 L462.5,516.7 L463.5,516.7 L464.5,516.7 L465.5,516.6 L466.5,516.6 L467.5,516.6 L468.5,516.6 L469.5,516.5 L470.5,516.5 L471.5,516.5 L472.5,516.5 L473.5,516.5 L474.5,516.4 L475.5,516.4 L476.5,516.4 L477.5,516.4 L478.5,516.4 L479.5,516.4 L480.5,516.3 L481.5,516.3 L482.5,516.3 L483.5,516.3 L484.5,516.3 L485.5,516.3 L486.5,516.2 L487.5,516.2 L488.5,516.2 L489.5,516.2 L490.5,516.2 L491.5,516.1 L492.5,516.1 L493.5,516.1 L494.5,516.1 L495.5,516.1 L496.5,516.0 L497.5,516.0 L498.5,516.0 L499.5,515.9 L500.5,515.9 L501.5,515.9 L502.5,515.8 L503.5,515.8 L504.5,515.8 L505.5,515.7 L506.5,515.7 L507.5,515.6 L508.5,515.5 L509.5,515.5 L510.5,515.4 L511.5,515.3 L512.5,515.3 L513.5,515.2 L514.5,515.1 L515.5,515.0 L516.5,514.9 L517.5,514.8 L518.5,514.7 L519.5,514.6 L520.5,514.4 L521.5,514.3 L522.5,514.1 L523.5,514.0 L524.5,513.8 L525.5,513.7 L526.5,513.5 L527.5,513.3 L528.5,513.1 L529.5,512.9 L530.5,512.7 L531.5,512.4 L532.5,512.2 L533.5,511.9 L534.5,511.7 L535.5,511.4 L536.5,511.1 L537.5,510.8 L538.5,510.5 L539.5,510.2 L540.5,509.8 L541.5,509.5 L542.5,509.1 L543.5,508.8 L544.5,508.4 L545.5,508.0 L546.5,507.6 L547.5,507.2 L548.5,506.8 L549.5,506.3 L550.5,505.9 L551.5,505.4 L552.5,505.0 L553.5,504.5 L554.5,504.0 L555.5,503.5 L556.5,503.1 L557.5,502.6 L558.5,502.0 L559.5,501.5 L560.5,501.0 L561.5,500.5 L562.5,500.0 L563.5,499.4 L564.5,498.9 L565.5,498.4 L566.5,497.8 L567.5,497.3 L568.5,496.8 L569.5,496.2 L570.5,495.7 L571.5,495.2 L572.5,494.7 L573.5,494.1 L574.5,493.6 L575.5,493.1 L576.5,492.6 L577.5,492.1 L578.5,491.6 L579.5,491.1 L580.5,490.6 L581.5,490.1 L582.5,489.7 L583.5,489.2 L584.5,488.8 L585.5,488.3 L586.5,487.9 L587.5,487.5 L588.5,487.1 L589.5,486.7 L590.5,486.3 L591.5,485.9 L592.5,485.6 L593.5,485.2 L594.5,484.9 L595.5,484.6 L596.5,484.2 L597.5,483.9 L598.5,483.7 L599.5,483.4 L600.5,483.1 L601.5,482.8 L602.5,482.6 L603.5,482.4 L604.5,482.1 L605.5,481.9 L606.5,481.7 L607.5,481.5 L608.5,481.3 L609.5,481.2 L610.5,481.0 L611.5,480.8 L612.5,480.7 L613.5,480.5 L614.5,480.4 L615.5,480.3 L616.5,480.2 L617.5,480.1 L618.5,480.0 L619.5,479.9 L620.5,479.8 L621.5,479.7 L622.5,479.6 L623.5,479.5 L624.5,479.5 L625.5,479.4 L626.5,479.3 L627.5,479.3 L628.5,479.2 L629.5,479.2 L630.5,479.1 L631.5,479.1 L632.5,479.1 L633.5,479.0 L634.5,479.0 L635.5,479.0 L636.5,478.9 L637.5,478.9 L638.5,478.9 L639.5,478.9 L640.5,478.9 L641.5,478.8 L642.5,478.8 L643.5,478.8 L644.5,478.8 L645.5,478.8 L646.5,478.8 L647.5,478.8 L648.5,478.8 L649.5,478.8 L650.5,478.8 L651.5,478.7 L652.5,478.7 L653.5,478.7 L654.5,478.7 L655.5,478.7 L656.5,478.7 L657.5,478.7 L658.5,478.7 L659.5,478.7 L660.5,478.7 L661.5,478.7 L662.5,478.7 L663.5,478.7 L664.5,478.7 L665.5,478.7 L666.5,478.7 L667.5,478.7 L668.5,478.7 L669.5,478.7 L670.5,478.7 L671.5,478.7 L672.5,478.7 L673.5,478.7 L674.5,478.7 L675.5,478.7 L676.5,478.7 L677.5,478.7 L678.5,478.7 L679.5,478.7 L680.5,478.7 L681.5,478.7 L682.5,478.7 L683.5,478.7 L684.5,478.7 L685.5,478.7 L686.5,478.7 L687.5,478.7 L688.5,478.7 L689.5,478.7 L690.5,478.7 L691.5,478.7 L692.5,478.7 L693.5,478.7 L694.5,478.7 L695.5,478.7 L696.5,478.7 L697.5,478.7 L698.5,478.7 L699.5,478.7 L700.5,478.7 L701.5,478.7 L702.5,478.7 L703.5,478.7 L704.5,478.7 L705.5,478.7 L706.5,478.7 L707.5,478.7 L708.5,478.7 L709.5,478.7 L710.5,478.7 L711.5,478.6 L712.5,478.6 L713.5,478.6 L714.5,478.6 L715.5,478.6 L716.5,478.6 L717.5,478.6 L718.5,478.5 L719.5,478.5 L720.5,478.4 L721.5,478.4 L722.5,478.3 L723.5,478.3 L724.5,478.2 L725.5,478.1 L726.5,478.0 L727.5,477.8 L728.5,477.7 L729.5,477.4 L729.75,477.4 L730,477.3 L730.25,477.3 L730.5,477.2 L730.75,477.1 L731,477.1 L731.25,477.0 L731.5,476.9 L731.75,476.8 L732,476.7 L732.25,476.6 L732.5,476.5 L732.75,476.4 L733,476.3 L733.25,476.2 L733.5,476.1 L733.75,476.0 L734,475.9 L734.25,475.7 L734.5,475.6 L734.75,475.5 L735,475.3 L735.25,475.2 L735.5,475.0 L735.75,474.8 L736,474.7 L736.25,474.5 L736.5,474.3 L736.75,474.1 L737,473.8 L737.25,473.6 L737.5,473.4 L737.75,473.1 L738,472.9 L738.25,472.6 L738.5,472.3 L738.75,472.0 L739,471.7 L739.25,471.4 L739.5,471.1 L739.75,470.7 L740,470.4 L740.25,470.0 L740.5,469.6 L740.75,469.2 L741,468.7 L741.25,468.2 L741.5,467.8 L741.75,467.3 L742,466.7 L742.25,466.2 L742.5,465.6 L742.75,465.0 L743,464.4 L743.25,463.7 L743.5,463.0 L743.75,462.3 L744,461.5 L744.25,460.7 L744.5,459.9 L744.75,459.0 L745,458.1 L745.25,457.2 L745.5,456.2 L745.75,455.1 L746,454.0 L746.25,452.9 L746.5,451.7 L746.75,450.5 L747,449.1 L747.25,447.8 L747.5,446.4 L747.75,444.9 L748,443.3 L748.25,441.7 L748.5,439.9 L748.75,438.2 L749,436.3 L749.25,434.3 L749.5,432.3 L749.75,430.1 L750,427.9 L750.25,425.5 L750.5,423.1 L750.75,420.5 L751,417.8 L751.25,415.0 L751.5,412.0 L751.75,408.9 L752,405.7 L752.25,402.3 L752.5,398.8 L752.75,395.1 L753,391.2 L753.25,387.2 L753.5,383.0 L753.75,378.5 L754,373.9 L754.25,369.0 L754.5,363.9 L754.75,360 M241.5,549.5 L242.5,549.5 L243.5,549.5 L244.5,549.5 L245.5,549.5 L246.5,549.5 L247.5,549.5 L248.5,549.5 L249.5,549.5 L250.5,549.5 L251.5,549.5 L252.5,549.5 L253.5,549.5 L254.5,549.4 L255.5,549.4 L256.5,549.4 L257.5,549.4 L258.5,549.4 L259.5,549.4 L260.5,549.4 L261.5,549.4 L262.5,549.4 L263.5,549.4 L264.5,549.4 L265.5,549.4 L266.5,549.4 L267.5,549.3 L268.5,549.3 L269.5,549.3 L270.5,549.3 L271.5,549.3 L272.5,549.3 L273.5,549.3 L274.5,549.2 L275.5,549.2 L276.5,549.2 L277.5,549.2 L278.5,549.2 L279.5,549.1 L280.5,549.1 L281.5,549.1 L282.5,549.0 L283.5,549.0 L284.5,549.0 L285.5,549.0 L286.5,548.9 L287.5,548.9 L288.5,548.8 L289.5,548.8 L290.5,548.8 L291.5,548.7 L292.5,548.7 L293.5,548.6 L294.5,548.6 L295.5,548.5 L296.5,548.5 L297.5,548.4 L298.5,548.3 L299.5,548.3 L300.5,548.2 L301.5,548.1 L302.5,548.1 L303.5,548.0 L304.5,547.9 L305.5,547.8 L306.5,547.7 L307.5,547.7 L308.5,547.6 L309.5,547.5 L310.5,547.4 L311.5,547.3 L312.5,547.2 L313.5,547.1 L314.5,546.9 L315.5,546.8 L316.5,546.7 L317.5,546.6 L318.5,546.4 L319.5,546.3 L320.5,546.2 L321.5,546.0 L322.5,545.9 L323.5,545.7 L324.5,545.6 L325.5,545.4 L326.5,545.3 L327.5,545.1 L328.5,544.9 L329.5,544.8 L330.5,544.6 L331.5,544.4 L332.5,544.2 L333.5,544.0 L334.5,543.8 L335.5,543.6 L336.5,543.4 L337.5,543.2 L338.5,543.0 L339.5,542.8 L340.5,542.6 L341.5,542.3 L342.5,542.1 L343.5,541.9 L344.5,541.6 L345.5,541.4 L346.5,541.1 L347.5,540.9 L348.5,540.6 L349.5,540.4 L350.5,540.1 L351.5,539.9 L352.5,539.6 L353.5,539.3 L354.5,539.1 L355.5,538.8 L356.5,538.5 L357.5,538.2 L358.5,537.9 L359.5,537.7 L360.5,537.4 L361.5,537.1 L362.5,536.8 L363.5,536.5 L364.5,536.2 L365.5,535.9 L366.5,535.6 L367.5,535.3 L368.5,535.0 L369.5,534.7 L370.5,534.4 L371.5,534.1 L372.5,533.8 L373.5,533.5 L374.5,533.2 L375.5,532.9 L376.5,532.5 L377.5,532.2 L378.5,531.9 L379.5,531.6 L380.5,531.3 L381.5,531.0 L382.5,530.7 L383.5,530.4 L384.5,530.1 L385.5,529.8 L386.5,529.5 L387.5,529.2 L388.5,528.9 L389.5,528.7 L390.5,528.4 L391.5,528.1 L392.5,527.8 L393.5,527.5 L394.5,527.2 L395.5,527.0 L396.5,526.7 L397.5,526.4 L398.5,526.2 L399.5,525.9 L400.5,525.6 L401.5,525.4 L402.5,525.1 L403.5,524.9 L404.5,524.6 L405.5,524.4 L406.5,524.2 L407.5,523.9 L408.5,523.7 L409.5,523.5 L410.5,523.3 L411.5,523.0 L412.5,522.8 L413.5,522.6 L414.5,522.4 L415.5,522.2 L416.5,522.0 L417.5,521.8 L418.5,521.6 L419.5,521.5 L420.5,521.3 L421.5,521.1 L422.5,520.9 L423.5,520.8 L424.5,520.6 L425.5,520.5 L426.5,520.3 L427.5,520.2 L428.5,520.0 L429.5,519.9 L430.5,519.7 L431.5,519.6 L432.5,519.5 L433.5,519.3 L434.5,519.2 L435.5,519.1 L436.5,519.0 L437.5,518.9 L438.5,518.8 L439.5,518.7 L440.5,518.6 L441.5,518.5 L442.5,518.4 L443.5,518.3 L444.5,518.2 L445.5,518.1 L446.5,518.0 L447.5,517.9 L448.5,517.9 L449.5,517.8 L450.5,517.7 L451.5,517.7 L452.5,517.6 L453.5,517.5 L454.5,517.5 L455.5,517.4 L456.5,517.4 L457.5,517.3 L458.5,517.3 L459.5,517.2 L460.5,517.2 L461.5,517.1 L462.5,517.1 L463.5,517.0 L464.5,517.0 L465.5,517.0 L466.5,516.9 L467.5,516.9 L468.5,516.9 L469.5,516.8 L470.5,516.8 L471.5,516.8 L472.5,516.7 L473.5,516.7 L474.5,516.7 L475.5,516.7 L476.5,516.7 L477.5,516.6 L478.5,516.6 L479.5,516.6 L480.5,516.6 L481.5,516.6 L482.5,516.5 L483.5,516.5 L484.5,516.5 L485.5,516.5 L486.5,516.5 L487.5,516.5 L488.5,516.4 L489.5,516.4 L490.5,516.4 L491.5,516.4 L492.5,516.4 L493.5,516.4 L494.5,516.4 L495.5,516.3 L496.5,516.3 L497.5,516.3 L498.5,516.3 L499.5,516.3 L500.5,516.3 L501.5,516.3 L502.5,516.2 L503.5,516.2 L504.5,516.2 L505.5,516.2 L506.5,516.1 L507.5,516.1 L508.5,516.1 L509.5,516.1 L510.5,516.0 L511.5,516.0 L512.5,516.0 L513.5,515.9 L514.5,515.9 L515.5,515.8 L516.5,515.8 L517.5,515.7 L518.5,515.7 L519.5,515.6 L520.5,515.6 L521.5,515.5 L522.5,515.4 L523.5,515.3 L524.5,515.2 L525.5,515.2 L526.5,515.1 L527.5,515.0 L528.5,514.8 L529.5,514.7 L530.5,514.6 L531.5,514.5 L532.5,514.3 L533.5,514.2 L534.5,514.0 L535.5,513.9 L536.5,513.7 L537.5,513.5 L538.5,513.3 L539.5,513.1 L540.5,512.9 L541.5,512.7 L542.5,512.5 L543.5,512.2 L544.5,512.0 L545.5,511.7 L546.5,511.5 L547.5,511.2 L548.5,510.9 L549.5,510.6 L550.5,510.3 L551.5,509.9 L552.5,509.6 L553.5,509.2 L554.5,508.9 L555.5,508.5 L556.5,508.1 L557.5,507.7 L558.5,507.3 L559.5,506.9 L560.5,506.5 L561.5,506.1 L562.5,505.6 L563.5,505.2 L564.5,504.7 L565.5,504.3 L566.5,503.8 L567.5,503.3 L568.5,502.8 L569.5,502.3 L570.5,501.8 L571.5,501.3 L572.5,500.8 L573.5,500.3 L574.5,499.8 L575.5,499.3 L576.5,498.8 L577.5,498.2 L578.5,497.7 L579.5,497.2 L580.5,496.7 L581.5,496.2 L582.5,495.7 L583.5,495.1 L584.5,494.6 L585.5,494.1 L586.5,493.6 L587.5,493.1 L588.5,492.6 L589.5,492.1 L590.5,491.7 L591.5,491.2 L592.5,490.7 L593.5,490.3 L594.5,489.8 L595.5,489.4 L596.5,489.0 L597.5,488.5 L598.5,488.1 L599.5,487.7 L600.5,487.3 L601.5,486.9 L602.5,486.6 L603.5,486.2 L604.5,485.9 L605.5,485.5 L606.5,485.2 L607.5,484.9 L608.5,484.6 L609.5,484.3 L610.5,484.0 L611.5,483.7 L612.5,483.5 L613.5,483.2 L614.5,483.0 L615.5,482.8 L616.5,482.5 L617.5,482.3 L618.5,482.1 L619.5,481.9 L620.5,481.8 L621.5,481.6 L622.5,481.4 L623.5,481.3 L624.5,481.1 L625.5,481.0 L626.5,480.9 L627.5,480.7 L628.5,480.6 L629.5,480.5 L630.5,480.4 L631.5,480.3 L632.5,480.2 L633.5,480.1 L634.5,480.1 L635.5,480.0 L636.5,479.9 L637.5,479.9 L638.5,479.8 L639.5,479.8 L640.5,479.7 L641.5,479.7 L642.5,479.6 L643.5,479.6 L644.5,479.5 L645.5,479.5 L646.5,479.5 L647.5,479.4 L648.5,479.4 L649.5,479.4 L650.5,479.4 L651.5,479.3 L652.5,479.3 L653.5,479.3 L654.5,479.3 L655.5,479.3 L656.5,479.3 L657.5,479.3 L658.5,479.2 L659.5,479.2 L660.5,479.2 L661.5,479.2 L662.5,479.2 L663.5,479.2 L664.5,479.2 L665.5,479.2 L666.5,479.2 L667.5,479.2 L668.5,479.2 L669.5,479.2 L670.5,479.2 L671.5,479.2 L672.5,479.2 L673.5,479.2 L674.5,479.2 L675.5,479.2 L676.5,479.2 L677.5,479.2 L678.5,479.2 L679.5,479.2 L680.5,479.2 L681.5,479.2 L682.5,479.2 L683.5,479.2 L684.5,479.2 L685.5,479.2 L686.5,479.2 L687.5,479.2 L688.5,479.2 L689.5,479.2 L690.5,479.2 L691.5,479.2 L692.5,479.2 L693.5,479.2 L694.5,479.2 L695.5,479.2 L696.5,479.2 L697.5,479.1 L698.5,479.1 L699.5,479.1 L700.5,479.1 L701.5,479.1 L702.5,479.1 L703.5,479.1 L704.5,479.1 L705.5,479.1 L706.5,479.1 L707.5,479.1 L708.5,479.1 L709.5,479.1 L710.5,479.1 L711.5,479.1 L712.5,479.1 L713.5,479.1 L714.5,479.1 L715.5,479.0 L716.5,479.0 L717.5,479.0 L718.5,479.0 L719.5,478.9 L720.5,478.9 L721.5,478.8 L722.5,478.8 L723.5,478.7 L724.5,478.6 L725.5,478.5 L726.5,478.4 L727.5,478.2 L728.5,478.1 L729.5,477.9 L729.75,477.8 L730,477.7 L730.25,477.7 L730.5,477.6 L730.75,477.5 L731,477.5 L731.25,477.4 L731.5,477.3 L731.75,477.2 L732,477.1 L732.25,477.0 L732.5,476.9 L732.75,476.8 L733,476.7 L733.25,476.6 L733.5,476.5 L733.75,476.4 L734,476.2 L734.25,476.1 L734.5,476.0 L734.75,475.8 L735,475.7 L735.25,475.5 L735.5,475.3 L735.75,475.1 L736,475.0 L736.25,474.8 L736.5,474.6 L736.75,474.4 L737,474.1 L737.25,473.9 L737.5,473.7 L737.75,473.4 L738,473.1 L738.25,472.9 L738.5,472.6 L738.75,472.3 L739,472.0 L739.25,471.6 L739.5,471.3 L739.75,470.9 L740,470.5 L740.25,470.1 L740.5,469.7 L740.75,469.3 L741,468.8 L741.25,468.3 L741.5,467.8 L741.75,467.3 L742,466.8 L742.25,466.2 L742.5,465.6 L742.75,465.0 L743,464.3 L743.25,463.6 L743.5,462.9 L743.75,462.2 L744,461.4 L744.25,460.6 L744.5,459.7 L744.75,458.8 L745,457.9 L745.25,456.9 L745.5,455.9 L745.75,454.8 L746,453.7 L746.25,452.5 L746.5,451.3 L746.75,450.0 L747,448.6 L747.25,447.2 L747.5,445.7 L747.75,444.2 L748,442.6 L748.25,440.9 L748.5,439.1 L748.75,437.3 L749,435.3 L749.25,433.3 L749.5,431.2 L749.75,429.0 L750,426.7 L750.25,424.3 L750.5,421.7 L750.75,419.0 L751,416.3 L751.25,413.4 L751.5,410.3 L751.75,407.2 L752,403.8 L752.25,400.3 L752.5,396.7 L752.75,392.9 L753,388.9 L753.25,384.7 L753.5,380.4 L753.75,375.8 L754,371.0 L754.25,366.0 L754.5,360.8 L754.75,360 M241.5,549.5 L242.5,549.5 L243.5,549.5 L244.5,549.5 L245.5,549.5 L246.5,549.5 L247.5,549.5 L248.5,549.5 L249.5,549.5 L250.5,549.5 L251.5,549.5 L252.5,549.5 L253.5,549.5 L254.5,549.5 L255.5,549.5 L256.5,549.4 L257.5,549.4 L258.5,549.4 L259.5,549.4 L260.5,549.4 L261.5,549.4 L262.5,549.4 L263.5,549.4 L264.5,549.4 L265.5,549.4 L266.5,549.4 L267.5,549.4 L268.5,549.4 L269.5,549.3 L270.5,549.3 L271.5,549.3 L272.5,549.3 L273.5,549.3 L274.5,549.3 L275.5,549.3 L276.5,549.2 L277.5,549.2 L278.5,549.2 L279.5,549.2 L280.5,549.2 L281.5,549.1 L282.5,549.1 L283.5,549.1 L284.5,549.1 L285.5,549.0 L286.5,549.0 L287.5,549.0 L288.5,548.9 L289.5,548.9 L290.5,548.9 L291.5,548.8 L292.5,548.8 L293.5,548.8 L294.5,548.7 L295.5,548.7 L296.5,548.6 L297.5,548.6 L298.5,548.5 L299.5,548.5 L300.5,548.4 L301.5,548.3 L302.5,548.3 L303.5,548.2 L304.5,548.1 L305.5,548.1 L306.5,548.0 L307.5,547.9 L308.5,547.8 L309.5,547.8 L310.5,547.7 L311.5,547.6 L312.5,547.5 L313.5,547.4 L314.5,547.3 L315.5,547.2 L316.5,547.1 L317.5,547.0 L318.5,546.9 L319.5,546.7 L320.5,546.6 L321.5,546.5 L322.5,546.4 L323.5,546.2 L324.5,546.1 L325.5,546.0 L326.5,545.8 L327.5,545.7 L328.5,545.5 L329.5,545.4 L330.5,545.2 L331.5,545.0 L332.5,544.9 L333.5,544.7 L334.5,544.5 L335.5,544.3 L336.5,544.1 L337.5,544.0 L338.5,543.8 L339.5,543.6 L340.5,543.4 L341.5,543.2 L342.5,542.9 L343.5,542.7 L344.5,542.5 L345.5,542.3 L346.5,542.1 L347.5,541.8 L348.5,541.6 L349.5,541.4 L350.5,541.1 L351.5,540.9 L352.5,540.6 L353.5,540.4 L354.5,540.1 L355.5,539.9 L356.5,539.6 L357.5,539.3 L358.5,539.1 L359.5,538.8 L360.5,538.5 L361.5,538.2 L362.5,538.0 L363.5,537.7 L364.5,537.4 L365.5,537.1 L366.5,536.8 L367.5,536.5 L368.5,536.3 L369.5,536.0 L370.5,535.7 L371.5,535.4 L372.5,535.1 L373.5,534.8 L374.5,534.5 L375.5,534.2 L376.5,533.9 L377.5,533.6 L378.5,533.3 L379.5,533.0 L380.5,532.7 L381.5,532.4 L382.5,532.1 L383.5,531.8 L384.5,531.5 L385.5,531.2 L386.5,530.9 L387.5,530.6 L388.5,530.3 L389.5,530.0 L390.5,529.7 L391.5,529.4 L392.5,529.2 L393.5,528.9 L394.5,528.6 L395.5,528.3 L396.5,528.0 L397.5,527.8 L398.5,527.5 L399.5,527.2 L400.5,526.9 L401.5,526.7 L402.5,526.4 L403.5,526.2 L404.5,525.9 L405.5,525.7 L406.5,525.4 L407.5,525.2 L408.5,524.9 L409.5,524.7 L410.5,524.4 L411.5,524.2 L412.5,524.0 L413.5,523.8 L414.5,523.5 L415.5,523.3 L416.5,523.1 L417.5,522.9 L418.5,522.7 L419.5,522.5 L420.5,522.3 L421.5,522.1 L422.5,521.9 L423.5,521.7 L424.5,521.6 L425.5,521.4 L426.5,521.2 L427.5,521.1 L428.5,520.9 L429.5,520.7 L430.5,520.6 L431.5,520.4 L432.5,520.3 L433.5,520.1 L434.5,520.0 L435.5,519.9 L436.5,519.7 L437.5,519.6 L438.5,519.5 L439.5,519.4 L440.5,519.2 L441.5,519.1 L442.5,519.0 L443.5,518.9 L444.5,518.8 L445.5,518.7 L446.5,518.6 L447.5,518.5 L448.5,518.4 L449.5,518.3 L450.5,518.3 L451.5,518.2 L452.5,518.1 L453.5,518.0 L454.5,517.9 L455.5,517.9 L456.5,517.8 L457.5,517.7 L458.5,517.7 L459.5,517.6 L460.5,517.6 L461.5,517.5 L462.5,517.5 L463.5,517.4 L464.5,517.4 L465.5,517.3 L466.5,517.3 L467.5,517.2 L468.5,517.2 L469.5,517.1 L470.5,517.1 L471.5,517.1 L472.5,517.0 L473.5,517.0 L474.5,517.0 L475.5,516.9 L476.5,516.9 L477.5,516.9 L478.5,516.9 L479.5,516.8 L480.5,516.8 L481.5,516.8 L482.5,516.8 L483.5,516.8 L484.5,516.7 L485.5,516.7 L486.5,516.7 L487.5,516.7 L488.5,516.7 L489.5,516.6 L490.5,516.6 L491.5,516.6 L492.5,516.6 L493.5,516.6 L494.5,516.6 L495.5,516.6 L496.5,516.6 L497.5,516.5 L498.5,516.5 L499.5,516.5 L500.5,516.5 L501.5,516.5 L502.5,516.5 L503.5,516.5 L504.5,516.5 L505.5,516.4 L506.5,516.4 L507.5,516.4 L508.5,516.4 L509.5,516.4 L510.5,516.4 L511.5,516.4 L512.5,516.3 L513.5,516.3 L514.5,516.3 L515.5,516.3 L516.5,516.3 L517.5,516.2 L518.5,516.2 L519.5,516.2 L520.5,516.1 L521.5,516.1 L522.5,516.1 L523.5,516.0 L524.5,516.0 L525.5,516.0 L526.5,515.9 L527.5,515.9 L528.5,515.8 L529.5,515.7 L530.5,515.7 L531.5,515.6 L532.5,515.5 L533.5,515.5 L534.5,515.4 L535.5,515.3 L536.5,515.2 L537.5,515.1 L538.5,515.0 L539.5,514.9 L540.5,514.8 L541.5,514.7 L542.5,514.5 L543.5,514.4 L544.5,514.2 L545.5,514.1 L546.5,513.9 L547.5,513.7 L548.5,513.6 L549.5,513.4 L550.5,513.2 L551.5,513.0 L552.5,512.7 L553.5,512.5 L554.5,512.3 L555.5,512.0 L556.5,511.8 L557.5,511.5 L558.5,511.2 L559.5,510.9 L560.5,510.6 L561.5,510.3 L562.5,510.0 L563.5,509.7 L564.5,509.3 L565.5,509.0 L566.5,508.6 L567.5,508.2 L568.5,507.8 L569.5,507.4 L570.5,507.0 L571.5,506.6 L572.5,506.2 L573.5,505.8 L574.5,505.3 L575.5,504.9 L576.5,504.4 L577.5,504.0 L578.5,503.5 L579.5,503.0 L580.5,502.6 L581.5,502.1 L582.5,501.6 L583.5,501.1 L584.5,500.6 L585.5,500.1 L586.5,499.6 L587.5,499.1 L588.5,498.6 L589.5,498.1 L590.5,497.6 L591.5,497.1 L592.5,496.6 L593.5,496.1 L594.5,495.6 L595.5,495.1 L596.5,494.6 L597.5,494.1 L598.5,493.6 L599.5,493.1 L600.5,492.6 L601.5,492.2 L602.5,491.7 L603.5,491.2 L604.5,490.8 L605.5,490.4 L606.5,489.9 L607.5,489.5 L608.5,489.1 L609.5,488.7 L610.5,488.3 L611.5,487.9 L612.5,487.5 L613.5,487.2 L614.5,486.8 L615.5,486.5 L616.5,486.1 L617.5,485.8 L618.5,485.5 L619.5,485.2 L620.5,484.9 L621.5,484.6 L622.5,484.3 L623.5,484.1 L624.5,483.8 L625.5,483.6 L626.5,483.3 L627.5,483.1 L628.5,482.9 L629.5,482.7 L630.5,482.5 L631.5,482.3 L632.5,482.2 L633.5,482.0 L634.5,481.8 L635.5,481.7 L636.5,481.6 L637.5,481.4 L638.5,481.3 L639.5,481.2 L640.5,481.1 L641.5,481.0 L642.5,480.9 L643.5,480.8 L644.5,480.7 L645.5,480.6 L646.5,480.5 L647.5,480.4 L648.5,480.4 L649.5,480.3 L650.5,480.3 L651.5,480.2 L652.5,480.2 L653.5,480.1 L654.5,480.1 L655.5,480.0 L656.5,480.0 L657.5,480.0 L658.5,479.9 L659.5,479.9 L660.5,479.9 L661.5,479.8 L662.5,479.8 L663.5,479.8 L664.5,479.8 L665.5,479.8 L666.5,479.8 L667.5,479.7 L668.5,479.7 L669.5,479.7 L670.5,479.7 L671.5,479.7 L672.5,479.7 L673.5,479.7 L674.5,479.7 L675.5,479.7 L676.5,479.7 L677.5,479.6 L678.5,479.6 L679.5,479.6 L680.5,479.6 L681.5,479.6 L682.5,479.6 L683.5,479.6 L684.5,479.6 L685.5,479.6 L686.5,479.6 L687.5,479.6 L688.5,479.6 L689.5,479.6 L690.5,479.6 L691.5,479.6 L692.5,479.6 L693.5,479.6 L694.5,479.6 L695.5,479.6 L696.5,479.6 L697.5,479.6 L698.5,479.6 L699.5,479.6 L700.5,479.6 L701.5,479.6 L702.5,479.6 L703.5,479.6 L704.5,479.6 L705.5,479.6 L706.5,479.6 L707.5,479.6 L708.5,479.6 L709.5,479.6 L710.5,479.6 L711.5,479.6 L712.5,479.5 L713.5,479.5 L714.5,479.5 L715.5,479.5 L716.5,479.5 L717.5,479.4 L718.5,479.4 L719.5,479.4 L720.5,479.3 L721.5,479.3 L722.5,479.2 L723.5,479.1 L724.5,479.1 L725.5,478.9 L726.5,478.8 L727.5,478.7 L728.5,478.5 L729.5,478.3 L729.75,478.2 L730,478.1 L730.25,478.1 L730.5,478.0 L730.75,477.9 L731,477.8 L731.25,477.8 L731.5,477.7 L731.75,477.6 L732,477.5 L732.25,477.4 L732.5,477.3 L732.75,477.2 L733,477.1 L733.25,477.0 L733.5,476.8 L733.75,476.7 L734,476.6 L734.25,476.4 L734.5,476.3 L734.75,476.1 L735,476.0 L735.25,475.8 L735.5,475.6 L735.75,475.5 L736,475.3 L736.25,475.1 L736.5,474.9 L736.75,474.6 L737,474.4 L737.25,474.2 L737.5,473.9 L737.75,473.7 L738,473.4 L738.25,473.1 L738.5,472.8 L738.75,472.5 L739,472.2 L739.25,471.8 L739.5,471.5 L739.75,471.1 L740,470.7 L740.25,470.3 L740.5,469.8 L740.75,469.4 L741,468.9 L741.25,468.4 L741.5,467.9 L741.75,467.4 L742,466.8 L742.25,466.2 L742.5,465.6 L742.75,465.0 L743,464.3 L743.25,463.6 L743.5,462.8 L743.75,462.1 L744,461.3 L744.25,460.4 L744.5,459.5 L744.75,458.6 L745,457.6 L745.25,456.6 L745.5,455.6 L745.75,454.5 L746,453.3 L746.25,452.1 L746.5,450.8 L746.75,449.5 L747,448.1 L747.25,446.7 L747.5,445.1 L747.75,443.5 L748,441.9 L748.25,440.1 L748.5,438.3 L748.75,436.4 L749,434.4 L749.25,432.3 L749.5,430.2 L749.75,427.9 L750,425.5 L750.25,423.0 L750.5,420.4 L750.75,417.6 L751,414.8 L751.25,411.8 L751.5,408.7 L751.75,405.4 L752,402.0 L752.25,398.4 L752.5,394.7 L752.75,390.7 L753,386.6 L753.25,382.3 L753.5,377.8 L753.75,373.1 L754,368.2 L754.25,363.1 L754.5,360 M241.5,549.5 L242.5,549.5 L243.5,549.5 L244.5,549.5 L245.5,549.5 L246.5,549.5 L247.5,549.5 L248.5,549.5 L249.5,549.5 L250.5,549.5 L251.5,549.5 L252.5,549.5 L253.5,549.5 L254.5,549.5 L255.5,549.5 L256.5,549.5 L257.5,549.5 L258.5,549.4 L259.5,549.4 L260.5,549.4 L261.5,549.4 L262.5,549.4 L263.5,549.4 L264.5,549.4 L265.5,549.4 L266.5,549.4 L267.5,549.4 L268.5,549.4 L269.5,549.4 L270.5,549.4 L271.5,549.4 L272.5,549.3 L273.5,549.3 L274.5,549.3 L275.5,549.3 L276.5,549.3 L277.5,549.3 L278.5,549.3 L279.5,549.2 L280.5,549.2 L281.5,549.2 L282.5,549.2 L283.5,549.2 L284.5,549.1 L285.5,549.1 L286.5,549.1 L287.5,549.1 L288.5,549.0 L289.5,549.0 L290.5,549.0 L291.5,548.9 L292.5,548.9 L293.5,548.9 L294.5,548.8 L295.5,548.8 L296.5,548.7 L297.5,548.7 L298.5,548.7 L299.5,548.6 L300.5,548.6 L301.5,548.5 L302.5,548.4 L303.5,548.4 L304.5,548.3 L305.5,548.3 L306.5,548.2 L307.5,548.1 L308.5,548.1 L309.5,548.0 L310.5,547.9 L311.5,547.8 L312.5,547.8 L313.5,547.7 L314.5,547.6 L315.5,547.5 L316.5,547.4 L317.5,547.3 L318.5,547.2 L319.5,547.1 L320.5,547.0 L321.5,546.9 L322.5,546.8 L323.5,546.7 L324.5,546.5 L325.5,546.4 L326.5,546.3 L327.5,546.2 L328.5,546.0 L329.5,545.9 L330.5,545.7 L331.5,545.6 L332.5,545.4 L333.5,545.3 L334.5,545.1 L335.5,545.0 L336.5,544.8 L337.5,544.6 L338.5,544.4 L339.5,544.3 L340.5,544.1 L341.5,543.9 L342.5,543.7 L343.5,543.5 L344.5,543.3 L345.5,543.1 L346.5,542.9 L347.5,542.7 L348.5,542.5 L349.5,542.2 L350.5,542.0 L351.5,541.8 L352.5,541.6 L353.5,541.3 L354.5,541.1 L355.5,540.8 L356.5,540.6 L357.5,540.4 L358.5,540.1 L359.5,539.8 L360.5,539.6 L361.5,539.3 L362.5,539.1 L363.5,538.8 L364.5,538.5 L365.5,538.3 L366.5,538.0 L367.5,537.7 L368.5,537.4 L369.5,537.2 L370.5,536.9 L371.5,536.6 L372.5,536.3 L373.5,536.0 L374.5,535.7 L375.5,535.4 L376.5,535.2 L377.5,534.9 L378.5,534.6 L379.5,534.3 L380.5,534.0 L381.5,533.7 L382.5,533.4 L383.5,533.1 L384.5,532.8 L385.5,532.5 L386.5,532.2 L387.5,531.9 L388.5,531.6 L389.5,531.4 L390.5,531.1 L391.5,530.8 L392.5,530.5 L393.5,530.2 L394.5,529.9 L395.5,529.6 L396.5,529.3 L397.5,529.1 L398.5,528.8 L399.5,528.5 L400.5,528.2 L401.5,528.0 L402.5,527.7 L403.5,527.4 L404.5,527.2 L405.5,526.9 L406.5,526.6 L407.5,526.4 L408.5,526.1 L409.5,525.9 L410.5,525.6 L411.5,525.4 L412.5,525.2 L413.5,524.9 L414.5,524.7 L415.5,524.5 L416.5,524.2 L417.5,524.0 L418.5,523.8 L419.5,523.6 L420.5,523.4 L421.5,523.2 L422.5,523.0 L423.5,522.8 L424.5,522.6 L425.5,522.4 L426.5,522.2 L427.5,522.0 L428.5,521.8 L429.5,521.7 L430.5,521.5 L431.5,521.3 L432.5,521.1 L433.5,521.0 L434.5,520.8 L435.5,520.7 L436.5,520.5 L437.5,520.4 L438.5,520.2 L439.5,520.1 L440.5,520.0 L441.5,519.8 L442.5,519.7 L443.5,519.6 L444.5,519.5 L445.5,519.4 L446.5,519.3 L447.5,519.1 L448.5,519.0 L449.5,518.9 L450.5,518.8 L451.5,518.7 L452.5,518.7 L453.5,518.6 L454.5,518.5 L455.5,518.4 L456.5,518.3 L457.5,518.2 L458.5,518.2 L459.5,518.1 L460.5,518.0 L461.5,518.0 L462.5,517.9 L463.5,517.8 L464.5,517.8 L465.5,517.7 L466.5,517.7 L467.5,517.6 L468.5,517.5 L469.5,517.5 L470.5,517.5 L471.5,517.4 L472.5,517.4 L473.5,517.3 L474.5,517.3 L475.5,517.2 L476.5,517.2 L477.5,517.2 L478.5,517.1 L479.5,517.1 L480.5,517.1 L481.5,517.1 L482.5,517.0 L483.5,517.0 L484.5,517.0 L485.5,517.0 L486.5,516.9 L487.5,516.9 L488.5,516.9 L489.5,516.9 L490.5,516.8 L491.5,516.8 L492.5,516.8 L493.5,516.8 L494.5,516.8 L495.5,516.8 L496.5,516.8 L497.5,516.7 L498.5,516.7 L499.5,516.7 L500.5,516.7 L501.5,516.7 L502.5,516.7 L503.5,516.7 L504.5,516.7 L505.5,516.6 L506.5,516.6 L507.5,516.6 L508.5,516.6 L509.5,516.6 L510.5,516.6 L511.5,516.6 L512.5,516.6 L513.5,516.6 L514.5,516.6 L515.5,516.5 L516.5,516.5 L517.5,516.5 L518.5,516.5 L519.5,516.5 L520.5,516.5 L521.5,516.5 L522.5,516.4 L523.5,516.4 L524.5,516.4 L525.5,516.4 L526.5,516.4 L527.5,516.3 L528.5,516.3 L529.5,516.3 L530.5,516.3 L531.5,516.2 L532.5,516.2 L533.5,516.2 L534.5,516.1 L535.5,516.1 L536.5,516.0 L537.5,516.0 L538.5,515.9 L539.5,515.9 L540.5,515.8 L541.5,515.7 L542.5,515.7 L543.5,515.6 L544.5,515.5 L545.5,515.4 L546.5,515.3 L547.5,515.3 L548.5,515.2 L549.5,515.0 L550.5,514.9 L551.5,514.8 L552.5,514.7 L553.5,514.6 L554.5,514.4 L555.5,514.3 L556.5,514.1 L557.5,513.9 L558.5,513.8 L559.5,513.6 L560.5,513.4 L561.5,513.2 L562.5,513.0 L563.5,512.8 L564.5,512.5 L565.5,512.3 L566.5,512.0 L567.5,511.8 L568.5,511.5 L569.5,511.2 L570.5,511.0 L571.5,510.7 L572.5,510.3 L573.5,510.0 L574.5,509.7 L575.5,509.4 L576.5,509.0 L577.5,508.7 L578.5,508.3 L579.5,507.9 L580.5,507.5 L581.5,507.1 L582.5,506.7 L583.5,506.3 L584.5,505.9 L585.5,505.5 L586.5,505.0 L587.5,504.6 L588.5,504.1 L589.5,503.7 L590.5,503.2 L591.5,502.7 L592.5,502.3 L593.5,501.8 L594.5,501.3 L595.5,500.8 L596.5,500.3 L597.5,499.8 L598.5,499.4 L599.5,498.9 L600.5,498.4 L601.5,497.9 L602.5,497.4 L603.5,496.9 L604.5,496.4 L605.5,495.9 L606.5,495.4 L607.5,494.9 L608.5,494.5 L609.5,494.0 L610.5,493.5 L611.5,493.1 L612.5,492.6 L613.5,492.1 L614.5,491.7 L615.5,491.3 L616.5,490.8 L617.5,490.4 L618.5,490.0 L619.5,489.6 L620.5,489.2 L621.5,488.8 L622.5,488.4 L623.5,488.0 L624.5,487.7 L625.5,487.3 L626.5,487.0 L627.5,486.7 L628.5,486.3 L629.5,486.0 L630.5,485.7 L631.5,485.4 L632.5,485.2 L633.5,484.9 L634.5,484.6 L635.5,484.4 L636.5,484.1 L637.5,483.9 L638.5,483.7 L639.5,483.5 L640.5,483.3 L641.5,483.1 L642.5,482.9 L643.5,482.7 L644.5,482.5 L645.5,482.4 L646.5,482.2 L647.5,482.1 L648.5,482.0 L649.5,481.8 L650.5,481.7 L651.5,481.6 L652.5,481.5 L653.5,481.4 L654.5,481.3 L655.5,481.2 L656.5,481.1 L657.5,481.0 L658.5,481.0 L659.5,480.9 L660.5,480.8 L661.5,480.8 L662.5,480.7 L663.5,480.6 L664.5,480.6 L665.5,480.6 L666.5,480.5 L667.5,480.5 L668.5,480.4 L669.5,480.4 L670.5,480.4 L671.5,480.3 L672.5,480.3 L673.5,480.3 L674.5,480.3 L675.5,480.2 L676.5,480.2 L677.5,480.2 L678.5,480.2 L679.5,480.2 L680.5,480.2 L681.5,480.2 L682.5,480.1 L683.5,480.1 L684.5,480.1 L685.5,480.1 L686.5,480.1 L687.5,480.1 L688.5,480.1 L689.5,480.1 L690.5,480.1 L691.5,480.1 L692.5,480.1 L693.5,480.1 L694.5,480.1 L695.5,480.1 L696.5,480.1 L697.5,480.1 L698.5,480.1 L699.5,480.1 L700.5,480.0 L701.5,480.0 L702.5,480.0 L703.5,480.0 L704.5,480.0 L705.5,480.0 L706.5,480.0 L707.5,480.0 L708.5,480.0 L709.5,480.0 L710.5,480.0 L711.5,480.0 L712.5,480.0 L713.5,480.0 L714.5,480.0 L715.5,479.9 L716.5,479.9 L717.5,479.9 L718.5,479.9 L719.5,479.8 L720.5,479.8 L721.5,479.7 L722.5,479.6 L723.5,479.6 L724.5,479.5 L725.5,479.4 L726.5,479.2 L727.5,479.1 L728.5,478.9 L729.5,478.7 L729.75,478.6 L730,478.5 L730.25,478.5 L730.5,478.4 L730.75,478.3 L731,478.2 L731.25,478.1 L731.5,478.1 L731.75,478.0 L732,477.9 L732.25,477.8 L732.5,477.7 L732.75,477.5 L733,477.4 L733.25,477.3 L733.5,477.2 L733.75,477.1 L734,476.9 L734.25,476.8 L734.5,476.6 L734.75,476.5 L735,476.3 L735.25,476.1 L735.5,476.0 L735.75,475.8 L736,475.6 L736.25,475.4 L736.5,475.1 L736.75,474.9 L737,474.7 L737.25,474.4 L737.5,474.2 L737.75,473.9 L738,473.6 L738.25,473.3 L738.5,473.0 L738.75,472.7 L739,472.4 L739.25,472.0 L739.5,471.6 L739.75,471.2 L740,470.8 L740.25,470.4 L740.5,470.0 L740.75,469.5 L741,469.0 L741.25,468.5 L741.5,468.0 L741.75,467.4 L742,466.9 L742.25,466.3 L742.5,465.6 L742.75,465.0 L743,464.3 L743.25,463.5 L743.5,462.8 L743.75,462.0 L744,461.1 L744.25,460.3 L744.5,459.4 L744.75,458.4 L745,457.4 L745.25,456.4 L745.5,455.3 L745.75,454.1 L746,452.9 L746.25,451.7 L746.5,450.4 L746.75,449.0 L747,447.6 L747.25,446.1 L747.5,444.5 L747.75,442.9 L748,441.2 L748.25,439.4 L748.5,437.5 L748.75,435.6 L749,433.5 L749.25,431.4 L749.5,429.1 L749.75,426.8 L750,424.3 L750.25,421.8 L750.5,419.1 L750.75,416.3 L751,413.3 L751.25,410.3 L751.5,407.0 L751.75,403.7 L752,400.2 L752.25,396.5 L752.5,392.6 L752.75,388.6 L753,384.4 L753.25,380.0 L753.5,375.3 L753.75,370.5 L754,365.5 L754.25,360.2 L754.5,360 M241.5,549.5 L242.5,549.5 L243.5,549.5 L244.5,549.5 L245.5,549.5 L246.5,549.5 L247.5,549.5 L248.5,549.5 L249.5,549.5 L250.5,549.5 L251.5,549.5 L252.5,549.5 L253.5,549.5 L254.5,549.5 L255.5,549.5 L256.5,549.5 L257.5,549.5 L258.5,549.5 L259.5,549.5 L260.5,549.4 L261.5,549.4 L262.5,549.4 L263.5,549.4 L264.5,549.4 L265.5,549.4 L266.5,549.4 L267.5,549.4 L268.5,549.4 L269.5,549.4 L270.5,549.4 L271.5,549.4 L272.5,549.4 L273.5,549.4 L274.5,549.3 L275.5,549.3 L276.5,549.3 L277.5,549.3 L278.5,549.3 L279.5,549.3 L280.5,549.3 L281.5,549.2 L282.5,549.2 L283.5,549.2 L284.5,549.2 L285.5,549.2 L286.5,549.1 L287.5,549.1 L288.5,549.1 L289.5,549.1 L290.5,549.0 L291.5,549.0 L292.5,549.0 L293.5,549.0 L294.5,548.9 L295.5,548.9 L296.5,548.9 L297.5,548.8 L298.5,548.8 L299.5,548.7 L300.5,548.7 L301.5,548.6 L302.5,548.6 L303.5,548.5 L304.5,548.5 L305.5,548.4 L306.5,548.4 L307.5,548.3 L308.5,548.3 L309.5,548.2 L310.5,548.1 L311.5,548.1 L312.5,548.0 L313.5,547.9 L314.5,547.8 L315.5,547.8 L316.5,547.7 L317.5,547.6 L318.5,547.5 L319.5,547.4 L320.5,547.3 L321.5,547.2 L322.5,547.1 L323.5,547.0 L324.5,546.9 L325.5,546.8 L326.5,546.7 L327.5,546.6 L328.5,546.5 L329.5,546.3 L330.5,546.2 L331.5,546.1 L332.5,545.9 L333.5,545.8 L334.5,545.6 L335.5,545.5 L336.5,545.3 L337.5,545.2 L338.5,545.0 L339.5,544.9 L340.5,544.7 L341.5,544.5 L342.5,544.4 L343.5,544.2 L344.5,544.0 L345.5,543.8 L346.5,543.6 L347.5,543.4 L348.5,543.2 L349.5,543.0 L350.5,542.8 L351.5,542.6 L352.5,542.4 L353.5,542.2 L354.5,542.0 L355.5,541.7 L356.5,541.5 L357.5,541.3 L358.5,541.0 L359.5,540.8 L360.5,540.6 L361.5,540.3 L362.5,540.1 L363.5,539.8 L364.5,539.6 L365.5,539.3 L366.5,539.1 L367.5,538.8 L368.5,538.5 L369.5,538.3 L370.5,538.0 L371.5,537.7 L372.5,537.5 L373.5,537.2 L374.5,536.9 L375.5,536.6 L376.5,536.4 L377.5,536.1 L378.5,535.8 L379.5,535.5 L380.5,535.2 L381.5,534.9 L382.5,534.7 L383.5,534.4 L384.5,534.1 L385.5,533.8 L386.5,533.5 L387.5,533.2 L388.5,532.9 L389.5,532.6 L390.5,532.3 L391.5,532.1 L392.5,531.8 L393.5,531.5 L394.5,531.2 L395.5,530.9 L396.5,530.6 L397.5,530.4 L398.5,530.1 L399.5,529.8 L400.5,529.5 L401.5,529.2 L402.5,529.0 L403.5,528.7 L404.5,528.4 L405.5,528.2 L406.5,527.9 L407.5,527.6 L408.5,527.4 L409.5,527.1 L410.5,526.9 L411.5,526.6 L412.5,526.4 L413.5,526.1 L414.5,525.9 L415.5,525.6 L416.5,525.4 L417.5,525.2 L418.5,524.9 L419.5,524.7 L420.5,524.5 L421.5,524.3 L422.5,524.0 L423.5,523.8 L424.5,523.6 L425.5,523.4 L426.5,523.2 L427.5,523.0 L428.5,522.8 L429.5,522.6 L430.5,522.4 L431.5,522.3 L432.5,522.1 L433.5,521.9 L434.5,521.7 L435.5,521.6 L436.5,521.4 L437.5,521.2 L438.5,521.1 L439.5,520.9 L440.5,520.8 L441.5,520.6 L442.5,520.5 L443.5,520.3 L444.5,520.2 L445.5,520.1 L446.5,520.0 L447.5,519.8 L448.5,519.7 L449.5,519.6 L450.5,519.5 L451.5,519.4 L452.5,519.3 L453.5,519.2 L454.5,519.1 L455.5,519.0 L456.5,518.9 L457.5,518.8 L458.5,518.7 L459.5,518.6 L460.5,518.5 L461.5,518.4 L462.5,518.4 L463.5,518.3 L464.5,518.2 L465.5,518.2 L466.5,518.1 L467.5,518.0 L468.5,518.0 L469.5,517.9 L470.5,517.8 L471.5,517.8 L472.5,517.7 L473.5,517.7 L474.5,517.6 L475.5,517.6 L476.5,517.5 L477.5,517.5 L478.5,517.5 L479.5,517.4 L480.5,517.4 L481.5,517.3 L482.5,517.3 L483.5,517.3 L484.5,517.2 L485.5,517.2 L486.5,517.2 L487.5,517.2 L488.5,517.1 L489.5,517.1 L490.5,517.1 L491.5,517.1 L492.5,517.0 L493.5,517.0 L494.5,517.0 L495.5,517.0 L496.5,517.0 L497.5,516.9 L498.5,516.9 L499.5,516.9 L500.5,516.9 L501.5,516.9 L502.5,516.9 L503.5,516.9 L504.5,516.8 L505.5,516.8 L506.5,516.8 L507.5,516.8 L508.5,516.8 L509.5,516.8 L510.5,516.8 L511.5,516.8 L512.5,516.8 L513.5,516.8 L514.5,516.7 L515.5,516.7 L516.5,516.7 L517.5,516.7 L518.5,516.7 L519.5,516.7 L520.5,516.7 L521.5,516.7 L522.5,516.7 L523.5,516.7 L524.5,516.7 L525.5,516.6 L526.5,516.6 L527.5,516.6 L528.5,516.6 L529.5,516.6 L530.5,516.6 L531.5,516.6 L532.5,516.5 L533.5,516.5 L534.5,516.5 L535.5,516.5 L536.5,516.5 L537.5,516.4 L538.5,516.4 L539.5,516.4 L540.5,516.4 L541.5,516.3 L542.5,516.3 L543.5,516.3 L544.5,516.2 L545.5,516.2 L546.5,516.1 L547.5,516.1 L548.5,516.0 L549.5,516.0 L550.5,515.9 L551.5,515.9 L552.5,515.8 L553.5,515.7 L554.5,515.6 L555.5,515.6 L556.5,515.5 L557.5,515.4 L558.5,515.3 L559.5,515.2 L560.5,515.1 L561.5,515.0 L562.5,514.8 L563.5,514.7 L564.5,514.6 L565.5,514.4 L566.5,514.3 L567.5,514.1 L568.5,513.9 L569.5,513.8 L570.5,513.6 L571.5,513.4 L572.5,513.2 L573.5,513.0 L574.5,512.8 L575.5,512.5 L576.5,512.3 L577.5,512.0 L578.5,511.8 L579.5,511.5 L580.5,511.2 L581.5,511.0 L582.5,510.7 L583.5,510.4 L584.5,510.0 L585.5,509.7 L586.5,509.4 L587.5,509.0 L588.5,508.7 L589.5,508.3 L590.5,507.9 L591.5,507.6 L592.5,507.2 L593.5,506.8 L594.5,506.4 L595.5,506.0 L596.5,505.5 L597.5,505.1 L598.5,504.7 L599.5,504.2 L600.5,503.8 L601.5,503.3 L602.5,502.9 L603.5,502.4 L604.5,501.9 L605.5,501.5 L606.5,501.0 L607.5,500.5 L608.5,500.0 L609.5,499.6 L610.5,499.1 L611.5,498.6 L612.5,498.1 L613.5,497.6 L614.5,497.2 L615.5,496.7 L616.5,496.2 L617.5,495.7 L618.5,495.3 L619.5,494.8 L620.5,494.3 L621.5,493.9 L622.5,493.4 L623.5,493.0 L624.5,492.5 L625.5,492.1 L626.5,491.7 L627.5,491.2 L628.5,490.8 L629.5,490.4 L630.5,490.0 L631.5,489.6 L632.5,489.2 L633.5,488.9 L634.5,488.5 L635.5,488.2 L636.5,487.8 L637.5,487.5 L638.5,487.1 L639.5,486.8 L640.5,486.5 L641.5,486.2 L642.5,485.9 L643.5,485.7 L644.5,485.4 L645.5,485.1 L646.5,484.9 L647.5,484.6 L648.5,484.4 L649.5,484.2 L650.5,484.0 L651.5,483.8 L652.5,483.6 L653.5,483.4 L654.5,483.2 L655.5,483.1 L656.5,482.9 L657.5,482.7 L658.5,482.6 L659.5,482.5 L660.5,482.3 L661.5,482.2 L662.5,482.1 L663.5,482.0 L664.5,481.9 L665.5,481.8 L666.5,481.7 L667.5,481.6 L668.5,481.5 L669.5,481.4 L670.5,481.4 L671.5,481.3 L672.5,481.2 L673.5,481.2 L674.5,481.1 L675.5,481.1 L676.5,481.0 L677.5,481.0 L678.5,480.9 L679.5,480.9 L680.5,480.9 L681.5,480.8 L682.5,480.8 L683.5,480.8 L684.5,480.7 L685.5,480.7 L686.5,480.7 L687.5,480.7 L688.5,480.7 L689.5,480.6 L690.5,480.6 L691.5,480.6 L692.5,480.6 L693.5,480.6 L694.5,480.6 L695.5,480.6 L696.5,480.6 L697.5,480.5 L698.5,480.5 L699.5,480.5 L700.5,480.5 L701.5,480.5 L702.5,480.5 L703.5,480.5 L704.5,480.5 L705.5,480.5 L706.5,480.5 L707.5,480.5 L708.5,480.5 L709.5,480.5 L710.5,480.4 L711.5,480.4 L712.5,480.4 L713.5,480.4 L714.5,480.4 L715.5,480.4 L716.5,480.3 L717.5,480.3 L718.5,480.3 L719.5,480.2 L720.5,480.2 L721.5,480.1 L722.5,480.1 L723.5,480.0 L724.5,479.9 L725.5,479.8 L726.5,479.6 L727.5,479.5 L728.5,479.3 L729.5,479.0 L729.75,479.0 L730,478.9 L730.25,478.8 L730.5,478.8 L730.75,478.7 L731,478.6 L731.25,478.5 L731.5,478.4 L731.75,478.3 L732,478.2 L732.25,478.1 L732.5,478.0 L732.75,477.9 L733,477.8 L733.25,477.7 L733.5,477.5 L733.75,477.4 L734,477.3 L734.25,477.1 L734.5,476.9 L734.75,476.8 L735,476.6 L735.25,476.4 L735.5,476.3 L735.75,476.1 L736,475.9 L736.25,475.6 L736.5,475.4 L736.75,475.2 L737,474.9 L737.25,474.7 L737.5,474.4 L737.75,474.2 L738,473.9 L738.25,473.6 L738.5,473.2 L738.75,472.9 L739,472.6 L739.25,472.2 L739.5,471.8 L739.75,471.4 L740,471.0 L740.25,470.6 L740.5,470.1 L740.75,469.6 L741,469.1 L741.25,468.6 L741.5,468.1 L741.75,467.5 L742,466.9 L742.25,466.3 L742.5,465.6 L742.75,464.9 L743,464.2 L743.25,463.5 L743.5,462.7 L743.75,461.9 L744,461.0 L744.25,460.1 L744.5,459.2 L744.75,458.2 L745,457.2 L745.25,456.1 L745.5,455.0 L745.75,453.8 L746,452.6 L746.25,451.3 L746.5,450.0 L746.75,448.6 L747,447.1 L747.25,445.6 L747.5,444.0 L747.75,442.3 L748,440.5 L748.25,438.7 L748.5,436.7 L748.75,434.7 L749,432.6 L749.25,430.4 L749.5,428.1 L749.75,425.7 L750,423.2 L750.25,420.6 L750.5,417.8 L750.75,414.9 L751,411.9 L751.25,408.7 L751.5,405.4 L751.75,402.0 L752,398.4 L752.25,394.6 L752.5,390.6 L752.75,386.5 L753,382.1 L753.25,377.6 L753.5,372.9 L753.75,367.9 L754,362.7 L754.25,360 M241.5,549.5 L242.5,549.5 L243.5,549.5 L244.5,549.5 L245.5,549.5 L246.5,549.5 L247.5,549.5 L248.5,549.5 L249.5,549.5 L250.5,549.5 L251.5,549.5 L252.5,549.5 L253.5,549.5 L254.5,549.5 L255.5,549.5 L256.5,549.5 L257.5,549.5 L258.5,549.5 L259.5,549.5 L260.5,549.5 L261.5,549.5 L262.5,549.4 L263.5,549.4 L264.5,549.4 L265.5,549.4 L266.5,549.4 L267.5,549.4 L268.5,549.4 L269.5,549.4 L270.5,549.4 L271.5,549.4 L272.5,549.4 L273.5,549.4 L274.5,549.4 L275.5,549.4 L276.5,549.3 L277.5,549.3 L278.5,549.3 L279.5,549.3 L280.5,549.3 L281.5,549.3 L282.5,549.3 L283.5,549.3 L284.5,549.2 L285.5,549.2 L286.5,549.2 L287.5,549.2 L288.5,549.2 L289.5,549.1 L290.5,549.1 L291.5,549.1 L292.5,549.1 L293.5,549.0 L294.5,549.0 L295.5,549.0 L296.5,548.9 L297.5,548.9 L298.5,548.9 L299.5,548.8 L300.5,548.8 L301.5,548.8 L302.5,548.7 L303.5,548.7 L304.5,548.6 L305.5,548.6 L306.5,548.5 L307.5,548.5 L308.5,548.4 L309.5,548.4 L310.5,548.3 L311.5,548.3 L312.5,548.2 L313.5,548.1 L314.5,548.1 L315.5,548.0 L316.5,547.9 L317.5,547.9 L318.5,547.8 L319.5,547.7 L320.5,547.6 L321.5,547.5 L322.5,547.4 L323.5,547.3 L324.5,547.2 L325.5,547.1 L326.5,547.0 L327.5,546.9 L328.5,546.8 L329.5,546.7 L330.5,546.6 L331.5,546.5 L332.5,546.4 L333.5,546.2 L334.5,546.1 L335.5,546.0 L336.5,545.8 L337.5,545.7 L338.5,545.6 L339.5,545.4 L340.5,545.3 L341.5,545.1 L342.5,544.9 L343.5,544.8 L344.5,544.6 L345.5,544.4 L346.5,544.3 L347.5,544.1 L348.5,543.9 L349.5,543.7 L350.5,543.5 L351.5,543.3 L352.5,543.2 L353.5,543.0 L354.5,542.7 L355.5,542.5 L356.5,542.3 L357.5,542.1 L358.5,541.9 L359.5,541.7 L360.5,541.5 L361.5,541.2 L362.5,541.0 L363.5,540.8 L364.5,540.5 L365.5,540.3 L366.5,540.0 L367.5,539.8 L368.5,539.5 L369.5,539.3 L370.5,539.0 L371.5,538.8 L372.5,538.5 L373.5,538.3 L374.5,538.0 L375.5,537.7 L376.5,537.5 L377.5,537.2 L378.5,536.9 L379.5,536.7 L380.5,536.4 L381.5,536.1 L382.5,535.8 L383.5,535.5 L384.5,535.3 L385.5,535.0 L386.5,534.7 L387.5,534.4 L388.5,534.1 L389.5,533.9 L390.5,533.6 L391.5,533.3 L392.5,533.0 L393.5,532.7 L394.5,532.4 L395.5,532.2 L396.5,531.9 L397.5,531.6 L398.5,531.3 L399.5,531.0 L400.5,530.8 L401.5,530.5 L402.5,530.2 L403.5,529.9 L404.5,529.7 L405.5,529.4 L406.5,529.1 L407.5,528.9 L408.5,528.6 L409.5,528.3 L410.5,528.1 L411.5,527.8 L412.5,527.5 L413.5,527.3 L414.5,527.0 L415.5,526.8 L416.5,526.5 L417.5,526.3 L418.5,526.1 L419.5,525.8 L420.5,525.6 L421.5,525.4 L422.5,525.1 L423.5,524.9 L424.5,524.7 L425.5,524.5 L426.5,524.3 L427.5,524.0 L428.5,523.8 L429.5,523.6 L430.5,523.4 L431.5,523.2 L432.5,523.0 L433.5,522.8 L434.5,522.7 L435.5,522.5 L436.5,522.3 L437.5,522.1 L438.5,522.0 L439.5,521.8 L440.5,521.6 L441.5,521.5 L442.5,521.3 L443.5,521.2 L444.5,521.0 L445.5,520.9 L446.5,520.7 L447.5,520.6 L448.5,520.4 L449.5,520.3 L450.5,520.2 L451.5,520.1 L452.5,519.9 L453.5,519.8 L454.5,519.7 L455.5,519.6 L456.5,519.5 L457.5,519.4 L458.5,519.3 L459.5,519.2 L460.5,519.1 L461.5,519.0 L462.5,518.9 L463.5,518.8 L464.5,518.7 L465.5,518.6 L466.5,518.6 L467.5,518.5 L468.5,518.4 L469.5,518.3 L470.5,518.3 L471.5,518.2 L472.5,518.1 L473.5,518.1 L474.5,518.0 L475.5,518.0 L476.5,517.9 L477.5,517.9 L478.5,517.8 L479.5,517.8 L480.5,517.7 L481.5,517.7 L482.5,517.6 L483.5,517.6 L484.5,517.6 L485.5,517.5 L486.5,517.5 L487.5,517.4 L488.5,517.4 L489.5,517.4 L490.5,517.3 L491.5,517.3 L492.5,517.3 L493.5,517.3 L494.5,517.2 L495.5,517.2 L496.5,517.2 L497.5,517.2 L498.5,517.1 L499.5,517.1 L500.5,517.1 L501.5,517.1 L502.5,517.1 L503.5,517.1 L504.5,517.0 L505.5,517.0 L506.5,517.0 L507.5,517.0 L508.5,517.0 L509.5,517.0 L510.5,517.0 L511.5,517.0 L512.5,516.9 L513.5,516.9 L514.5,516.9 L515.5,516.9 L516.5,516.9 L517.5,516.9 L518.5,516.9 L519.5,516.9 L520.5,516.9 L521.5,516.9 L522.5,516.9 L523.5,516.8 L524.5,516.8 L525.5,516.8 L526.5,516.8 L527.5,516.8 L528.5,516.8 L529.5,516.8 L530.5,516.8 L531.5,516.8 L532.5,516.8 L533.5,516.8 L534.5,516.8 L535.5,516.7 L536.5,516.7 L537.5,516.7 L538.5,516.7 L539.5,516.7 L540.5,516.7 L541.5,516.7 L542.5,516.7 L543.5,516.6 L544.5,516.6 L545.5,516.6 L546.5,516.6 L547.5,516.6 L548.5,516.5 L549.5,516.5 L550.5,516.5 L551.5,516.4 L552.5,516.4 L553.5,516.4 L554.5,516.3 L555.5,516.3 L556.5,516.2 L557.5,516.2 L558.5,516.2 L559.5,516.1 L560.5,516.0 L561.5,516.0 L562.5,515.9 L563.5,515.8 L564.5,515.8 L565.5,515.7 L566.5,515.6 L567.5,515.5 L568.5,515.4 L569.5,515.3 L570.5,515.2 L571.5,515.1 L572.5,515.0 L573.5,514.8 L574.5,514.7 L575.5,514.6 L576.5,514.4 L577.5,514.3 L578.5,514.1 L579.5,513.9 L580.5,513.8 L581.5,513.6 L582.5,513.4 L583.5,513.2 L584.5,513.0 L585.5,512.7 L586.5,512.5 L587.5,512.3 L588.5,512.0 L589.5,511.8 L590.5,511.5 L591.5,511.2 L592.5,510.9 L593.5,510.6 L594.5,510.3 L595.5,510.0 L596.5,509.7 L597.5,509.4 L598.5,509.0 L599.5,508.7 L600.5,508.3 L601.5,507.9 L602.5,507.6 L603.5,507.2 L604.5,506.8 L605.5,506.4 L606.5,506.0 L607.5,505.6 L608.5,505.1 L609.5,504.7 L610.5,504.3 L611.5,503.8 L612.5,503.4 L613.5,503.0 L614.5,502.5 L615.5,502.0 L616.5,501.6 L617.5,501.1 L618.5,500.7 L619.5,500.2 L620.5,499.7 L621.5,499.2 L622.5,498.8 L623.5,498.3 L624.5,497.8 L625.5,497.4 L626.5,496.9 L627.5,496.4 L628.5,496.0 L629.5,495.5 L630.5,495.1 L631.5,494.6 L632.5,494.2 L633.5,493.7 L634.5,493.3 L635.5,492.8 L636.5,492.4 L637.5,492.0 L638.5,491.6 L639.5,491.2 L640.5,490.8 L641.5,490.4 L642.5,490.0 L643.5,489.6 L644.5,489.3 L645.5,488.9 L646.5,488.6 L647.5,488.2 L648.5,487.9 L649.5,487.6 L650.5,487.3 L651.5,487.0 L652.5,486.7 L653.5,486.4 L654.5,486.1 L655.5,485.9 L656.5,485.6 L657.5,485.4 L658.5,485.1 L659.5,484.9 L660.5,484.7 L661.5,484.5 L662.5,484.3 L663.5,484.1 L664.5,483.9 L665.5,483.7 L666.5,483.5 L667.5,483.4 L668.5,483.2 L669.5,483.1 L670.5,482.9 L671.5,482.8 L672.5,482.7 L673.5,482.6 L674.5,482.5 L675.5,482.3 L676.5,482.2 L677.5,482.2 L678.5,482.1 L679.5,482.0 L680.5,481.9 L681.5,481.8 L682.5,481.8 L683.5,481.7 L684.5,481.6 L685.5,481.6 L686.5,481.5 L687.5,481.5 L688.5,481.4 L689.5,481.4 L690.5,481.3 L691.5,481.3 L692.5,481.3 L693.5,481.2 L694.5,481.2 L695.5,481.2 L696.5,481.2 L697.5,481.1 L698.5,481.1 L699.5,481.1 L700.5,481.1 L701.5,481.1 L702.5,481.0 L703.5,481.0 L704.5,481.0 L705.5,481.0 L706.5,481.0 L707.5,481.0 L708.5,480.9 L709.5,480.9 L710.5,480.9 L711.5,480.9 L712.5,480.9 L713.5,480.9 L714.5,480.8 L715.5,480.8 L716.5,480.8 L717.5,480.8 L718.5,480.7 L719.5,480.7 L720.5,480.6 L721.5,480.6 L722.5,480.5 L723.5,480.4 L724.5,480.3 L725.5,480.2 L726.5,480.0 L727.5,479.9 L728.5,479.7 L729.5,479.4 L729.75,479.4 L730,479.3 L730.25,479.2 L730.5,479.1 L730.75,479.0 L731,479.0 L731.25,478.9 L731.5,478.8 L731.75,478.7 L732,478.6 L732.25,478.5 L732.5,478.4 L732.75,478.2 L733,478.1 L733.25,478.0 L733.5,477.9 L733.75,477.7 L734,477.6 L734.25,477.4 L734.5,477.3 L734.75,477.1 L735,476.9 L735.25,476.7 L735.5,476.6 L735.75,476.4 L736,476.1 L736.25,475.9 L736.5,475.7 L736.75,475.5 L737,475.2 L737.25,474.9 L737.5,474.7 L737.75,474.4 L738,474.1 L738.25,473.8 L738.5,473.5 L738.75,473.1 L739,472.8 L739.25,472.4 L739.5,472.0 L739.75,471.6 L740,471.1 L740.25,470.7 L740.5,470.2 L740.75,469.7 L741,469.2 L741.25,468.7 L741.5,468.1 L741.75,467.5 L742,466.9 L742.25,466.3 L742.5,465.6 L742.75,464.9 L743,464.2 L743.25,463.4 L743.5,462.6 L743.75,461.8 L744,460.9 L744.25,460.0 L744.5,459.0 L744.75,458.0 L745,457.0 L745.25,455.9 L745.5,454.7 L745.75,453.5 L746,452.2 L746.25,450.9 L746.5,449.5 L746.75,448.1 L747,446.6 L747.25,445.0 L747.5,443.4 L747.75,441.6 L748,439.8 L748.25,438.0 L748.5,436.0 L748.75,433.9 L749,431.8 L749.25,429.5 L749.5,427.1 L749.75,424.7 L750,422.1 L750.25,419.4 L750.5,416.5 L750.75,413.6 L751,410.5 L751.25,407.2 L751.5,403.8 L751.75,400.3 L752,396.6 L752.25,392.7 L752.5,388.7 L752.75,384.4 L753,380.0 L753.25,375.3 L753.5,370.5 L753.75,365.4 L754,360.1 L754.25,360 M241.5,549.5 L242.5,549.5 L243.5,549.5 L244.5,549.5 L245.5,549.5 L246.5,549.5 L247.5,549.5 L248.5,549.5 L249.5,549.5 L250.5,549.5 L251.5,549.5 L252.5,549.5 L253.5,549.5 L254.5,549.5 L255.5,549.5 L256.5,549.5 L257.5,549.5 L258.5,549.5 L259.5,549.5 L260.5,549.5 L261.5,549.5 L262.5,549.5 L263.5,549.5 L264.5,549.4 L265.5,549.4 L266.5,549.4 L267.5,549.4 L268.5,549.4 L269.5,549.4 L270.5,549.4 L271.5,549.4 L272.5,549.4 L273.5,549.4 L274.5,549.4 L275.5,549.4 L276.5,549.4 L277.5,549.4 L278.5,549.4 L279.5,549.3 L280.5,549.3 L281.5,549.3 L282.5,549.3 L283.5,549.3 L284.5,549.3 L285.5,549.3 L286.5,549.2 L287.5,549.2 L288.5,549.2 L289.5,549.2 L290.5,549.2 L291.5,549.1 L292.5,549.1 L293.5,549.1 L294.5,549.1 L295.5,549.1 L296.5,549.0 L297.5,549.0 L298.5,549.0 L299.5,548.9 L300.5,548.9 L301.5,548.9 L302.5,548.8 L303.5,548.8 L304.5,548.8 L305.5,548.7 L306.5,548.7 L307.5,548.6 L308.5,548.6 L309.5,548.5 L310.5,548.5 L311.5,548.4 L312.5,548.4 L313.5,548.3 L314.5,548.3 L315.5,548.2 L316.5,548.1 L317.5,548.1 L318.5,548.0 L319.5,547.9 L320.5,547.9 L321.5,547.8 L322.5,547.7 L323.5,547.6 L324.5,547.5 L325.5,547.4 L326.5,547.4 L327.5,547.3 L328.5,547.2 L329.5,547.1 L330.5,547.0 L331.5,546.9 L332.5,546.7 L333.5,546.6 L334.5,546.5 L335.5,546.4 L336.5,546.3 L337.5,546.1 L338.5,546.0 L339.5,545.9 L340.5,545.7 L341.5,545.6 L342.5,545.5 L343.5,545.3 L344.5,545.2 L345.5,545.0 L346.5,544.9 L347.5,544.7 L348.5,544.5 L349.5,544.4 L350.5,544.2 L351.5,544.0 L352.5,543.8 L353.5,543.6 L354.5,543.5 L355.5,543.3 L356.5,543.1 L357.5,542.9 L358.5,542.7 L359.5,542.5 L360.5,542.3 L361.5,542.0 L362.5,541.8 L363.5,541.6 L364.5,541.4 L365.5,541.2 L366.5,540.9 L367.5,540.7 L368.5,540.5 L369.5,540.2 L370.5,540.0 L371.5,539.8 L372.5,539.5 L373.5,539.3 L374.5,539.0 L375.5,538.8 L376.5,538.5 L377.5,538.2 L378.5,538.0 L379.5,537.7 L380.5,537.5 L381.5,537.2 L382.5,536.9 L383.5,536.7 L384.5,536.4 L385.5,536.1 L386.5,535.9 L387.5,535.6 L388.5,535.3 L389.5,535.0 L390.5,534.8 L391.5,534.5 L392.5,534.2 L393.5,533.9 L394.5,533.6 L395.5,533.4 L396.5,533.1 L397.5,532.8 L398.5,532.5 L399.5,532.3 L400.5,532.0 L401.5,531.7 L402.5,531.4 L403.5,531.1 L404.5,530.9 L405.5,530.6 L406.5,530.3 L407.5,530.1 L408.5,529.8 L409.5,529.5 L410.5,529.3 L411.5,529.0 L412.5,528.7 L413.5,528.5 L414.5,528.2 L415.5,528.0 L416.5,527.7 L417.5,527.5 L418.5,527.2 L419.5,527.0 L420.5,526.7 L421.5,526.5 L422.5,526.2 L423.5,526.0 L424.5,525.8 L425.5,525.5 L426.5,525.3 L427.5,525.1 L428.5,524.9 L429.5,524.7 L430.5,524.5 L431.5,524.2 L432.5,524.0 L433.5,523.8 L434.5,523.6 L435.5,523.4 L436.5,523.2 L437.5,523.1 L438.5,522.9 L439.5,522.7 L440.5,522.5 L441.5,522.3 L442.5,522.2 L443.5,522.0 L444.5,521.8 L445.5,521.7 L446.5,521.5 L447.5,521.4 L448.5,521.2 L449.5,521.1 L450.5,520.9 L451.5,520.8 L452.5,520.7 L453.5,520.5 L454.5,520.4 L455.5,520.3 L456.5,520.1 L457.5,520.0 L458.5,519.9 L459.5,519.8 L460.5,519.7 L461.5,519.6 L462.5,519.5 L463.5,519.4 L464.5,519.3 L465.5,519.2 L466.5,519.1 L467.5,519.0 L468.5,518.9 L469.5,518.8 L470.5,518.8 L471.5,518.7 L472.5,518.6 L473.5,518.5 L474.5,518.5 L475.5,518.4 L476.5,518.3 L477.5,518.3 L478.5,518.2 L479.5,518.1 L480.5,518.1 L481.5,518.0 L482.5,518.0 L483.5,517.9 L484.5,517.9 L485.5,517.8 L486.5,517.8 L487.5,517.8 L488.5,517.7 L489.5,517.7 L490.5,517.6 L491.5,517.6 L492.5,517.6 L493.5,517.5 L494.5,517.5 L495.5,517.5 L496.5,517.4 L497.5,517.4 L498.5,517.4 L499.5,517.4 L500.5,517.3 L501.5,517.3 L502.5,517.3 L503.5,517.3 L504.5,517.3 L505.5,517.2 L506.5,517.2 L507.5,517.2 L508.5,517.2 L509.5,517.2 L510.5,517.1 L511.5,517.1 L512.5,517.1 L513.5,517.1 L514.5,517.1 L515.5,517.1 L516.5,517.1 L517.5,517.1 L518.5,517.1 L519.5,517.0 L520.5,517.0 L521.5,517.0 L522.5,517.0 L523.5,517.0 L524.5,517.0 L525.5,517.0 L526.5,517.0 L527.5,517.0 L528.5,517.0 L529.5,517.0 L530.5,517.0 L531.5,517.0 L532.5,516.9 L533.5,516.9 L534.5,516.9 L535.5,516.9 L536.5,516.9 L537.5,516.9 L538.5,516.9 L539.5,516.9 L540.5,516.9 L541.5,516.9 L542.5,516.9 L543.5,516.9 L544.5,516.9 L545.5,516.8 L546.5,516.8 L547.5,516.8 L548.5,516.8 L549.5,516.8 L550.5,516.8 L551.5,516.8 L552.5,516.8 L553.5,516.7 L554.5,516.7 L555.5,516.7 L556.5,516.7 L557.5,516.7 L558.5,516.6 L559.5,516.6 L560.5,516.6 L561.5,516.5 L562.5,516.5 L563.5,516.5 L564.5,516.4 L565.5,516.4 L566.5,516.4 L567.5,516.3 L568.5,516.3 L569.5,516.2 L570.5,516.1 L571.5,516.1 L572.5,516.0 L573.5,515.9 L574.5,515.9 L575.5,515.8 L576.5,515.7 L577.5,515.6 L578.5,515.5 L579.5,515.4 L580.5,515.3 L581.5,515.2 L582.5,515.1 L583.5,515.0 L584.5,514.8 L585.5,514.7 L586.5,514.6 L587.5,514.4 L588.5,514.2 L589.5,514.1 L590.5,513.9 L591.5,513.7 L592.5,513.5 L593.5,513.3 L594.5,513.1 L595.5,512.9 L596.5,512.7 L597.5,512.5 L598.5,512.2 L599.5,512.0 L600.5,511.7 L601.5,511.4 L602.5,511.2 L603.5,510.9 L604.5,510.6 L605.5,510.3 L606.5,510.0 L607.5,509.6 L608.5,509.3 L609.5,509.0 L610.5,508.6 L611.5,508.3 L612.5,507.9 L613.5,507.5 L614.5,507.1 L615.5,506.8 L616.5,506.4 L617.5,506.0 L618.5,505.6 L619.5,505.1 L620.5,504.7 L621.5,504.3 L622.5,503.9 L623.5,503.4 L624.5,503.0 L625.5,502.5 L626.5,502.1 L627.5,501.6 L628.5,501.2 L629.5,500.7 L630.5,500.3 L631.5,499.8 L632.5,499.4 L633.5,498.9 L634.5,498.4 L635.5,498.0 L636.5,497.5 L637.5,497.1 L638.5,496.6 L639.5,496.2 L640.5,495.7 L641.5,495.3 L642.5,494.8 L643.5,494.4 L644.5,494.0 L645.5,493.5 L646.5,493.1 L647.5,492.7 L648.5,492.3 L649.5,491.9 L650.5,491.5 L651.5,491.1 L652.5,490.7 L653.5,490.4 L654.5,490.0 L655.5,489.6 L656.5,489.3 L657.5,488.9 L658.5,488.6 L659.5,488.3 L660.5,488.0 L661.5,487.7 L662.5,487.4 L663.5,487.1 L664.5,486.8 L665.5,486.5 L666.5,486.3 L667.5,486.0 L668.5,485.8 L669.5,485.5 L670.5,485.3 L671.5,485.1 L672.5,484.9 L673.5,484.7 L674.5,484.5 L675.5,484.3 L676.5,484.2 L677.5,484.0 L678.5,483.8 L679.5,483.7 L680.5,483.5 L681.5,483.4 L682.5,483.3 L683.5,483.1 L684.5,483.0 L685.5,482.9 L686.5,482.8 L687.5,482.7 L688.5,482.6 L689.5,482.5 L690.5,482.4 L691.5,482.3 L692.5,482.3 L693.5,482.2 L694.5,482.1 L695.5,482.1 L696.5,482.0 L697.5,482.0 L698.5,481.9 L699.5,481.9 L700.5,481.8 L701.5,481.8 L702.5,481.7 L703.5,481.7 L704.5,481.7 L705.5,481.6 L706.5,481.6 L707.5,481.6 L708.5,481.5 L709.5,481.5 L710.5,481.5 L711.5,481.4 L712.5,481.4 L713.5,481.4 L714.5,481.4 L715.5,481.3 L716.5,481.3 L717.5,481.2 L718.5,481.2 L719.5,481.1 L720.5,481.1 L721.5,481.0 L722.5,480.9 L723.5,480.8 L724.5,480.7 L725.5,480.6 L726.5,480.5 L727.5,480.3 L728.5,480.1 L729.5,479.8 L729.75,479.7 L730,479.7 L730.25,479.6 L730.5,479.5 L730.75,479.4 L731,479.3 L731.25,479.2 L731.5,479.2 L731.75,479.1 L732,478.9 L732.25,478.8 L732.5,478.7 L732.75,478.6 L733,478.5 L733.25,478.3 L733.5,478.2 L733.75,478.1 L734,477.9 L734.25,477.8 L734.5,477.6 L734.75,477.4 L735,477.2 L735.25,477.1 L735.5,476.9 L735.75,476.6 L736,476.4 L736.25,476.2 L736.5,476.0 L736.75,475.7 L737,475.5 L737.25,475.2 L737.5,474.9 L737.75,474.6 L738,474.3 L738.25,474.0 L738.5,473.7 L738.75,473.3 L739,472.9 L739.25,472.6 L739.5,472.2 L739.75,471.7 L740,471.3 L740.25,470.8 L740.5,470.4 L740.75,469.9 L741,469.3 L741.25,468.8 L741.5,468.2 L741.75,467.6 L742,467.0 L742.25,466.3 L742.5,465.6 L742.75,464.9 L743,464.2 L743.25,463.4 L743.5,462.5 L743.75,461.7 L744,460.8 L744.25,459.8 L744.5,458.8 L744.75,457.8 L745,456.7 L745.25,455.6 L745.5,454.4 L745.75,453.2 L746,451.9 L746.25,450.5 L746.5,449.1 L746.75,447.7 L747,446.1 L747.25,444.5 L747.5,442.8 L747.75,441.0 L748,439.2 L748.25,437.3 L748.5,435.2 L748.75,433.1 L749,430.9 L749.25,428.6 L749.5,426.2 L749.75,423.6 L750,421.0 L750.25,418.2 L750.5,415.3 L750.75,412.3 L751,409.1 L751.25,405.8 L751.5,402.3 L751.75,398.7 L752,394.9 L752.25,390.9 L752.5,386.7 L752.75,382.4 L753,377.8 L753.25,373.1 L753.5,368.1 L753.75,362.9 L754,360 M241.5,549.5 L242.5,549.5 L243.5,549.5 L244.5,549.5 L245.5,549.5 L246.5,549.5 L247.5,549.5 L248.5,549.5 L249.5,549.5 L250.5,549.5 L251.5,549.5 L252.5,549.5 L253.5,549.5 L254.5,549.5 L255.5,549.5 L256.5,549.5 L257.5,549.5 L258.5,549.5 L259.5,549.5 L260.5,549.5 L261.5,549.5 L262.5,549.5 L263.5,549.5 L264.5,549.5 L265.5,549.5 L266.5,549.4 L267.5,549.4 L268.5,549.4 L269.5,549.4 L270.5,549.4 L271.5,549.4 L272.5,549.4 L273.5,549.4 L274.5,549.4 L275.5,549.4 L276.5,549.4 L277.5,549.4 L278.5,549.4 L279.5,549.4 L280.5,549.4 L281.5,549.3 L282.5,549.3 L283.5,549.3 L284.5,549.3 L285.5,549.3 L286.5,549.3 L287.5,549.3 L288.5,549.3 L289.5,549.2 L290.5,549.2 L291.5,549.2 L292.5,549.2 L293.5,549.2 L294.5,549.1 L295.5,549.1 L296.5,549.1 L297.5,549.1 L298.5,549.0 L299.5,549.0 L300.5,549.0 L301.5,549.0 L302.5,548.9 L303.5,548.9 L304.5,548.9 L305.5,548.8 L306.5,548.8 L307.5,548.7 L308.5,548.7 L309.5,548.7 L310.5,548.6 L311.5,548.6 L312.5,548.5 L313.5,548.5 L314.5,548.4 L315.5,548.4 L316.5,548.3 L317.5,548.3 L318.5,548.2 L319.5,548.1 L320.5,548.1 L321.5,548.0 L322.5,547.9 L323.5,547.9 L324.5,547.8 L325.5,547.7 L326.5,547.6 L327.5,547.5 L328.5,547.5 L329.5,547.4 L330.5,547.3 L331.5,547.2 L332.5,547.1 L333.5,547.0 L334.5,546.9 L335.5,546.8 L336.5,546.7 L337.5,546.5 L338.5,546.4 L339.5,546.3 L340.5,546.2 L341.5,546.1 L342.5,545.9 L343.5,545.8 L344.5,545.7 L345.5,545.5 L346.5,545.4 L347.5,545.2 L348.5,545.1 L349.5,544.9 L350.5,544.8 L351.5,544.6 L352.5,544.4 L353.5,544.3 L354.5,544.1 L355.5,543.9 L356.5,543.7 L357.5,543.6 L358.5,543.4 L359.5,543.2 L360.5,543.0 L361.5,542.8 L362.5,542.6 L363.5,542.4 L364.5,542.2 L365.5,542.0 L366.5,541.8 L367.5,541.5 L368.5,541.3 L369.5,541.1 L370.5,540.9 L371.5,540.6 L372.5,540.4 L373.5,540.2 L374.5,539.9 L375.5,539.7 L376.5,539.5 L377.5,539.2 L378.5,539.0 L379.5,538.7 L380.5,538.5 L381.5,538.2 L382.5,538.0 L383.5,537.7 L384.5,537.5 L385.5,537.2 L386.5,536.9 L387.5,536.7 L388.5,536.4 L389.5,536.1 L390.5,535.9 L391.5,535.6 L392.5,535.3 L393.5,535.1 L394.5,534.8 L395.5,534.5 L396.5,534.2 L397.5,534.0 L398.5,533.7 L399.5,533.4 L400.5,533.1 L401.5,532.9 L402.5,532.6 L403.5,532.3 L404.5,532.1 L405.5,531.8 L406.5,531.5 L407.5,531.2 L408.5,531.0 L409.5,530.7 L410.5,530.4 L411.5,530.2 L412.5,529.9 L413.5,529.6 L414.5,529.4 L415.5,529.1 L416.5,528.9 L417.5,528.6 L418.5,528.4 L419.5,528.1 L420.5,527.9 L421.5,527.6 L422.5,527.4 L423.5,527.1 L424.5,526.9 L425.5,526.6 L426.5,526.4 L427.5,526.2 L428.5,525.9 L429.5,525.7 L430.5,525.5 L431.5,525.3 L432.5,525.1 L433.5,524.8 L434.5,524.6 L435.5,524.4 L436.5,524.2 L437.5,524.0 L438.5,523.8 L439.5,523.6 L440.5,523.4 L441.5,523.3 L442.5,523.1 L443.5,522.9 L444.5,522.7 L445.5,522.5 L446.5,522.4 L447.5,522.2 L448.5,522.0 L449.5,521.9 L450.5,521.7 L451.5,521.6 L452.5,521.4 L453.5,521.3 L454.5,521.1 L455.5,521.0 L456.5,520.9 L457.5,520.7 L458.5,520.6 L459.5,520.5 L460.5,520.3 L461.5,520.2 L462.5,520.1 L463.5,520.0 L464.5,519.9 L465.5,519.8 L466.5,519.7 L467.5,519.6 L468.5,519.5 L469.5,519.4 L470.5,519.3 L471.5,519.2 L472.5,519.1 L473.5,519.0 L474.5,518.9 L475.5,518.9 L476.5,518.8 L477.5,518.7 L478.5,518.6 L479.5,518.6 L480.5,518.5 L481.5,518.4 L482.5,518.4 L483.5,518.3 L484.5,518.3 L485.5,518.2 L486.5,518.2 L487.5,518.1 L488.5,518.1 L489.5,518.0 L490.5,518.0 L491.5,517.9 L492.5,517.9 L493.5,517.8 L494.5,517.8 L495.5,517.8 L496.5,517.7 L497.5,517.7 L498.5,517.7 L499.5,517.6 L500.5,517.6 L501.5,517.6 L502.5,517.5 L503.5,517.5 L504.5,517.5 L505.5,517.5 L506.5,517.4 L507.5,517.4 L508.5,517.4 L509.5,517.4 L510.5,517.4 L511.5,517.3 L512.5,517.3 L513.5,517.3 L514.5,517.3 L515.5,517.3 L516.5,517.3 L517.5,517.2 L518.5,517.2 L519.5,517.2 L520.5,517.2 L521.5,517.2 L522.5,517.2 L523.5,517.2 L524.5,517.2 L525.5,517.2 L526.5,517.1 L527.5,517.1 L528.5,517.1 L529.5,517.1 L530.5,517.1 L531.5,517.1 L532.5,517.1 L533.5,517.1 L534.5,517.1 L535.5,517.1 L536.5,517.1 L537.5,517.1 L538.5,517.1 L539.5,517.1 L540.5,517.1 L541.5,517.0 L542.5,517.0 L543.5,517.0 L544.5,517.0 L545.5,517.0 L546.5,517.0 L547.5,517.0 L548.5,517.0 L549.5,517.0 L550.5,517.0 L551.5,517.0 L552.5,517.0 L553.5,517.0 L554.5,517.0 L555.5,516.9 L556.5,516.9 L557.5,516.9 L558.5,516.9 L559.5,516.9 L560.5,516.9 L561.5,516.9 L562.5,516.9 L563.5,516.8 L564.5,516.8 L565.5,516.8 L566.5,516.8 L567.5,516.8 L568.5,516.7 L569.5,516.7 L570.5,516.7 L571.5,516.6 L572.5,516.6 L573.5,516.6 L574.5,516.5 L575.5,516.5 L576.5,516.5 L577.5,516.4 L578.5,516.4 L579.5,516.3 L580.5,516.2 L581.5,516.2 L582.5,516.1 L583.5,516.0 L584.5,516.0 L585.5,515.9 L586.5,515.8 L587.5,515.7 L588.5,515.6 L589.5,515.5 L590.5,515.4 L591.5,515.3 L592.5,515.2 L593.5,515.1 L594.5,515.0 L595.5,514.8 L596.5,514.7 L597.5,514.5 L598.5,514.4 L599.5,514.2 L600.5,514.0 L601.5,513.9 L602.5,513.7 L603.5,513.5 L604.5,513.3 L605.5,513.1 L606.5,512.9 L607.5,512.6 L608.5,512.4 L609.5,512.1 L610.5,511.9 L611.5,511.6 L612.5,511.4 L613.5,511.1 L614.5,510.8 L615.5,510.5 L616.5,510.2 L617.5,509.9 L618.5,509.6 L619.5,509.2 L620.5,508.9 L621.5,508.6 L622.5,508.2 L623.5,507.8 L624.5,507.5 L625.5,507.1 L626.5,506.7 L627.5,506.3 L628.5,505.9 L629.5,505.5 L630.5,505.1 L631.5,504.7 L632.5,504.3 L633.5,503.9 L634.5,503.4 L635.5,503.0 L636.5,502.6 L637.5,502.1 L638.5,501.7 L639.5,501.2 L640.5,500.8 L641.5,500.3 L642.5,499.9 L643.5,499.4 L644.5,499.0 L645.5,498.5 L646.5,498.1 L647.5,497.6 L648.5,497.2 L649.5,496.8 L650.5,496.3 L651.5,495.9 L652.5,495.4 L653.5,495.0 L654.5,494.6 L655.5,494.2 L656.5,493.8 L657.5,493.3 L658.5,492.9 L659.5,492.5 L660.5,492.1 L661.5,491.8 L662.5,491.4 L663.5,491.0 L664.5,490.7 L665.5,490.3 L666.5,489.9 L667.5,489.6 L668.5,489.3 L669.5,488.9 L670.5,488.6 L671.5,488.3 L672.5,488.0 L673.5,487.7 L674.5,487.5 L675.5,487.2 L676.5,486.9 L677.5,486.7 L678.5,486.4 L679.5,486.2 L680.5,485.9 L681.5,485.7 L682.5,485.5 L683.5,485.3 L684.5,485.1 L685.5,484.9 L686.5,484.7 L687.5,484.6 L688.5,484.4 L689.5,484.2 L690.5,484.1 L691.5,484.0 L692.5,483.8 L693.5,483.7 L694.5,483.6 L695.5,483.4 L696.5,483.3 L697.5,483.2 L698.5,483.1 L699.5,483.0 L700.5,482.9 L701.5,482.9 L702.5,482.8 L703.5,482.7 L704.5,482.6 L705.5,482.5 L706.5,482.5 L707.5,482.4 L708.5,482.4 L709.5,482.3 L710.5,482.2 L711.5,482.2 L712.5,482.1 L713.5,482.1 L714.5,482.0 L715.5,482.0 L716.5,481.9 L717.5,481.9 L718.5,481.8 L719.5,481.7 L720.5,481.7 L721.5,481.6 L722.5,481.5 L723.5,481.4 L724.5,481.2 L725.5,481.1 L726.5,480.9 L727.5,480.7 L728.5,480.5 L729.5,480.3 L729.75,480.2 L730,480.1 L730.25,480.0 L730.5,479.9 L730.75,479.8 L731,479.8 L731.25,479.7 L731.5,479.6 L731.75,479.5 L732,479.3 L732.25,479.2 L732.5,479.1 L732.75,479.0 L733,478.9 L733.25,478.7 L733.5,478.6 L733.75,478.4 L734,478.3 L734.25,478.1 L734.5,477.9 L734.75,477.8 L735,477.6 L735.25,477.4 L735.5,477.2 L735.75,477.0 L736,476.7 L736.25,476.5 L736.5,476.3 L736.75,476.0 L737,475.8 L737.25,475.5 L737.5,475.2 L737.75,474.9 L738,474.6 L738.25,474.2 L738.5,473.9 L738.75,473.5 L739,473.2 L739.25,472.8 L739.5,472.3 L739.75,471.9 L740,471.5 L740.25,471.0 L740.5,470.5 L740.75,470.0 L741,469.4 L741.25,468.9 L741.5,468.3 L741.75,467.7 L742,467.0 L742.25,466.4 L742.5,465.6 L742.75,464.9 L743,464.1 L743.25,463.3 L743.5,462.5 L743.75,461.6 L744,460.7 L744.25,459.7 L744.5,458.7 L744.75,457.6 L745,456.5 L745.25,455.4 L745.5,454.2 L745.75,452.9 L746,451.6 L746.25,450.2 L746.5,448.7 L746.75,447.2 L747,445.6 L747.25,444.0 L747.5,442.3 L747.75,440.4 L748,438.6 L748.25,436.6 L748.5,434.5 L748.75,432.3 L749,430.1 L749.25,427.7 L749.5,425.2 L749.75,422.6 L750,419.9 L750.25,417.1 L750.5,414.1 L750.75,411.0 L751,407.7 L751.25,404.3 L751.5,400.8 L751.75,397.1 L752,393.2 L752.25,389.1 L752.5,384.8 L752.75,380.4 L753,375.7 L753.25,370.9 L753.5,365.8 L753.75,360.4 L754,360" fill="none" stroke="#ffff00" stroke-width="1" shape-rendering="crispEdges"/>
<filter id="crA" filterUnits="userSpaceOnUse" x="0" y="0" width="788" height="654"><feComponentTransfer><feFuncA type="discrete" tableValues="0 0 0 0 0 0 0 0 0 0 1 1 1 1 1 1 1 1 1 1"/></feComponentTransfer></filter>
<filter id="crB" filterUnits="userSpaceOnUse" x="0" y="0" width="788" height="654"><feComponentTransfer><feFuncA type="discrete" tableValues="0 0 0 0 0 0 0 0 0 0 1 1 1 1 1 1 1 1 1 1"/></feComponentTransfer></filter>
<g filter="url(#crA)"><text x="91.0" y="76" fill="#000" text-anchor="middle" style="font-size:14px;font-weight:normal;letter-spacing:0.35px;">Create new Model</text><text x="91.0" y="103" fill="#000" text-anchor="middle" style="font-size:14px;font-weight:normal;letter-spacing:0.35px;">Load existing Model</text><text x="91.0" y="130" fill="#000" text-anchor="middle" style="font-size:14px;font-weight:normal;letter-spacing:0.125px;">Simulation Parameters</text><text x="91.0" y="157" fill="#000" text-anchor="middle" style="font-size:14px;font-weight:normal;letter-spacing:0.2px;">Display all Settings</text><text x="91.0" y="184" fill="#000" text-anchor="middle" style="font-size:14px;font-weight:normal;letter-spacing:0.17px;">Start Simulation</text><text x="91.0" y="211" fill="#000" text-anchor="middle" style="font-size:14px;font-weight:normal;letter-spacing:0.39px;">Save Scan Files</text><text x="91.0" y="238" fill="#000" text-anchor="middle" style="font-size:14px;font-weight:normal;letter-spacing:0.1px;">Close Simulation</text><text x="91.0" y="298" fill="#000" text-anchor="middle" style="font-size:14px;font-weight:normal;letter-spacing:0.48px;">van Holde &#8211; Weischet</text><text x="91.0" y="325" fill="#000" text-anchor="middle" style="font-size:14px;font-weight:normal;letter-spacing:0.4px;">Second Moment</text><text x="91.0" y="352" fill="#000" text-anchor="middle" style="font-size:14px;font-weight:normal;letter-spacing:0.25px;">Time Derivative</text><text x="91.0" y="379" fill="#000" text-anchor="middle" style="font-size:14px;font-weight:normal;letter-spacing:0.25px;">Radial Derivative</text><text x="118.5" y="437" fill="#000" text-anchor="middle" style="font-size:13px;font-weight:normal;letter-spacing:0.05px;">Non&#8211;Interacting</text><text x="138.5" y="461" fill="#000" text-anchor="middle" style="font-size:12.5px;font-weight:normal;letter-spacing:0px;">2</text><text x="138.5" y="485" fill="#000" text-anchor="middle" style="font-size:12.5px;font-weight:normal;letter-spacing:0.1px;">60000</text><text x="138.5" y="509" fill="#000" text-anchor="middle" style="font-size:12.5px;font-weight:normal;letter-spacing:0px;">150</text><text x="138.5" y="533" fill="#000" text-anchor="middle" style="font-size:12.5px;font-weight:normal;letter-spacing:0px;">30</text><text x="138.5" y="557" fill="#000" text-anchor="middle" style="font-size:12.5px;font-weight:normal;letter-spacing:0.05px;">1.00e+01</text><text x="138.5" y="581" fill="#000" text-anchor="middle" style="font-size:12.5px;font-weight:normal;letter-spacing:0.15px;">1.00e&#8211;03</text><text x="91.0" y="612" fill="#000" text-anchor="middle" style="font-size:14px;font-weight:normal;letter-spacing:0.5px;">Help</text><text x="91.0" y="639" fill="#000" text-anchor="middle" style="font-size:14px;font-weight:normal;letter-spacing:0.25px;">Stop Calculation</text><text x="713.0" y="320" fill="#000" text-anchor="middle" style="font-size:14px;font-weight:normal;letter-spacing:0.15px;">Change Speed</text><text x="713.0" y="636" fill="#000" text-anchor="middle" style="font-size:14px;font-weight:normal;letter-spacing:0.2px;">dC/dt Window</text></g>
<g filter="url(#crB)"><text x="91" y="46" fill="#fff" text-anchor="middle" style="font-size:14px;font-weight:bold;letter-spacing:0.3px;">Simulation:</text><text x="91" y="268" fill="#fff" text-anchor="middle" style="font-size:14px;font-weight:bold;letter-spacing:0.5px;">Analysis Methods:</text><text x="91" y="409" fill="#fff" text-anchor="middle" style="font-size:14px;font-weight:bold;letter-spacing:0.55px;">Current Settings:</text><text x="15.5" y="437" fill="#fff" text-anchor="start" style="font-size:12px;font-weight:bold;letter-spacing:0.0px;">Model:</text><text x="15.5" y="461" fill="#fff" text-anchor="start" style="font-size:12px;font-weight:bold;letter-spacing:0.15px;">Components:</text><text x="15.5" y="485" fill="#fff" text-anchor="start" style="font-size:12px;font-weight:bold;letter-spacing:0.67px;">Speed (rpm):</text><text x="15.5" y="509" fill="#fff" text-anchor="start" style="font-size:12px;font-weight:bold;letter-spacing:0.47px;">Length (min):</text><text x="15.5" y="533" fill="#fff" text-anchor="start" style="font-size:12px;font-weight:bold;letter-spacing:0.55px;">Total Scans:</text><text x="15.5" y="557" fill="#fff" text-anchor="start" style="font-size:12px;font-weight:bold;letter-spacing:0.8px;">Delta&#8211;t (sec):</text><text x="15.5" y="581" fill="#fff" text-anchor="start" style="font-size:12px;font-weight:bold;letter-spacing:0.79px;">Delta&#8211;r (cm):</text><text x="193.3" y="319" fill="#fff" text-anchor="start" style="font-size:12px;font-weight:bold;letter-spacing:0.5px;">Elapsed Time (sec):</text><text x="446.6" y="319" fill="#fff" text-anchor="start" style="font-size:12px;font-weight:bold;letter-spacing:0.1px;">Current Component:</text><text x="197.5" y="635" fill="#fff" text-anchor="start" style="font-size:12px;font-weight:bold;letter-spacing:0.45px;">Scan #:</text><text x="344.5" y="635" fill="#fff" text-anchor="start" style="font-size:12px;font-weight:bold;letter-spacing:0.0px;">Completed:</text><text x="504.5" y="47" fill="#000" text-anchor="middle" style="font-size:14px;font-weight:bold;letter-spacing:0.3px;">Simulation Window</text><text x="504" y="280" fill="#000" text-anchor="middle" style="font-size:12px;font-weight:bold;letter-spacing:0.6px;">Radius (cm)</text><text x="0" y="0" fill="#000" text-anchor="middle" transform="translate(199.5,147.0) rotate(-90)" style="font-size:12px;font-weight:bold;letter-spacing:0.25px">Relative Concentration</text><text x="506" y="361" fill="#000" text-anchor="middle" style="font-size:14px;font-weight:bold;letter-spacing:0.65px;">Saved Scans:</text><text x="504" y="596" fill="#000" text-anchor="middle" style="font-size:12px;font-weight:bold;letter-spacing:0.6px;">Radius (cm)</text><text x="0" y="0" fill="#000" text-anchor="middle" transform="translate(199.5,462.0) rotate(-90)" style="font-size:12px;font-weight:bold;letter-spacing:0.25px">Relative Concentration</text></g>
<filter id="crC" filterUnits="userSpaceOnUse" x="0" y="0" width="788" height="30"><feComponentTransfer><feFuncA type="discrete" tableValues="0 0 0 0 0 0 0 0 0 0 0 1 1 1 1 1 1 1 1 1"/></feComponentTransfer></filter>
<g filter="url(#crC)"><text x="27" y="14" fill="#fff" text-anchor="start" style="font-size:12px;font-weight:bold;letter-spacing:0.17px;">Finite Element Simulator for Sedimentation Velocity and Approach to Equilibrium Experiments</text></g>
<filter id="crD" filterUnits="userSpaceOnUse" x="0" y="0" width="788" height="654"><feComponentTransfer><feFuncA type="discrete" tableValues="0 0 0 0 0 0 0 0 0 1 1 1 1 1 1 1 1 1 1 1"/></feComponentTransfer></filter>
<g filter="url(#crD)"><text x="526" y="635" fill="#fff" text-anchor="middle" style="font-size:12px;font-weight:normal;letter-spacing:0.4px;">100%</text><text x="220" y="64" fill="#000" text-anchor="end" style="font-size:11px;font-weight:normal;">0.8</text><text x="220" y="86" fill="#000" text-anchor="end" style="font-size:11px;font-weight:normal;">0.7</text><text x="220" y="107" fill="#000" text-anchor="end" style="font-size:11px;font-weight:normal;">0.6</text><text x="220" y="129" fill="#000" text-anchor="end" style="font-size:11px;font-weight:normal;">0.5</text><text x="220" y="151" fill="#000" text-anchor="end" style="font-size:11px;font-weight:normal;">0.4</text><text x="220" y="172" fill="#000" text-anchor="end" style="font-size:11px;font-weight:normal;">0.3</text><text x="220" y="194" fill="#000" text-anchor="end" style="font-size:11px;font-weight:normal;">0.2</text><text x="220" y="215" fill="#000" text-anchor="end" style="font-size:11px;font-weight:normal;">0.1</text><text x="220" y="237" fill="#000" text-anchor="end" style="font-size:11px;font-weight:normal;">&#8211;0</text><text x="241.5" y="264" fill="#000" text-anchor="middle" style="font-size:11px;font-weight:normal;">5.8</text><text x="316.5" y="264" fill="#000" text-anchor="middle" style="font-size:11px;font-weight:normal;">6</text><text x="391.5" y="264" fill="#000" text-anchor="middle" style="font-size:11px;font-weight:normal;">6.2</text><text x="466.5" y="264" fill="#000" text-anchor="middle" style="font-size:11px;font-weight:normal;">6.4</text><text x="540.5" y="264" fill="#000" text-anchor="middle" style="font-size:11px;font-weight:normal;">6.6</text><text x="615.5" y="264" fill="#000" text-anchor="middle" style="font-size:11px;font-weight:normal;">6.8</text><text x="690.5" y="264" fill="#000" text-anchor="middle" style="font-size:11px;font-weight:normal;">7</text><text x="765.5" y="264" fill="#000" text-anchor="middle" style="font-size:11px;font-weight:normal;">7.2</text><text x="220" y="553" fill="#000" text-anchor="end" style="font-size:11px;font-weight:normal;">&#8211;0</text><text x="220" y="504" fill="#000" text-anchor="end" style="font-size:11px;font-weight:normal;">0.5</text><text x="220" y="456" fill="#000" text-anchor="end" style="font-size:11px;font-weight:normal;">1</text><text x="220" y="407" fill="#000" text-anchor="end" style="font-size:11px;font-weight:normal;">1.5</text><text x="241.5" y="580" fill="#000" text-anchor="middle" style="font-size:11px;font-weight:normal;">5.8</text><text x="316.5" y="580" fill="#000" text-anchor="middle" style="font-size:11px;font-weight:normal;">6</text><text x="391.5" y="580" fill="#000" text-anchor="middle" style="font-size:11px;font-weight:normal;">6.2</text><text x="466.5" y="580" fill="#000" text-anchor="middle" style="font-size:11px;font-weight:normal;">6.4</text><text x="540.5" y="580" fill="#000" text-anchor="middle" style="font-size:11px;font-weight:normal;">6.6</text><text x="615.5" y="580" fill="#000" text-anchor="middle" style="font-size:11px;font-weight:normal;">6.8</text><text x="690.5" y="580" fill="#000" text-anchor="middle" style="font-size:11px;font-weight:normal;">7</text><text x="765.5" y="580" fill="#000" text-anchor="middle" style="font-size:11px;font-weight:normal;">7.2</text></g></svg>
</body></html>
